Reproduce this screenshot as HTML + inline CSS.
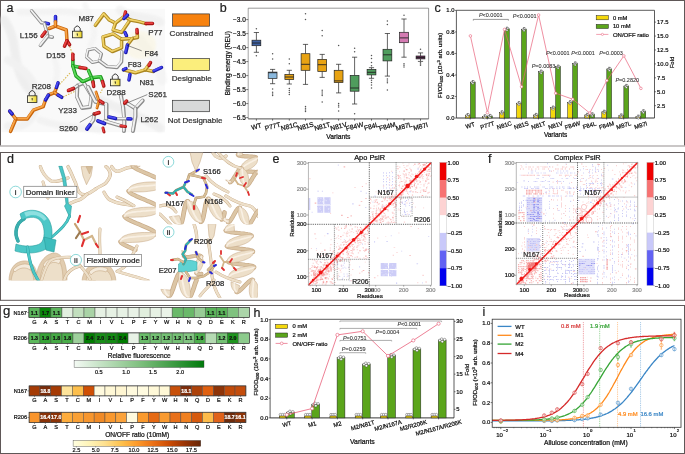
<!DOCTYPE html>
<html><head><meta charset="utf-8"><style>
html,body{margin:0;padding:0;background:#fff;}
body{width:685px;height:454px;overflow:hidden;}
svg{display:block;font-family:"Liberation Sans",sans-serif;will-change:transform;}
</style></head><body>
<svg width="685" height="454" viewBox="0 0 685 454">
<rect x="0.00" y="0.00" width="685.00" height="454.00" fill="#fff" stroke="none" stroke-width="0.6" />
<line x1="0.50" y1="0.00" x2="0.50" y2="146.00" stroke="#5e5757" stroke-width="1" />
<line x1="684.50" y1="0.00" x2="684.50" y2="146.00" stroke="#5e5757" stroke-width="1" />
<line x1="0.00" y1="0.50" x2="685.00" y2="0.50" stroke="#5e5757" stroke-width="1" />
<line x1="0.00" y1="146.00" x2="685.00" y2="146.00" stroke="#b9b4b4" stroke-width="1.4" />
<line x1="0.00" y1="152.50" x2="685.00" y2="152.50" stroke="#5e5757" stroke-width="1" />
<line x1="0.50" y1="152.00" x2="0.50" y2="300.50" stroke="#5e5757" stroke-width="1" />
<line x1="684.50" y1="152.00" x2="684.50" y2="300.50" stroke="#5e5757" stroke-width="1" />
<line x1="0.00" y1="300.30" x2="685.00" y2="300.30" stroke="#5e5757" stroke-width="1" />
<line x1="0.00" y1="305.50" x2="685.00" y2="305.50" stroke="#5e5757" stroke-width="1" />
<line x1="0.50" y1="305.00" x2="0.50" y2="454.00" stroke="#5e5757" stroke-width="1" />
<line x1="684.50" y1="305.00" x2="684.50" y2="454.00" stroke="#5e5757" stroke-width="1" />
<line x1="0.00" y1="453.50" x2="685.00" y2="453.50" stroke="#5e5757" stroke-width="1" />
<defs>
<linearGradient id="lockg" x1="0" x2="1" y1="0" y2="0"><stop offset="0" stop-color="#fffbe0"/><stop offset="0.5" stop-color="#f6ea80"/><stop offset="1" stop-color="#ecd424"/></linearGradient>
<filter id="blur1" x="-20%" y="-20%" width="140%" height="140%"><feGaussianBlur stdDeviation="1.2"/></filter>
</defs>
<rect x="1.5" y="8.8" width="163.5" height="123.4" fill="#f9f9f9"/>
<g opacity="0.55" fill="none" stroke-linecap="round" filter="url(#blur1)">
<path d="M4,20 C20,40 10,70 30,90" stroke="#e6e6e6" stroke-width="9"/>
<path d="M8,60 C25,70 40,80 35,110 C30,125 20,128 8,126" stroke="#ebebeb" stroke-width="8"/>
<path d="M20,12 C40,14 60,8 80,14" stroke="#efefef" stroke-width="7"/>
<path d="M120,10 C130,20 150,15 160,22" stroke="#ececec" stroke-width="9"/>
<path d="M140,40 C150,55 160,60 162,80" stroke="#f0f0f0" stroke-width="10"/>
<path d="M100,100 C120,110 140,115 160,128" stroke="#e8e8e8" stroke-width="9"/>
<path d="M40,120 C60,128 80,126 100,130" stroke="#ededed" stroke-width="7"/>
<path d="M85,5 C90,20 100,30 90,45" stroke="#f1f1f1" stroke-width="6"/>
<path d="M55,60 C60,75 55,90 45,100" stroke="#f0f0f0" stroke-width="6"/>
</g>
<ellipse cx="140" cy="45" rx="16" ry="14" fill="#fbf3cf" opacity="0.35" filter="url(#blur1)"/>
<line x1="69.80" y1="46.50" x2="72.60" y2="54.50" stroke="#d8b850" stroke-width="1.1" stroke-dasharray="1.5,1.3"/>
<line x1="59.50" y1="84.50" x2="70.50" y2="72.50" stroke="#d8b850" stroke-width="1.1" stroke-dasharray="1.5,1.3"/>
<line x1="63.00" y1="97.00" x2="74.50" y2="91.50" stroke="#d8b850" stroke-width="1.1" stroke-dasharray="1.5,1.3"/>
<line x1="103.50" y1="87.00" x2="100.50" y2="93.00" stroke="#d8b850" stroke-width="1.1" stroke-dasharray="1.5,1.3"/>
<polyline points="88.0,50.0 95.0,48.5 101.5,54.0 99.5,61.0 92.5,62.5 86.5,57.0 88.0,50.0" fill="none" stroke="#8c8c8c" stroke-width="3.1" stroke-linecap="round" stroke-linejoin="round"/>
<polyline points="88.0,50.0 95.0,48.5 101.5,54.0 99.5,61.0 92.5,62.5 86.5,57.0 88.0,50.0" fill="none" stroke="#f2f2f2" stroke-width="1.55" stroke-linecap="round" stroke-linejoin="round" transform="translate(-0.35,-0.35)"/>
<polyline points="99.5,61.0 107.0,66.5 117.0,67.5 121.5,62.0 122.0,52.0" fill="none" stroke="#8c8c8c" stroke-width="3.5" stroke-linecap="round" stroke-linejoin="round"/>
<polyline points="99.5,61.0 107.0,66.5 117.0,67.5 121.5,62.0 122.0,52.0" fill="none" stroke="#f2f2f2" stroke-width="1.75" stroke-linecap="round" stroke-linejoin="round" transform="translate(-0.35,-0.35)"/>
<polyline points="77.5,85.5 84.0,83.0 91.5,95.5 90.0,107.0 82.0,108.0 77.0,97.0 77.5,85.5" fill="none" stroke="#8c8c8c" stroke-width="3.8" stroke-linecap="round" stroke-linejoin="round"/>
<polyline points="77.5,85.5 84.0,83.0 91.5,95.5 90.0,107.0 82.0,108.0 77.0,97.0 77.5,85.5" fill="none" stroke="#f2f2f2" stroke-width="1.90" stroke-linecap="round" stroke-linejoin="round" transform="translate(-0.35,-0.35)"/>
<polyline points="77.5,86.0 73.5,88.5" fill="none" stroke="#8c8c8c" stroke-width="3.6" stroke-linecap="round" stroke-linejoin="round"/>
<polyline points="77.5,86.0 73.5,88.5" fill="none" stroke="#f2f2f2" stroke-width="1.80" stroke-linecap="round" stroke-linejoin="round" transform="translate(-0.35,-0.35)"/>
<polyline points="73.5,88.5 68.5,90.5" fill="none" stroke="#a81414" stroke-width="3.6" stroke-linecap="round" stroke-linejoin="round"/>
<polyline points="73.5,88.5 68.5,90.5" fill="none" stroke="#e84040" stroke-width="1.80" stroke-linecap="round" stroke-linejoin="round" transform="translate(-0.35,-0.35)"/>
<polyline points="88.2,87.3 95.5,101.8 106.4,104.2 106.4,118.8" fill="none" stroke="#8c8c8c" stroke-width="4.2" stroke-linecap="round" stroke-linejoin="round"/>
<polyline points="88.2,87.3 95.5,101.8 106.4,104.2 106.4,118.8" fill="none" stroke="#f2f2f2" stroke-width="2.10" stroke-linecap="round" stroke-linejoin="round" transform="translate(-0.35,-0.35)"/>
<polyline points="121.0,95.8 123.3,107.9 124.5,122.4 124.0,131.0" fill="none" stroke="#8c8c8c" stroke-width="4.0" stroke-linecap="round" stroke-linejoin="round"/>
<polyline points="121.0,95.8 123.3,107.9 124.5,122.4 124.0,131.0" fill="none" stroke="#f2f2f2" stroke-width="2.00" stroke-linecap="round" stroke-linejoin="round" transform="translate(-0.35,-0.35)"/>
<polyline points="125.8,102.4 135.5,108.5 142.7,100.6" fill="none" stroke="#8c8c8c" stroke-width="4.0" stroke-linecap="round" stroke-linejoin="round"/>
<polyline points="125.8,102.4 135.5,108.5 142.7,100.6" fill="none" stroke="#f2f2f2" stroke-width="2.00" stroke-linecap="round" stroke-linejoin="round" transform="translate(-0.35,-0.35)"/>
<polyline points="135.5,108.5 135.5,116.4 133.0,131.0" fill="none" stroke="#8c8c8c" stroke-width="4.0" stroke-linecap="round" stroke-linejoin="round"/>
<polyline points="135.5,108.5 135.5,116.4 133.0,131.0" fill="none" stroke="#f2f2f2" stroke-width="2.00" stroke-linecap="round" stroke-linejoin="round" transform="translate(-0.35,-0.35)"/>
<polyline points="94.2,114.0 93.6,120.0 90.0,125.0" fill="none" stroke="#8c8c8c" stroke-width="3.8" stroke-linecap="round" stroke-linejoin="round"/>
<polyline points="94.2,114.0 93.6,120.0 90.0,125.0" fill="none" stroke="#f2f2f2" stroke-width="1.90" stroke-linecap="round" stroke-linejoin="round" transform="translate(-0.35,-0.35)"/>
<polyline points="105.0,121.2 121.0,126.0" fill="none" stroke="#8c8c8c" stroke-width="3.8" stroke-linecap="round" stroke-linejoin="round"/>
<polyline points="105.0,121.2 121.0,126.0" fill="none" stroke="#f2f2f2" stroke-width="1.90" stroke-linecap="round" stroke-linejoin="round" transform="translate(-0.35,-0.35)"/>
<polyline points="116.0,118.8 128.0,118.8" fill="none" stroke="#8c8c8c" stroke-width="3.6" stroke-linecap="round" stroke-linejoin="round"/>
<polyline points="116.0,118.8 128.0,118.8" fill="none" stroke="#f2f2f2" stroke-width="1.80" stroke-linecap="round" stroke-linejoin="round" transform="translate(-0.35,-0.35)"/>
<polyline points="94.5,114.0 99.0,112.7" fill="none" stroke="#a81414" stroke-width="3.8" stroke-linecap="round" stroke-linejoin="round"/>
<polyline points="94.5,114.0 99.0,112.7" fill="none" stroke="#e84040" stroke-width="1.90" stroke-linecap="round" stroke-linejoin="round" transform="translate(-0.35,-0.35)"/>
<polyline points="90.0,125.0 87.0,129.0" fill="none" stroke="#1a1ab0" stroke-width="3.8" stroke-linecap="round" stroke-linejoin="round"/>
<polyline points="90.0,125.0 87.0,129.0" fill="none" stroke="#4848f4" stroke-width="1.90" stroke-linecap="round" stroke-linejoin="round" transform="translate(-0.35,-0.35)"/>
<polyline points="98.0,121.0 104.5,123.5" fill="none" stroke="#1a1ab0" stroke-width="3.8" stroke-linecap="round" stroke-linejoin="round"/>
<polyline points="98.0,121.0 104.5,123.5" fill="none" stroke="#4848f4" stroke-width="1.90" stroke-linecap="round" stroke-linejoin="round" transform="translate(-0.35,-0.35)"/>
<polyline points="109.0,117.0 115.5,118.5" fill="none" stroke="#1a1ab0" stroke-width="3.6" stroke-linecap="round" stroke-linejoin="round"/>
<polyline points="109.0,117.0 115.5,118.5" fill="none" stroke="#4848f4" stroke-width="1.80" stroke-linecap="round" stroke-linejoin="round" transform="translate(-0.35,-0.35)"/>
<polyline points="128.0,118.8 131.0,119.0" fill="none" stroke="#1a1ab0" stroke-width="3.6" stroke-linecap="round" stroke-linejoin="round"/>
<polyline points="128.0,118.8 131.0,119.0" fill="none" stroke="#4848f4" stroke-width="1.80" stroke-linecap="round" stroke-linejoin="round" transform="translate(-0.35,-0.35)"/>
<polyline points="121.0,126.0 125.5,126.5" fill="none" stroke="#a81414" stroke-width="3.2" stroke-linecap="round" stroke-linejoin="round"/>
<polyline points="121.0,126.0 125.5,126.5" fill="none" stroke="#e84040" stroke-width="1.60" stroke-linecap="round" stroke-linejoin="round" transform="translate(-0.35,-0.35)"/>
<polyline points="124.8,103.0 126.5,101.2" fill="none" stroke="#a81414" stroke-width="3.8" stroke-linecap="round" stroke-linejoin="round"/>
<polyline points="124.8,103.0 126.5,101.2" fill="none" stroke="#e84040" stroke-width="1.90" stroke-linecap="round" stroke-linejoin="round" transform="translate(-0.35,-0.35)"/>
<polyline points="103.0,128.0 104.0,132.0" fill="none" stroke="#a81414" stroke-width="3.0" stroke-linecap="round" stroke-linejoin="round"/>
<polyline points="103.0,128.0 104.0,132.0" fill="none" stroke="#e84040" stroke-width="1.50" stroke-linecap="round" stroke-linejoin="round" transform="translate(-0.35,-0.35)"/>
<polyline points="96.0,92.0 99.0,101.0 97.0,108.0" fill="none" stroke="#c8640a" stroke-width="2.8" stroke-linecap="round" stroke-linejoin="round"/>
<polyline points="96.0,92.0 99.0,101.0 97.0,108.0" fill="none" stroke="#f8a446" stroke-width="1.40" stroke-linecap="round" stroke-linejoin="round" transform="translate(-0.35,-0.35)"/>
<polyline points="100.0,101.0 103.0,103.0" fill="none" stroke="#a81414" stroke-width="3.5" stroke-linecap="round" stroke-linejoin="round"/>
<polyline points="100.0,101.0 103.0,103.0" fill="none" stroke="#e84040" stroke-width="1.75" stroke-linecap="round" stroke-linejoin="round" transform="translate(-0.35,-0.35)"/>
<polyline points="31.6,10.8 41.6,22.8 45.5,23.2" fill="none" stroke="#8c8c8c" stroke-width="3.5" stroke-linecap="round" stroke-linejoin="round"/>
<polyline points="31.6,10.8 41.6,22.8 45.5,23.2" fill="none" stroke="#f2f2f2" stroke-width="1.75" stroke-linecap="round" stroke-linejoin="round" transform="translate(-0.35,-0.35)"/>
<polyline points="45.5,23.2 48.5,23.8" fill="none" stroke="#1a1ab0" stroke-width="3.5" stroke-linecap="round" stroke-linejoin="round"/>
<polyline points="45.5,23.2 48.5,23.8" fill="none" stroke="#4848f4" stroke-width="1.75" stroke-linecap="round" stroke-linejoin="round" transform="translate(-0.35,-0.35)"/>
<polyline points="44.5,24.0 46.5,30.5 47.8,36.2 52.4,37.2" fill="none" stroke="#8c8c8c" stroke-width="3.5" stroke-linecap="round" stroke-linejoin="round"/>
<polyline points="44.5,24.0 46.5,30.5 47.8,36.2 52.4,37.2" fill="none" stroke="#f2f2f2" stroke-width="1.75" stroke-linecap="round" stroke-linejoin="round" transform="translate(-0.35,-0.35)"/>
<polyline points="47.8,36.2 40.4,45.5" fill="none" stroke="#8c8c8c" stroke-width="3.5" stroke-linecap="round" stroke-linejoin="round"/>
<polyline points="47.8,36.2 40.4,45.5" fill="none" stroke="#f2f2f2" stroke-width="1.75" stroke-linecap="round" stroke-linejoin="round" transform="translate(-0.35,-0.35)"/>
<polyline points="45.2,32.0 42.0,36.3" fill="none" stroke="#a81414" stroke-width="3.5" stroke-linecap="round" stroke-linejoin="round"/>
<polyline points="45.2,32.0 42.0,36.3" fill="none" stroke="#e84040" stroke-width="1.75" stroke-linecap="round" stroke-linejoin="round" transform="translate(-0.35,-0.35)"/>
<polyline points="49.3,28.5 55.5,26.2 66.3,30.0 67.0,40.8" fill="none" stroke="#c8640a" stroke-width="3.5" stroke-linecap="round" stroke-linejoin="round"/>
<polyline points="49.3,28.5 55.5,26.2 66.3,30.0 67.0,40.8" fill="none" stroke="#f8a446" stroke-width="1.75" stroke-linecap="round" stroke-linejoin="round" transform="translate(-0.35,-0.35)"/>
<polyline points="55.5,21.8 55.5,16.5" fill="none" stroke="#1a1ab0" stroke-width="3.5" stroke-linecap="round" stroke-linejoin="round"/>
<polyline points="55.5,21.8 55.5,16.5" fill="none" stroke="#4848f4" stroke-width="1.75" stroke-linecap="round" stroke-linejoin="round" transform="translate(-0.35,-0.35)"/>
<polyline points="55.5,26.2 55.5,21.8" fill="none" stroke="#c8640a" stroke-width="3.5" stroke-linecap="round" stroke-linejoin="round"/>
<polyline points="55.5,26.2 55.5,21.8" fill="none" stroke="#f8a446" stroke-width="1.75" stroke-linecap="round" stroke-linejoin="round" transform="translate(-0.35,-0.35)"/>
<polyline points="67.0,40.8 69.6,44.8" fill="none" stroke="#a81414" stroke-width="3.5" stroke-linecap="round" stroke-linejoin="round"/>
<polyline points="67.0,40.8 69.6,44.8" fill="none" stroke="#e84040" stroke-width="1.75" stroke-linecap="round" stroke-linejoin="round" transform="translate(-0.35,-0.35)"/>
<polyline points="67.0,40.8 64.5,46.2" fill="none" stroke="#a81414" stroke-width="3.5" stroke-linecap="round" stroke-linejoin="round"/>
<polyline points="67.0,40.8 64.5,46.2" fill="none" stroke="#e84040" stroke-width="1.75" stroke-linecap="round" stroke-linejoin="round" transform="translate(-0.35,-0.35)"/>
<polyline points="10.6,131.4 15.9,119.0 27.3,119.0 33.5,110.2 43.2,106.7 45.5,100.0" fill="none" stroke="#c8640a" stroke-width="3.5" stroke-linecap="round" stroke-linejoin="round"/>
<polyline points="10.6,131.4 15.9,119.0 27.3,119.0 33.5,110.2 43.2,106.7 45.5,100.0" fill="none" stroke="#f8a446" stroke-width="1.75" stroke-linecap="round" stroke-linejoin="round" transform="translate(-0.35,-0.35)"/>
<polyline points="48.5,95.0 54.6,92.6 56.5,87.5" fill="none" stroke="#c8640a" stroke-width="3.5" stroke-linecap="round" stroke-linejoin="round"/>
<polyline points="48.5,95.0 54.6,92.6 56.5,87.5" fill="none" stroke="#f8a446" stroke-width="1.75" stroke-linecap="round" stroke-linejoin="round" transform="translate(-0.35,-0.35)"/>
<polyline points="15.9,119.0 9.7,111.1" fill="none" stroke="#c8640a" stroke-width="3.5" stroke-linecap="round" stroke-linejoin="round"/>
<polyline points="15.9,119.0 9.7,111.1" fill="none" stroke="#f8a446" stroke-width="1.75" stroke-linecap="round" stroke-linejoin="round" transform="translate(-0.35,-0.35)"/>
<polyline points="12.2,114.0 9.7,111.1" fill="none" stroke="#1a1ab0" stroke-width="3.5" stroke-linecap="round" stroke-linejoin="round"/>
<polyline points="12.2,114.0 9.7,111.1" fill="none" stroke="#4848f4" stroke-width="1.75" stroke-linecap="round" stroke-linejoin="round" transform="translate(-0.35,-0.35)"/>
<polyline points="45.5,100.0 48.5,95.0" fill="none" stroke="#1a1ab0" stroke-width="3.5" stroke-linecap="round" stroke-linejoin="round"/>
<polyline points="45.5,100.0 48.5,95.0" fill="none" stroke="#4848f4" stroke-width="1.75" stroke-linecap="round" stroke-linejoin="round" transform="translate(-0.35,-0.35)"/>
<polyline points="56.5,87.5 58.1,82.9" fill="none" stroke="#1a1ab0" stroke-width="3.5" stroke-linecap="round" stroke-linejoin="round"/>
<polyline points="56.5,87.5 58.1,82.9" fill="none" stroke="#4848f4" stroke-width="1.75" stroke-linecap="round" stroke-linejoin="round" transform="translate(-0.35,-0.35)"/>
<polyline points="54.6,92.6 58.0,95.0" fill="none" stroke="#c8640a" stroke-width="3.5" stroke-linecap="round" stroke-linejoin="round"/>
<polyline points="54.6,92.6 58.0,95.0" fill="none" stroke="#f8a446" stroke-width="1.75" stroke-linecap="round" stroke-linejoin="round" transform="translate(-0.35,-0.35)"/>
<polyline points="58.0,95.0 61.7,97.3" fill="none" stroke="#1a1ab0" stroke-width="3.5" stroke-linecap="round" stroke-linejoin="round"/>
<polyline points="58.0,95.0 61.7,97.3" fill="none" stroke="#4848f4" stroke-width="1.75" stroke-linecap="round" stroke-linejoin="round" transform="translate(-0.35,-0.35)"/>
<polyline points="95.4,25.4 103.9,13.9 109.3,20.0 115.5,23.1" fill="none" stroke="#aa8620" stroke-width="3.5" stroke-linecap="round" stroke-linejoin="round"/>
<polyline points="95.4,25.4 103.9,13.9 109.3,20.0 115.5,23.1" fill="none" stroke="#f0d166" stroke-width="1.75" stroke-linecap="round" stroke-linejoin="round" transform="translate(-0.35,-0.35)"/>
<polyline points="115.5,23.1 113.2,30.0 121.6,32.4 130.1,20.0 124.7,16.2 115.5,23.1" fill="none" stroke="#aa8620" stroke-width="3.5" stroke-linecap="round" stroke-linejoin="round"/>
<polyline points="115.5,23.1 113.2,30.0 121.6,32.4 130.1,20.0 124.7,16.2 115.5,23.1" fill="none" stroke="#f0d166" stroke-width="1.75" stroke-linecap="round" stroke-linejoin="round" transform="translate(-0.35,-0.35)"/>
<polyline points="130.1,20.0 138.6,21.6 146.0,23.6" fill="none" stroke="#aa8620" stroke-width="3.5" stroke-linecap="round" stroke-linejoin="round"/>
<polyline points="130.1,20.0 138.6,21.6 146.0,23.6" fill="none" stroke="#f0d166" stroke-width="1.75" stroke-linecap="round" stroke-linejoin="round" transform="translate(-0.35,-0.35)"/>
<polyline points="146.0,23.6 152.5,23.5" fill="none" stroke="#a81414" stroke-width="3.5" stroke-linecap="round" stroke-linejoin="round"/>
<polyline points="146.0,23.6 152.5,23.5" fill="none" stroke="#e84040" stroke-width="1.75" stroke-linecap="round" stroke-linejoin="round" transform="translate(-0.35,-0.35)"/>
<polyline points="124.7,16.2 125.5,12.0" fill="none" stroke="#a81414" stroke-width="3.5" stroke-linecap="round" stroke-linejoin="round"/>
<polyline points="124.7,16.2 125.5,12.0" fill="none" stroke="#e84040" stroke-width="1.75" stroke-linecap="round" stroke-linejoin="round" transform="translate(-0.35,-0.35)"/>
<polyline points="124.0,18.5 127.5,15.2" fill="none" stroke="#1a1ab0" stroke-width="3.5" stroke-linecap="round" stroke-linejoin="round"/>
<polyline points="124.0,18.5 127.5,15.2" fill="none" stroke="#4848f4" stroke-width="1.75" stroke-linecap="round" stroke-linejoin="round" transform="translate(-0.35,-0.35)"/>
<polyline points="125.0,32.5 126.5,35.8" fill="none" stroke="#1a1ab0" stroke-width="3.5" stroke-linecap="round" stroke-linejoin="round"/>
<polyline points="125.0,32.5 126.5,35.8" fill="none" stroke="#4848f4" stroke-width="1.75" stroke-linecap="round" stroke-linejoin="round" transform="translate(-0.35,-0.35)"/>
<polyline points="103.1,37.0 113.2,33.9 121.6,39.3 121.6,47.8 112.4,51.6 103.9,46.2 103.1,37.0" fill="none" stroke="#aa8620" stroke-width="3.5" stroke-linecap="round" stroke-linejoin="round"/>
<polyline points="103.1,37.0 113.2,33.9 121.6,39.3 121.6,47.8 112.4,51.6 103.9,46.2 103.1,37.0" fill="none" stroke="#f0d166" stroke-width="1.75" stroke-linecap="round" stroke-linejoin="round" transform="translate(-0.35,-0.35)"/>
<polyline points="121.6,39.3 132.4,38.5 137.5,37.5 137.2,33.0" fill="none" stroke="#aa8620" stroke-width="3.5" stroke-linecap="round" stroke-linejoin="round"/>
<polyline points="121.6,39.3 132.4,38.5 137.5,37.5 137.2,33.0" fill="none" stroke="#f0d166" stroke-width="1.75" stroke-linecap="round" stroke-linejoin="round" transform="translate(-0.35,-0.35)"/>
<polyline points="137.2,33.0 137.0,29.5" fill="none" stroke="#a81414" stroke-width="3.5" stroke-linecap="round" stroke-linejoin="round"/>
<polyline points="137.2,33.0 137.0,29.5" fill="none" stroke="#e84040" stroke-width="1.75" stroke-linecap="round" stroke-linejoin="round" transform="translate(-0.35,-0.35)"/>
<polyline points="132.4,38.5 127.5,45.0" fill="none" stroke="#aa8620" stroke-width="3.5" stroke-linecap="round" stroke-linejoin="round"/>
<polyline points="132.4,38.5 127.5,45.0" fill="none" stroke="#f0d166" stroke-width="1.75" stroke-linecap="round" stroke-linejoin="round" transform="translate(-0.35,-0.35)"/>
<polyline points="127.5,45.0 125.8,52.5" fill="none" stroke="#1a1ab0" stroke-width="3.5" stroke-linecap="round" stroke-linejoin="round"/>
<polyline points="127.5,45.0 125.8,52.5" fill="none" stroke="#4848f4" stroke-width="1.75" stroke-linecap="round" stroke-linejoin="round" transform="translate(-0.35,-0.35)"/>
<polyline points="123.5,69.8 135.4,72.8 145.3,69.8 153.5,71.5" fill="none" stroke="#aa8620" stroke-width="3.5" stroke-linecap="round" stroke-linejoin="round"/>
<polyline points="123.5,69.8 135.4,72.8 145.3,69.8 153.5,71.5" fill="none" stroke="#f0d166" stroke-width="1.75" stroke-linecap="round" stroke-linejoin="round" transform="translate(-0.35,-0.35)"/>
<polyline points="154.0,71.0 161.5,67.5" fill="none" stroke="#1a1ab0" stroke-width="3.5" stroke-linecap="round" stroke-linejoin="round"/>
<polyline points="154.0,71.0 161.5,67.5" fill="none" stroke="#4848f4" stroke-width="1.75" stroke-linecap="round" stroke-linejoin="round" transform="translate(-0.35,-0.35)"/>
<polyline points="145.3,69.8 149.0,64.5" fill="none" stroke="#aa8620" stroke-width="3.5" stroke-linecap="round" stroke-linejoin="round"/>
<polyline points="145.3,69.8 149.0,64.5" fill="none" stroke="#f0d166" stroke-width="1.75" stroke-linecap="round" stroke-linejoin="round" transform="translate(-0.35,-0.35)"/>
<polyline points="149.0,65.5 150.5,62.5" fill="none" stroke="#a81414" stroke-width="3.5" stroke-linecap="round" stroke-linejoin="round"/>
<polyline points="149.0,65.5 150.5,62.5" fill="none" stroke="#e84040" stroke-width="1.75" stroke-linecap="round" stroke-linejoin="round" transform="translate(-0.35,-0.35)"/>
<polyline points="123.5,69.8 126.0,68.5" fill="none" stroke="#1a1ab0" stroke-width="3.5" stroke-linecap="round" stroke-linejoin="round"/>
<polyline points="123.5,69.8 126.0,68.5" fill="none" stroke="#4848f4" stroke-width="1.75" stroke-linecap="round" stroke-linejoin="round" transform="translate(-0.35,-0.35)"/>
<polyline points="130.0,74.5 129.0,80.0" fill="none" stroke="#1a1ab0" stroke-width="3.5" stroke-linecap="round" stroke-linejoin="round"/>
<polyline points="130.0,74.5 129.0,80.0" fill="none" stroke="#4848f4" stroke-width="1.75" stroke-linecap="round" stroke-linejoin="round" transform="translate(-0.35,-0.35)"/>
<polyline points="72.9,60.0 72.9,65.9 80.0,67.5" fill="none" stroke="#1a941a" stroke-width="3.5" stroke-linecap="round" stroke-linejoin="round"/>
<polyline points="72.9,60.0 72.9,65.9 80.0,67.5" fill="none" stroke="#58d858" stroke-width="1.75" stroke-linecap="round" stroke-linejoin="round" transform="translate(-0.35,-0.35)"/>
<polyline points="72.9,59.5 72.9,54.2" fill="none" stroke="#a81414" stroke-width="3.5" stroke-linecap="round" stroke-linejoin="round"/>
<polyline points="72.9,59.5 72.9,54.2" fill="none" stroke="#e84040" stroke-width="1.75" stroke-linecap="round" stroke-linejoin="round" transform="translate(-0.35,-0.35)"/>
<polyline points="80.0,67.5 86.0,68.5" fill="none" stroke="#a81414" stroke-width="3.5" stroke-linecap="round" stroke-linejoin="round"/>
<polyline points="80.0,67.5 86.0,68.5" fill="none" stroke="#e84040" stroke-width="1.75" stroke-linecap="round" stroke-linejoin="round" transform="translate(-0.35,-0.35)"/>
<polyline points="88.5,70.5 91.7,77.8 82.8,81.7 75.9,75.8 72.9,65.9" fill="none" stroke="#1a941a" stroke-width="3.5" stroke-linecap="round" stroke-linejoin="round"/>
<polyline points="88.5,70.5 91.7,77.8 82.8,81.7 75.9,75.8 72.9,65.9" fill="none" stroke="#58d858" stroke-width="1.75" stroke-linecap="round" stroke-linejoin="round" transform="translate(-0.35,-0.35)"/>
<polyline points="91.7,77.8 100.7,76.8 102.5,81.5" fill="none" stroke="#1a941a" stroke-width="3.5" stroke-linecap="round" stroke-linejoin="round"/>
<polyline points="91.7,77.8 100.7,76.8 102.5,81.5" fill="none" stroke="#58d858" stroke-width="1.75" stroke-linecap="round" stroke-linejoin="round" transform="translate(-0.35,-0.35)"/>
<polyline points="102.5,81.5 103.8,86.0" fill="none" stroke="#a81414" stroke-width="3.5" stroke-linecap="round" stroke-linejoin="round"/>
<polyline points="102.5,81.5 103.8,86.0" fill="none" stroke="#e84040" stroke-width="1.75" stroke-linecap="round" stroke-linejoin="round" transform="translate(-0.35,-0.35)"/>
<polyline points="91.7,77.8 93.0,82.0" fill="none" stroke="#1a941a" stroke-width="3.5" stroke-linecap="round" stroke-linejoin="round"/>
<polyline points="91.7,77.8 93.0,82.0" fill="none" stroke="#58d858" stroke-width="1.75" stroke-linecap="round" stroke-linejoin="round" transform="translate(-0.35,-0.35)"/>
<polyline points="93.0,82.0 93.7,86.5" fill="none" stroke="#a81414" stroke-width="3.5" stroke-linecap="round" stroke-linejoin="round"/>
<polyline points="93.0,82.0 93.7,86.5" fill="none" stroke="#e84040" stroke-width="1.75" stroke-linecap="round" stroke-linejoin="round" transform="translate(-0.35,-0.35)"/>
<path d="M74.30,31.20 L74.30,28.50 Q77.25,23.40 80.20,28.50 L80.20,31.20" fill="none" stroke="#222" stroke-width="0.9"/>
<rect x="72.50" y="31.20" width="9.50" height="6.60" fill="url(#lockg)" stroke="#222" stroke-width="0.8" />
<path d="M76.65,33.60 L77.85,33.60 L77.45,36.00 L77.05,36.00 Z" fill="#111"/>
<path d="M29.20,95.80 L29.20,93.10 Q32.15,88.00 35.10,93.10 L35.10,95.80" fill="none" stroke="#222" stroke-width="0.9"/>
<rect x="27.40" y="95.80" width="9.50" height="6.60" fill="url(#lockg)" stroke="#222" stroke-width="0.8" />
<path d="M31.55,98.20 L32.75,98.20 L32.35,100.60 L31.95,100.60 Z" fill="#111"/>
<path d="M112.30,79.20 L112.30,76.50 Q115.25,71.40 118.20,76.50 L118.20,79.20" fill="none" stroke="#222" stroke-width="0.9"/>
<rect x="110.50" y="79.20" width="9.50" height="6.60" fill="url(#lockg)" stroke="#222" stroke-width="0.8" />
<path d="M114.65,81.60 L115.85,81.60 L115.45,84.00 L115.05,84.00 Z" fill="#111"/>
<text x="19.80" y="38.20" font-size="8" text-anchor="start" fill="#333" stroke="#333" stroke-width="0.25">L156</text>
<text x="46.30" y="57.80" font-size="8" text-anchor="start" fill="#333" stroke="#333" stroke-width="0.25">D155</text>
<text x="78.50" y="20.80" font-size="8" text-anchor="start" fill="#333" stroke="#333" stroke-width="0.25">M87</text>
<text x="148.30" y="34.70" font-size="8" text-anchor="start" fill="#333" stroke="#333" stroke-width="0.25">P77</text>
<text x="144.50" y="56.20" font-size="8" text-anchor="start" fill="#333" stroke="#333" stroke-width="0.25">F84</text>
<text x="127.70" y="66.70" font-size="8" text-anchor="start" fill="#333" stroke="#333" stroke-width="0.25">F83</text>
<text x="139.50" y="84.70" font-size="8" text-anchor="start" fill="#333" stroke="#333" stroke-width="0.25">N81</text>
<text x="31.80" y="89.00" font-size="8" text-anchor="start" fill="#333" stroke="#333" stroke-width="0.25">R208</text>
<text x="106.60" y="95.40" font-size="8" text-anchor="start" fill="#333" stroke="#333" stroke-width="0.25">D288</text>
<text x="148.30" y="97.40" font-size="8" text-anchor="start" fill="#333" stroke="#333" stroke-width="0.25">S261</text>
<text x="58.20" y="112.80" font-size="8" text-anchor="start" fill="#333" stroke="#333" stroke-width="0.25">Y233</text>
<text x="140.40" y="122.30" font-size="8" text-anchor="start" fill="#333" stroke="#333" stroke-width="0.25">L262</text>
<text x="59.00" y="131.30" font-size="8" text-anchor="start" fill="#333" stroke="#333" stroke-width="0.25">S260</text>
<line x1="141.70" y1="50.80" x2="126.80" y2="45.20" stroke="#222" stroke-width="0.5" />
<line x1="147.30" y1="94.60" x2="127.50" y2="102.80" stroke="#222" stroke-width="0.5" />
<line x1="79.80" y1="122.40" x2="95.00" y2="113.50" stroke="#222" stroke-width="0.5" />
<text stroke="#222" stroke-width="0.22" x="6.60" y="12.00" font-size="12.5" text-anchor="start" fill="#222" >a</text>
<rect x="172.60" y="13.90" width="37.00" height="12.30" fill="#f7820f" stroke="#333" stroke-width="0.7" />
<rect x="172.60" y="58.60" width="37.00" height="11.80" fill="#fbee7c" stroke="#333" stroke-width="0.7" />
<rect x="172.60" y="100.30" width="37.00" height="11.40" fill="#d8d9d9" stroke="#333" stroke-width="0.7" />
<text stroke="#333" stroke-width="0.22" x="191.40" y="36.40" font-size="8.1" text-anchor="middle" fill="#333" >Constrained</text>
<text stroke="#333" stroke-width="0.22" x="191.70" y="80.90" font-size="8.0" text-anchor="middle" fill="#333" >Designable</text>
<text stroke="#333" stroke-width="0.22" x="195.10" y="122.80" font-size="8.0" text-anchor="middle" fill="#333" >Not Designable</text>
<text stroke="#222" stroke-width="0.22" x="219.80" y="11.90" font-size="12.5" text-anchor="start" fill="#222" >b</text>
<line x1="248.20" y1="8.20" x2="248.20" y2="118.90" stroke="#9a9a9a" stroke-width="0.9" />
<line x1="248.20" y1="8.20" x2="428.60" y2="8.20" stroke="#555" stroke-width="0.6" />
<line x1="428.60" y1="8.20" x2="428.60" y2="118.90" stroke="#555" stroke-width="0.6" />
<line x1="248.20" y1="118.90" x2="428.60" y2="118.90" stroke="#222" stroke-width="0.8" />
<line x1="246.20" y1="19.60" x2="248.20" y2="19.60" stroke="#222" stroke-width="0.6" />
<text stroke="#111" stroke-width="0.22" x="245.80" y="21.90" font-size="6.5" text-anchor="end" fill="#111" >−3.0</text>
<line x1="246.20" y1="33.60" x2="248.20" y2="33.60" stroke="#222" stroke-width="0.6" />
<text stroke="#111" stroke-width="0.22" x="245.80" y="35.90" font-size="6.5" text-anchor="end" fill="#111" >−3.5</text>
<line x1="246.20" y1="47.60" x2="248.20" y2="47.60" stroke="#222" stroke-width="0.6" />
<text stroke="#111" stroke-width="0.22" x="245.80" y="49.90" font-size="6.5" text-anchor="end" fill="#111" >−4.0</text>
<line x1="246.20" y1="61.60" x2="248.20" y2="61.60" stroke="#222" stroke-width="0.6" />
<text stroke="#111" stroke-width="0.22" x="245.80" y="63.90" font-size="6.5" text-anchor="end" fill="#111" >−4.5</text>
<line x1="246.20" y1="75.60" x2="248.20" y2="75.60" stroke="#222" stroke-width="0.6" />
<text stroke="#111" stroke-width="0.22" x="245.80" y="77.90" font-size="6.5" text-anchor="end" fill="#111" >−5.0</text>
<line x1="246.20" y1="89.60" x2="248.20" y2="89.60" stroke="#222" stroke-width="0.6" />
<text stroke="#111" stroke-width="0.22" x="245.80" y="91.90" font-size="6.5" text-anchor="end" fill="#111" >−5.5</text>
<line x1="246.20" y1="103.60" x2="248.20" y2="103.60" stroke="#222" stroke-width="0.6" />
<text stroke="#111" stroke-width="0.22" x="245.80" y="105.90" font-size="6.5" text-anchor="end" fill="#111" >−6.0</text>
<line x1="246.20" y1="117.60" x2="248.20" y2="117.60" stroke="#222" stroke-width="0.6" />
<text stroke="#111" stroke-width="0.22" x="245.80" y="119.90" font-size="6.5" text-anchor="end" fill="#111" >−6.5</text>
<text stroke="#111" stroke-width="0.22" x="230.20" y="63.20" font-size="6.6" text-anchor="middle" fill="#111" transform="rotate(-90 230.2 63.2)">Binding energy (REU)</text>
<line x1="256.40" y1="32.50" x2="256.40" y2="40.20" stroke="#222" stroke-width="0.7" />
<line x1="256.40" y1="45.70" x2="256.40" y2="52.30" stroke="#222" stroke-width="0.7" />
<line x1="253.80" y1="32.50" x2="259.00" y2="32.50" stroke="#222" stroke-width="0.7" />
<line x1="253.80" y1="52.30" x2="259.00" y2="52.30" stroke="#222" stroke-width="0.7" />
<rect x="252.00" y="40.20" width="8.80" height="5.50" fill="#3e62a5" stroke="#222" stroke-width="0.7" />
<line x1="252.00" y1="43.00" x2="260.80" y2="43.00" stroke="#222" stroke-width="0.9" />
<circle cx="256.40" cy="28.70" r="0.75" fill="#555" stroke="none" stroke-width="0"/>
<circle cx="256.40" cy="55.80" r="0.75" fill="#555" stroke="none" stroke-width="0"/>
<line x1="256.40" y1="118.90" x2="256.40" y2="120.70" stroke="#222" stroke-width="0.6" />
<text stroke="#111" stroke-width="0.22" x="256.40" y="128.7" font-size="6.7" text-anchor="middle" fill="#111" transform="rotate(-15 256.40 126.4)">WT</text>
<line x1="272.60" y1="69.40" x2="272.60" y2="72.10" stroke="#222" stroke-width="0.7" />
<line x1="272.60" y1="78.40" x2="272.60" y2="83.70" stroke="#222" stroke-width="0.7" />
<line x1="270.00" y1="69.40" x2="275.20" y2="69.40" stroke="#222" stroke-width="0.7" />
<line x1="270.00" y1="83.70" x2="275.20" y2="83.70" stroke="#222" stroke-width="0.7" />
<rect x="268.20" y="72.10" width="8.80" height="6.30" fill="#8bb9de" stroke="#222" stroke-width="0.7" />
<line x1="268.20" y1="72.70" x2="277.00" y2="72.70" stroke="#222" stroke-width="0.9" />
<circle cx="272.60" cy="53.70" r="0.75" fill="#555" stroke="none" stroke-width="0"/>
<circle cx="272.60" cy="59.00" r="0.75" fill="#555" stroke="none" stroke-width="0"/>
<circle cx="272.60" cy="89.00" r="0.75" fill="#555" stroke="none" stroke-width="0"/>
<circle cx="272.60" cy="92.30" r="0.75" fill="#555" stroke="none" stroke-width="0"/>
<circle cx="272.60" cy="94.00" r="0.75" fill="#555" stroke="none" stroke-width="0"/>
<circle cx="272.60" cy="95.60" r="0.75" fill="#555" stroke="none" stroke-width="0"/>
<line x1="272.60" y1="118.90" x2="272.60" y2="120.70" stroke="#222" stroke-width="0.6" />
<text stroke="#111" stroke-width="0.22" x="272.60" y="128.7" font-size="6.7" text-anchor="middle" fill="#111" transform="rotate(-15 272.60 126.4)">P77T</text>
<line x1="289.30" y1="70.30" x2="289.30" y2="74.40" stroke="#222" stroke-width="0.7" />
<line x1="289.30" y1="79.60" x2="289.30" y2="84.00" stroke="#222" stroke-width="0.7" />
<line x1="286.70" y1="70.30" x2="291.90" y2="70.30" stroke="#222" stroke-width="0.7" />
<line x1="286.70" y1="84.00" x2="291.90" y2="84.00" stroke="#222" stroke-width="0.7" />
<rect x="284.90" y="74.40" width="8.80" height="5.20" fill="#e8a313" stroke="#222" stroke-width="0.7" />
<line x1="284.90" y1="77.00" x2="293.70" y2="77.00" stroke="#222" stroke-width="0.9" />
<circle cx="289.30" cy="59.00" r="0.75" fill="#555" stroke="none" stroke-width="0"/>
<circle cx="289.30" cy="63.80" r="0.75" fill="#555" stroke="none" stroke-width="0"/>
<circle cx="289.30" cy="88.50" r="0.75" fill="#555" stroke="none" stroke-width="0"/>
<circle cx="289.30" cy="90.50" r="0.75" fill="#555" stroke="none" stroke-width="0"/>
<circle cx="289.30" cy="92.50" r="0.75" fill="#555" stroke="none" stroke-width="0"/>
<circle cx="289.30" cy="94.60" r="0.75" fill="#555" stroke="none" stroke-width="0"/>
<line x1="289.30" y1="118.90" x2="289.30" y2="120.70" stroke="#222" stroke-width="0.6" />
<text stroke="#111" stroke-width="0.22" x="289.30" y="128.7" font-size="6.7" text-anchor="middle" fill="#111" transform="rotate(-15 289.30 126.4)">N81C</text>
<line x1="305.50" y1="44.40" x2="305.50" y2="53.70" stroke="#222" stroke-width="0.7" />
<line x1="305.50" y1="70.30" x2="305.50" y2="84.40" stroke="#222" stroke-width="0.7" />
<line x1="302.90" y1="44.40" x2="308.10" y2="44.40" stroke="#222" stroke-width="0.7" />
<line x1="302.90" y1="84.40" x2="308.10" y2="84.40" stroke="#222" stroke-width="0.7" />
<rect x="301.10" y="53.70" width="8.80" height="16.60" fill="#e8a313" stroke="#222" stroke-width="0.7" />
<line x1="301.10" y1="64.30" x2="309.90" y2="64.30" stroke="#222" stroke-width="0.9" />
<circle cx="305.50" cy="13.80" r="0.75" fill="#555" stroke="none" stroke-width="0"/>
<circle cx="305.50" cy="19.50" r="0.75" fill="#555" stroke="none" stroke-width="0"/>
<circle cx="305.50" cy="106.60" r="0.75" fill="#555" stroke="none" stroke-width="0"/>
<circle cx="305.50" cy="108.20" r="0.75" fill="#555" stroke="none" stroke-width="0"/>
<circle cx="305.50" cy="110.00" r="0.75" fill="#555" stroke="none" stroke-width="0"/>
<circle cx="305.50" cy="111.40" r="0.75" fill="#555" stroke="none" stroke-width="0"/>
<line x1="305.50" y1="118.90" x2="305.50" y2="120.70" stroke="#222" stroke-width="0.6" />
<text stroke="#111" stroke-width="0.22" x="305.50" y="128.7" font-size="6.7" text-anchor="middle" fill="#111" transform="rotate(-15 305.50 126.4)">N81S</text>
<line x1="322.20" y1="54.40" x2="322.20" y2="59.40" stroke="#222" stroke-width="0.7" />
<line x1="322.20" y1="71.40" x2="322.20" y2="77.40" stroke="#222" stroke-width="0.7" />
<line x1="319.60" y1="54.40" x2="324.80" y2="54.40" stroke="#222" stroke-width="0.7" />
<line x1="319.60" y1="77.40" x2="324.80" y2="77.40" stroke="#222" stroke-width="0.7" />
<rect x="317.80" y="59.40" width="8.80" height="12.00" fill="#e8a313" stroke="#222" stroke-width="0.7" />
<line x1="317.80" y1="64.70" x2="326.60" y2="64.70" stroke="#222" stroke-width="0.9" />
<circle cx="322.20" cy="30.60" r="0.75" fill="#555" stroke="none" stroke-width="0"/>
<circle cx="322.20" cy="35.80" r="0.75" fill="#555" stroke="none" stroke-width="0"/>
<circle cx="322.20" cy="90.20" r="0.75" fill="#555" stroke="none" stroke-width="0"/>
<circle cx="322.20" cy="92.00" r="0.75" fill="#555" stroke="none" stroke-width="0"/>
<circle cx="322.20" cy="94.00" r="0.75" fill="#555" stroke="none" stroke-width="0"/>
<circle cx="322.20" cy="95.50" r="0.75" fill="#555" stroke="none" stroke-width="0"/>
<circle cx="322.20" cy="102.00" r="0.75" fill="#555" stroke="none" stroke-width="0"/>
<line x1="322.20" y1="118.90" x2="322.20" y2="120.70" stroke="#222" stroke-width="0.6" />
<text stroke="#111" stroke-width="0.22" x="322.20" y="128.7" font-size="6.7" text-anchor="middle" fill="#111" transform="rotate(-15 322.20 126.4)">N81T</text>
<line x1="338.60" y1="64.30" x2="338.60" y2="70.30" stroke="#222" stroke-width="0.7" />
<line x1="338.60" y1="82.60" x2="338.60" y2="92.90" stroke="#222" stroke-width="0.7" />
<line x1="336.00" y1="64.30" x2="341.20" y2="64.30" stroke="#222" stroke-width="0.7" />
<line x1="336.00" y1="92.90" x2="341.20" y2="92.90" stroke="#222" stroke-width="0.7" />
<rect x="334.20" y="70.30" width="8.80" height="12.30" fill="#e8a313" stroke="#222" stroke-width="0.7" />
<line x1="334.20" y1="80.90" x2="343.00" y2="80.90" stroke="#222" stroke-width="0.9" />
<circle cx="338.60" cy="45.60" r="0.75" fill="#555" stroke="none" stroke-width="0"/>
<circle cx="338.60" cy="103.40" r="0.75" fill="#555" stroke="none" stroke-width="0"/>
<circle cx="338.60" cy="105.20" r="0.75" fill="#555" stroke="none" stroke-width="0"/>
<circle cx="338.60" cy="107.00" r="0.75" fill="#555" stroke="none" stroke-width="0"/>
<circle cx="338.60" cy="111.00" r="0.75" fill="#555" stroke="none" stroke-width="0"/>
<line x1="338.60" y1="118.90" x2="338.60" y2="120.70" stroke="#222" stroke-width="0.6" />
<text stroke="#111" stroke-width="0.22" x="338.60" y="128.7" font-size="6.7" text-anchor="middle" fill="#111" transform="rotate(-15 338.60 126.4)">N81V</text>
<line x1="354.60" y1="57.20" x2="354.60" y2="75.40" stroke="#222" stroke-width="0.7" />
<line x1="354.60" y1="91.20" x2="354.60" y2="104.00" stroke="#222" stroke-width="0.7" />
<line x1="352.00" y1="57.20" x2="357.20" y2="57.20" stroke="#222" stroke-width="0.7" />
<line x1="352.00" y1="104.00" x2="357.20" y2="104.00" stroke="#222" stroke-width="0.7" />
<rect x="350.20" y="75.40" width="8.80" height="15.80" fill="#4f9d5d" stroke="#222" stroke-width="0.7" />
<line x1="350.20" y1="88.00" x2="359.00" y2="88.00" stroke="#222" stroke-width="0.9" />
<circle cx="354.60" cy="48.30" r="0.75" fill="#555" stroke="none" stroke-width="0"/>
<circle cx="354.60" cy="51.70" r="0.75" fill="#555" stroke="none" stroke-width="0"/>
<circle cx="354.60" cy="113.70" r="0.75" fill="#555" stroke="none" stroke-width="0"/>
<line x1="354.60" y1="118.90" x2="354.60" y2="120.70" stroke="#222" stroke-width="0.6" />
<text stroke="#111" stroke-width="0.22" x="354.60" y="128.7" font-size="6.7" text-anchor="middle" fill="#111" transform="rotate(-15 354.60 126.4)">F84W</text>
<line x1="371.50" y1="67.70" x2="371.50" y2="69.40" stroke="#222" stroke-width="0.7" />
<line x1="371.50" y1="74.90" x2="371.50" y2="78.30" stroke="#222" stroke-width="0.7" />
<line x1="368.90" y1="67.70" x2="374.10" y2="67.70" stroke="#222" stroke-width="0.7" />
<line x1="368.90" y1="78.30" x2="374.10" y2="78.30" stroke="#222" stroke-width="0.7" />
<rect x="367.10" y="69.40" width="8.80" height="5.50" fill="#4f9d5d" stroke="#222" stroke-width="0.7" />
<line x1="367.10" y1="72.30" x2="375.90" y2="72.30" stroke="#222" stroke-width="0.9" />
<circle cx="371.50" cy="55.50" r="0.75" fill="#555" stroke="none" stroke-width="0"/>
<circle cx="371.50" cy="58.50" r="0.75" fill="#555" stroke="none" stroke-width="0"/>
<circle cx="371.50" cy="62.50" r="0.75" fill="#555" stroke="none" stroke-width="0"/>
<circle cx="371.50" cy="65.70" r="0.75" fill="#555" stroke="none" stroke-width="0"/>
<circle cx="371.50" cy="80.30" r="0.75" fill="#555" stroke="none" stroke-width="0"/>
<circle cx="371.50" cy="82.50" r="0.75" fill="#555" stroke="none" stroke-width="0"/>
<circle cx="371.50" cy="85.00" r="0.75" fill="#555" stroke="none" stroke-width="0"/>
<circle cx="371.50" cy="88.00" r="0.75" fill="#555" stroke="none" stroke-width="0"/>
<line x1="371.50" y1="118.90" x2="371.50" y2="120.70" stroke="#222" stroke-width="0.6" />
<text stroke="#111" stroke-width="0.22" x="371.50" y="128.7" font-size="6.7" text-anchor="middle" fill="#111" transform="rotate(-15 371.50 126.4)">F84L</text>
<line x1="387.40" y1="33.50" x2="387.40" y2="49.30" stroke="#222" stroke-width="0.7" />
<line x1="387.40" y1="60.90" x2="387.40" y2="76.10" stroke="#222" stroke-width="0.7" />
<line x1="384.80" y1="33.50" x2="390.00" y2="33.50" stroke="#222" stroke-width="0.7" />
<line x1="384.80" y1="76.10" x2="390.00" y2="76.10" stroke="#222" stroke-width="0.7" />
<rect x="383.00" y="49.30" width="8.80" height="11.60" fill="#4f9d5d" stroke="#222" stroke-width="0.7" />
<line x1="383.00" y1="54.80" x2="391.80" y2="54.80" stroke="#222" stroke-width="0.9" />
<circle cx="387.40" cy="20.90" r="0.75" fill="#555" stroke="none" stroke-width="0"/>
<circle cx="387.40" cy="24.50" r="0.75" fill="#555" stroke="none" stroke-width="0"/>
<circle cx="387.40" cy="79.00" r="0.75" fill="#555" stroke="none" stroke-width="0"/>
<circle cx="387.40" cy="81.00" r="0.75" fill="#555" stroke="none" stroke-width="0"/>
<circle cx="387.40" cy="82.70" r="0.75" fill="#555" stroke="none" stroke-width="0"/>
<circle cx="387.40" cy="90.00" r="0.75" fill="#555" stroke="none" stroke-width="0"/>
<line x1="387.40" y1="118.90" x2="387.40" y2="120.70" stroke="#222" stroke-width="0.6" />
<text stroke="#111" stroke-width="0.22" x="387.40" y="128.7" font-size="6.7" text-anchor="middle" fill="#111" transform="rotate(-15 387.40 126.4)">F84M</text>
<line x1="404.00" y1="19.00" x2="404.00" y2="32.30" stroke="#222" stroke-width="0.7" />
<line x1="404.00" y1="42.70" x2="404.00" y2="57.20" stroke="#222" stroke-width="0.7" />
<line x1="401.40" y1="19.00" x2="406.60" y2="19.00" stroke="#222" stroke-width="0.7" />
<line x1="401.40" y1="57.20" x2="406.60" y2="57.20" stroke="#222" stroke-width="0.7" />
<rect x="399.60" y="32.30" width="8.80" height="10.40" fill="#d47bb2" stroke="#222" stroke-width="0.7" />
<line x1="399.60" y1="37.90" x2="408.40" y2="37.90" stroke="#222" stroke-width="0.9" />
<circle cx="404.00" cy="15.30" r="0.75" fill="#555" stroke="none" stroke-width="0"/>
<circle cx="404.00" cy="63.80" r="0.75" fill="#555" stroke="none" stroke-width="0"/>
<circle cx="404.00" cy="65.30" r="0.75" fill="#555" stroke="none" stroke-width="0"/>
<circle cx="404.00" cy="66.90" r="0.75" fill="#555" stroke="none" stroke-width="0"/>
<line x1="404.00" y1="118.90" x2="404.00" y2="120.70" stroke="#222" stroke-width="0.6" />
<text stroke="#111" stroke-width="0.22" x="404.00" y="128.7" font-size="6.7" text-anchor="middle" fill="#111" transform="rotate(-15 404.00 126.4)">M87L</text>
<line x1="420.50" y1="52.90" x2="420.50" y2="56.00" stroke="#222" stroke-width="0.7" />
<line x1="420.50" y1="58.90" x2="420.50" y2="61.40" stroke="#222" stroke-width="0.7" />
<line x1="417.90" y1="52.90" x2="423.10" y2="52.90" stroke="#222" stroke-width="0.7" />
<line x1="417.90" y1="61.40" x2="423.10" y2="61.40" stroke="#222" stroke-width="0.7" />
<rect x="416.10" y="56.00" width="8.80" height="2.90" fill="#6d2b5c" stroke="#222" stroke-width="0.7" />
<line x1="416.10" y1="57.50" x2="424.90" y2="57.50" stroke="#222" stroke-width="0.9" />
<circle cx="420.50" cy="49.30" r="0.75" fill="#555" stroke="none" stroke-width="0"/>
<circle cx="420.50" cy="62.80" r="0.75" fill="#555" stroke="none" stroke-width="0"/>
<circle cx="420.50" cy="64.00" r="0.75" fill="#555" stroke="none" stroke-width="0"/>
<circle cx="420.50" cy="65.20" r="0.75" fill="#555" stroke="none" stroke-width="0"/>
<line x1="420.50" y1="118.90" x2="420.50" y2="120.70" stroke="#222" stroke-width="0.6" />
<text stroke="#111" stroke-width="0.22" x="420.50" y="128.7" font-size="6.7" text-anchor="middle" fill="#111" transform="rotate(-15 420.50 126.4)">M87I</text>
<text stroke="#111" stroke-width="0.22" x="338.30" y="138.60" font-size="6.75" text-anchor="middle" fill="#111" >Variants</text>
<text stroke="#222" stroke-width="0.22" x="434.60" y="12.30" font-size="12.5" text-anchor="start" fill="#222" >c</text>
<line x1="456.40" y1="10.30" x2="654.50" y2="10.30" stroke="#333" stroke-width="0.8" />
<line x1="456.40" y1="10.30" x2="456.40" y2="118.00" stroke="#333" stroke-width="0.8" />
<line x1="654.50" y1="10.30" x2="654.50" y2="118.00" stroke="#333" stroke-width="0.8" />
<line x1="456.40" y1="118.00" x2="654.50" y2="118.00" stroke="#222" stroke-width="0.9" />
<line x1="454.90" y1="118.10" x2="456.40" y2="118.10" stroke="#222" stroke-width="0.6" />
<text stroke="#111" stroke-width="0.22" x="454.40" y="120.10" font-size="5.8" text-anchor="end" fill="#111" >0.0</text>
<line x1="454.90" y1="96.56" x2="456.40" y2="96.56" stroke="#222" stroke-width="0.6" />
<text stroke="#111" stroke-width="0.22" x="454.40" y="98.56" font-size="5.8" text-anchor="end" fill="#111" >0.2</text>
<line x1="454.90" y1="75.02" x2="456.40" y2="75.02" stroke="#222" stroke-width="0.6" />
<text stroke="#111" stroke-width="0.22" x="454.40" y="77.02" font-size="5.8" text-anchor="end" fill="#111" >0.4</text>
<line x1="454.90" y1="53.48" x2="456.40" y2="53.48" stroke="#222" stroke-width="0.6" />
<text stroke="#111" stroke-width="0.22" x="454.40" y="55.48" font-size="5.8" text-anchor="end" fill="#111" >0.6</text>
<line x1="454.90" y1="31.94" x2="456.40" y2="31.94" stroke="#222" stroke-width="0.6" />
<text stroke="#111" stroke-width="0.22" x="454.40" y="33.94" font-size="5.8" text-anchor="end" fill="#111" >0.8</text>
<line x1="454.90" y1="10.40" x2="456.40" y2="10.40" stroke="#222" stroke-width="0.6" />
<text stroke="#111" stroke-width="0.22" x="454.40" y="12.40" font-size="5.8" text-anchor="end" fill="#111" >1.0</text>
<line x1="654.50" y1="105.67" x2="656.00" y2="105.67" stroke="#222" stroke-width="0.6" />
<text stroke="#111" stroke-width="0.22" x="657.10" y="107.67" font-size="5.8" text-anchor="start" fill="#111" >2.5</text>
<line x1="654.50" y1="91.75" x2="656.00" y2="91.75" stroke="#222" stroke-width="0.6" />
<text stroke="#111" stroke-width="0.22" x="657.10" y="93.75" font-size="5.8" text-anchor="start" fill="#111" >5.0</text>
<line x1="654.50" y1="77.82" x2="656.00" y2="77.82" stroke="#222" stroke-width="0.6" />
<text stroke="#111" stroke-width="0.22" x="657.10" y="79.82" font-size="5.8" text-anchor="start" fill="#111" >7.5</text>
<line x1="654.50" y1="63.90" x2="656.00" y2="63.90" stroke="#222" stroke-width="0.6" />
<text stroke="#111" stroke-width="0.22" x="657.10" y="65.90" font-size="5.8" text-anchor="start" fill="#111" >10.0</text>
<line x1="654.50" y1="49.97" x2="656.00" y2="49.97" stroke="#222" stroke-width="0.6" />
<text stroke="#111" stroke-width="0.22" x="657.10" y="51.97" font-size="5.8" text-anchor="start" fill="#111" >12.5</text>
<line x1="654.50" y1="36.05" x2="656.00" y2="36.05" stroke="#222" stroke-width="0.6" />
<text stroke="#111" stroke-width="0.22" x="657.10" y="38.05" font-size="5.8" text-anchor="start" fill="#111" >15.0</text>
<line x1="654.50" y1="22.12" x2="656.00" y2="22.12" stroke="#222" stroke-width="0.6" />
<text stroke="#111" stroke-width="0.22" x="657.10" y="24.12" font-size="5.8" text-anchor="start" fill="#111" >17.5</text>
<text stroke="#111" stroke-width="0.22" x="442" y="65.4" font-size="5.8" text-anchor="middle" fill="#111" transform="rotate(-90 442 65.4)">FI/OD<tspan font-size="4.1" dy="1.3">600</tspan><tspan dy="-1.3"> (10×</tspan><tspan font-size="4.1" dy="-2.2">3</tspan><tspan dy="2.2"> arb. units)</tspan></text>
<text stroke="#111" stroke-width="0.22" x="673.50" y="62.50" font-size="6" text-anchor="middle" fill="#111" transform="rotate(-90 673.5 62.5)">Fold</text>
<rect x="465.40" y="115.10" width="4.60" height="2.90" fill="#f4d80c" stroke="#222" stroke-width="0.5" />
<rect x="470.40" y="82.10" width="4.80" height="35.90" fill="#5ba51b" stroke="#222" stroke-width="0.5" />
<line x1="467.70" y1="113.50" x2="467.70" y2="116.30" stroke="#222" stroke-width="0.5" />
<line x1="466.70" y1="113.50" x2="468.70" y2="113.50" stroke="#222" stroke-width="0.5" />
<circle cx="466.80" cy="115.50" r="1.00" fill="#fff" stroke="#333" stroke-width="0.4"/>
<circle cx="468.60" cy="114.60" r="1.00" fill="#fff" stroke="#333" stroke-width="0.4"/>
<circle cx="467.80" cy="116.60" r="1.00" fill="#fff" stroke="#333" stroke-width="0.4"/>
<line x1="472.80" y1="80.50" x2="472.80" y2="83.30" stroke="#222" stroke-width="0.5" />
<line x1="471.80" y1="80.50" x2="473.80" y2="80.50" stroke="#222" stroke-width="0.5" />
<circle cx="471.90" cy="82.50" r="1.00" fill="#fff" stroke="#333" stroke-width="0.4"/>
<circle cx="473.70" cy="81.60" r="1.00" fill="#fff" stroke="#333" stroke-width="0.4"/>
<circle cx="472.90" cy="83.60" r="1.00" fill="#fff" stroke="#333" stroke-width="0.4"/>
<line x1="470.20" y1="118.00" x2="470.20" y2="119.50" stroke="#222" stroke-width="0.6" />
<text stroke="#111" stroke-width="0.22" x="470.20" y="127.4" font-size="6.0" text-anchor="middle" fill="#111" transform="rotate(-17 470.20 125.3)">WT</text>
<rect x="482.45" y="116.40" width="4.60" height="1.60" fill="#f4d80c" stroke="#222" stroke-width="0.5" />
<rect x="487.45" y="116.00" width="4.80" height="2.00" fill="#5ba51b" stroke="#222" stroke-width="0.5" />
<line x1="484.75" y1="114.80" x2="484.75" y2="117.60" stroke="#222" stroke-width="0.5" />
<line x1="483.75" y1="114.80" x2="485.75" y2="114.80" stroke="#222" stroke-width="0.5" />
<circle cx="483.85" cy="116.80" r="1.00" fill="#fff" stroke="#333" stroke-width="0.4"/>
<circle cx="485.65" cy="115.90" r="1.00" fill="#fff" stroke="#333" stroke-width="0.4"/>
<circle cx="484.85" cy="117.90" r="1.00" fill="#fff" stroke="#333" stroke-width="0.4"/>
<line x1="489.85" y1="114.40" x2="489.85" y2="117.20" stroke="#222" stroke-width="0.5" />
<line x1="488.85" y1="114.40" x2="490.85" y2="114.40" stroke="#222" stroke-width="0.5" />
<circle cx="488.95" cy="116.40" r="1.00" fill="#fff" stroke="#333" stroke-width="0.4"/>
<circle cx="490.75" cy="115.50" r="1.00" fill="#fff" stroke="#333" stroke-width="0.4"/>
<circle cx="489.95" cy="117.50" r="1.00" fill="#fff" stroke="#333" stroke-width="0.4"/>
<line x1="487.25" y1="118.00" x2="487.25" y2="119.50" stroke="#222" stroke-width="0.6" />
<text stroke="#111" stroke-width="0.22" x="487.25" y="127.4" font-size="6.0" text-anchor="middle" fill="#111" transform="rotate(-17 487.25 125.3)">P77T</text>
<rect x="499.50" y="112.40" width="4.60" height="5.60" fill="#f4d80c" stroke="#222" stroke-width="0.5" />
<rect x="504.50" y="28.80" width="4.80" height="89.20" fill="#5ba51b" stroke="#222" stroke-width="0.5" />
<line x1="501.80" y1="110.80" x2="501.80" y2="113.60" stroke="#222" stroke-width="0.5" />
<line x1="500.80" y1="110.80" x2="502.80" y2="110.80" stroke="#222" stroke-width="0.5" />
<circle cx="500.90" cy="112.80" r="1.00" fill="#fff" stroke="#333" stroke-width="0.4"/>
<circle cx="502.70" cy="111.90" r="1.00" fill="#fff" stroke="#333" stroke-width="0.4"/>
<circle cx="501.90" cy="113.90" r="1.00" fill="#fff" stroke="#333" stroke-width="0.4"/>
<line x1="506.90" y1="27.20" x2="506.90" y2="30.00" stroke="#222" stroke-width="0.5" />
<line x1="505.90" y1="27.20" x2="507.90" y2="27.20" stroke="#222" stroke-width="0.5" />
<circle cx="506.00" cy="29.20" r="1.00" fill="#fff" stroke="#333" stroke-width="0.4"/>
<circle cx="507.80" cy="28.30" r="1.00" fill="#fff" stroke="#333" stroke-width="0.4"/>
<circle cx="507.00" cy="30.30" r="1.00" fill="#fff" stroke="#333" stroke-width="0.4"/>
<line x1="504.30" y1="118.00" x2="504.30" y2="119.50" stroke="#222" stroke-width="0.6" />
<text stroke="#111" stroke-width="0.22" x="504.30" y="127.4" font-size="6.0" text-anchor="middle" fill="#111" transform="rotate(-17 504.30 125.3)">N81C</text>
<rect x="516.55" y="103.20" width="4.60" height="14.80" fill="#f4d80c" stroke="#222" stroke-width="0.5" />
<rect x="521.55" y="29.20" width="4.80" height="88.80" fill="#5ba51b" stroke="#222" stroke-width="0.5" />
<line x1="518.85" y1="101.60" x2="518.85" y2="104.40" stroke="#222" stroke-width="0.5" />
<line x1="517.85" y1="101.60" x2="519.85" y2="101.60" stroke="#222" stroke-width="0.5" />
<circle cx="517.95" cy="103.60" r="1.00" fill="#fff" stroke="#333" stroke-width="0.4"/>
<circle cx="519.75" cy="102.70" r="1.00" fill="#fff" stroke="#333" stroke-width="0.4"/>
<circle cx="518.95" cy="104.70" r="1.00" fill="#fff" stroke="#333" stroke-width="0.4"/>
<line x1="523.95" y1="27.60" x2="523.95" y2="30.40" stroke="#222" stroke-width="0.5" />
<line x1="522.95" y1="27.60" x2="524.95" y2="27.60" stroke="#222" stroke-width="0.5" />
<circle cx="523.05" cy="29.60" r="1.00" fill="#fff" stroke="#333" stroke-width="0.4"/>
<circle cx="524.85" cy="28.70" r="1.00" fill="#fff" stroke="#333" stroke-width="0.4"/>
<circle cx="524.05" cy="30.70" r="1.00" fill="#fff" stroke="#333" stroke-width="0.4"/>
<line x1="521.35" y1="118.00" x2="521.35" y2="119.50" stroke="#222" stroke-width="0.6" />
<text stroke="#111" stroke-width="0.22" x="521.35" y="127.4" font-size="6.0" text-anchor="middle" fill="#111" transform="rotate(-17 521.35 125.3)">N81S</text>
<rect x="533.60" y="115.00" width="4.60" height="3.00" fill="#f4d80c" stroke="#222" stroke-width="0.5" />
<rect x="538.60" y="71.70" width="4.80" height="46.30" fill="#5ba51b" stroke="#222" stroke-width="0.5" />
<line x1="535.90" y1="113.40" x2="535.90" y2="116.20" stroke="#222" stroke-width="0.5" />
<line x1="534.90" y1="113.40" x2="536.90" y2="113.40" stroke="#222" stroke-width="0.5" />
<circle cx="535.00" cy="115.40" r="1.00" fill="#fff" stroke="#333" stroke-width="0.4"/>
<circle cx="536.80" cy="114.50" r="1.00" fill="#fff" stroke="#333" stroke-width="0.4"/>
<circle cx="536.00" cy="116.50" r="1.00" fill="#fff" stroke="#333" stroke-width="0.4"/>
<line x1="541.00" y1="70.10" x2="541.00" y2="72.90" stroke="#222" stroke-width="0.5" />
<line x1="540.00" y1="70.10" x2="542.00" y2="70.10" stroke="#222" stroke-width="0.5" />
<circle cx="540.10" cy="72.10" r="1.00" fill="#fff" stroke="#333" stroke-width="0.4"/>
<circle cx="541.90" cy="71.20" r="1.00" fill="#fff" stroke="#333" stroke-width="0.4"/>
<circle cx="541.10" cy="73.20" r="1.00" fill="#fff" stroke="#333" stroke-width="0.4"/>
<line x1="538.40" y1="118.00" x2="538.40" y2="119.50" stroke="#222" stroke-width="0.6" />
<text stroke="#111" stroke-width="0.22" x="538.40" y="127.4" font-size="6.0" text-anchor="middle" fill="#111" transform="rotate(-17 538.40 125.3)">N81T</text>
<rect x="550.65" y="107.70" width="4.60" height="10.30" fill="#f4d80c" stroke="#222" stroke-width="0.5" />
<rect x="555.65" y="66.70" width="4.80" height="51.30" fill="#5ba51b" stroke="#222" stroke-width="0.5" />
<line x1="552.95" y1="106.10" x2="552.95" y2="108.90" stroke="#222" stroke-width="0.5" />
<line x1="551.95" y1="106.10" x2="553.95" y2="106.10" stroke="#222" stroke-width="0.5" />
<circle cx="552.05" cy="108.10" r="1.00" fill="#fff" stroke="#333" stroke-width="0.4"/>
<circle cx="553.85" cy="107.20" r="1.00" fill="#fff" stroke="#333" stroke-width="0.4"/>
<circle cx="553.05" cy="109.20" r="1.00" fill="#fff" stroke="#333" stroke-width="0.4"/>
<line x1="558.05" y1="65.10" x2="558.05" y2="67.90" stroke="#222" stroke-width="0.5" />
<line x1="557.05" y1="65.10" x2="559.05" y2="65.10" stroke="#222" stroke-width="0.5" />
<circle cx="557.15" cy="67.10" r="1.00" fill="#fff" stroke="#333" stroke-width="0.4"/>
<circle cx="558.95" cy="66.20" r="1.00" fill="#fff" stroke="#333" stroke-width="0.4"/>
<circle cx="558.15" cy="68.20" r="1.00" fill="#fff" stroke="#333" stroke-width="0.4"/>
<line x1="555.45" y1="118.00" x2="555.45" y2="119.50" stroke="#222" stroke-width="0.6" />
<text stroke="#111" stroke-width="0.22" x="555.45" y="127.4" font-size="6.0" text-anchor="middle" fill="#111" transform="rotate(-17 555.45 125.3)">N81V</text>
<rect x="567.70" y="102.30" width="4.60" height="15.70" fill="#f4d80c" stroke="#222" stroke-width="0.5" />
<rect x="572.70" y="63.50" width="4.80" height="54.50" fill="#5ba51b" stroke="#222" stroke-width="0.5" />
<line x1="570.00" y1="100.70" x2="570.00" y2="103.50" stroke="#222" stroke-width="0.5" />
<line x1="569.00" y1="100.70" x2="571.00" y2="100.70" stroke="#222" stroke-width="0.5" />
<circle cx="569.10" cy="102.70" r="1.00" fill="#fff" stroke="#333" stroke-width="0.4"/>
<circle cx="570.90" cy="101.80" r="1.00" fill="#fff" stroke="#333" stroke-width="0.4"/>
<circle cx="570.10" cy="103.80" r="1.00" fill="#fff" stroke="#333" stroke-width="0.4"/>
<line x1="575.10" y1="61.90" x2="575.10" y2="64.70" stroke="#222" stroke-width="0.5" />
<line x1="574.10" y1="61.90" x2="576.10" y2="61.90" stroke="#222" stroke-width="0.5" />
<circle cx="574.20" cy="63.90" r="1.00" fill="#fff" stroke="#333" stroke-width="0.4"/>
<circle cx="576.00" cy="63.00" r="1.00" fill="#fff" stroke="#333" stroke-width="0.4"/>
<circle cx="575.20" cy="65.00" r="1.00" fill="#fff" stroke="#333" stroke-width="0.4"/>
<line x1="572.50" y1="118.00" x2="572.50" y2="119.50" stroke="#222" stroke-width="0.6" />
<text stroke="#111" stroke-width="0.22" x="572.50" y="127.4" font-size="6.0" text-anchor="middle" fill="#111" transform="rotate(-17 572.50 125.3)">F84W</text>
<rect x="584.75" y="114.90" width="4.60" height="3.10" fill="#f4d80c" stroke="#222" stroke-width="0.5" />
<rect x="589.75" y="114.40" width="4.80" height="3.60" fill="#5ba51b" stroke="#222" stroke-width="0.5" />
<line x1="587.05" y1="113.30" x2="587.05" y2="116.10" stroke="#222" stroke-width="0.5" />
<line x1="586.05" y1="113.30" x2="588.05" y2="113.30" stroke="#222" stroke-width="0.5" />
<circle cx="586.15" cy="115.30" r="1.00" fill="#fff" stroke="#333" stroke-width="0.4"/>
<circle cx="587.95" cy="114.40" r="1.00" fill="#fff" stroke="#333" stroke-width="0.4"/>
<circle cx="587.15" cy="116.40" r="1.00" fill="#fff" stroke="#333" stroke-width="0.4"/>
<line x1="592.15" y1="112.80" x2="592.15" y2="115.60" stroke="#222" stroke-width="0.5" />
<line x1="591.15" y1="112.80" x2="593.15" y2="112.80" stroke="#222" stroke-width="0.5" />
<circle cx="591.25" cy="114.80" r="1.00" fill="#fff" stroke="#333" stroke-width="0.4"/>
<circle cx="593.05" cy="113.90" r="1.00" fill="#fff" stroke="#333" stroke-width="0.4"/>
<circle cx="592.25" cy="115.90" r="1.00" fill="#fff" stroke="#333" stroke-width="0.4"/>
<line x1="589.55" y1="118.00" x2="589.55" y2="119.50" stroke="#222" stroke-width="0.6" />
<text stroke="#111" stroke-width="0.22" x="589.55" y="127.4" font-size="6.0" text-anchor="middle" fill="#111" transform="rotate(-17 589.55 125.3)">F84L</text>
<rect x="601.80" y="111.80" width="4.60" height="6.20" fill="#f4d80c" stroke="#222" stroke-width="0.5" />
<rect x="606.80" y="68.90" width="4.80" height="49.10" fill="#5ba51b" stroke="#222" stroke-width="0.5" />
<line x1="604.10" y1="110.20" x2="604.10" y2="113.00" stroke="#222" stroke-width="0.5" />
<line x1="603.10" y1="110.20" x2="605.10" y2="110.20" stroke="#222" stroke-width="0.5" />
<circle cx="603.20" cy="112.20" r="1.00" fill="#fff" stroke="#333" stroke-width="0.4"/>
<circle cx="605.00" cy="111.30" r="1.00" fill="#fff" stroke="#333" stroke-width="0.4"/>
<circle cx="604.20" cy="113.30" r="1.00" fill="#fff" stroke="#333" stroke-width="0.4"/>
<line x1="609.20" y1="67.30" x2="609.20" y2="70.10" stroke="#222" stroke-width="0.5" />
<line x1="608.20" y1="67.30" x2="610.20" y2="67.30" stroke="#222" stroke-width="0.5" />
<circle cx="608.30" cy="69.30" r="1.00" fill="#fff" stroke="#333" stroke-width="0.4"/>
<circle cx="610.10" cy="68.40" r="1.00" fill="#fff" stroke="#333" stroke-width="0.4"/>
<circle cx="609.30" cy="70.40" r="1.00" fill="#fff" stroke="#333" stroke-width="0.4"/>
<line x1="606.60" y1="118.00" x2="606.60" y2="119.50" stroke="#222" stroke-width="0.6" />
<text stroke="#111" stroke-width="0.22" x="606.60" y="127.4" font-size="6.0" text-anchor="middle" fill="#111" transform="rotate(-17 606.60 125.3)">F84M</text>
<rect x="618.85" y="115.50" width="4.60" height="2.50" fill="#f4d80c" stroke="#222" stroke-width="0.5" />
<rect x="623.85" y="86.00" width="4.80" height="32.00" fill="#5ba51b" stroke="#222" stroke-width="0.5" />
<line x1="621.15" y1="113.90" x2="621.15" y2="116.70" stroke="#222" stroke-width="0.5" />
<line x1="620.15" y1="113.90" x2="622.15" y2="113.90" stroke="#222" stroke-width="0.5" />
<circle cx="620.25" cy="115.90" r="1.00" fill="#fff" stroke="#333" stroke-width="0.4"/>
<circle cx="622.05" cy="115.00" r="1.00" fill="#fff" stroke="#333" stroke-width="0.4"/>
<circle cx="621.25" cy="117.00" r="1.00" fill="#fff" stroke="#333" stroke-width="0.4"/>
<line x1="626.25" y1="84.40" x2="626.25" y2="87.20" stroke="#222" stroke-width="0.5" />
<line x1="625.25" y1="84.40" x2="627.25" y2="84.40" stroke="#222" stroke-width="0.5" />
<circle cx="625.35" cy="86.40" r="1.00" fill="#fff" stroke="#333" stroke-width="0.4"/>
<circle cx="627.15" cy="85.50" r="1.00" fill="#fff" stroke="#333" stroke-width="0.4"/>
<circle cx="626.35" cy="87.50" r="1.00" fill="#fff" stroke="#333" stroke-width="0.4"/>
<line x1="623.65" y1="118.00" x2="623.65" y2="119.50" stroke="#222" stroke-width="0.6" />
<text stroke="#111" stroke-width="0.22" x="623.65" y="127.4" font-size="6.0" text-anchor="middle" fill="#111" transform="rotate(-17 623.65 125.3)">M87L</text>
<rect x="635.90" y="116.70" width="4.60" height="1.30" fill="#f4d80c" stroke="#222" stroke-width="0.5" />
<rect x="640.90" y="111.30" width="4.80" height="6.70" fill="#5ba51b" stroke="#222" stroke-width="0.5" />
<line x1="638.20" y1="115.10" x2="638.20" y2="117.90" stroke="#222" stroke-width="0.5" />
<line x1="637.20" y1="115.10" x2="639.20" y2="115.10" stroke="#222" stroke-width="0.5" />
<circle cx="637.30" cy="117.10" r="1.00" fill="#fff" stroke="#333" stroke-width="0.4"/>
<circle cx="639.10" cy="116.20" r="1.00" fill="#fff" stroke="#333" stroke-width="0.4"/>
<circle cx="638.30" cy="118.20" r="1.00" fill="#fff" stroke="#333" stroke-width="0.4"/>
<line x1="643.30" y1="109.70" x2="643.30" y2="112.50" stroke="#222" stroke-width="0.5" />
<line x1="642.30" y1="109.70" x2="644.30" y2="109.70" stroke="#222" stroke-width="0.5" />
<circle cx="642.40" cy="111.70" r="1.00" fill="#fff" stroke="#333" stroke-width="0.4"/>
<circle cx="644.20" cy="110.80" r="1.00" fill="#fff" stroke="#333" stroke-width="0.4"/>
<circle cx="643.40" cy="112.80" r="1.00" fill="#fff" stroke="#333" stroke-width="0.4"/>
<line x1="640.70" y1="118.00" x2="640.70" y2="119.50" stroke="#222" stroke-width="0.6" />
<text stroke="#111" stroke-width="0.22" x="640.70" y="127.4" font-size="6.0" text-anchor="middle" fill="#111" transform="rotate(-17 640.70 125.3)">M87I</text>
<polyline points="470.40,35.90 487.45,112.60 504.50,29.40 521.55,86.80 538.60,15.00 555.65,93.20 572.70,99.20 589.75,113.10 606.80,80.60 623.85,55.90 640.90,88.40" fill="none" stroke="#e8607a" stroke-width="0.7"/>
<circle cx="470.40" cy="35.90" r="1.30" fill="#fff" stroke="#e8607a" stroke-width="0.6"/>
<circle cx="487.45" cy="112.60" r="1.30" fill="#fff" stroke="#e8607a" stroke-width="0.6"/>
<circle cx="504.50" cy="29.40" r="1.30" fill="#fff" stroke="#e8607a" stroke-width="0.6"/>
<circle cx="521.55" cy="86.80" r="1.30" fill="#fff" stroke="#e8607a" stroke-width="0.6"/>
<circle cx="538.60" cy="15.00" r="1.30" fill="#fff" stroke="#e8607a" stroke-width="0.6"/>
<circle cx="555.65" cy="93.20" r="1.30" fill="#fff" stroke="#e8607a" stroke-width="0.6"/>
<circle cx="572.70" cy="99.20" r="1.30" fill="#fff" stroke="#e8607a" stroke-width="0.6"/>
<circle cx="589.75" cy="113.10" r="1.30" fill="#fff" stroke="#e8607a" stroke-width="0.6"/>
<circle cx="606.80" cy="80.60" r="1.30" fill="#fff" stroke="#e8607a" stroke-width="0.6"/>
<circle cx="623.85" cy="55.90" r="1.30" fill="#fff" stroke="#e8607a" stroke-width="0.6"/>
<circle cx="640.90" cy="88.40" r="1.30" fill="#fff" stroke="#e8607a" stroke-width="0.6"/>
<text stroke="#111" stroke-width="0.22" x="555.60" y="136.60" font-size="6.5" text-anchor="middle" fill="#111" >Variants</text>
<line x1="473.30" y1="19.40" x2="508.40" y2="19.40" stroke="#333" stroke-width="0.5" />
<line x1="473.30" y1="19.40" x2="473.30" y2="20.60" stroke="#333" stroke-width="0.5" />
<line x1="508.40" y1="19.40" x2="508.40" y2="20.60" stroke="#333" stroke-width="0.5" />
<text x="478.90" y="17.40" font-size="5.5" fill="#333" stroke="#333" stroke-width="0.08"><tspan font-style="italic">P</tspan>&lt;0.0001</text>
<text x="512.80" y="18.00" font-size="5.5" fill="#333" stroke="#333" stroke-width="0.08"><tspan font-style="italic">P</tspan>&lt;0.0001</text>
<text x="531.70" y="68.20" font-size="5.5" fill="#333" stroke="#333" stroke-width="0.08"><tspan font-style="italic">P</tspan>=0.0083</text>
<text x="545.90" y="55.00" font-size="5.5" fill="#333" stroke="#333" stroke-width="0.08"><tspan font-style="italic">P</tspan>&lt;0.0001</text>
<text x="571.20" y="55.00" font-size="5.5" fill="#333" stroke="#333" stroke-width="0.08"><tspan font-style="italic">P</tspan>&lt;0.0001</text>
<text x="599.20" y="55.00" font-size="5.5" fill="#333" stroke="#333" stroke-width="0.08"><tspan font-style="italic">P</tspan>=0.0003</text>
<text x="615.40" y="81.70" font-size="5.5" fill="#333" stroke="#333" stroke-width="0.08"><tspan font-style="italic">P</tspan>=0.2820</text>
<rect x="596.20" y="15.60" width="12.20" height="4.20" fill="#f4d80c" stroke="#222" stroke-width="0.5" />
<rect x="596.20" y="24.40" width="12.20" height="4.10" fill="#5ba51b" stroke="#222" stroke-width="0.5" />
<line x1="596.20" y1="34.40" x2="608.40" y2="34.40" stroke="#e8607a" stroke-width="0.6" />
<circle cx="602.40" cy="34.40" r="1.10" fill="#fff" stroke="#e8607a" stroke-width="0.5"/>
<text stroke="#111" stroke-width="0.22" x="612.90" y="19.90" font-size="5.8" text-anchor="start" fill="#111" >0 mM</text>
<text stroke="#111" stroke-width="0.22" x="612.90" y="28.30" font-size="5.8" text-anchor="start" fill="#111" >10 mM</text>
<text stroke="#111" stroke-width="0.22" x="612.90" y="36.60" font-size="6.0" text-anchor="start" fill="#111" >ON/OFF ratio</text>
<text stroke="#222" stroke-width="0.22" x="7.00" y="163.20" font-size="12.5" text-anchor="start" fill="#222" >d</text>
<g>
<path d="M40.4,166.6 C42,172 44,176 50.9,180.9 C55,183 62,180 68,178" fill="none" stroke="#c8ab88" stroke-width="3.3" stroke-linecap="round" stroke-linejoin="round"/>
<path d="M40.4,166.6 C42,172 44,176 50.9,180.9 C55,183 62,180 68,178" fill="none" stroke="#eddfc9" stroke-width="2.5" stroke-linecap="round" stroke-linejoin="round"/>
<path d="M68,166.6 C72,174 74,180 75.5,182.8 C77,188 78,191 79.3,192.3 C82,195 85,195 86.9,194.2 C92,192 94,190 96.4,188.5 C100,186 104,185 105.9,182.8 C110,178 111,174 109.7,171.4 C108,168 107,167 105.9,166.6" fill="none" stroke="#c8ab88" stroke-width="3.3" stroke-linecap="round" stroke-linejoin="round"/>
<path d="M68,166.6 C72,174 74,180 75.5,182.8 C77,188 78,191 79.3,192.3 C82,195 85,195 86.9,194.2 C92,192 94,190 96.4,188.5 C100,186 104,185 105.9,182.8 C110,178 111,174 109.7,171.4 C108,168 107,167 105.9,166.6" fill="none" stroke="#eddfc9" stroke-width="2.5" stroke-linecap="round" stroke-linejoin="round"/>
<path d="M111.6,166.6 C113,169 115,171 117.3,171.4 C121,171 125,168 128.7,167.6 C132,167 134,167 136,166.6" fill="none" stroke="#c8ab88" stroke-width="3.3" stroke-linecap="round" stroke-linejoin="round"/>
<path d="M111.6,166.6 C113,169 115,171 117.3,171.4 C121,171 125,168 128.7,167.6 C132,167 134,167 136,166.6" fill="none" stroke="#eddfc9" stroke-width="2.5" stroke-linecap="round" stroke-linejoin="round"/>
<path d="M104,192.3 C106,196 108,199 109.7,199.8 C114,202 117,203 121.1,203.6 C125,204 129,205 132.5,205.5" fill="none" stroke="#c8ab88" stroke-width="3.3" stroke-linecap="round" stroke-linejoin="round"/>
<path d="M104,192.3 C106,196 108,199 109.7,199.8 C114,202 117,203 121.1,203.6 C125,204 129,205 132.5,205.5" fill="none" stroke="#eddfc9" stroke-width="2.5" stroke-linecap="round" stroke-linejoin="round"/>
<path d="M69.8,203.6 C73,202 76,200.5 79.3,199.8 C82,199 84,197 86.9,194.2" fill="none" stroke="#c8ab88" stroke-width="3.3" stroke-linecap="round" stroke-linejoin="round"/>
<path d="M69.8,203.6 C73,202 76,200.5 79.3,199.8 C82,199 84,197 86.9,194.2" fill="none" stroke="#eddfc9" stroke-width="2.5" stroke-linecap="round" stroke-linejoin="round"/>
<path d="M43,182 C46,190 44,194 48,198" fill="none" stroke="#c8ab88" stroke-width="3.05" stroke-linecap="round" stroke-linejoin="round"/>
<path d="M43,182 C46,190 44,194 48,198" fill="none" stroke="#eddfc9" stroke-width="2.25" stroke-linecap="round" stroke-linejoin="round"/>
<path d="M81.2,166.6 L92.6,166.6 L91,176 L86.5,184.7 L83,176 Z" fill="#eddfc9" stroke="#c8ab88" stroke-width="0.6" stroke-linejoin="round"/>
<path d="M86,166.6 L92,166.6 L89.5,174 Z" fill="#d6bf9c" stroke="#c8ab88" stroke-width="0.6" stroke-linejoin="round"/>
<path d="M117,197 C122,199 128,202 134,205.7" fill="none" stroke="#c8ab88" stroke-width="3.05" stroke-linecap="round" stroke-linejoin="round"/>
<path d="M117,197 C122,199 128,202 134,205.7" fill="none" stroke="#eddfc9" stroke-width="2.25" stroke-linecap="round" stroke-linejoin="round"/>
<clipPath id="dclip"><rect x="8" y="165.7" width="147.7" height="114.6"/></clipPath>
<g clip-path="url(#dclip)">
<polyline points="132.6,165.7 133.1,166.4 133.9,167.2 135.1,168.1 136.7,169.0 138.5,169.9 140.6,170.9 142.9,171.9 145.4,173.0 147.9,174.0 150.4,175.1 152.9,176.2 155.2,177.2 157.4,178.2 159.4,179.2 161.0,180.1 162.4,180.9 163.3,181.7 163.9,182.5 164.1,183.2 163.9,183.8" fill="none" stroke="#c8ab88" stroke-width="4.3" stroke-linecap="round" stroke-linejoin="round"/>
<polyline points="132.6,165.7 133.1,166.4 133.9,167.2 135.1,168.1 136.7,169.0 138.5,169.9 140.6,170.9 142.9,171.9 145.4,173.0 147.9,174.0 150.4,175.1 152.9,176.2 155.2,177.2 157.4,178.2 159.4,179.2 161.0,180.1 162.4,180.9 163.3,181.7 163.9,182.5 164.1,183.2 163.9,183.8" fill="none" stroke="#dcc6a6" stroke-width="2.9" stroke-linecap="round" stroke-linejoin="round"/>
<polyline points="128.5,191.0 129.0,191.7 129.8,192.5 131.0,193.4 132.6,194.3 134.4,195.2 136.5,196.2 138.8,197.2 141.2,198.3 143.8,199.3 146.3,200.4 148.8,201.4 151.1,202.5 153.3,203.5 155.2,204.4 156.9,205.4 158.2,206.2 159.2,207.0 159.8,207.8 160.0,208.5 159.7,209.1" fill="none" stroke="#c8ab88" stroke-width="4.3" stroke-linecap="round" stroke-linejoin="round"/>
<polyline points="128.5,191.0 129.0,191.7 129.8,192.5 131.0,193.4 132.6,194.3 134.4,195.2 136.5,196.2 138.8,197.2 141.2,198.3 143.8,199.3 146.3,200.4 148.8,201.4 151.1,202.5 153.3,203.5 155.2,204.4 156.9,205.4 158.2,206.2 159.2,207.0 159.8,207.8 160.0,208.5 159.7,209.1" fill="none" stroke="#dcc6a6" stroke-width="2.9" stroke-linecap="round" stroke-linejoin="round"/>
<polyline points="124.4,216.3 124.8,217.0 125.7,217.8 126.9,218.7 128.4,219.6 130.3,220.5 132.4,221.5 134.7,222.5 137.1,223.6 139.6,224.6 142.2,225.7 144.6,226.7 147.0,227.8 149.2,228.8 151.1,229.7 152.8,230.7 154.1,231.5 155.1,232.3 155.7,233.1 155.9,233.8 155.6,234.4" fill="none" stroke="#c8ab88" stroke-width="4.3" stroke-linecap="round" stroke-linejoin="round"/>
<polyline points="124.4,216.3 124.8,217.0 125.7,217.8 126.9,218.7 128.4,219.6 130.3,220.5 132.4,221.5 134.7,222.5 137.1,223.6 139.6,224.6 142.2,225.7 144.6,226.7 147.0,227.8 149.2,228.8 151.1,229.7 152.8,230.7 154.1,231.5 155.1,232.3 155.7,233.1 155.9,233.8 155.6,234.4" fill="none" stroke="#dcc6a6" stroke-width="2.9" stroke-linecap="round" stroke-linejoin="round"/>
<polyline points="120.3,241.6 120.7,242.3 121.6,243.1 122.8,244.0 124.3,244.9 126.2,245.8 128.3,246.8 130.6,247.8 133.0,248.9 135.5,249.9" fill="none" stroke="#c8ab88" stroke-width="4.3" stroke-linecap="round" stroke-linejoin="round"/>
<polyline points="120.3,241.6 120.7,242.3 121.6,243.1 122.8,244.0 124.3,244.9 126.2,245.8 128.3,246.8 130.6,247.8 133.0,248.9 135.5,249.9" fill="none" stroke="#dcc6a6" stroke-width="2.9" stroke-linecap="round" stroke-linejoin="round"/>
<polygon points="141.2,158.3 139.0,159.0 137.1,159.7 135.4,160.6 134.2,161.6 133.3,162.6 132.8,163.8 132.8,164.5 132.4,166.9 132.4,166.3 132.7,166.3 133.4,166.3 134.5,166.4 136.0,166.5 137.8,166.5 139.9,166.6" fill="#eddfc9" stroke="#c8ab88" stroke-width="0.55" stroke-linejoin="round"/>
<polyline points="141.0,161.6 138.8,162.0 136.9,162.5 135.3,163.0 134.1,163.6 133.3,164.3 132.9,165.1 132.9,165.8" fill="none" stroke="#fbf4ea" stroke-width="1.7" stroke-linecap="round" opacity="0.8"/>
<polygon points="164.1,182.1 163.6,182.1 162.6,182.1 161.3,182.0 159.6,182.0 157.6,181.9 155.3,181.9 152.9,181.9 150.3,182.0 147.5,182.1 144.8,182.3 142.1,182.7 139.5,183.1 137.1,183.6 134.9,184.3 132.9,185.0 131.3,185.9 130.1,186.9 129.2,187.9 128.7,189.1 128.7,189.8 128.3,192.2 128.3,191.6 128.6,191.6 129.3,191.6 130.4,191.7 131.8,191.7 133.6,191.8 135.7,191.9 138.1,191.9 140.6,191.9 143.3,191.8 146.0,191.6 148.7,191.3 151.4,190.9 153.9,190.5 156.3,189.9 158.4,189.2 160.2,188.4 161.7,187.5 162.9,186.5 163.6,185.4" fill="#eddfc9" stroke="#c8ab88" stroke-width="0.55" stroke-linejoin="round"/>
<polyline points="164.2,183.7 163.6,184.1 162.6,184.4 161.2,184.6 159.4,184.9 157.4,185.1 155.1,185.2 152.6,185.4 150.0,185.6 147.3,185.8 144.5,186.0 141.8,186.2 139.3,186.5 136.9,186.9 134.7,187.3 132.8,187.7 131.2,188.3 130.0,188.9 129.2,189.6 128.8,190.4 128.8,191.1" fill="none" stroke="#fbf4ea" stroke-width="1.7" stroke-linecap="round" opacity="0.8"/>
<polygon points="160.0,207.4 159.5,207.4 158.5,207.4 157.2,207.3 155.5,207.3 153.5,207.2 151.2,207.2 148.8,207.2 146.1,207.3 143.4,207.4 140.7,207.6 138.0,208.0 135.4,208.4 133.0,208.9 130.8,209.6 128.8,210.3 127.2,211.2 125.9,212.2 125.1,213.2 124.6,214.4 124.6,215.1 124.2,217.5 124.2,216.9 124.5,216.9 125.2,216.9 126.3,217.0 127.7,217.0 129.5,217.1 131.6,217.2 134.0,217.2 136.5,217.1 139.2,217.0 141.9,216.9 144.6,216.6 147.3,216.2 149.8,215.8 152.2,215.2 154.3,214.5 156.1,213.7 157.6,212.8 158.7,211.8 159.5,210.7" fill="#eddfc9" stroke="#c8ab88" stroke-width="0.55" stroke-linejoin="round"/>
<polyline points="160.1,209.0 159.4,209.3 158.4,209.7 157.0,209.9 155.3,210.1 153.3,210.3 151.0,210.5 148.5,210.7 145.9,210.9 143.1,211.0 140.4,211.3 137.7,211.5 135.1,211.8 132.7,212.2 130.6,212.6 128.7,213.0 127.1,213.6 125.9,214.2 125.1,214.9 124.7,215.7 124.7,216.4" fill="none" stroke="#fbf4ea" stroke-width="1.7" stroke-linecap="round" opacity="0.8"/>
<polygon points="155.9,232.7 155.3,232.7 154.4,232.7 153.0,232.6 151.4,232.6 149.4,232.5 147.1,232.5 144.6,232.5 142.0,232.5 139.3,232.7 136.6,232.9 133.9,233.3 131.3,233.7 128.8,234.2 126.6,234.9 124.7,235.6 123.1,236.5 121.8,237.5 120.9,238.5 120.5,239.7 120.5,240.4 120.1,242.8 120.0,242.2 120.3,242.2 121.0,242.2 122.1,242.3 123.6,242.3 125.4,242.4 127.5,242.5 129.8,242.5 132.4,242.4 135.0,242.3 137.8,242.2 140.5,241.9 143.2,241.5 145.7,241.1 148.1,240.5 150.2,239.8 152.0,239.0 153.5,238.1 154.6,237.1 155.4,236.0" fill="#eddfc9" stroke="#c8ab88" stroke-width="0.55" stroke-linejoin="round"/>
<polyline points="155.9,234.3 155.3,234.6 154.3,235.0 152.9,235.2 151.2,235.4 149.2,235.6 146.9,235.8 144.4,236.0 141.7,236.2 139.0,236.3 136.3,236.6 133.6,236.8 131.0,237.1 128.6,237.4 126.5,237.9 124.6,238.3 123.0,238.9 121.8,239.5 121.0,240.2 120.6,241.0 120.6,241.6" fill="none" stroke="#fbf4ea" stroke-width="1.7" stroke-linecap="round" opacity="0.8"/>
<path d="M137,246 C134,252 131,258 128.6,262.9 C124,268 120,270 117,271.4 C128,275 138,277 148.6,281" fill="none" stroke="#c8ab88" stroke-width="3.05" stroke-linecap="round" stroke-linejoin="round"/>
<path d="M137,246 C134,252 131,258 128.6,262.9 C124,268 120,270 117,271.4 C128,275 138,277 148.6,281" fill="none" stroke="#eddfc9" stroke-width="2.25" stroke-linecap="round" stroke-linejoin="round"/>
<path d="M100,229 C99,238 100,246 100,254 C99,262 96,272 94,282" fill="none" stroke="#c8ab88" stroke-width="3.05" stroke-linecap="round" stroke-linejoin="round"/>
<path d="M100,229 C99,238 100,246 100,254 C99,262 96,272 94,282" fill="none" stroke="#eddfc9" stroke-width="2.25" stroke-linecap="round" stroke-linejoin="round"/>
<path d="M9,281 C9,270 14,262 23,261 C31,260 37,266 38,281 Z" fill="#e2cdb0" stroke="#c8ab88" stroke-width="0.6" stroke-linejoin="round"/>
<path d="M11,281 C12,272 16,266 23,266 C29,266 33,271 34,281 Z" fill="#eddfc9" stroke="#c8ab88" stroke-width="0.6" stroke-linejoin="round"/>
<path d="M13,270 C18,264 26,262 32,266 L30,270 C26,267 20,267 15,272 Z" fill="#f4eadb" stroke="#c8ab88" stroke-width="0.6" stroke-linejoin="round"/>
<path d="M36,281 C36,266 44,254 54,253 C62,253 67,262 67,281 Z" fill="#e2cdb0" stroke="#c8ab88" stroke-width="0.6" stroke-linejoin="round"/>
<path d="M40,281 C41,268 46,259 54,259 C60,259 63,266 63,281 Z" fill="#eddfc9" stroke="#c8ab88" stroke-width="0.6" stroke-linejoin="round"/>
<path d="M43,265 C47,258 55,256 61,260 L59,264 C55,261 49,262 46,268 Z" fill="#f4eadb" stroke="#c8ab88" stroke-width="0.6" stroke-linejoin="round"/>
<path d="M82,281 C83,270 90,263 99,262 C108,262 115,269 116,281 Z" fill="#e2cdb0" stroke="#c8ab88" stroke-width="0.6" stroke-linejoin="round"/>
<path d="M86,281 C87,273 92,268 99,268 C106,268 111,273 112,281 Z" fill="#eddfc9" stroke="#c8ab88" stroke-width="0.6" stroke-linejoin="round"/>
<path d="M89,272 C93,267 101,265 108,269 L106,272 C101,270 95,270 91,275 Z" fill="#f4eadb" stroke="#c8ab88" stroke-width="0.6" stroke-linejoin="round"/>
<path d="M41.2,281 C44,272 46,265 50.2,260.7 C56,257 63,257 70.6,257.3" fill="none" stroke="#c8ab88" stroke-width="3.05" stroke-linecap="round" stroke-linejoin="round"/>
<path d="M41.2,281 C44,272 46,265 50.2,260.7 C56,257 63,257 70.6,257.3" fill="none" stroke="#eddfc9" stroke-width="2.25" stroke-linecap="round" stroke-linejoin="round"/>
<path d="M79.7,265.2 C84,270 88,275 91,281" fill="none" stroke="#c8ab88" stroke-width="3.05" stroke-linecap="round" stroke-linejoin="round"/>
<path d="M79.7,265.2 C84,270 88,275 91,281" fill="none" stroke="#eddfc9" stroke-width="2.25" stroke-linecap="round" stroke-linejoin="round"/>
<path d="M64,281 C66,272 72,268 80,266" fill="none" stroke="#c8ab88" stroke-width="3.05" stroke-linecap="round" stroke-linejoin="round"/>
<path d="M64,281 C66,272 72,268 80,266" fill="none" stroke="#eddfc9" stroke-width="2.25" stroke-linecap="round" stroke-linejoin="round"/>
<path d="M58.8,166 L62,166 L65.5,178 L67.5,192 L68.3,204 L71.5,206 L70,218 L64.5,206 L66,204 L64.6,192 L62.5,178 Z" fill="#4cc7c7" stroke="#2a9c9c" stroke-width="0.6"/>
<path d="M69.5,216 C67,224 60,230 52,237" fill="none" stroke="#2a9c9c" stroke-width="2.8" stroke-linecap="round" stroke-linejoin="round"/>
<path d="M69.5,216 C67,224 60,230 52,237" fill="none" stroke="#4cc7c7" stroke-width="2.0" stroke-linecap="round" stroke-linejoin="round"/>
<path d="M24,219 C16,223 14,233 18,241" fill="none" stroke="#2a9c9c" stroke-width="3.55" stroke-linecap="round" stroke-linejoin="round"/>
<path d="M24,219 C16,223 14,233 18,241" fill="none" stroke="#3aaeae" stroke-width="2.75" stroke-linecap="round" stroke-linejoin="round"/>
<path d="M20,214 C30,207 45,210 50,222 C54,232 52,244 46,249 C38,254 24,254 15,251 L16,244 C24,247 36,247 41,243 C45,239 45,229 42,223 C38,216 30,216 22,220 Z" fill="#4cc7c7" stroke="#2a9c9c" stroke-width="0.6" stroke-linejoin="round"/>
<path d="M24,212.5 C32,209 42,211 47,219 L44,221 C40,215 32,214 26,217 Z" fill="#8ee0e0" stroke="#4cc7c7" stroke-width="0.3" stroke-linejoin="round"/>
<path d="M44,237 L56,240 L54,252 L46,250 Z" fill="#3cbcbc" stroke="#2a9c9c" stroke-width="0.6" stroke-linejoin="round"/>
<path d="M27.4,247 C29,258 31,270 38.6,281" fill="none" stroke="#2a9c9c" stroke-width="3.05" stroke-linecap="round" stroke-linejoin="round"/>
<path d="M27.4,247 C29,258 31,270 38.6,281" fill="none" stroke="#4cc7c7" stroke-width="2.25" stroke-linecap="round" stroke-linejoin="round"/>
</g>
<line x1="75" y1="224" x2="80" y2="232" stroke="#c8a070" stroke-width="2.2" stroke-linecap="round"/>
<line x1="80" y1="232" x2="84" y2="240" stroke="#d3b68c" stroke-width="2.2" stroke-linecap="round"/>
<line x1="84" y1="240" x2="92" y2="236" stroke="#d3b68c" stroke-width="2.2" stroke-linecap="round"/>
<line x1="92" y1="236" x2="96" y2="244" stroke="#d3b68c" stroke-width="2.2" stroke-linecap="round"/>
<line x1="78" y1="222" x2="80" y2="216" stroke="#e03030" stroke-width="2.2" stroke-linecap="round"/>
<line x1="82" y1="234" x2="88" y2="232" stroke="#e03030" stroke-width="2.2" stroke-linecap="round"/>
<line x1="84" y1="240" x2="82" y2="246" stroke="#e03030" stroke-width="2.2" stroke-linecap="round"/>
<line x1="96" y1="244" x2="98" y2="247" stroke="#e03030" stroke-width="2.2" stroke-linecap="round"/>
<line x1="80" y1="232" x2="76" y2="238" stroke="#9c7a50" stroke-width="2.2" stroke-linecap="round"/>
<clipPath id="dclip2"><rect x="159" y="152.8" width="99" height="71.5"/></clipPath>
<clipPath id="dclip3"><rect x="159" y="224.3" width="99" height="73.5"/></clipPath>
<g clip-path="url(#dclip2)">
<path d="M190,152 L203,152 L200,162 L196,171.5 L192,162 Z" fill="#eddfc9" stroke="#c8ab88" stroke-width="0.6" stroke-linejoin="round"/>
<path d="M213,153 C216,158 222,160 226,156" fill="none" stroke="#c8ab88" stroke-width="3.3" stroke-linecap="round" stroke-linejoin="round"/>
<path d="M213,153 C216,158 222,160 226,156" fill="none" stroke="#eddfc9" stroke-width="2.5" stroke-linecap="round" stroke-linejoin="round"/>
<polyline points="237.9,154.7 238.1,155.0 238.5,155.3 239.2,155.6 240.0,155.8 241.0,156.0 242.2,156.1 243.5,156.2 244.9,156.3 246.3,156.4 247.8,156.4 249.2,156.5 250.6,156.6 252.0,156.7 253.2,156.8 254.3,156.9 255.3,157.1 256.0,157.3 256.6,157.6 257.0,157.9 257.1,158.3" fill="none" stroke="#c8ab88" stroke-width="4.2" stroke-linecap="round" stroke-linejoin="round"/>
<polyline points="237.9,154.7 238.1,155.0 238.5,155.3 239.2,155.6 240.0,155.8 241.0,156.0 242.2,156.1 243.5,156.2 244.9,156.3 246.3,156.4 247.8,156.4 249.2,156.5 250.6,156.6 252.0,156.7 253.2,156.8 254.3,156.9 255.3,157.1 256.0,157.3 256.6,157.6 257.0,157.9 257.1,158.3" fill="none" stroke="#dcc6a6" stroke-width="2.8" stroke-linecap="round" stroke-linejoin="round"/>
<polyline points="241.4,170.0 241.6,170.3 242.1,170.6 242.7,170.9 243.6,171.1 244.6,171.3 245.7,171.4 247.0,171.5 248.4,171.6 249.8,171.7 251.3,171.7 252.7,171.8 254.2,171.9 255.5,172.0 256.7,172.1 257.8,172.2 258.8,172.4 259.6,172.6 260.2,172.9 260.5,173.2 260.7,173.6" fill="none" stroke="#c8ab88" stroke-width="4.2" stroke-linecap="round" stroke-linejoin="round"/>
<polyline points="241.4,170.0 241.6,170.3 242.1,170.6 242.7,170.9 243.6,171.1 244.6,171.3 245.7,171.4 247.0,171.5 248.4,171.6 249.8,171.7 251.3,171.7 252.7,171.8 254.2,171.9 255.5,172.0 256.7,172.1 257.8,172.2 258.8,172.4 259.6,172.6 260.2,172.9 260.5,173.2 260.7,173.6" fill="none" stroke="#dcc6a6" stroke-width="2.8" stroke-linecap="round" stroke-linejoin="round"/>
<polygon points="240.8,146.8 239.8,147.7 239.0,148.7 238.3,149.7 237.8,150.7 237.5,151.7 237.5,152.7 237.6,153.6 238.1,155.8 238.2,155.9 238.5,156.0 239.0,156.0 239.7,155.9 240.6,155.7 241.6,155.5 242.8,155.1" fill="#eddfc9" stroke="#c8ab88" stroke-width="0.55" stroke-linejoin="round"/>
<polyline points="241.9,149.9 240.8,150.7 239.9,151.4 239.2,152.1 238.6,152.8 238.2,153.5 238.1,154.1 238.1,154.6" fill="none" stroke="#fbf4ea" stroke-width="1.7" stroke-linecap="round" opacity="0.8"/>
<polygon points="256.9,157.1 256.7,156.9 256.3,156.9 255.7,156.9 254.9,157.0 254.0,157.2 252.9,157.5 251.8,157.9 250.5,158.4 249.2,158.9 248.0,159.6 246.7,160.4 245.5,161.2 244.4,162.1 243.4,163.0 242.5,164.0 241.8,165.0 241.4,166.0 241.1,167.0 241.0,168.0 241.1,168.8 241.6,171.1 241.7,171.2 242.0,171.3 242.6,171.3 243.3,171.2 244.1,171.0 245.2,170.8 246.3,170.4 247.5,170.0 248.8,169.4 250.1,168.8 251.4,168.1 252.6,167.3 253.7,166.4 254.8,165.5 255.7,164.5 256.4,163.5 257.0,162.5 257.3,161.5 257.5,160.5 257.4,159.5" fill="#eddfc9" stroke="#c8ab88" stroke-width="0.55" stroke-linejoin="round"/>
<polyline points="257.4,158.2 257.3,158.4 257.0,158.7 256.5,159.1 255.8,159.5 255.0,160.0 253.9,160.5 252.8,161.1 251.6,161.7 250.3,162.3 249.1,163.0 247.8,163.8 246.5,164.5 245.4,165.2 244.4,166.0 243.4,166.7 242.7,167.4 242.1,168.1 241.8,168.8 241.6,169.4 241.7,169.9" fill="none" stroke="#fbf4ea" stroke-width="1.7" stroke-linecap="round" opacity="0.8"/>
<polygon points="260.4,172.3 260.2,172.2 261.0,175.8 261.0,174.8" fill="#eddfc9" stroke="#c8ab88" stroke-width="0.55" stroke-linejoin="round"/>
<polyline points="261.0,173.5 260.9,173.7" fill="none" stroke="#fbf4ea" stroke-width="1.7" stroke-linecap="round" opacity="0.8"/>
<polyline points="230.0,182.2 230.4,182.1 230.9,181.8 231.4,181.4 232.0,180.8 232.6,180.0 233.2,179.1 233.9,178.1 234.5,177.0 235.2,175.9 235.9,174.8 236.5,173.7 237.2,172.6 237.8,171.6 238.5,170.6 239.1,169.8 239.6,169.2 240.2,168.7 240.7,168.4 241.1,168.2 241.6,168.3" fill="none" stroke="#c8ab88" stroke-width="4.3" stroke-linecap="round" stroke-linejoin="round"/>
<polyline points="230.0,182.2 230.4,182.1 230.9,181.8 231.4,181.4 232.0,180.8 232.6,180.0 233.2,179.1 233.9,178.1 234.5,177.0 235.2,175.9 235.9,174.8 236.5,173.7 237.2,172.6 237.8,171.6 238.5,170.6 239.1,169.8 239.6,169.2 240.2,168.7 240.7,168.4 241.1,168.2 241.6,168.3" fill="none" stroke="#dcc6a6" stroke-width="2.9" stroke-linecap="round" stroke-linejoin="round"/>
<polyline points="246.4,185.7 246.9,185.6 247.4,185.3 247.9,184.9 248.5,184.3 249.1,183.5 249.7,182.6 250.3,181.6 251.0,180.6 251.7,179.5 252.3,178.3 253.0,177.2 253.7,176.1 254.3,175.1 254.9,174.2 255.5,173.4 256.1,172.7 256.7,172.2 257.2,171.9 257.6,171.8 258.0,171.8" fill="none" stroke="#c8ab88" stroke-width="4.3" stroke-linecap="round" stroke-linejoin="round"/>
<polyline points="246.4,185.7 246.9,185.6 247.4,185.3 247.9,184.9 248.5,184.3 249.1,183.5 249.7,182.6 250.3,181.6 251.0,180.6 251.7,179.5 252.3,178.3 253.0,177.2 253.7,176.1 254.3,175.1 254.9,174.2 255.5,173.4 256.1,172.7 256.7,172.2 257.2,171.9 257.6,171.8 258.0,171.8" fill="none" stroke="#dcc6a6" stroke-width="2.9" stroke-linecap="round" stroke-linejoin="round"/>
<polygon points="225.5,179.9 226.3,180.7 227.1,181.3 228.0,181.7 228.8,181.9 231.1,182.4 231.1,182.4 231.3,182.2 231.5,181.8 231.7,181.2" fill="#eddfc9" stroke="#c8ab88" stroke-width="0.55" stroke-linejoin="round"/>
<polyline points="228.0,180.2 228.5,180.9 229.0,181.4 229.5,181.7 230.0,181.9" fill="none" stroke="#fbf4ea" stroke-width="1.7" stroke-linecap="round" opacity="0.8"/>
<polygon points="240.2,168.0 240.0,168.2 239.8,168.5 239.6,169.0 239.4,169.7 239.3,170.5 239.1,171.5 239.0,172.6 239.0,173.9 239.1,175.1 239.2,176.4 239.4,177.8 239.8,179.1 240.2,180.3 240.7,181.5 241.3,182.5 242.0,183.5 242.8,184.2 243.6,184.8 244.5,185.3 245.3,185.4 247.6,185.9 247.6,185.9 247.7,185.7 247.9,185.3 248.1,184.8 248.3,184.0 248.5,183.1 248.6,182.1 248.7,181.0 248.7,179.7 248.6,178.5 248.4,177.1 248.2,175.8 247.8,174.5 247.4,173.3 246.9,172.2 246.2,171.1 245.5,170.3 244.7,169.5 243.9,169.0 242.9,168.6" fill="#eddfc9" stroke="#c8ab88" stroke-width="0.55" stroke-linejoin="round"/>
<polyline points="241.6,168.0 241.8,168.2 241.9,168.6 242.1,169.2 242.2,170.0 242.3,170.9 242.4,171.9 242.5,173.1 242.6,174.3 242.7,175.6 242.8,176.9 243.0,178.2 243.2,179.5 243.5,180.7 243.8,181.8 244.1,182.8 244.5,183.7 245.0,184.4 245.4,184.9 246.0,185.3 246.5,185.4" fill="none" stroke="#fbf4ea" stroke-width="1.7" stroke-linecap="round" opacity="0.8"/>
<polygon points="256.7,171.5 256.5,171.7 256.3,172.0 256.1,172.5 255.9,173.2 262.7,174.7 262.0,173.8 261.2,173.1 260.3,172.5 259.4,172.1" fill="#eddfc9" stroke="#c8ab88" stroke-width="0.55" stroke-linejoin="round"/>
<polyline points="258.0,171.5 258.2,171.7 258.4,172.2 258.5,172.7 258.6,173.5" fill="none" stroke="#fbf4ea" stroke-width="1.7" stroke-linecap="round" opacity="0.8"/>
<path d="M226,196 C232,200 240,204 250,206 C254,207 256,212 258,216" fill="none" stroke="#c8ab88" stroke-width="3.3" stroke-linecap="round" stroke-linejoin="round"/>
<path d="M226,196 C232,200 240,204 250,206 C254,207 256,212 258,216" fill="none" stroke="#eddfc9" stroke-width="2.5" stroke-linecap="round" stroke-linejoin="round"/>
<path d="M206,176 C212,184 220,188 228,192" fill="none" stroke="#c8ab88" stroke-width="3.05" stroke-linecap="round" stroke-linejoin="round"/>
<path d="M206,176 C212,184 220,188 228,192" fill="none" stroke="#eddfc9" stroke-width="2.25" stroke-linecap="round" stroke-linejoin="round"/>
<polyline points="180.0,224.3 180.5,224.1 181.0,223.5 181.4,222.8 181.8,221.7 182.2,220.5 182.5,219.1 182.9,217.5 183.2,215.9 183.5,214.1 183.8,212.3 184.2,210.6 184.5,208.9 184.8,207.3 185.2,205.8 185.5,204.5 185.9,203.3 186.3,202.4 186.8,201.8 187.3,201.4 187.8,201.3" fill="none" stroke="#c8ab88" stroke-width="4.7" stroke-linecap="round" stroke-linejoin="round"/>
<polyline points="180.0,224.3 180.5,224.1 181.0,223.5 181.4,222.8 181.8,221.7 182.2,220.5 182.5,219.1 182.9,217.5 183.2,215.9 183.5,214.1 183.8,212.3 184.2,210.6 184.5,208.9 184.8,207.3 185.2,205.8 185.5,204.5 185.9,203.3 186.3,202.4 186.8,201.8 187.3,201.4 187.8,201.3" fill="none" stroke="#dcc6a6" stroke-width="3.1" stroke-linecap="round" stroke-linejoin="round"/>
<polyline points="200.8,221.8 201.3,221.6 201.8,221.0 202.2,220.3 202.6,219.2 203.0,218.0 203.4,216.6 203.7,215.0 204.0,213.4 204.4,211.6 204.7,209.8 205.0,208.1 205.3,206.4 205.6,204.8 206.0,203.3 206.4,202.0 206.8,200.8 207.2,199.9 207.6,199.3 208.1,198.9 208.6,198.8" fill="none" stroke="#c8ab88" stroke-width="4.7" stroke-linecap="round" stroke-linejoin="round"/>
<polyline points="200.8,221.8 201.3,221.6 201.8,221.0 202.2,220.3 202.6,219.2 203.0,218.0 203.4,216.6 203.7,215.0 204.0,213.4 204.4,211.6 204.7,209.8 205.0,208.1 205.3,206.4 205.6,204.8 206.0,203.3 206.4,202.0 206.8,200.8 207.2,199.9 207.6,199.3 208.1,198.9 208.6,198.8" fill="none" stroke="#dcc6a6" stroke-width="3.1" stroke-linecap="round" stroke-linejoin="round"/>
<polyline points="221.7,219.3 222.2,219.1 222.6,218.5 223.1,217.8 223.5,216.7 223.8,215.5 224.2,214.1 224.5,212.5" fill="none" stroke="#c8ab88" stroke-width="4.7" stroke-linecap="round" stroke-linejoin="round"/>
<polyline points="221.7,219.3 222.2,219.1 222.6,218.5 223.1,217.8 223.5,216.7 223.8,215.5 224.2,214.1 224.5,212.5" fill="none" stroke="#dcc6a6" stroke-width="3.1" stroke-linecap="round" stroke-linejoin="round"/>
<polygon points="169.2,216.8 170.1,218.3 171.0,219.8 172.1,221.1 173.1,222.3 174.3,223.2 175.4,223.9 176.6,224.4 177.7,224.6 178.7,224.5 181.3,224.2 181.2,224.1 181.2,223.8 181.2,223.2 181.1,222.4 181.0,221.3 180.7,220.1 180.3,218.7 179.9,217.2 179.3,215.6" fill="#eddfc9" stroke="#c8ab88" stroke-width="0.55" stroke-linejoin="round"/>
<polyline points="173.0,216.0 173.8,217.6 174.6,219.1 175.4,220.4 176.2,221.6 177.0,222.6 177.8,223.3 178.5,223.8 179.3,224.1 180.0,224.1" fill="none" stroke="#fbf4ea" stroke-width="1.9" stroke-linecap="round" opacity="0.8"/>
<polygon points="186.3,201.5 186.3,201.7 186.3,202.1 186.3,202.9 186.5,203.8 186.7,205.0 187.0,206.3 187.4,207.8 187.9,209.4 188.5,211.0 189.2,212.7 190.0,214.3 190.9,215.8 191.9,217.3 192.9,218.6 194.0,219.8 195.1,220.7 196.3,221.4 197.4,221.9 198.6,222.1 199.5,222.0 202.1,221.7 202.0,221.6 202.1,221.3 202.0,220.7 202.0,219.9 201.8,218.8 201.5,217.6 201.2,216.2 200.7,214.7 200.2,213.1 199.5,211.4 198.8,209.8 197.9,208.2 197.0,206.6 196.0,205.2 195.0,204.0 193.9,202.9 192.7,202.1 191.6,201.5 190.4,201.2 189.3,201.1" fill="#eddfc9" stroke="#c8ab88" stroke-width="0.55" stroke-linejoin="round"/>
<polyline points="187.7,201.0 188.1,201.2 188.4,201.6 188.9,202.3 189.4,203.2 189.9,204.3 190.4,205.6 191.0,207.1 191.7,208.6 192.4,210.2 193.1,211.9 193.8,213.5 194.6,215.1 195.4,216.6 196.2,217.9 197.0,219.1 197.8,220.1 198.6,220.8 199.4,221.3 200.1,221.6 200.8,221.6" fill="none" stroke="#fbf4ea" stroke-width="1.9" stroke-linecap="round" opacity="0.8"/>
<polygon points="207.2,199.0 207.1,199.2 207.1,199.6 207.2,200.4 207.3,201.3 207.5,202.5 207.8,203.8 208.2,205.3 208.7,206.9 209.3,208.5 210.0,210.2 210.8,211.8 211.7,213.3 212.7,214.8 213.7,216.1 214.8,217.3 215.9,218.2 217.1,218.9 218.2,219.4 219.4,219.6 220.4,219.5 223.0,219.2 222.9,219.1 222.9,218.8 222.9,218.2 222.8,217.4 222.6,216.3 222.4,215.1 222.0,213.7 221.6,212.2 221.0,210.6 220.4,208.9 219.6,207.3 218.8,205.7 217.9,204.1 216.9,202.7 215.8,201.5 214.7,200.4 213.6,199.6 212.4,199.0 211.2,198.7 210.1,198.6" fill="#eddfc9" stroke="#c8ab88" stroke-width="0.55" stroke-linejoin="round"/>
<polyline points="208.5,198.5 208.9,198.7 209.3,199.1 209.7,199.8 210.2,200.7 210.7,201.8 211.3,203.1 211.9,204.6 212.5,206.1 213.2,207.7 213.9,209.4 214.7,211.0 215.4,212.6 216.2,214.1 217.0,215.4 217.8,216.6 218.6,217.6 219.4,218.3 220.2,218.8 221.0,219.1 221.6,219.1" fill="none" stroke="#fbf4ea" stroke-width="1.9" stroke-linecap="round" opacity="0.8"/>
<path d="M160,206 C166,204 172,206 176,212" fill="none" stroke="#c8ab88" stroke-width="3.05" stroke-linecap="round" stroke-linejoin="round"/>
<path d="M160,206 C166,204 172,206 176,212" fill="none" stroke="#eddfc9" stroke-width="2.25" stroke-linecap="round" stroke-linejoin="round"/>
<path d="M214,194 C220,196 226,200 230,206" fill="none" stroke="#c8ab88" stroke-width="3.05" stroke-linecap="round" stroke-linejoin="round"/>
<path d="M214,194 C220,196 226,200 230,206" fill="none" stroke="#eddfc9" stroke-width="2.25" stroke-linecap="round" stroke-linejoin="round"/>
<polyline points="228.0,222.3 228.5,222.2 229.1,221.9 229.7,221.4 230.2,220.7 230.9,219.9 231.5,218.9 232.1,217.9 232.8,216.8 233.4,215.6 234.1,214.4 234.7,213.3 235.4,212.1 236.0,211.1 236.6,210.1 237.3,209.3 237.8,208.6 238.4,208.1 239.0,207.8 239.5,207.7 240.0,207.7" fill="none" stroke="#c8ab88" stroke-width="4.3" stroke-linecap="round" stroke-linejoin="round"/>
<polyline points="228.0,222.3 228.5,222.2 229.1,221.9 229.7,221.4 230.2,220.7 230.9,219.9 231.5,218.9 232.1,217.9 232.8,216.8 233.4,215.6 234.1,214.4 234.7,213.3 235.4,212.1 236.0,211.1 236.6,210.1 237.3,209.3 237.8,208.6 238.4,208.1 239.0,207.8 239.5,207.7 240.0,207.7" fill="none" stroke="#dcc6a6" stroke-width="2.9" stroke-linecap="round" stroke-linejoin="round"/>
<polyline points="248.0,224.8 248.5,224.7 249.1,224.4 249.7,223.9 250.2,223.2 250.9,222.4 251.5,221.4 252.1,220.4 252.8,219.3 253.4,218.1 254.1,216.9 254.7,215.8 255.4,214.6 256.0,213.6 256.6,212.6 257.3,211.8 257.8,211.1 258.4,210.6 259.0,210.3" fill="none" stroke="#c8ab88" stroke-width="4.3" stroke-linecap="round" stroke-linejoin="round"/>
<polyline points="248.0,224.8 248.5,224.7 249.1,224.4 249.7,223.9 250.2,223.2 250.9,222.4 251.5,221.4 252.1,220.4 252.8,219.3 253.4,218.1 254.1,216.9 254.7,215.8 255.4,214.6 256.0,213.6 256.6,212.6 257.3,211.8 257.8,211.1 258.4,210.6 259.0,210.3" fill="none" stroke="#dcc6a6" stroke-width="2.9" stroke-linecap="round" stroke-linejoin="round"/>
<polygon points="221.4,218.6 222.2,219.6 223.1,220.5 224.0,221.2 225.0,221.7 226.0,222.0 226.8,222.1 229.2,222.4 229.0,222.4 229.1,222.2 229.2,221.8 229.2,221.2 229.3,220.5 229.3,219.6" fill="#eddfc9" stroke="#c8ab88" stroke-width="0.55" stroke-linejoin="round"/>
<polyline points="224.5,218.7 225.0,219.7 225.6,220.5 226.2,221.1 226.8,221.6 227.5,221.9 228.0,222.0" fill="none" stroke="#fbf4ea" stroke-width="1.7" stroke-linecap="round" opacity="0.8"/>
<polygon points="238.5,207.5 238.5,207.7 238.4,208.1 238.3,208.6 238.3,209.4 238.3,210.3 238.3,211.3 238.4,212.4 238.6,213.6 238.8,214.9 239.2,216.2 239.6,217.5 240.1,218.8 240.7,220.0 241.4,221.1 242.2,222.1 243.1,223.0 244.0,223.7 245.0,224.2 246.0,224.5 246.8,224.6 249.2,224.9 249.0,224.9 249.1,224.7 249.2,224.3 249.2,223.7 249.3,223.0 249.3,222.1 249.2,221.1 249.1,219.9 248.9,218.7 248.7,217.4 248.3,216.1 247.9,214.8 247.4,213.5 246.7,212.3 246.0,211.2 245.3,210.2 244.4,209.4 243.5,208.7 242.5,208.2 241.4,207.9" fill="#eddfc9" stroke="#c8ab88" stroke-width="0.55" stroke-linejoin="round"/>
<polyline points="239.9,207.4 240.2,207.6 240.5,208.0 240.8,208.6 241.1,209.4 241.3,210.3 241.6,211.4 241.9,212.5 242.2,213.8 242.5,215.1 242.8,216.4 243.2,217.7 243.6,218.9 244.0,220.1 244.5,221.2 245.0,222.2 245.6,223.0 246.2,223.6 246.8,224.1 247.5,224.4 248.0,224.5" fill="none" stroke="#fbf4ea" stroke-width="1.7" stroke-linecap="round" opacity="0.8"/>
<path d="M160,214 C164,218 168,222 172,226" fill="none" stroke="#c8ab88" stroke-width="3.05" stroke-linecap="round" stroke-linejoin="round"/>
<path d="M160,214 C164,218 168,222 172,226" fill="none" stroke="#eddfc9" stroke-width="2.25" stroke-linecap="round" stroke-linejoin="round"/>
<path d="M218,152 C224,160 232,166 240,168" fill="none" stroke="#c8ab88" stroke-width="3.05" stroke-linecap="round" stroke-linejoin="round"/>
<path d="M218,152 C224,160 232,166 240,168" fill="none" stroke="#eddfc9" stroke-width="2.25" stroke-linecap="round" stroke-linejoin="round"/>
</g>
<line x1="234" y1="178" x2="238" y2="184" stroke="#d3b68c" stroke-width="1.8" stroke-linecap="round"/>
<line x1="238" y1="184" x2="244" y2="186" stroke="#d3b68c" stroke-width="1.8" stroke-linecap="round"/>
<line x1="244" y1="186" x2="248" y2="192" stroke="#d3b68c" stroke-width="1.8" stroke-linecap="round"/>
<line x1="236" y1="176" x2="237" y2="173" stroke="#e03030" stroke-width="1.8" stroke-linecap="round"/>
<line x1="244" y1="186" x2="246" y2="183" stroke="#e03030" stroke-width="1.8" stroke-linecap="round"/>
<line x1="248" y1="192" x2="249" y2="195" stroke="#e03030" stroke-width="1.8" stroke-linecap="round"/>
<line x1="240" y1="178" x2="243" y2="177" stroke="#e03030" stroke-width="1.8" stroke-linecap="round"/>
<g clip-path="url(#dclip3)">
<path d="M194,224 C196,230 198,236 196,242" fill="none" stroke="#c8ab88" stroke-width="3.3" stroke-linecap="round" stroke-linejoin="round"/>
<path d="M194,224 C196,230 198,236 196,242" fill="none" stroke="#eddfc9" stroke-width="2.5" stroke-linecap="round" stroke-linejoin="round"/>
<path d="M208,224 L216,224 L214,236 L211,241 L209,236 Z" fill="#eddfc9" stroke="#c8ab88" stroke-width="0.6" stroke-linejoin="round"/>
<polyline points="225.5,230.5 225.9,230.9 226.7,231.2 227.8,231.5 229.1,231.8 230.7,232.1 232.4,232.3 234.3,232.6 236.3,232.8 238.4,233.0 240.4,233.3 242.5,233.5 244.4,233.7 246.2,234.0 247.8,234.3 249.1,234.5 250.2,234.8 251.1,235.2 251.6,235.5 251.8,235.9 251.7,236.3" fill="none" stroke="#c8ab88" stroke-width="4.2" stroke-linecap="round" stroke-linejoin="round"/>
<polyline points="225.5,230.5 225.9,230.9 226.7,231.2 227.8,231.5 229.1,231.8 230.7,232.1 232.4,232.3 234.3,232.6 236.3,232.8 238.4,233.0 240.4,233.3 242.5,233.5 244.4,233.7 246.2,234.0 247.8,234.3 249.1,234.5 250.2,234.8 251.1,235.2 251.6,235.5 251.8,235.9 251.7,236.3" fill="none" stroke="#dcc6a6" stroke-width="2.8" stroke-linecap="round" stroke-linejoin="round"/>
<polyline points="226.7,246.2 227.2,246.5 228.0,246.9 229.0,247.2 230.4,247.4 231.9,247.7 233.7,248.0 235.6,248.2 237.6,248.4 239.6,248.7 241.7,248.9 243.7,249.1 245.6,249.4 247.4,249.6 249.0,249.9 250.4,250.2 251.5,250.5 252.3,250.8 252.9,251.2 253.1,251.5 253.0,251.9" fill="none" stroke="#c8ab88" stroke-width="4.2" stroke-linecap="round" stroke-linejoin="round"/>
<polyline points="226.7,246.2 227.2,246.5 228.0,246.9 229.0,247.2 230.4,247.4 231.9,247.7 233.7,248.0 235.6,248.2 237.6,248.4 239.6,248.7 241.7,248.9 243.7,249.1 245.6,249.4 247.4,249.6 249.0,249.9 250.4,250.2 251.5,250.5 252.3,250.8 252.9,251.2 253.1,251.5 253.0,251.9" fill="none" stroke="#dcc6a6" stroke-width="2.8" stroke-linecap="round" stroke-linejoin="round"/>
<polyline points="228.0,261.8 228.4,262.1 229.2,262.5 230.3,262.8 231.6,263.1 233.2,263.3 234.9,263.6 236.8,263.8 238.8,264.1 240.9,264.3 242.9,264.5 245.0,264.8 246.9,265.0 248.7,265.2 250.3,265.5 251.6,265.8 252.7,266.1 253.6,266.4 254.1,266.8 254.3,267.2 254.2,267.6" fill="none" stroke="#c8ab88" stroke-width="4.2" stroke-linecap="round" stroke-linejoin="round"/>
<polyline points="228.0,261.8 228.4,262.1 229.2,262.5 230.3,262.8 231.6,263.1 233.2,263.3 234.9,263.6 236.8,263.8 238.8,264.1 240.9,264.3 242.9,264.5 245.0,264.8 246.9,265.0 248.7,265.2 250.3,265.5 251.6,265.8 252.7,266.1 253.6,266.4 254.1,266.8 254.3,267.2 254.2,267.6" fill="none" stroke="#dcc6a6" stroke-width="2.8" stroke-linecap="round" stroke-linejoin="round"/>
<polygon points="233.8,221.8 232.0,222.5 230.3,223.3 228.8,224.2 227.5,225.1 226.5,226.1 225.7,227.0 225.3,228.0 225.2,228.9 225.4,229.4 225.5,231.7 225.4,231.4 225.6,231.5 226.1,231.6 226.9,231.7 228.0,231.7 229.4,231.6 230.9,231.4 232.7,231.2 234.5,230.8" fill="#eddfc9" stroke="#c8ab88" stroke-width="0.55" stroke-linejoin="round"/>
<polyline points="234.4,225.2 232.5,225.8 230.8,226.4 229.3,227.1 228.0,227.7 227.0,228.3 226.2,228.9 225.7,229.5 225.6,230.1 225.8,230.5" fill="none" stroke="#fbf4ea" stroke-width="1.7" stroke-linecap="round" opacity="0.8"/>
<polygon points="251.6,234.6 251.1,234.5 250.4,234.5 249.3,234.5 248.0,234.5 246.5,234.7 244.8,234.9 242.9,235.2 241.0,235.6 239.0,236.1 237.0,236.7 235.1,237.4 233.2,238.1 231.5,239.0 230.0,239.8 228.7,240.7 227.7,241.7 227.0,242.6 226.6,243.6 226.4,244.6 226.6,245.0 226.8,247.3 226.6,247.0 226.8,247.2 227.4,247.3 228.2,247.3 229.3,247.3 230.6,247.2 232.2,247.0 233.9,246.8 235.8,246.5 237.7,246.0 239.7,245.5 241.7,244.9 243.7,244.2 245.5,243.5 247.1,242.6 248.6,241.8 249.8,240.9 250.8,239.9 251.5,238.9 251.9,238.0" fill="#eddfc9" stroke="#c8ab88" stroke-width="0.55" stroke-linejoin="round"/>
<polyline points="252.0,236.1 251.6,236.4 250.9,236.7 249.8,237.0 248.6,237.3 247.1,237.7 245.4,238.2 243.5,238.6 241.6,239.1 239.6,239.7 237.6,240.2 235.6,240.8 233.8,241.4 232.1,242.1 230.5,242.7 229.2,243.3 228.2,243.9 227.4,244.6 227.0,245.2 226.8,245.7 227.0,246.1" fill="none" stroke="#fbf4ea" stroke-width="1.7" stroke-linecap="round" opacity="0.8"/>
<polygon points="252.8,250.3 252.4,250.1 251.6,250.1 250.6,250.1 249.3,250.1 247.8,250.3 246.0,250.5 244.2,250.9 242.2,251.3 240.2,251.8 238.3,252.4 236.3,253.0 234.5,253.8 232.8,254.6 231.3,255.5 230.0,256.4 229.0,257.3 228.2,258.3 227.8,259.2 227.7,260.2 227.9,260.6 228.0,263.0 227.9,262.6 228.1,262.8 228.6,262.9 229.4,262.9 230.5,262.9 231.9,262.8 233.4,262.7 235.2,262.4 237.0,262.1 239.0,261.7 241.0,261.1 243.0,260.5 244.9,259.9 246.7,259.1 248.4,258.3 249.9,257.4 251.1,256.5 252.1,255.5 252.7,254.6 253.1,253.6" fill="#eddfc9" stroke="#c8ab88" stroke-width="0.55" stroke-linejoin="round"/>
<polyline points="253.3,251.7 252.8,252.0 252.1,252.3 251.1,252.6 249.8,253.0 248.3,253.4 246.6,253.8 244.8,254.3 242.8,254.8 240.8,255.3 238.8,255.9 236.9,256.5 235.0,257.1 233.3,257.7 231.8,258.3 230.5,258.9 229.5,259.6 228.7,260.2 228.2,260.8 228.1,261.4 228.3,261.8" fill="none" stroke="#fbf4ea" stroke-width="1.7" stroke-linecap="round" opacity="0.8"/>
<polygon points="254.1,265.9 253.6,265.8 252.9,265.7 251.8,265.7 250.5,265.8 249.0,265.9 247.3,266.2 245.4,266.5 243.5,266.9 241.5,267.4 239.5,268.0 237.6,268.7 235.7,269.4 234.0,270.2 232.5,271.1 231.2,272.0 230.2,272.9 229.5,273.9 229.1,274.9 228.9,275.8 229.1,278.3 229.3,278.4 229.9,278.5 230.7,278.6 231.8,278.5 233.1,278.5 234.7,278.3 236.4,278.0 238.3,277.7 240.2,277.3 242.2,276.8 244.2,276.2 246.2,275.5 248.0,274.7 249.6,273.9 251.1,273.0 252.3,272.1 253.3,271.2 254.0,270.2 254.4,269.2" fill="#eddfc9" stroke="#c8ab88" stroke-width="0.55" stroke-linejoin="round"/>
<polyline points="254.5,267.4 254.1,267.6 253.4,267.9 252.3,268.2 251.1,268.6 249.6,269.0 247.9,269.4 246.0,269.9 244.1,270.4 242.1,270.9 240.1,271.5 238.1,272.1 236.3,272.7 234.6,273.3 233.0,273.9 231.7,274.6 230.7,275.2 229.9,275.8 229.5,276.4 229.3,277.0" fill="none" stroke="#fbf4ea" stroke-width="1.7" stroke-linecap="round" opacity="0.8"/>
<polyline points="183.9,256.2 184.3,256.6 184.8,256.9 185.5,257.0 186.2,257.1 187.1,257.1 188.1,257.0 189.2,256.9 190.3,256.7 191.5,256.5 192.7,256.3 193.9,256.1 195.1,255.9 196.2,255.7 197.2,255.6 198.2,255.5 199.1,255.5 199.9,255.6 200.5,255.8 201.0,256.1 201.4,256.5" fill="none" stroke="#c8ab88" stroke-width="4.0" stroke-linecap="round" stroke-linejoin="round"/>
<polyline points="183.9,256.2 184.3,256.6 184.8,256.9 185.5,257.0 186.2,257.1 187.1,257.1 188.1,257.0 189.2,256.9 190.3,256.7 191.5,256.5 192.7,256.3 193.9,256.1 195.1,255.9 196.2,255.7 197.2,255.6 198.2,255.5 199.1,255.5 199.9,255.6 200.5,255.8 201.0,256.1 201.4,256.5" fill="none" stroke="#dcc6a6" stroke-width="2.6" stroke-linecap="round" stroke-linejoin="round"/>
<polyline points="196.2,273.2 196.6,273.5 197.1,273.8 197.8,273.9 198.5,274.0 199.4,274.0 200.4,273.9 201.5,273.8" fill="none" stroke="#c8ab88" stroke-width="4.0" stroke-linecap="round" stroke-linejoin="round"/>
<polyline points="196.2,273.2 196.6,273.5 197.1,273.8 197.8,273.9 198.5,274.0 199.4,274.0 200.4,273.9 201.5,273.8" fill="none" stroke="#dcc6a6" stroke-width="2.6" stroke-linecap="round" stroke-linejoin="round"/>
<polygon points="181.9,250.2 181.9,251.4 182.0,252.5 182.3,253.5 182.7,254.5 183.2,255.3 184.5,257.1 184.5,257.0 184.7,256.9 185.0,256.6 185.4,256.2 185.9,255.7" fill="#eddfc9" stroke="#c8ab88" stroke-width="0.55" stroke-linejoin="round"/>
<polyline points="183.7,252.2 183.6,253.1 183.5,254.0 183.6,254.8 183.8,255.5 184.1,256.1" fill="none" stroke="#fbf4ea" stroke-width="1.6" stroke-linecap="round" opacity="0.8"/>
<polygon points="200.7,255.5 200.6,255.6 200.4,255.8 200.1,256.1 199.6,256.5 199.1,257.0 198.6,257.7 198.0,258.4 197.3,259.3 196.7,260.3 196.1,261.3 195.6,262.4 195.1,263.6 194.7,264.7 194.4,265.9 194.2,267.1 194.2,268.3 194.3,269.4 194.6,270.4 195.0,271.4 195.5,272.3 196.8,274.0 196.9,274.0 197.0,273.8 197.3,273.5 197.8,273.1 198.2,272.6 198.8,272.0 199.4,271.2 200.0,270.4 200.7,269.5 201.3,268.4 201.8,267.3 202.3,266.2 202.7,265.0 203.0,263.8 203.2,262.6 203.3,261.5 203.2,260.3 202.9,259.3 202.6,258.3 202.0,257.4" fill="#eddfc9" stroke="#c8ab88" stroke-width="0.55" stroke-linejoin="round"/>
<polyline points="201.6,256.3 201.7,256.6 201.7,257.1 201.6,257.6 201.3,258.3 201.0,259.0 200.5,259.9 200.0,260.8 199.5,261.8 198.9,262.8 198.3,263.8 197.7,264.9 197.2,266.0 196.7,267.1 196.4,268.1 196.1,269.1 195.9,270.0 195.8,270.9 195.9,271.7 196.1,272.4 196.4,273.0" fill="none" stroke="#fbf4ea" stroke-width="1.6" stroke-linecap="round" opacity="0.8"/>
<polyline points="168.7,296.2 169.2,296.0 169.7,295.6 170.3,294.8 170.9,293.8 171.5,292.6 172.0,291.2 172.7,289.6 173.3,287.9 173.9,286.1 174.5,284.2 175.1,282.4 175.8,280.6 176.4,278.9 177.0,277.4 177.6,276.0 178.2,274.9 178.7,274.0 179.3,273.3 179.8,273.0 180.3,272.9" fill="none" stroke="#c8ab88" stroke-width="4.7" stroke-linecap="round" stroke-linejoin="round"/>
<polyline points="168.7,296.2 169.2,296.0 169.7,295.6 170.3,294.8 170.9,293.8 171.5,292.6 172.0,291.2 172.7,289.6 173.3,287.9 173.9,286.1 174.5,284.2 175.1,282.4 175.8,280.6 176.4,278.9 177.0,277.4 177.6,276.0 178.2,274.9 178.7,274.0 179.3,273.3 179.8,273.0 180.3,272.9" fill="none" stroke="#dcc6a6" stroke-width="3.1" stroke-linecap="round" stroke-linejoin="round"/>
<polyline points="188.7,297.5 189.2,297.4 189.7,296.9 190.3,296.2 190.9,295.2 191.5,294.0 192.0,292.5 192.7,290.9 193.3,289.2 193.9,287.4 194.5,285.6 195.1,283.7 195.8,281.9 196.4,280.3" fill="none" stroke="#c8ab88" stroke-width="4.7" stroke-linecap="round" stroke-linejoin="round"/>
<polyline points="188.7,297.5 189.2,297.4 189.7,296.9 190.3,296.2 190.9,295.2 191.5,294.0 192.0,292.5 192.7,290.9 193.3,289.2 193.9,287.4 194.5,285.6 195.1,283.7 195.8,281.9 196.4,280.3" fill="none" stroke="#dcc6a6" stroke-width="3.1" stroke-linecap="round" stroke-linejoin="round"/>
<polygon points="160.9,289.4 161.6,291.1 162.5,292.5 163.3,293.8 164.3,294.8 165.3,295.5 166.4,296.0 167.4,296.1 170.0,296.3 170.0,296.2 170.1,295.8 170.2,295.2 170.3,294.2 170.4,293.0 170.4,291.6 170.3,290.1" fill="#eddfc9" stroke="#c8ab88" stroke-width="0.55" stroke-linejoin="round"/>
<polyline points="164.5,289.4 165.0,291.0 165.6,292.4 166.2,293.6 166.8,294.6 167.4,295.3 168.1,295.8 168.7,295.9" fill="none" stroke="#fbf4ea" stroke-width="1.9" stroke-linecap="round" opacity="0.8"/>
<polygon points="178.9,272.8 178.8,273.0 178.6,273.5 178.5,274.3 178.5,275.3 178.4,276.6 178.4,278.0 178.5,279.7 178.7,281.5 178.9,283.3 179.3,285.2 179.7,287.1 180.3,289.0 180.9,290.8 181.6,292.4 182.5,293.8 183.3,295.1 184.3,296.1 185.3,296.8 186.4,297.3 187.4,297.4 190.0,297.6 190.0,297.5 190.1,297.1 190.2,296.5 190.3,295.6 190.4,294.4 190.4,293.0 190.3,291.4 190.2,289.7 190.0,287.8 189.7,285.9 189.3,284.0 188.8,282.1 188.2,280.3 187.5,278.6 186.7,277.1 185.8,275.8 184.9,274.7 183.9,273.9 182.8,273.3 181.7,273.0" fill="#eddfc9" stroke="#c8ab88" stroke-width="0.55" stroke-linejoin="round"/>
<polyline points="180.3,272.6 180.6,272.9 180.9,273.4 181.1,274.2 181.4,275.2 181.7,276.5 181.9,278.0 182.2,279.6 182.5,281.4 182.9,283.3 183.3,285.2 183.6,287.1 184.1,288.9 184.5,290.7 185.0,292.3 185.6,293.8 186.2,295.0 186.8,296.0 187.4,296.7 188.1,297.1 188.7,297.2" fill="none" stroke="#fbf4ea" stroke-width="1.9" stroke-linecap="round" opacity="0.8"/>
<polyline points="236.4,292.1 236.9,292.1 237.6,292.0 238.3,291.6 239.0,291.1 239.9,290.5 240.8,289.7 241.8,288.7 242.8,287.7 243.8,286.7 244.9,285.6 245.9,284.5 246.9,283.5 247.9,282.6 248.9,281.7 249.7,281.0 250.6,280.4 251.3,280.0 252.0,279.7 252.5,279.7 253.0,279.9" fill="none" stroke="#c8ab88" stroke-width="4.3" stroke-linecap="round" stroke-linejoin="round"/>
<polyline points="236.4,292.1 236.9,292.1 237.6,292.0 238.3,291.6 239.0,291.1 239.9,290.5 240.8,289.7 241.8,288.7 242.8,287.7 243.8,286.7 244.9,285.6 245.9,284.5 246.9,283.5 247.9,282.6 248.9,281.7 249.7,281.0 250.6,280.4 251.3,280.0 252.0,279.7 252.5,279.7 253.0,279.9" fill="none" stroke="#dcc6a6" stroke-width="2.9" stroke-linecap="round" stroke-linejoin="round"/>
<polygon points="231.0,281.7 231.0,283.2 231.1,284.7 231.4,286.1 231.8,287.4 232.3,288.6 232.9,289.6 233.6,290.5 234.5,291.1 235.3,291.6 237.5,292.6 237.4,292.5 237.6,292.2 237.8,291.8 238.1,291.2 238.4,290.4 238.7,289.4 239.0,288.2 239.3,287.0 239.6,285.6" fill="#eddfc9" stroke="#c8ab88" stroke-width="0.55" stroke-linejoin="round"/>
<polyline points="234.4,282.9 234.3,284.4 234.3,285.8 234.4,287.1 234.5,288.3 234.7,289.3 235.1,290.2 235.5,291.0 236.0,291.5 236.5,291.8" fill="none" stroke="#fbf4ea" stroke-width="1.7" stroke-linecap="round" opacity="0.8"/>
<polygon points="251.8,279.3 251.7,279.4 251.5,279.8 251.2,280.3 250.9,281.0 250.6,281.9 250.3,283.0 250.0,284.2 249.7,285.6 249.5,287.0 249.3,288.5 249.3,290.0 249.3,291.5 249.5,293.0 249.7,294.4 250.1,295.7 250.6,296.9 251.2,297.9 252.0,298.8 252.8,299.5 255.8,300.8 255.9,300.6 256.1,300.2 256.4,299.5 256.7,298.7 257.1,297.7 257.4,296.6 257.7,295.3 257.9,293.9 258.1,292.5 258.2,291.0 258.2,289.4 258.1,287.9 257.9,286.5 257.6,285.1 257.2,283.9 256.6,282.8 255.9,281.8 255.1,281.0 254.2,280.4" fill="#eddfc9" stroke="#c8ab88" stroke-width="0.55" stroke-linejoin="round"/>
<polyline points="253.1,279.6 253.3,279.9 253.5,280.3 253.5,281.0 253.5,281.9 253.5,282.9 253.3,284.1 253.2,285.4 253.1,286.8 252.9,288.2 252.8,289.7 252.7,291.2 252.6,292.7 252.6,294.1 252.7,295.4 252.8,296.6 253.1,297.7 253.4,298.6 253.8,299.3 254.3,299.8" fill="none" stroke="#fbf4ea" stroke-width="1.7" stroke-linecap="round" opacity="0.8"/>
<path d="M208,240 C210,252 212,264 212,276 C213,284 216,292 220,298" fill="none" stroke="#c8ab88" stroke-width="3.05" stroke-linecap="round" stroke-linejoin="round"/>
<path d="M208,240 C210,252 212,264 212,276 C213,284 216,292 220,298" fill="none" stroke="#eddfc9" stroke-width="2.25" stroke-linecap="round" stroke-linejoin="round"/>
<path d="M216,272 C222,276 232,280 240,282" fill="none" stroke="#c8ab88" stroke-width="3.05" stroke-linecap="round" stroke-linejoin="round"/>
<path d="M216,272 C222,276 232,280 240,282" fill="none" stroke="#eddfc9" stroke-width="2.25" stroke-linecap="round" stroke-linejoin="round"/>
<path d="M200,296 C204,290 210,286 214,280" fill="none" stroke="#c8ab88" stroke-width="3.05" stroke-linecap="round" stroke-linejoin="round"/>
<path d="M200,296 C204,290 210,286 214,280" fill="none" stroke="#eddfc9" stroke-width="2.25" stroke-linecap="round" stroke-linejoin="round"/>
</g>
<line x1="220" y1="256" x2="224" y2="262" stroke="#d3b68c" stroke-width="1.8" stroke-linecap="round"/>
<line x1="224" y1="262" x2="222" y2="268" stroke="#d3b68c" stroke-width="1.8" stroke-linecap="round"/>
<line x1="224" y1="262" x2="230" y2="262" stroke="#d3b68c" stroke-width="1.8" stroke-linecap="round"/>
<line x1="230" y1="262" x2="234" y2="268" stroke="#d3b68c" stroke-width="1.8" stroke-linecap="round"/>
<line x1="221" y1="254" x2="221" y2="251" stroke="#e03030" stroke-width="1.8" stroke-linecap="round"/>
<line x1="230" y1="262" x2="232" y2="259" stroke="#e03030" stroke-width="1.8" stroke-linecap="round"/>
<line x1="222" y1="268" x2="224" y2="270" stroke="#e03030" stroke-width="1.8" stroke-linecap="round"/>
<line x1="234" y1="268" x2="236" y2="270" stroke="#e03030" stroke-width="1.8" stroke-linecap="round"/>
</g>
<polyline points="165.6,192.7 172.9,193.5 176.2,190.3 183.5,187 185.1,183.8" fill="none" stroke="#a88a60" stroke-width="2.6" stroke-linecap="round" stroke-linejoin="round"/>
<polyline points="165.6,192.7 172.9,193.5 176.2,190.3 183.5,187 185.1,183.8" fill="none" stroke="#2fb2b2" stroke-width="2.0" stroke-linecap="round" stroke-linejoin="round"/>
<polyline points="183.5,187 187.6,191.9 192,194.5" fill="none" stroke="#a88a60" stroke-width="2.6" stroke-linecap="round" stroke-linejoin="round"/>
<polyline points="183.5,187 187.6,191.9 192,194.5" fill="none" stroke="#2fb2b2" stroke-width="2.0" stroke-linecap="round" stroke-linejoin="round"/>
<polyline points="187,182 189.2,174.8 197.5,170.5" fill="none" stroke="#a88a60" stroke-width="2.6" stroke-linecap="round" stroke-linejoin="round"/>
<polyline points="187,182 189.2,174.8 197.5,170.5" fill="none" stroke="#d8bf98" stroke-width="2.0" stroke-linecap="round" stroke-linejoin="round"/>
<polyline points="189.2,174.8 196,176 203.5,178" fill="none" stroke="#a88a60" stroke-width="2.6" stroke-linecap="round" stroke-linejoin="round"/>
<polyline points="189.2,174.8 196,176 203.5,178" fill="none" stroke="#d8bf98" stroke-width="2.0" stroke-linecap="round" stroke-linejoin="round"/>
<polyline points="203.5,178 207.1,186.2 206,193 203.9,196.8 196,198" fill="none" stroke="#a88a60" stroke-width="2.6" stroke-linecap="round" stroke-linejoin="round"/>
<polyline points="203.5,178 207.1,186.2 206,193 203.9,196.8 196,198" fill="none" stroke="#d8bf98" stroke-width="2.0" stroke-linecap="round" stroke-linejoin="round"/>
<polyline points="196,198 194,204 194.1,209" fill="none" stroke="#a88a60" stroke-width="2.6" stroke-linecap="round" stroke-linejoin="round"/>
<polyline points="196,198 194,204 194.1,209" fill="none" stroke="#d8bf98" stroke-width="2.0" stroke-linecap="round" stroke-linejoin="round"/>
<line x1="185" y1="182.5" x2="189" y2="181" stroke="#2a2ad8" stroke-width="2" stroke-linecap="round"/>
<line x1="196.5" y1="171" x2="199" y2="169.5" stroke="#2a2ad8" stroke-width="2" stroke-linecap="round"/>
<line x1="202" y1="177.8" x2="205" y2="178.5" stroke="#e03030" stroke-width="2" stroke-linecap="round"/>
<line x1="205.8" y1="184.6" x2="207.5" y2="188.2" stroke="#2a2ad8" stroke-width="2" stroke-linecap="round"/>
<line x1="190" y1="194" x2="193.5" y2="196" stroke="#2a2ad8" stroke-width="2" stroke-linecap="round"/>
<line x1="168" y1="194" x2="170" y2="195.5" stroke="#e03030" stroke-width="2" stroke-linecap="round"/>
<line x1="176" y1="193" x2="177" y2="195" stroke="#e03030" stroke-width="2" stroke-linecap="round"/>
<line x1="194" y1="206" x2="194" y2="209" stroke="#e03030" stroke-width="2" stroke-linecap="round"/>
<line x1="165.6" y1="192.7" x2="167.5" y2="192.8" stroke="#2a2ad8" stroke-width="2" stroke-linecap="round"/>
<path d="M178.5,264 C182,260 190,259 197,262 L196.9,270 C190,272 183,272 178.5,271.7 Z" fill="#5fd3d3" stroke="#2a9c9c" stroke-width="0.5"/>
<polyline points="191,239.9 186,245 185.2,250.8 182.6,254.2 186,259.2 183.5,264.2" fill="none" stroke="#a88a60" stroke-width="2.6" stroke-linecap="round" stroke-linejoin="round"/>
<polyline points="191,239.9 186,245 185.2,250.8 182.6,254.2 186,259.2 183.5,264.2" fill="none" stroke="#2fb2b2" stroke-width="2.0" stroke-linecap="round" stroke-linejoin="round"/>
<polyline points="172,260 178,259 183,262" fill="none" stroke="#a88a60" stroke-width="2.6" stroke-linecap="round" stroke-linejoin="round"/>
<polyline points="172,260 178,259 183,262" fill="none" stroke="#d8bf98" stroke-width="2.0" stroke-linecap="round" stroke-linejoin="round"/>
<polyline points="186,272 190,278 196,278 204,276 210,272 214,266" fill="none" stroke="#a88a60" stroke-width="2.6" stroke-linecap="round" stroke-linejoin="round"/>
<polyline points="186,272 190,278 196,278 204,276 210,272 214,266" fill="none" stroke="#d8bf98" stroke-width="2.0" stroke-linecap="round" stroke-linejoin="round"/>
<polyline points="196,252 198,258 203,262" fill="none" stroke="#a88a60" stroke-width="2.6" stroke-linecap="round" stroke-linejoin="round"/>
<polyline points="196,252 198,258 203,262" fill="none" stroke="#d8bf98" stroke-width="2.0" stroke-linecap="round" stroke-linejoin="round"/>
<polyline points="208,270 212,266 214,262" fill="none" stroke="#a88a60" stroke-width="2.6" stroke-linecap="round" stroke-linejoin="round"/>
<polyline points="208,270 212,266 214,262" fill="none" stroke="#d8bf98" stroke-width="2.0" stroke-linecap="round" stroke-linejoin="round"/>
<line x1="189.5" y1="240.5" x2="192" y2="239" stroke="#2a2ad8" stroke-width="2" stroke-linecap="round"/>
<line x1="185" y1="249" x2="186" y2="246" stroke="#2a2ad8" stroke-width="2" stroke-linecap="round"/>
<line x1="171" y1="260" x2="173" y2="260" stroke="#e03030" stroke-width="2" stroke-linecap="round"/>
<line x1="196" y1="252" x2="197" y2="254.5" stroke="#2a2ad8" stroke-width="2" stroke-linecap="round"/>
<line x1="203" y1="262" x2="204.5" y2="262.5" stroke="#2a2ad8" stroke-width="2" stroke-linecap="round"/>
<line x1="190" y1="278" x2="189" y2="281" stroke="#2a2ad8" stroke-width="2" stroke-linecap="round"/>
<line x1="210" y1="272" x2="212" y2="273.5" stroke="#2a2ad8" stroke-width="2" stroke-linecap="round"/>
<line x1="214" y1="266" x2="216" y2="265" stroke="#2a2ad8" stroke-width="2" stroke-linecap="round"/>
<line x1="182" y1="276" x2="181" y2="279" stroke="#e03030" stroke-width="2" stroke-linecap="round"/>
<line x1="213" y1="263" x2="215" y2="261" stroke="#e03030" stroke-width="2" stroke-linecap="round"/>
<circle cx="15.60" cy="192.00" r="5.80" fill="#fff" stroke="#5cc8c8" stroke-width="0.7"/>
<text stroke="#222" stroke-width="0.22" x="15.60" y="194.90" font-size="8.0" text-anchor="middle" fill="#222" >i</text>
<circle cx="75.90" cy="260.00" r="5.60" fill="#fff" stroke="#5cc8c8" stroke-width="0.7"/>
<text stroke="#222" stroke-width="0.22" x="75.90" y="262.90" font-size="8.0" text-anchor="middle" fill="#222" >ii</text>
<circle cx="168.40" cy="161.80" r="5.40" fill="#fff" stroke="#5cc8c8" stroke-width="0.7"/>
<text stroke="#222" stroke-width="0.22" x="168.40" y="164.70" font-size="8.0" text-anchor="middle" fill="#222" >i</text>
<circle cx="168.60" cy="232.10" r="5.40" fill="#fff" stroke="#5cc8c8" stroke-width="0.7"/>
<text stroke="#222" stroke-width="0.22" x="168.60" y="235.00" font-size="8.0" text-anchor="middle" fill="#222" >ii</text>
<rect x="23.80" y="186.20" width="53.10" height="11.50" fill="#fff" stroke="#444" stroke-width="0.5" />
<text stroke="#222" stroke-width="0.22" x="25.70" y="194.90" font-size="8.0" text-anchor="start" fill="#222" >Domain linker</text>
<rect x="84.10" y="254.30" width="57.60" height="12.30" fill="#fff" stroke="#444" stroke-width="0.5" />
<text stroke="#222" stroke-width="0.22" x="86.40" y="263.30" font-size="8.1" text-anchor="start" fill="#222" >Flexibility node</text>
<text stroke="#222" stroke-width="0.22" x="203.00" y="174.30" font-size="7.6" text-anchor="start" fill="#222" >S166</text>
<text stroke="#222" stroke-width="0.22" x="165.80" y="206.40" font-size="7.6" text-anchor="start" fill="#222" >N167</text>
<text stroke="#222" stroke-width="0.22" x="204.50" y="204.40" font-size="7.6" text-anchor="start" fill="#222" >N168</text>
<text stroke="#222" stroke-width="0.22" x="194.00" y="243.70" font-size="7.6" text-anchor="start" fill="#222" >R206</text>
<text stroke="#222" stroke-width="0.22" x="158.70" y="273.20" font-size="7.6" text-anchor="start" fill="#222" >E207</text>
<text stroke="#222" stroke-width="0.22" x="206.00" y="286.00" font-size="7.6" text-anchor="start" fill="#222" >R208</text>
<text stroke="#222" stroke-width="0.22" x="272.50" y="163.00" font-size="12.5" text-anchor="start" fill="#222" >e</text>
<text stroke="#222" stroke-width="0.22" x="488.00" y="163.00" font-size="12.5" text-anchor="start" fill="#222" >f</text>
<path d="M383.0 172.3h0.9v1.2h-0.9zM383.0 175.2h0.9v1.2h-0.9zM383.0 178.7h0.9v1.2h-0.9zM383.0 181.1h0.9v1.2h-0.9zM383.0 184.5h0.9v1.2h-0.9zM383.0 187.4h0.9v1.2h-0.9zM383.0 190.1h0.9v1.2h-0.9zM386.0 172.5h0.9v1.2h-0.9zM386.0 175.0h0.9v1.2h-0.9zM386.0 178.4h0.9v1.2h-0.9zM386.0 181.1h0.9v1.2h-0.9zM386.0 184.1h0.9v1.2h-0.9zM386.0 187.4h0.9v1.2h-0.9zM386.0 190.8h0.9v1.2h-0.9zM389.0 172.1h0.9v1.2h-0.9zM389.0 175.2h0.9v1.2h-0.9zM389.0 178.6h0.9v1.2h-0.9zM389.0 181.9h0.9v1.2h-0.9zM389.0 184.6h0.9v1.2h-0.9zM389.0 187.4h0.9v1.2h-0.9zM389.0 191.0h0.9v1.2h-0.9zM392.0 172.0h0.9v1.2h-0.9zM392.0 175.9h0.9v1.2h-0.9zM392.0 178.3h0.9v1.2h-0.9zM392.0 181.1h0.9v1.2h-0.9zM392.0 184.1h0.9v1.2h-0.9zM392.0 187.3h0.9v1.2h-0.9zM392.0 190.8h0.9v1.2h-0.9z" fill="#cacaf6"/>
<path d="M392.4 196.3h0.8v1.3h-0.8zM382.1 204.5h1.0v1.0h-1.0zM405.7 190.5h0.8v1.3h-0.8zM388.8 205.4h1.3v1.0h-1.3zM407.2 193.0h1.0v0.8h-1.0zM411.7 185.9h0.8v0.8h-0.8zM416.4 180.9h0.8v1.3h-0.8zM429.8 167.4h1.0v0.8h-1.0zM390.7 202.2h0.8v1.0h-0.8zM380.4 211.2h1.3v1.0h-1.3zM431.0 164.1h1.0v1.3h-1.0zM410.1 184.1h0.8v0.8h-0.8zM370.2 222.5h1.3v1.3h-1.3zM420.6 175.5h1.0v1.3h-1.0zM402.3 192.3h1.3v0.8h-1.3zM400.7 194.1h1.0v1.3h-1.0zM421.5 170.9h1.0v1.0h-1.0zM394.5 195.6h1.0v1.3h-1.0zM380.7 217.8h0.8v1.3h-0.8zM370.0 223.9h1.0v1.3h-1.0zM416.5 180.3h0.8v1.0h-0.8zM375.9 213.1h1.0v1.3h-1.0zM410.9 179.9h1.0v0.8h-1.0zM398.8 193.5h1.3v0.8h-1.3zM374.9 213.0h1.3v0.8h-1.3zM378.3 213.5h1.3v1.3h-1.3zM373.7 220.1h0.8v1.3h-0.8zM416.3 176.7h1.0v1.0h-1.0zM429.7 168.6h1.0v1.0h-1.0zM413.3 180.1h0.8v1.3h-0.8zM377.5 213.2h0.8v1.3h-0.8zM374.3 220.2h1.3v0.8h-1.3zM409.3 180.1h1.3v0.8h-1.3zM385.2 208.1h1.0v1.3h-1.0zM403.5 190.4h1.0v1.0h-1.0zM401.9 185.7h0.8v1.0h-0.8zM423.5 163.8h1.3v1.0h-1.3zM409.4 181.2h1.0v1.3h-1.0zM395.4 204.7h1.0v1.3h-1.0zM421.8 166.6h0.8v1.0h-0.8zM416.9 174.4h1.0v1.0h-1.0zM410.6 185.8h1.0v1.0h-1.0zM426.4 174.3h1.0v0.8h-1.0zM428.1 166.4h0.8v1.0h-0.8zM394.6 202.6h1.3v1.0h-1.3zM425.7 174.1h1.0v0.8h-1.0zM426.1 164.9h0.8v0.8h-0.8zM428.0 168.9h1.3v1.0h-1.3zM409.9 187.0h1.0v1.3h-1.0zM404.5 184.5h1.0v1.3h-1.0zM381.5 207.5h0.8v1.0h-0.8zM407.9 185.4h0.8v1.0h-0.8zM410.8 182.5h1.0v1.3h-1.0zM427.1 166.5h1.0v0.8h-1.0zM394.4 201.8h1.0v1.0h-1.0zM379.8 211.0h1.3v0.8h-1.3zM408.8 184.7h1.3v1.3h-1.3zM415.7 176.1h1.3v1.0h-1.3zM420.7 172.2h0.8v1.3h-0.8zM409.5 188.1h1.3v1.0h-1.3zM424.8 167.7h0.8v1.0h-0.8zM379.2 219.0h1.0v1.0h-1.0zM406.6 185.9h1.3v1.3h-1.3zM374.1 218.8h0.8v0.8h-0.8zM375.9 219.9h0.8v1.3h-0.8zM427.9 169.0h0.8v0.8h-0.8zM416.3 175.1h1.0v1.0h-1.0zM413.7 185.2h1.3v1.3h-1.3zM387.2 208.9h1.0v1.0h-1.0zM401.3 198.2h0.8v1.3h-0.8zM385.9 209.1h1.3v0.8h-1.3zM406.7 184.0h0.8v1.0h-0.8zM429.1 168.7h0.8v1.0h-0.8zM408.9 178.0h0.8v0.8h-0.8zM374.0 219.1h1.3v1.0h-1.3zM379.5 219.9h1.3v0.8h-1.3zM398.4 197.2h0.8v1.0h-0.8zM418.0 176.7h1.3v1.0h-1.3zM409.9 182.2h1.3v1.3h-1.3zM374.6 217.9h1.0v1.0h-1.0zM422.3 173.9h0.8v0.8h-0.8zM421.4 174.6h1.3v0.8h-1.3zM410.2 183.5h1.3v0.8h-1.3zM370.1 216.4h1.0v1.3h-1.0zM422.6 175.9h1.0v0.8h-1.0zM416.5 180.5h1.0v1.0h-1.0zM376.5 221.4h1.0v1.0h-1.0zM373.1 222.7h1.3v1.0h-1.3zM417.2 176.9h1.3v0.8h-1.3zM400.3 195.5h1.0v1.0h-1.0zM386.7 200.0h0.8v1.3h-0.8zM399.5 197.5h1.0v1.0h-1.0zM427.7 166.1h0.8v0.8h-0.8zM415.0 173.6h0.8v1.0h-0.8zM400.8 194.0h1.3v1.0h-1.3zM429.5 166.8h0.8v1.0h-0.8zM375.7 216.2h0.8v1.0h-0.8zM417.5 183.4h1.0v1.3h-1.0zM408.6 185.0h0.8v1.0h-0.8zM396.2 193.6h0.8v1.0h-0.8zM385.8 204.4h1.3v0.8h-1.3zM388.3 202.5h1.3v1.3h-1.3zM425.3 167.6h0.8v1.0h-0.8zM381.8 206.4h1.3v1.0h-1.3zM407.4 191.4h0.8v1.0h-0.8zM387.7 210.2h0.8v1.3h-0.8zM395.2 203.8h0.8v1.3h-0.8zM378.6 215.0h1.3v1.3h-1.3zM376.2 215.1h1.0v1.3h-1.0zM383.7 213.3h1.3v0.8h-1.3zM425.8 163.1h1.3v1.0h-1.3zM401.4 194.4h1.0v1.0h-1.0zM391.5 199.2h0.8v1.3h-0.8zM410.0 180.7h1.3v1.0h-1.3zM382.2 217.7h0.8v1.3h-0.8zM380.2 210.0h1.3v1.3h-1.3zM393.5 206.9h1.0v1.0h-1.0zM419.3 172.3h1.3v1.0h-1.3zM382.5 216.4h1.3v0.8h-1.3zM393.2 203.1h1.0v0.8h-1.0zM384.7 214.8h1.3v0.8h-1.3zM418.4 175.4h1.3v0.8h-1.3zM417.8 177.0h0.8v0.8h-0.8zM420.9 169.5h1.0v1.0h-1.0zM381.5 205.8h0.8v0.8h-0.8zM413.9 181.6h1.0v0.8h-1.0zM409.5 184.5h0.8v1.3h-0.8zM401.3 188.5h1.0v0.8h-1.0zM404.3 183.9h0.8v1.3h-0.8zM424.3 164.1h1.3v1.3h-1.3zM392.4 198.3h1.3v0.8h-1.3zM404.4 186.9h0.8v0.8h-0.8zM419.0 170.7h1.3v1.3h-1.3zM387.9 206.2h0.8v1.3h-0.8zM379.7 208.5h1.3v1.3h-1.3zM401.2 194.9h1.0v0.8h-1.0zM389.6 199.7h1.3v0.8h-1.3zM412.0 186.0h1.0v1.3h-1.0zM399.6 192.4h0.8v0.8h-0.8zM380.6 213.1h1.0v1.0h-1.0zM391.7 195.1h0.8v1.3h-0.8zM414.5 182.9h1.0v1.0h-1.0zM414.0 178.0h1.3v1.0h-1.3zM405.6 181.2h1.0v1.0h-1.0zM380.2 218.0h0.8v1.3h-0.8zM385.9 206.0h1.0v1.0h-1.0zM409.6 187.5h1.0v0.8h-1.0zM408.2 183.1h1.3v1.0h-1.3zM409.9 181.8h1.3v1.3h-1.3zM421.1 172.1h0.8v0.8h-0.8zM404.0 184.8h1.0v0.8h-1.0zM382.5 211.3h1.3v1.3h-1.3zM411.2 184.1h1.0v1.0h-1.0zM422.7 164.3h1.3v1.0h-1.3zM428.6 170.9h0.8v1.0h-0.8zM369.9 218.8h1.3v1.0h-1.3zM370.5 223.7h0.8v0.8h-0.8zM415.6 179.0h1.3v1.0h-1.3zM394.5 197.0h1.0v1.3h-1.0zM390.6 196.2h1.3v1.3h-1.3zM390.9 198.9h0.8v0.8h-0.8zM380.0 213.3h1.3v1.3h-1.3zM423.2 165.1h1.0v0.8h-1.0zM394.8 205.9h1.0v1.0h-1.0zM410.4 179.4h1.0v1.3h-1.0zM401.9 192.9h0.8v1.0h-0.8zM396.1 200.0h0.8v1.0h-0.8zM422.1 170.4h1.3v1.3h-1.3zM392.4 203.6h0.8v0.8h-0.8zM399.8 194.1h1.3v0.8h-1.3zM420.1 168.7h0.8v1.3h-0.8zM411.6 181.4h1.0v1.0h-1.0zM422.5 178.3h0.8v0.8h-0.8zM402.6 185.5h1.0v1.3h-1.0zM394.7 197.4h1.0v0.8h-1.0zM372.3 215.8h1.3v1.0h-1.3zM411.2 180.7h0.8v0.8h-0.8zM426.7 170.7h1.0v1.0h-1.0zM396.0 204.4h1.0v0.8h-1.0zM426.0 174.8h1.0v1.3h-1.0zM380.4 211.2h0.8v1.3h-0.8zM423.9 169.6h1.3v1.3h-1.3zM402.6 193.8h0.8v1.0h-0.8zM393.7 194.5h0.8v0.8h-0.8zM417.3 173.2h0.8v1.0h-0.8zM418.3 171.6h0.8v0.8h-0.8zM413.9 184.0h1.0v1.3h-1.0zM412.4 181.2h1.0v1.3h-1.0zM406.0 189.3h1.3v1.0h-1.3zM393.8 201.2h1.0v1.0h-1.0zM333.8 261.1h1.0v1.3h-1.0zM346.1 242.1h1.0v0.8h-1.0zM359.0 234.2h0.8v0.8h-0.8zM326.9 267.5h1.3v1.3h-1.3zM362.5 231.6h1.0v1.3h-1.0zM354.8 242.0h1.0v1.3h-1.0zM318.2 269.3h1.0v0.8h-1.0zM330.3 266.5h1.0v0.8h-1.0zM349.9 246.3h1.0v1.0h-1.0zM315.2 280.7h1.3v1.0h-1.3zM317.6 270.4h1.3v1.3h-1.3zM360.2 231.7h0.8v0.8h-0.8zM360.3 232.4h0.8v1.3h-0.8zM315.7 282.4h1.0v1.3h-1.0zM313.0 279.0h0.8v1.3h-0.8zM350.5 249.9h1.3v1.0h-1.3zM318.1 278.9h0.8v0.8h-0.8zM342.4 252.4h0.8v0.8h-0.8zM336.1 260.0h1.3v1.0h-1.3zM360.9 234.6h1.3v0.8h-1.3zM353.8 238.0h1.3v0.8h-1.3zM345.9 244.0h1.0v0.8h-1.0zM360.0 230.5h1.0v1.0h-1.0zM333.2 261.5h1.3v0.8h-1.3zM354.2 241.0h1.0v1.3h-1.0zM327.4 262.5h1.3v0.8h-1.3zM367.3 229.8h1.0v0.8h-1.0zM325.0 271.2h0.8v1.0h-0.8zM356.2 230.8h1.0v1.3h-1.0zM348.7 243.3h0.8v0.8h-0.8zM330.0 257.3h1.0v1.3h-1.0zM359.3 238.6h1.0v1.0h-1.0zM325.4 272.4h1.3v1.0h-1.3zM332.8 265.7h1.0v0.8h-1.0zM363.6 236.0h1.0v1.0h-1.0zM322.8 275.3h1.0v1.3h-1.0zM336.0 258.5h0.8v1.0h-0.8zM311.4 280.0h0.8v1.0h-0.8zM335.5 254.7h1.3v1.0h-1.3zM312.9 279.0h0.8v1.3h-0.8zM313.7 283.4h1.0v0.8h-1.0zM330.2 264.7h0.8v0.8h-0.8zM347.7 252.9h1.0v1.3h-1.0zM344.6 249.4h0.8v0.8h-0.8zM356.6 238.4h1.3v1.0h-1.3zM327.5 268.2h1.3v1.0h-1.3zM339.2 256.0h1.3v1.0h-1.3zM347.1 241.3h1.3v0.8h-1.3zM336.2 257.9h1.3v1.3h-1.3zM345.1 241.9h1.3v0.8h-1.3zM323.7 264.2h1.0v0.8h-1.0zM322.9 267.7h0.8v1.0h-0.8zM362.9 234.8h0.8v1.3h-0.8zM330.9 261.8h0.8v0.8h-0.8zM339.6 252.8h0.8v1.0h-0.8zM336.5 260.5h1.0v1.3h-1.0zM311.5 281.8h0.8v0.8h-0.8zM347.0 251.4h1.3v1.0h-1.3zM337.1 255.3h0.8v0.8h-0.8zM357.4 233.2h0.8v1.0h-0.8zM324.4 269.0h0.8v0.8h-0.8zM314.0 277.5h1.3v0.8h-1.3zM367.9 226.6h0.8v0.8h-0.8zM329.7 269.2h1.3v1.3h-1.3zM327.7 270.4h1.3v1.0h-1.3zM318.0 276.5h1.0v0.8h-1.0zM324.0 268.8h0.8v0.8h-0.8zM311.6 284.5h1.3v0.8h-1.3zM361.7 229.2h1.3v0.8h-1.3zM318.3 279.5h0.8v1.0h-0.8zM315.1 283.4h1.0v1.0h-1.0zM331.8 257.6h0.8v1.0h-0.8zM349.2 246.2h1.0v1.0h-1.0zM329.7 267.5h0.8v0.8h-0.8zM334.4 256.7h1.0v1.3h-1.0zM330.9 257.4h0.8v0.8h-0.8zM315.0 272.8h1.0v1.3h-1.0zM308.7 278.8h0.8v1.0h-0.8zM344.2 250.4h0.8v0.8h-0.8zM334.7 264.6h1.0v0.8h-1.0zM333.2 257.0h1.0v1.0h-1.0zM323.4 264.6h0.8v1.0h-0.8zM346.6 247.6h1.0v0.8h-1.0zM314.4 280.6h1.0v1.0h-1.0zM348.5 240.2h1.0v0.8h-1.0zM339.9 253.7h1.0v1.0h-1.0zM339.4 260.1h1.0v1.3h-1.0zM339.0 255.0h1.3v1.3h-1.3zM339.5 247.1h1.0v1.3h-1.0zM351.8 245.8h1.3v0.8h-1.3zM345.6 242.2h0.8v0.8h-0.8zM360.2 229.8h0.8v0.8h-0.8zM332.7 264.1h1.0v1.3h-1.0zM336.5 260.8h1.3v1.0h-1.3zM330.8 267.7h1.3v1.0h-1.3zM348.9 251.5h0.8v0.8h-0.8zM331.2 269.0h0.8v1.0h-0.8zM354.2 246.5h0.8v0.8h-0.8zM352.7 240.6h0.8v1.3h-0.8zM313.6 274.6h0.8v0.8h-0.8zM320.7 279.0h0.8v0.8h-0.8zM313.9 280.6h1.3v1.3h-1.3zM360.9 233.0h1.0v1.0h-1.0zM348.4 249.0h0.8v1.0h-0.8zM356.3 236.3h1.0v1.3h-1.0zM357.9 230.0h1.3v0.8h-1.3zM356.7 232.7h1.3v1.3h-1.3zM327.7 263.5h1.0v0.8h-1.0zM327.0 268.6h1.3v0.8h-1.3zM347.8 246.9h0.8v1.3h-0.8zM336.6 254.0h0.8v1.0h-0.8zM364.7 233.6h1.3v1.0h-1.3zM330.3 261.0h0.8v1.0h-0.8zM334.4 259.1h1.3v1.0h-1.3zM349.6 241.9h0.8v1.0h-0.8zM357.2 232.5h0.8v1.3h-0.8zM326.6 273.1h1.3v1.3h-1.3zM313.7 278.6h1.0v1.0h-1.0zM362.7 232.1h1.0v1.3h-1.0zM332.4 263.6h1.0v0.8h-1.0zM324.3 262.1h1.3v1.3h-1.3zM326.4 270.7h1.0v1.0h-1.0zM363.8 234.3h1.3v1.0h-1.3zM366.4 233.7h1.3v1.0h-1.3zM365.4 225.4h1.0v0.8h-1.0zM357.7 238.3h1.0v0.8h-1.0zM363.1 235.4h1.3v1.0h-1.3zM367.9 232.2h1.3v1.3h-1.3zM323.1 272.3h1.0v1.3h-1.0zM326.8 262.2h0.8v1.0h-0.8zM338.5 248.4h1.3v1.3h-1.3zM309.5 284.9h1.3v1.3h-1.3zM346.9 246.6h0.8v1.0h-0.8zM339.9 259.8h1.0v1.3h-1.0zM342.1 247.7h1.0v0.8h-1.0zM346.9 246.9h1.3v1.3h-1.3zM342.5 253.4h1.3v1.0h-1.3zM313.4 277.0h0.8v1.3h-0.8zM350.7 242.1h0.8v1.3h-0.8zM364.1 236.1h1.0v1.3h-1.0zM333.5 263.4h1.0v1.3h-1.0zM356.9 240.3h1.3v1.3h-1.3zM360.8 232.0h1.0v1.0h-1.0zM320.9 271.4h1.0v1.0h-1.0zM315.5 276.0h1.3v0.8h-1.3zM327.7 266.0h1.3v0.8h-1.3zM359.9 227.0h1.3v1.0h-1.3zM317.2 279.0h1.3v1.0h-1.3zM316.3 277.7h1.0v0.8h-1.0zM336.6 252.9h1.3v0.8h-1.3zM334.7 258.5h1.0v0.8h-1.0zM360.6 231.3h1.3v1.3h-1.3zM335.4 259.6h1.3v0.8h-1.3zM343.2 244.1h0.8v1.3h-0.8zM347.2 245.2h0.8v1.0h-0.8zM326.2 267.0h1.3v0.8h-1.3zM339.6 260.7h1.3v1.0h-1.3zM367.0 229.9h1.0v1.3h-1.0zM351.7 244.0h1.3v0.8h-1.3zM322.6 271.7h1.0v1.0h-1.0zM316.6 282.2h1.3v1.0h-1.3zM341.9 257.9h0.8v1.3h-0.8zM367.1 226.7h1.3v1.0h-1.3zM342.1 257.2h1.3v1.3h-1.3zM313.8 280.3h0.8v1.3h-0.8zM348.6 244.5h1.3v1.3h-1.3zM332.6 258.8h1.0v0.8h-1.0zM340.6 257.1h1.3v0.8h-1.3zM358.7 228.9h1.0v1.3h-1.0zM326.6 269.1h1.3v0.8h-1.3zM337.0 252.5h0.8v0.8h-0.8zM336.7 261.8h1.3v0.8h-1.3zM368.4 231.1h1.0v1.0h-1.0zM309.9 281.9h1.3v1.3h-1.3zM320.4 276.6h1.3v1.3h-1.3zM335.3 260.4h1.3v0.8h-1.3zM353.3 239.4h1.0v1.3h-1.0zM361.2 236.7h1.0v0.8h-1.0zM346.3 251.8h0.8v1.3h-0.8zM360.6 231.6h0.8v1.3h-0.8zM315.9 278.2h1.3v1.3h-1.3zM347.5 245.0h0.8v1.0h-0.8zM356.9 235.5h1.0v0.8h-1.0zM343.0 251.1h1.0v0.8h-1.0zM340.6 248.0h0.8v1.3h-0.8zM340.9 259.8h1.3v1.0h-1.3zM331.1 263.5h1.3v1.0h-1.3zM350.4 239.9h0.8v1.0h-0.8zM337.6 252.8h1.0v1.3h-1.0zM339.5 259.8h1.0v0.8h-1.0zM336.1 255.8h0.8v0.8h-0.8zM329.9 268.0h1.3v0.8h-1.3zM361.2 231.1h0.8v1.3h-0.8zM353.0 247.4h1.0v0.8h-1.0zM336.8 262.7h1.0v0.8h-1.0zM339.4 256.7h1.0v0.8h-1.0zM317.1 277.0h0.8v0.8h-0.8zM359.5 239.8h1.0v1.3h-1.0zM313.0 277.6h1.0v1.0h-1.0zM330.1 266.1h1.0v1.3h-1.0zM312.5 282.2h1.0v1.0h-1.0zM330.6 257.5h1.3v1.3h-1.3zM319.8 268.2h0.8v0.8h-0.8zM339.6 255.9h1.0v0.8h-1.0zM368.9 227.9h1.0v1.3h-1.0zM313.0 282.2h1.0v1.0h-1.0z" fill="#f7b0b0"/>
<path d="M417.7 167.5h1.0v1.0h-1.0zM378.7 192.7h1.3v0.8h-1.3zM378.7 203.2h1.3v0.8h-1.3zM393.7 187.1h1.3v1.0h-1.3zM390.9 184.9h1.0v1.0h-1.0zM399.1 181.7h1.3v1.0h-1.3zM398.1 208.4h0.8v0.8h-0.8zM384.2 198.7h1.0v0.8h-1.0zM408.0 194.1h0.8v0.8h-0.8zM394.4 183.9h0.8v0.8h-0.8zM373.7 208.3h0.8v0.8h-0.8zM388.5 184.5h1.0v0.8h-1.0zM409.2 167.7h1.3v1.0h-1.3zM382.3 220.9h1.3v0.8h-1.3zM395.1 185.7h1.0v0.8h-1.0zM427.7 174.5h1.3v1.0h-1.3zM378.5 222.5h1.0v0.8h-1.0zM376.7 202.2h1.3v1.0h-1.3zM386.5 222.3h1.3v1.3h-1.3zM417.5 162.5h1.3v0.8h-1.3zM426.8 176.4h1.0v1.3h-1.0zM395.1 206.3h1.0v1.3h-1.0zM419.2 166.2h0.8v1.3h-0.8zM389.0 179.5h1.3v1.3h-1.3zM377.5 193.1h1.3v1.0h-1.3zM417.9 167.3h0.8v0.8h-0.8zM409.8 175.0h1.0v1.0h-1.0zM411.4 173.9h0.8v0.8h-0.8zM418.7 196.3h0.8v1.0h-0.8zM429.3 174.6h0.8v1.0h-0.8zM407.9 200.5h1.0v0.8h-1.0zM392.1 193.6h0.8v1.3h-0.8zM419.6 187.2h1.0v1.0h-1.0zM409.8 210.9h0.8v1.3h-0.8zM372.3 213.1h1.3v1.3h-1.3zM395.2 184.9h1.0v0.8h-1.0zM407.3 165.2h1.3v1.0h-1.3zM395.0 181.0h1.0v1.3h-1.0zM384.7 218.3h1.3v0.8h-1.3zM394.5 177.1h0.8v0.8h-0.8zM427.9 178.7h1.3v1.3h-1.3zM402.3 162.8h1.3v0.8h-1.3zM404.7 181.4h1.3v1.3h-1.3zM375.4 191.4h1.3v0.8h-1.3zM414.8 189.3h1.3v0.8h-1.3zM424.8 182.7h1.0v0.8h-1.0zM393.7 209.6h1.3v1.0h-1.3zM408.6 163.3h0.8v1.3h-0.8zM403.8 178.8h0.8v1.0h-0.8zM402.8 215.8h1.0v1.0h-1.0zM411.3 173.6h1.3v0.8h-1.3zM399.4 209.3h0.8v1.3h-0.8zM423.5 183.7h1.0v0.8h-1.0zM397.7 209.6h0.8v0.8h-0.8zM395.4 205.5h0.8v0.8h-0.8zM423.3 207.3h0.8v1.3h-0.8zM405.9 174.1h0.8v1.3h-0.8zM387.3 198.2h1.3v0.8h-1.3zM416.6 192.3h1.0v0.8h-1.0zM378.2 204.3h1.3v0.8h-1.3zM426.8 186.2h0.8v1.0h-0.8zM389.1 218.3h1.3v0.8h-1.3zM393.5 188.1h1.3v1.0h-1.3zM382.9 197.8h0.8v1.3h-0.8zM405.5 174.9h1.3v1.3h-1.3zM394.6 207.1h1.0v1.0h-1.0zM377.6 203.6h1.3v1.0h-1.3zM425.1 180.4h1.3v1.0h-1.3zM403.8 221.5h1.3v1.3h-1.3zM423.4 189.6h1.0v1.0h-1.0zM406.3 202.5h1.3v1.0h-1.3zM387.9 195.6h1.3v1.0h-1.3zM411.8 198.2h0.8v1.0h-0.8zM381.2 201.0h0.8v1.0h-0.8zM407.8 177.8h1.3v0.8h-1.3zM380.9 222.5h1.3v1.0h-1.3zM420.6 184.1h0.8v1.0h-0.8zM386.9 177.1h1.3v0.8h-1.3zM400.4 180.8h1.0v0.8h-1.0zM414.9 206.5h0.8v1.3h-0.8zM396.3 204.8h0.8v0.8h-0.8zM391.5 187.9h1.0v0.8h-1.0zM387.9 217.2h1.3v0.8h-1.3zM381.1 196.0h0.8v1.3h-0.8zM412.7 202.8h1.3v0.8h-1.3zM382.9 185.5h1.3v1.3h-1.3zM399.2 202.5h1.0v1.3h-1.0zM383.4 197.9h1.3v1.3h-1.3zM381.2 191.8h1.0v1.3h-1.0zM430.7 174.9h1.3v1.0h-1.3zM400.9 201.7h1.3v1.3h-1.3zM391.0 170.8h1.3v1.0h-1.3zM385.3 191.1h1.0v1.3h-1.0zM419.8 192.0h1.3v1.0h-1.3zM385.0 196.9h1.0v0.8h-1.0zM380.6 220.6h0.8v0.8h-0.8zM369.5 216.4h1.0v1.3h-1.0zM396.6 189.3h1.0v1.3h-1.0zM429.7 176.3h1.3v0.8h-1.3zM374.7 200.8h1.3v0.8h-1.3zM423.3 184.4h1.3v1.0h-1.3zM408.4 196.0h1.3v1.0h-1.3zM380.1 194.4h0.8v1.0h-0.8zM426.2 178.2h1.0v0.8h-1.0zM415.3 187.3h1.3v1.0h-1.3zM398.2 174.9h0.8v1.0h-0.8zM385.3 196.4h1.3v0.8h-1.3zM405.3 168.6h0.8v0.8h-0.8zM410.5 175.9h1.3v1.3h-1.3zM373.6 199.8h1.3v0.8h-1.3zM359.3 272.6h1.0v1.3h-1.0zM310.8 274.4h1.0v1.0h-1.0zM344.1 259.4h1.0v0.8h-1.0zM356.7 245.4h1.3v0.8h-1.3zM313.5 271.8h1.3v1.3h-1.3zM314.6 260.3h0.8v1.0h-0.8zM323.1 279.6h0.8v0.8h-0.8zM349.2 258.4h0.8v1.3h-0.8zM357.8 252.2h1.3v1.3h-1.3zM351.9 250.6h0.8v1.3h-0.8zM335.4 268.7h1.0v1.0h-1.0zM337.7 275.3h1.0v1.3h-1.0zM313.7 259.8h1.0v0.8h-1.0zM337.1 277.3h1.3v1.0h-1.3zM340.3 238.9h1.0v0.8h-1.0zM337.7 235.3h1.3v1.3h-1.3zM348.0 266.9h1.0v1.3h-1.0zM312.6 270.2h0.8v1.0h-0.8zM320.4 252.9h1.0v1.0h-1.0zM328.3 254.9h1.3v1.3h-1.3zM334.1 242.3h1.0v0.8h-1.0zM340.8 268.4h1.3v0.8h-1.3zM340.6 271.5h0.8v1.3h-0.8zM331.9 253.7h1.3v1.3h-1.3zM312.2 266.0h1.3v0.8h-1.3zM352.0 269.1h1.3v0.8h-1.3zM353.1 232.2h1.0v0.8h-1.0zM349.9 264.5h0.8v0.8h-0.8zM329.8 247.3h0.8v0.8h-0.8zM339.7 269.7h1.3v1.3h-1.3zM364.7 236.9h1.3v1.3h-1.3zM345.0 240.1h1.0v0.8h-1.0zM329.8 247.7h0.8v1.0h-0.8zM359.2 257.7h1.3v1.0h-1.3zM332.8 250.6h1.3v1.3h-1.3zM328.6 274.3h1.3v1.0h-1.3zM338.3 274.8h1.0v0.8h-1.0zM355.7 230.6h0.8v1.3h-0.8zM338.4 268.3h1.3v1.0h-1.3zM336.9 243.3h1.0v0.8h-1.0zM320.9 255.2h0.8v1.3h-0.8zM324.6 283.7h1.0v1.0h-1.0zM368.6 238.8h0.8v0.8h-0.8zM334.5 234.4h0.8v1.3h-0.8zM333.7 275.7h0.8v0.8h-0.8zM333.1 274.7h1.0v1.0h-1.0zM349.3 224.5h1.0v0.8h-1.0zM351.6 252.0h1.0v1.3h-1.0zM334.7 269.1h1.0v1.3h-1.0zM346.4 235.8h1.3v1.3h-1.3zM351.9 252.8h1.3v1.0h-1.3zM336.5 237.2h0.8v0.8h-0.8zM345.0 258.4h0.8v1.3h-0.8zM346.4 231.7h1.0v1.3h-1.0zM321.6 250.9h1.0v1.0h-1.0zM347.7 253.9h0.8v1.0h-0.8zM324.3 235.4h1.0v0.8h-1.0zM315.3 237.9h1.0v1.3h-1.0zM369.0 237.0h1.0v1.0h-1.0zM348.0 256.8h1.0v0.8h-1.0zM320.2 255.8h1.0v1.0h-1.0zM311.2 269.5h1.3v1.0h-1.3zM347.2 255.3h1.3v1.0h-1.3zM359.1 242.0h0.8v1.0h-0.8zM367.5 241.9h0.8v1.0h-0.8zM311.9 259.3h0.8v1.3h-0.8zM318.9 283.5h0.8v0.8h-0.8zM344.0 259.6h1.0v1.3h-1.0zM331.2 254.3h0.8v1.0h-0.8zM327.8 277.7h0.8v0.8h-0.8zM317.6 266.6h0.8v0.8h-0.8zM313.9 265.0h0.8v1.0h-0.8zM362.7 247.2h1.3v1.3h-1.3zM327.1 255.7h1.0v1.0h-1.0zM329.7 249.8h1.3v1.3h-1.3zM324.6 252.8h1.0v1.3h-1.0zM310.5 271.3h1.0v0.8h-1.0zM315.9 249.8h1.0v1.0h-1.0zM330.7 238.9h0.8v1.3h-0.8zM323.8 260.0h1.3v0.8h-1.3zM348.0 275.3h0.8v0.8h-0.8zM356.7 249.2h1.3v1.0h-1.3zM331.3 277.9h1.3v1.3h-1.3zM308.6 275.2h1.0v1.0h-1.0zM321.7 254.9h0.8v1.0h-0.8zM359.9 243.8h1.0v0.8h-1.0zM341.0 265.7h1.3v1.0h-1.3zM311.8 264.9h1.3v0.8h-1.3zM325.8 278.6h0.8v1.0h-0.8zM313.3 270.0h1.0v1.0h-1.0zM320.5 242.8h0.8v1.0h-0.8zM365.4 238.4h1.0v1.3h-1.0zM313.6 266.6h0.8v1.3h-0.8zM324.4 255.3h1.0v0.8h-1.0zM356.2 246.6h1.3v1.3h-1.3zM348.4 232.3h1.0v0.8h-1.0zM330.3 244.0h1.0v1.3h-1.0zM340.7 264.4h1.3v1.0h-1.3zM312.9 271.2h1.0v0.8h-1.0zM326.5 254.1h0.8v1.0h-0.8zM338.4 272.8h0.8v0.8h-0.8zM363.5 238.0h0.8v1.3h-0.8zM338.3 238.0h1.0v1.0h-1.0zM332.0 251.7h1.3v0.8h-1.3zM325.3 284.3h1.3v1.0h-1.3zM350.5 231.6h0.8v0.8h-0.8zM346.4 276.5h0.8v0.8h-0.8zM337.2 267.7h1.3v1.0h-1.3zM312.6 262.8h1.3v1.0h-1.3zM349.8 259.9h0.8v1.3h-0.8zM317.4 252.5h1.3v1.3h-1.3zM347.1 230.8h0.8v1.0h-0.8zM319.5 266.7h1.0v1.0h-1.0zM349.1 235.2h1.0v1.0h-1.0z" fill="#fbd4d4"/>
<path d="M425.1 180.5h1.5v1.2h-1.5zM397.9 176.3h0.9v0.9h-0.9zM423.4 191.1h0.9v0.9h-0.9zM400.9 181.0h1.2v0.9h-1.2zM423.3 190.5h1.2v0.9h-1.2zM419.1 177.0h1.5v1.2h-1.5zM399.6 174.9h1.2v0.9h-1.2zM425.2 169.2h1.2v1.2h-1.2zM405.5 173.2h0.9v1.2h-0.9zM405.9 177.0h1.5v1.2h-1.5zM418.3 164.2h0.9v0.9h-0.9zM406.0 169.0h1.5v1.2h-1.5zM397.2 168.3h1.5v0.9h-1.5zM397.9 177.9h1.2v1.2h-1.2zM429.2 170.8h1.5v0.9h-1.5zM401.0 187.8h1.5v1.2h-1.5zM397.4 174.8h1.5v0.9h-1.5zM410.5 169.0h0.9v0.9h-0.9zM410.6 170.2h1.2v1.2h-1.2zM427.5 165.8h0.9v0.9h-0.9zM418.6 163.1h1.5v0.9h-1.5zM411.4 181.1h1.5v0.9h-1.5zM414.2 164.1h1.2v0.9h-1.2zM424.6 168.1h1.2v1.2h-1.2zM419.8 169.9h1.2v0.9h-1.2zM408.6 172.3h1.2v0.9h-1.2zM404.0 189.9h0.9v0.9h-0.9zM412.5 178.6h1.5v0.9h-1.5zM403.4 170.5h1.5v1.2h-1.5zM426.0 187.2h1.2v1.2h-1.2zM421.7 195.0h1.5v0.9h-1.5zM413.9 179.2h1.5v1.2h-1.5zM415.7 187.2h1.5v1.2h-1.5zM424.8 190.9h1.5v1.2h-1.5zM423.3 189.3h0.9v1.2h-0.9zM427.7 175.1h1.2v1.2h-1.2zM400.0 190.2h0.9v0.9h-0.9zM399.6 193.2h0.9v0.9h-0.9zM398.0 177.7h0.9v1.2h-0.9zM400.8 187.7h1.2v0.9h-1.2zM428.5 173.1h1.2v1.2h-1.2zM392.2 216.8h0.9v0.9h-0.9zM376.8 220.4h1.5v0.9h-1.5zM382.3 219.0h0.9v0.9h-0.9zM382.5 221.0h0.9v0.9h-0.9zM372.2 217.9h1.5v0.9h-1.5zM375.2 220.8h1.5v0.9h-1.5zM372.0 213.9h0.9v1.2h-0.9zM381.9 207.6h0.9v1.2h-0.9zM392.1 217.4h1.5v0.9h-1.5zM392.6 221.9h1.2v0.9h-1.2zM369.8 198.5h1.2v0.9h-1.2zM383.2 210.2h1.2v0.9h-1.2zM369.8 202.5h1.2v0.9h-1.2zM375.9 207.8h0.9v0.9h-0.9zM375.4 199.5h1.2v0.9h-1.2zM388.6 198.4h1.5v0.9h-1.5zM388.3 222.2h1.2v1.2h-1.2zM372.8 217.2h1.5v1.2h-1.5zM373.8 217.8h1.5v1.2h-1.5zM378.1 207.5h0.9v1.2h-0.9zM389.3 197.7h1.5v1.2h-1.5zM392.4 212.6h0.9v1.2h-0.9zM384.2 205.7h0.9v0.9h-0.9zM375.7 210.6h1.2v0.9h-1.2zM379.7 210.4h1.2v1.2h-1.2zM393.7 221.7h1.5v0.9h-1.5zM381.0 219.3h0.9v0.9h-0.9zM393.7 213.4h0.9v0.9h-0.9zM376.7 201.8h1.2v1.2h-1.2zM379.8 221.8h1.2v1.2h-1.2zM331.8 278.7h1.2v1.2h-1.2zM316.9 260.5h0.9v0.9h-0.9zM319.8 261.1h0.9v1.2h-0.9zM323.0 265.3h1.2v0.9h-1.2zM324.1 274.2h1.5v1.2h-1.5zM320.7 262.2h1.2v0.9h-1.2zM323.9 274.1h1.5v0.9h-1.5zM317.0 266.3h1.2v0.9h-1.2zM331.1 282.4h1.5v0.9h-1.5zM310.1 268.3h0.9v0.9h-0.9zM326.7 270.6h0.9v0.9h-0.9zM311.3 270.6h1.2v1.2h-1.2zM330.8 270.2h1.2v1.2h-1.2zM314.7 266.2h0.9v0.9h-0.9zM324.6 272.0h1.5v0.9h-1.5zM321.4 278.7h0.9v1.2h-0.9zM320.4 266.2h1.5v1.2h-1.5zM330.2 263.0h0.9v0.9h-0.9zM318.4 269.9h1.2v1.2h-1.2zM332.8 267.1h1.2v0.9h-1.2zM328.2 263.4h1.5v1.2h-1.5zM312.5 270.0h1.2v1.2h-1.2zM329.6 281.4h1.5v0.9h-1.5zM326.2 277.1h1.2v1.2h-1.2zM311.5 280.5h0.9v0.9h-0.9zM314.2 267.2h0.9v0.9h-0.9zM313.6 275.9h0.9v0.9h-0.9zM327.8 278.2h0.9v1.2h-0.9zM324.2 264.1h0.9v1.2h-0.9zM326.2 274.3h1.2v0.9h-1.2zM324.3 264.4h1.5v0.9h-1.5zM365.0 249.8h1.5v1.2h-1.5zM344.2 243.9h0.9v0.9h-0.9zM365.7 248.7h1.5v1.2h-1.5zM366.4 227.6h1.2v0.9h-1.2zM344.7 240.9h0.9v0.9h-0.9zM355.8 237.9h1.5v1.2h-1.5zM364.4 241.2h1.2v0.9h-1.2zM352.6 244.2h1.2v0.9h-1.2zM353.2 249.3h1.5v0.9h-1.5zM368.0 251.6h0.9v1.2h-0.9zM337.1 256.8h0.9v0.9h-0.9zM348.7 257.1h1.2v0.9h-1.2zM346.8 250.3h0.9v1.2h-0.9zM344.1 228.1h1.2v0.9h-1.2zM341.1 227.8h0.9v1.2h-0.9zM365.1 255.5h1.5v1.2h-1.5zM345.5 225.4h1.5v1.2h-1.5zM350.9 241.4h0.9v1.2h-0.9zM350.6 255.0h1.2v0.9h-1.2zM352.8 253.4h0.9v0.9h-0.9zM351.5 228.5h1.5v0.9h-1.5zM357.5 242.5h1.2v0.9h-1.2zM356.6 256.4h1.5v1.2h-1.5zM338.0 248.9h0.9v1.2h-0.9zM360.1 241.9h1.2v0.9h-1.2zM347.7 253.4h1.5v1.2h-1.5zM351.8 239.0h0.9v0.9h-0.9zM367.9 243.6h0.9v0.9h-0.9zM357.7 240.0h1.5v0.9h-1.5zM363.5 250.1h1.5v0.9h-1.5zM359.2 250.3h1.5v0.9h-1.5zM340.5 244.3h0.9v1.2h-0.9zM365.2 226.2h1.2v1.2h-1.2zM340.1 236.1h1.5v1.2h-1.5z" fill="#f7b4b4"/>
<path d="M411.9 194.6h1.2v1.2h-1.2zM414.9 191.2h1.5v1.2h-1.5zM399.4 166.5h0.9v1.2h-0.9zM417.0 192.2h1.2v0.9h-1.2zM419.4 182.0h1.2v0.9h-1.2zM409.0 179.8h1.2v0.9h-1.2zM428.7 191.8h0.9v1.2h-0.9zM401.4 181.0h1.2v0.9h-1.2zM401.7 188.4h0.9v0.9h-0.9zM402.7 172.9h0.9v0.9h-0.9zM419.7 181.1h1.2v1.2h-1.2zM398.3 185.0h1.5v0.9h-1.5zM425.6 195.4h0.9v1.2h-0.9zM403.8 176.3h0.9v1.2h-0.9zM406.3 177.2h1.5v0.9h-1.5zM424.7 165.7h1.5v0.9h-1.5zM410.4 190.3h1.2v1.2h-1.2zM412.3 191.3h1.5v1.2h-1.5zM403.7 174.4h1.5v1.2h-1.5zM403.4 164.9h0.9v1.2h-0.9zM405.6 179.8h0.9v1.2h-0.9zM426.8 177.6h0.9v0.9h-0.9zM414.2 176.5h0.9v0.9h-0.9zM397.8 194.5h0.9v0.9h-0.9zM419.8 164.7h0.9v1.2h-0.9zM427.2 192.5h1.5v0.9h-1.5zM417.1 173.6h1.2v1.2h-1.2zM428.0 182.5h1.5v1.2h-1.5zM423.8 171.7h0.9v1.2h-0.9zM426.0 165.1h1.2v0.9h-1.2zM406.4 177.3h1.2v1.2h-1.2zM420.3 190.5h0.9v0.9h-0.9zM416.0 185.7h1.2v0.9h-1.2zM425.4 189.5h1.2v0.9h-1.2zM384.8 217.5h1.2v0.9h-1.2zM391.2 220.9h0.9v1.2h-0.9zM376.0 209.5h1.5v0.9h-1.5zM390.0 219.0h1.5v1.2h-1.5zM382.8 219.7h1.5v0.9h-1.5zM392.9 217.0h0.9v1.2h-0.9zM381.7 200.8h1.5v1.2h-1.5zM375.9 215.0h1.2v1.2h-1.2zM384.6 199.4h0.9v0.9h-0.9zM375.9 199.3h1.5v0.9h-1.5zM374.4 201.9h0.9v1.2h-0.9zM375.0 219.2h1.5v0.9h-1.5zM376.1 217.0h1.5v0.9h-1.5zM376.0 209.5h1.2v1.2h-1.2zM394.1 202.2h1.2v1.2h-1.2zM375.1 214.8h0.9v0.9h-0.9zM382.7 216.5h1.2v1.2h-1.2zM386.4 216.7h1.5v0.9h-1.5zM392.5 204.6h1.5v0.9h-1.5zM374.9 201.1h0.9v1.2h-0.9zM372.4 214.7h1.2v0.9h-1.2zM384.3 215.7h0.9v0.9h-0.9zM371.5 211.5h0.9v1.2h-0.9zM381.5 215.5h1.2v1.2h-1.2zM383.9 199.7h1.2v0.9h-1.2zM369.9 198.9h1.5v0.9h-1.5zM378.5 216.3h0.9v0.9h-0.9zM386.1 217.3h0.9v0.9h-0.9zM369.9 207.5h1.5v1.2h-1.5zM394.6 206.3h0.9v1.2h-0.9zM375.8 211.8h1.2v0.9h-1.2zM332.0 282.9h1.5v1.2h-1.5zM311.9 270.2h0.9v1.2h-0.9zM313.3 281.0h1.5v0.9h-1.5zM325.2 267.6h0.9v0.9h-0.9zM314.5 277.5h1.5v0.9h-1.5zM315.6 261.2h1.2v0.9h-1.2zM311.2 274.7h0.9v1.2h-0.9zM319.6 270.1h1.2v1.2h-1.2zM330.2 266.9h1.5v0.9h-1.5zM321.5 272.5h1.2v0.9h-1.2zM330.2 270.5h0.9v0.9h-0.9zM327.8 263.1h1.2v0.9h-1.2zM328.7 267.4h1.2v1.2h-1.2zM315.9 276.4h0.9v1.2h-0.9zM318.2 275.5h0.9v1.2h-0.9zM318.0 273.5h0.9v1.2h-0.9zM322.9 270.8h0.9v0.9h-0.9zM325.4 282.6h0.9v0.9h-0.9zM311.3 270.9h0.9v1.2h-0.9zM322.9 272.5h0.9v0.9h-0.9zM325.7 282.5h1.2v0.9h-1.2zM309.6 280.7h1.5v1.2h-1.5zM311.2 266.9h1.2v1.2h-1.2zM322.9 265.0h1.2v1.2h-1.2zM316.2 277.3h1.2v0.9h-1.2zM328.9 263.1h1.5v1.2h-1.5zM308.8 272.5h1.2v0.9h-1.2zM322.9 264.7h1.5v1.2h-1.5zM319.1 271.5h0.9v0.9h-0.9zM325.6 269.7h1.5v1.2h-1.5zM330.7 281.4h1.5v0.9h-1.5zM329.2 267.2h1.2v0.9h-1.2zM357.0 226.8h0.9v0.9h-0.9zM348.1 248.4h0.9v1.2h-0.9zM365.2 248.8h1.5v1.2h-1.5zM343.0 253.7h0.9v0.9h-0.9zM367.4 228.0h1.5v1.2h-1.5zM343.1 241.5h1.5v0.9h-1.5zM361.7 239.6h0.9v0.9h-0.9zM358.5 244.4h0.9v1.2h-0.9zM357.6 237.4h0.9v0.9h-0.9zM337.7 226.5h0.9v1.2h-0.9zM363.0 239.2h1.5v1.2h-1.5zM347.3 233.1h0.9v1.2h-0.9zM351.8 256.0h0.9v1.2h-0.9zM352.0 249.4h1.2v1.2h-1.2zM349.6 255.0h1.5v1.2h-1.5zM362.7 235.1h1.2v1.2h-1.2zM367.9 249.1h1.2v0.9h-1.2zM336.0 246.4h0.9v1.2h-0.9zM352.3 248.0h0.9v1.2h-0.9zM364.7 226.1h0.9v1.2h-0.9zM359.8 239.9h0.9v0.9h-0.9zM347.1 248.1h1.2v0.9h-1.2zM338.3 245.7h1.5v0.9h-1.5zM351.1 238.7h1.2v1.2h-1.2zM348.2 243.1h1.5v1.2h-1.5zM357.8 230.6h1.2v1.2h-1.2zM345.7 233.3h1.2v0.9h-1.2zM341.9 242.0h0.9v0.9h-0.9zM345.7 225.3h0.9v1.2h-0.9zM338.3 229.6h1.2v1.2h-1.2zM360.1 233.9h1.2v1.2h-1.2zM338.0 252.2h1.5v0.9h-1.5zM337.4 251.9h0.9v1.2h-0.9zM354.7 226.4h0.9v1.2h-0.9zM335.9 228.6h1.5v0.9h-1.5zM361.8 231.3h1.5v1.2h-1.5z" fill="#f9c6c6"/>
<path d="M403.4 180.4h0.9v1.2h-0.9zM421.8 177.2h1.2v1.2h-1.2zM408.1 174.3h1.2v0.9h-1.2zM427.3 169.9h1.5v0.9h-1.5zM426.5 179.1h1.5v1.2h-1.5zM404.0 182.2h1.2v1.2h-1.2zM399.0 176.1h0.9v1.2h-0.9zM425.4 164.9h1.5v0.9h-1.5zM412.8 180.2h1.5v0.9h-1.5zM417.7 163.9h0.9v1.2h-0.9zM400.3 178.5h1.2v0.9h-1.2zM421.1 168.2h1.5v0.9h-1.5zM418.6 180.1h0.9v1.2h-0.9zM399.3 177.0h1.5v1.2h-1.5zM419.4 176.0h1.5v0.9h-1.5zM413.0 164.9h0.9v0.9h-0.9zM414.3 163.3h1.2v1.2h-1.2zM411.3 183.6h0.9v1.2h-0.9zM409.0 183.1h1.5v0.9h-1.5zM421.6 189.6h1.2v0.9h-1.2zM402.8 173.9h1.5v0.9h-1.5zM405.8 183.3h1.2v1.2h-1.2zM399.0 186.3h0.9v0.9h-0.9zM412.3 174.3h1.5v0.9h-1.5zM422.6 179.8h0.9v0.9h-0.9zM403.8 166.9h1.5v0.9h-1.5zM401.7 193.0h1.5v1.2h-1.5zM427.0 183.5h0.9v0.9h-0.9zM426.1 172.9h1.5v0.9h-1.5zM423.4 185.6h1.2v1.2h-1.2zM413.2 179.7h0.9v1.2h-0.9zM399.1 184.0h0.9v0.9h-0.9zM399.1 171.3h0.9v0.9h-0.9zM396.9 165.7h1.5v1.2h-1.5zM414.5 179.8h1.5v1.2h-1.5zM394.8 215.9h1.5v0.9h-1.5zM381.8 204.3h1.5v1.2h-1.5zM381.2 211.2h1.5v1.2h-1.5zM392.6 219.5h1.2v1.2h-1.2zM390.4 199.5h0.9v0.9h-0.9zM386.2 218.3h0.9v0.9h-0.9zM384.7 216.4h1.5v1.2h-1.5zM375.1 218.0h1.2v0.9h-1.2zM383.0 215.4h1.5v0.9h-1.5zM376.2 205.4h1.2v0.9h-1.2zM394.0 209.3h0.9v1.2h-0.9zM377.0 218.7h1.5v0.9h-1.5zM387.2 209.5h1.5v1.2h-1.5zM378.5 209.3h1.5v1.2h-1.5zM390.7 202.8h1.5v1.2h-1.5zM394.3 201.5h0.9v0.9h-0.9zM385.4 205.1h0.9v1.2h-0.9zM372.9 208.1h1.5v1.2h-1.5zM392.9 215.4h1.2v0.9h-1.2zM391.0 198.2h0.9v1.2h-0.9zM384.4 212.7h0.9v0.9h-0.9zM387.5 216.0h1.5v1.2h-1.5zM395.0 205.2h1.2v0.9h-1.2zM387.6 221.4h1.5v0.9h-1.5zM380.4 214.2h0.9v0.9h-0.9zM371.1 200.4h0.9v0.9h-0.9zM385.3 197.8h0.9v0.9h-0.9zM390.4 222.0h1.5v1.2h-1.5zM391.8 211.8h1.5v1.2h-1.5zM321.8 283.6h1.5v1.2h-1.5zM326.0 273.8h1.2v1.2h-1.2zM308.9 268.2h1.5v1.2h-1.5zM328.0 271.6h1.2v0.9h-1.2zM314.1 259.9h1.2v0.9h-1.2zM330.0 260.6h0.9v1.2h-0.9zM317.6 263.9h1.2v1.2h-1.2zM323.2 267.6h0.9v0.9h-0.9zM327.2 269.9h0.9v0.9h-0.9zM332.5 264.6h1.2v0.9h-1.2zM309.8 282.5h0.9v0.9h-0.9zM329.1 275.9h0.9v1.2h-0.9zM325.0 278.0h1.5v1.2h-1.5zM308.8 276.3h0.9v1.2h-0.9zM332.9 277.1h1.2v0.9h-1.2zM327.1 273.2h1.5v0.9h-1.5zM320.2 271.5h1.2v0.9h-1.2zM326.4 260.4h1.2v1.2h-1.2zM321.4 271.4h1.2v1.2h-1.2zM320.9 277.4h1.2v0.9h-1.2zM316.4 263.0h1.2v0.9h-1.2zM324.6 271.4h1.2v1.2h-1.2zM324.3 260.1h1.2v0.9h-1.2zM328.7 270.5h1.2v1.2h-1.2zM315.8 269.1h1.5v1.2h-1.5zM315.8 273.7h1.2v0.9h-1.2zM311.8 265.1h0.9v1.2h-0.9zM311.3 267.2h0.9v0.9h-0.9zM314.2 270.9h1.5v0.9h-1.5zM315.7 261.9h1.5v1.2h-1.5zM313.5 277.1h1.5v1.2h-1.5zM317.4 278.7h1.5v1.2h-1.5zM320.4 277.6h1.5v1.2h-1.5zM330.5 282.5h0.9v1.2h-0.9zM315.5 272.2h1.5v0.9h-1.5zM320.8 272.2h1.2v1.2h-1.2zM327.4 268.9h1.5v1.2h-1.5zM323.2 264.4h1.2v0.9h-1.2zM314.0 278.3h1.5v1.2h-1.5zM332.7 269.1h1.5v0.9h-1.5zM328.3 266.6h1.2v0.9h-1.2zM321.0 273.2h0.9v1.2h-0.9zM322.6 264.1h1.5v0.9h-1.5zM321.5 269.8h1.5v1.2h-1.5zM328.7 263.5h1.5v0.9h-1.5zM328.0 267.0h1.2v0.9h-1.2zM315.7 268.7h1.5v1.2h-1.5zM360.9 242.5h1.2v0.9h-1.2zM354.0 248.8h0.9v0.9h-0.9zM345.2 241.5h1.2v1.2h-1.2zM364.4 243.4h1.5v1.2h-1.5zM345.9 253.7h0.9v0.9h-0.9zM350.9 230.9h1.5v0.9h-1.5zM342.4 234.7h1.2v1.2h-1.2zM354.5 256.7h1.2v1.2h-1.2zM363.2 257.2h1.2v1.2h-1.2zM350.2 225.0h1.5v1.2h-1.5zM362.6 247.2h0.9v0.9h-0.9zM346.4 257.1h1.5v0.9h-1.5zM364.6 227.1h0.9v0.9h-0.9zM363.4 227.7h1.5v1.2h-1.5zM348.9 229.6h1.2v0.9h-1.2zM335.1 237.9h1.5v0.9h-1.5zM364.9 257.9h1.5v1.2h-1.5zM350.6 252.5h1.5v0.9h-1.5zM362.7 239.8h1.2v1.2h-1.2zM361.0 229.3h1.2v1.2h-1.2zM352.1 249.7h1.5v0.9h-1.5zM357.1 229.0h0.9v0.9h-0.9zM335.1 227.0h1.2v1.2h-1.2zM339.5 257.0h1.5v0.9h-1.5zM348.9 238.7h1.5v1.2h-1.5zM354.8 226.3h1.5v0.9h-1.5zM364.1 250.7h1.2v1.2h-1.2zM344.4 226.2h1.5v1.2h-1.5zM356.1 247.0h1.5v0.9h-1.5zM366.8 256.9h1.2v1.2h-1.2zM343.1 244.5h0.9v0.9h-0.9zM357.1 245.2h1.5v1.2h-1.5zM345.9 234.7h0.9v0.9h-0.9zM364.0 249.7h1.2v1.2h-1.2zM346.5 241.4h0.9v1.2h-0.9zM359.6 241.5h0.9v0.9h-0.9zM343.5 232.4h1.5v0.9h-1.5zM345.2 227.1h1.5v1.2h-1.5zM350.2 243.5h1.5v0.9h-1.5zM360.9 228.3h1.5v1.2h-1.5z" fill="#fbd8d8"/>
<path d="M392.8 198.8h1.6v1.0h-1.6zM391.2 204.3h1.2v1.2h-1.2zM365.2 197.9h1.6v1.2h-1.6zM397.4 175.3h0.8v0.8h-0.8zM377.4 237.6h0.8v1.2h-0.8zM310.9 247.9h0.8v1.2h-0.8zM365.4 249.3h1.2v1.0h-1.2zM422.5 274.8h1.2v1.2h-1.2zM361.4 271.2h1.2v1.0h-1.2zM417.9 228.0h0.8v1.0h-0.8zM358.7 204.8h1.6v1.2h-1.6zM360.7 201.1h1.6v1.0h-1.6zM350.4 215.3h1.6v1.2h-1.6zM373.9 277.3h1.6v1.0h-1.6zM377.3 275.2h1.0v1.0h-1.0zM410.5 226.1h1.2v1.0h-1.2zM389.8 188.8h1.6v0.8h-1.6zM392.7 254.7h1.2v1.0h-1.2z" fill="#f9c8c8"/>
<path d="M372.4 211.2h1.6v1.0h-1.6zM395.7 222.0h0.8v0.8h-0.8zM350.6 244.8h1.6v1.0h-1.6zM350.5 274.6h1.2v0.8h-1.2zM406.1 165.5h1.2v1.0h-1.2zM309.1 178.3h1.6v1.0h-1.6zM385.4 235.9h0.8v0.8h-0.8zM373.4 205.4h1.6v1.2h-1.6zM331.5 244.2h0.8v0.8h-0.8zM330.1 212.7h1.0v1.2h-1.0zM364.7 261.7h1.2v0.8h-1.2zM393.6 247.3h1.6v0.8h-1.6zM417.3 282.0h1.0v1.2h-1.0zM368.5 222.1h1.2v1.0h-1.2zM407.1 213.4h1.0v1.0h-1.0zM398.4 232.6h1.0v0.8h-1.0zM332.0 192.4h1.6v0.8h-1.6zM334.6 282.1h1.2v1.0h-1.2z" fill="#fbd6d6"/>
<path d="M311.7 211.8h0.8v1.0h-0.8zM326.9 233.0h1.6v1.2h-1.6zM317.2 206.1h1.6v1.0h-1.6zM359.3 266.3h0.8v1.2h-0.8zM365.3 207.1h1.0v1.0h-1.0zM374.5 195.5h1.0v1.2h-1.0zM386.3 241.2h1.6v0.8h-1.6zM390.8 235.2h0.8v1.0h-0.8zM417.3 168.6h1.6v0.8h-1.6zM378.2 189.8h1.0v1.0h-1.0zM337.0 263.5h1.2v1.2h-1.2zM395.7 189.7h0.8v1.2h-0.8zM409.3 191.2h1.6v1.0h-1.6zM365.7 192.7h1.2v0.8h-1.2zM428.2 236.0h1.0v0.8h-1.0zM374.1 241.2h1.0v1.2h-1.0zM396.0 282.6h1.2v1.2h-1.2zM388.3 268.4h0.8v0.8h-0.8zM317.3 190.8h1.6v0.8h-1.6zM401.2 250.7h1.0v0.8h-1.0zM360.5 190.7h1.0v1.2h-1.0z" fill="#c8c8f6"/>
<path d="M357.3 227.4h0.8v0.8h-0.8zM409.3 254.9h1.6v0.8h-1.6zM422.6 164.1h1.2v1.2h-1.2zM368.2 272.0h0.8v1.2h-0.8zM362.7 270.1h1.6v1.0h-1.6zM354.5 187.2h1.0v0.8h-1.0zM314.7 202.6h1.6v1.2h-1.6zM385.0 198.2h0.8v1.0h-0.8zM320.1 198.6h1.6v1.0h-1.6zM365.7 183.2h0.8v1.0h-0.8zM361.9 185.9h1.0v1.2h-1.0zM396.5 252.0h1.0v0.8h-1.0zM314.5 233.3h1.0v1.2h-1.0zM341.1 214.7h1.6v1.2h-1.6zM350.5 280.0h1.0v1.2h-1.0zM425.5 281.4h1.2v1.2h-1.2zM347.0 216.9h1.6v1.0h-1.6zM372.3 220.9h0.8v1.2h-0.8zM324.0 249.5h1.6v1.2h-1.6zM343.6 166.3h1.6v1.2h-1.6z" fill="#f7b8b8"/>
<path d="M320.1 261.6h1.2v0.8h-1.2zM372.6 201.6h0.8v1.2h-0.8zM416.5 263.3h1.6v1.0h-1.6zM382.4 205.7h1.6v1.0h-1.6zM343.9 239.1h0.8v1.2h-0.8zM349.0 280.4h1.6v0.8h-1.6zM316.2 247.9h0.8v1.0h-0.8zM362.0 243.5h1.0v1.2h-1.0zM352.1 203.2h1.6v1.2h-1.6zM422.1 282.2h0.8v1.2h-0.8zM408.5 185.1h1.0v1.0h-1.0zM337.8 164.5h1.0v1.2h-1.0zM321.8 190.7h1.2v1.0h-1.2z" fill="#d4d4f8"/>
<path d="M317.4 197.3h5.9v7.1h-5.9zM324.3 197.3h6.2v7.1h-6.2zM317.4 205.4h5.9v7.4h-5.9zM324.3 205.4h6.2v7.4h-6.2zM380.7 263.0h7.3v6.0h-7.3zM389.0 263.0h7.4v6.0h-7.4zM380.7 270.0h7.3v6.2h-7.3zM389.0 270.0h7.4v6.2h-7.4z" fill="#cdcdf7"/>
<path d="M323.7 200.6h1.0v0.7h-1.0zM318.7 202.3h1.0v1.0h-1.0zM330.0 203.9h1.0v1.0h-1.0zM324.5 199.5h1.0v1.0h-1.0zM327.9 208.0h1.0v1.0h-1.0zM328.1 211.5h1.0v0.7h-1.0zM319.9 200.8h1.0v1.0h-1.0zM325.9 205.8h1.0v1.0h-1.0zM320.4 197.7h1.0v1.3h-1.0zM325.4 203.8h1.0v0.7h-1.0zM325.8 199.9h1.0v1.3h-1.0zM327.9 209.1h1.0v1.0h-1.0zM329.5 198.2h1.0v1.3h-1.0zM319.2 208.1h1.0v1.0h-1.0zM317.8 198.0h1.0v1.0h-1.0zM322.8 199.2h1.0v1.0h-1.0zM323.1 199.7h1.0v0.7h-1.0zM321.9 201.1h1.0v1.3h-1.0zM323.5 199.2h1.0v0.7h-1.0zM329.5 208.2h1.0v1.0h-1.0zM322.9 204.1h1.0v0.7h-1.0zM319.6 207.2h1.0v0.7h-1.0zM321.1 211.3h1.0v1.3h-1.0zM329.5 199.5h1.0v1.0h-1.0zM319.7 209.1h1.0v1.0h-1.0zM384.5 263.3h1.0v1.3h-1.0zM392.1 264.4h1.0v1.0h-1.0zM384.8 271.4h1.0v0.7h-1.0zM381.6 269.2h1.0v1.0h-1.0zM387.3 264.7h1.0v1.3h-1.0zM391.7 272.1h1.0v0.7h-1.0zM391.8 270.4h1.0v1.0h-1.0zM387.9 271.6h1.0v1.0h-1.0zM395.1 267.6h1.0v1.3h-1.0zM391.0 275.7h1.0v1.3h-1.0zM381.3 272.0h1.0v0.7h-1.0zM389.2 263.6h1.0v0.7h-1.0zM386.7 274.2h1.0v1.3h-1.0zM389.3 270.8h1.0v1.3h-1.0zM385.3 267.3h1.0v1.0h-1.0zM382.5 274.5h1.0v1.3h-1.0zM390.0 273.9h1.0v1.3h-1.0zM385.5 273.3h1.0v1.3h-1.0zM388.2 272.4h1.0v1.0h-1.0zM394.7 269.8h1.0v1.0h-1.0zM386.5 263.2h1.0v1.0h-1.0zM390.4 268.5h1.0v0.7h-1.0zM388.6 268.7h1.0v1.3h-1.0zM383.7 274.2h1.0v1.3h-1.0zM385.8 267.2h1.0v1.3h-1.0z" fill="#e2e2fb"/>
<path d="M308.5 198.0h1.8v12.0h-1.8z" fill="#d2d2f8"/>
<path d="M409.1 202.7h1.0v1.0h-1.0zM401.6 201.5h1.0v1.3h-1.0zM408.9 205.3h1.0v0.7h-1.0zM410.7 202.3h1.0v0.7h-1.0zM404.6 212.0h1.0v1.3h-1.0zM405.2 205.5h1.0v1.0h-1.0zM404.0 210.4h1.0v1.3h-1.0zM404.8 214.1h1.0v1.0h-1.0zM403.7 204.0h1.0v0.7h-1.0zM405.6 214.0h1.0v0.7h-1.0zM404.8 200.9h1.0v1.3h-1.0zM406.6 211.1h1.0v0.7h-1.0zM407.9 199.0h1.0v0.7h-1.0zM404.5 203.6h1.0v1.3h-1.0zM401.9 202.7h1.0v1.0h-1.0zM406.0 200.1h1.0v1.0h-1.0zM402.0 213.9h1.0v0.7h-1.0zM410.6 210.2h1.0v1.0h-1.0zM408.6 214.1h1.0v1.0h-1.0zM403.6 208.8h1.0v0.7h-1.0zM403.9 211.7h1.0v0.7h-1.0zM411.4 206.6h1.0v1.3h-1.0z" fill="#c6c6f5"/>
<path d="M341.6 278.9h1.0v1.0h-1.0zM342.7 264.8h1.0v1.0h-1.0zM344.2 266.7h1.0v0.7h-1.0zM347.4 275.6h1.0v1.3h-1.0zM342.5 267.4h1.0v1.3h-1.0zM339.2 276.1h1.0v1.0h-1.0zM348.1 266.8h1.0v1.0h-1.0zM343.5 273.5h1.0v1.0h-1.0zM346.6 273.5h1.0v1.0h-1.0zM345.4 267.8h1.0v0.7h-1.0zM340.8 265.3h1.0v1.3h-1.0zM342.2 277.8h1.0v1.0h-1.0zM343.7 275.7h1.0v1.3h-1.0zM343.8 262.5h1.0v1.3h-1.0z" fill="#cfcff6"/>
<path d="M319.7 269.1h1.5v1.5h-1.5zM322.9 274.6h1.5v1.0h-1.5zM320.9 273.3h1.5v1.0h-1.5zM326.0 280.9h1.5v1.5h-1.5zM318.9 274.7h1.5v1.5h-1.5zM325.1 267.3h1.5v2.0h-1.5zM316.6 273.2h1.5v2.0h-1.5zM316.1 279.8h1.5v1.5h-1.5zM313.1 272.2h1.5v2.0h-1.5zM314.5 274.3h1.5v2.0h-1.5zM327.9 270.3h1.5v2.0h-1.5zM322.7 281.2h1.5v2.0h-1.5zM319.6 278.8h1.5v1.5h-1.5zM324.7 276.9h1.5v2.0h-1.5zM316.1 267.1h1.5v1.5h-1.5zM318.6 269.7h1.5v1.0h-1.5zM314.1 266.6h1.5v1.5h-1.5zM317.5 270.8h1.5v1.5h-1.5zM321.5 278.4h1.5v1.5h-1.5zM321.4 274.8h1.5v1.5h-1.5zM313.2 273.7h1.5v2.0h-1.5zM321.4 274.2h1.5v1.5h-1.5zM314.5 277.1h1.5v1.0h-1.5zM314.4 270.6h1.5v1.0h-1.5zM321.7 267.4h1.5v1.0h-1.5zM316.9 274.0h1.5v1.5h-1.5zM323.0 272.9h1.5v1.5h-1.5zM323.9 267.9h1.5v2.0h-1.5zM325.4 268.2h1.5v1.5h-1.5zM318.9 269.6h1.5v1.0h-1.5z" fill="#f6a4a4"/>
<line x1="308.30" y1="285.20" x2="431.40" y2="162.40" stroke="#f22020" stroke-width="1.5" />
<circle cx="407.60" cy="186.10" r="2.30" fill="#f01818" stroke="none" stroke-width="0"/>
<circle cx="416.60" cy="176.50" r="1.80" fill="#f01818" stroke="none" stroke-width="0"/>
<circle cx="424.50" cy="169.00" r="1.50" fill="#f01818" stroke="none" stroke-width="0"/>
<circle cx="384.80" cy="208.70" r="1.50" fill="#f01818" stroke="none" stroke-width="0"/>
<circle cx="389.80" cy="203.80" r="1.40" fill="#f01818" stroke="none" stroke-width="0"/>
<circle cx="320.70" cy="272.50" r="2.00" fill="#f01818" stroke="none" stroke-width="0"/>
<circle cx="337.20" cy="256.00" r="1.60" fill="#f01818" stroke="none" stroke-width="0"/>
<circle cx="346.00" cy="248.10" r="1.50" fill="#f01818" stroke="none" stroke-width="0"/>
<circle cx="353.70" cy="239.80" r="1.80" fill="#f01818" stroke="none" stroke-width="0"/>
<circle cx="361.20" cy="232.40" r="1.60" fill="#f01818" stroke="none" stroke-width="0"/>
<circle cx="313.00" cy="280.00" r="1.20" fill="#f01818" stroke="none" stroke-width="0"/>
<circle cx="327.00" cy="266.00" r="1.40" fill="#f01818" stroke="none" stroke-width="0"/>
<rect x="308.30" y="162.40" width="123.10" height="122.80" fill="none" stroke="#9a9a9a" stroke-width="0.7" />
<line x1="369.30" y1="162.40" x2="369.30" y2="285.20" stroke="#222" stroke-width="0.7" stroke-dasharray="1.2,1"/>
<line x1="308.30" y1="224.30" x2="431.40" y2="224.30" stroke="#222" stroke-width="0.7" stroke-dasharray="1.2,1"/>
<line x1="396.10" y1="162.40" x2="396.10" y2="224.30" stroke="#333" stroke-width="0.6" stroke-dasharray="1,1"/>
<line x1="334.40" y1="224.30" x2="334.40" y2="285.20" stroke="#333" stroke-width="0.6" stroke-dasharray="1,1"/>
<line x1="369.30" y1="197.10" x2="431.40" y2="197.10" stroke="#333" stroke-width="0.6" stroke-dasharray="1,1"/>
<line x1="308.30" y1="259.30" x2="369.30" y2="259.30" stroke="#333" stroke-width="0.6" stroke-dasharray="1,1"/>
<text stroke="#222" stroke-width="0.22" x="377.50" y="195.40" font-size="6.8" text-anchor="start" fill="#222" >N167</text>
<text stroke="#222" stroke-width="0.22" x="414.00" y="221.90" font-size="6.8" text-anchor="start" fill="#222" >R206</text>
<text stroke="#222" stroke-width="0.22" x="316.50" y="257.60" font-size="6.8" text-anchor="start" fill="#222" >N167</text>
<text stroke="#222" stroke-width="0.22" x="352.20" y="284.20" font-size="6.8" text-anchor="start" fill="#222" >R206</text>
<text stroke="#111" stroke-width="0.22" x="369.60" y="159.60" font-size="7.4" text-anchor="middle" fill="#111" >Apo PsiR</text>
<line x1="306.80" y1="163.20" x2="308.30" y2="163.20" stroke="#555" stroke-width="0.5" />
<text stroke="#8a8a8a" stroke-width="0.22" x="306.50" y="165.20" font-size="5.8" text-anchor="end" fill="#8a8a8a" >300</text>
<line x1="306.80" y1="189.20" x2="308.30" y2="189.20" stroke="#555" stroke-width="0.5" />
<text stroke="#8a8a8a" stroke-width="0.22" x="306.50" y="191.20" font-size="5.8" text-anchor="end" fill="#8a8a8a" >200</text>
<line x1="306.80" y1="215.00" x2="308.30" y2="215.00" stroke="#555" stroke-width="0.5" />
<text stroke="#8a8a8a" stroke-width="0.22" x="306.50" y="217.00" font-size="5.8" text-anchor="end" fill="#8a8a8a" >100</text>
<line x1="306.80" y1="224.30" x2="308.30" y2="224.30" stroke="#555" stroke-width="0.5" />
<text stroke="#111" stroke-width="0.22" x="306.50" y="226.30" font-size="5.8" text-anchor="end" fill="#111" >300</text>
<line x1="306.80" y1="250.70" x2="308.30" y2="250.70" stroke="#555" stroke-width="0.5" />
<text stroke="#111" stroke-width="0.22" x="306.50" y="252.70" font-size="5.8" text-anchor="end" fill="#111" >200</text>
<line x1="306.80" y1="276.60" x2="308.30" y2="276.60" stroke="#555" stroke-width="0.5" />
<text stroke="#111" stroke-width="0.22" x="306.50" y="278.60" font-size="5.8" text-anchor="end" fill="#111" >100</text>
<line x1="316.40" y1="285.20" x2="316.40" y2="286.70" stroke="#555" stroke-width="0.5" />
<text stroke="#111" stroke-width="0.22" x="316.40" y="292.20" font-size="5.8" text-anchor="middle" fill="#111" >100</text>
<line x1="343.40" y1="285.20" x2="343.40" y2="286.70" stroke="#555" stroke-width="0.5" />
<text stroke="#111" stroke-width="0.22" x="343.40" y="292.20" font-size="5.8" text-anchor="middle" fill="#111" >200</text>
<line x1="369.30" y1="285.20" x2="369.30" y2="286.70" stroke="#555" stroke-width="0.5" />
<text stroke="#111" stroke-width="0.22" x="369.30" y="292.20" font-size="5.8" text-anchor="middle" fill="#111" >300</text>
<line x1="375.70" y1="285.20" x2="375.70" y2="286.70" stroke="#555" stroke-width="0.5" />
<text stroke="#8a8a8a" stroke-width="0.22" x="375.70" y="292.20" font-size="5.8" text-anchor="middle" fill="#8a8a8a" >100</text>
<line x1="403.70" y1="285.20" x2="403.70" y2="286.70" stroke="#555" stroke-width="0.5" />
<text stroke="#8a8a8a" stroke-width="0.22" x="403.70" y="292.20" font-size="5.8" text-anchor="middle" fill="#8a8a8a" >200</text>
<line x1="430.60" y1="285.20" x2="430.60" y2="286.70" stroke="#555" stroke-width="0.5" />
<text stroke="#8a8a8a" stroke-width="0.22" x="430.60" y="292.20" font-size="5.8" text-anchor="middle" fill="#8a8a8a" >300</text>
<text stroke="#111" stroke-width="0.22" x="369.85" y="297.80" font-size="6.2" text-anchor="middle" fill="#111" >Residues</text>
<text stroke="#111" stroke-width="0.22" x="293.70" y="223.80" font-size="6.2" text-anchor="middle" fill="#111" transform="rotate(-90 293.7 223.8)">Residues</text>
<rect x="439.80" y="162.40" width="6.60" height="17.83" fill="#ee0000" stroke="none" stroke-width="0.6" />
<rect x="439.80" y="180.03" width="6.60" height="17.83" fill="#f77272" stroke="none" stroke-width="0.6" />
<rect x="439.80" y="197.66" width="6.60" height="17.83" fill="#fdd3d3" stroke="none" stroke-width="0.6" />
<rect x="439.80" y="215.29" width="6.60" height="17.83" fill="#ffffff" stroke="none" stroke-width="0.6" />
<rect x="439.80" y="232.91" width="6.60" height="17.83" fill="#c9c9fa" stroke="none" stroke-width="0.6" />
<rect x="439.80" y="250.54" width="6.60" height="17.83" fill="#6262f3" stroke="none" stroke-width="0.6" />
<rect x="439.80" y="268.17" width="6.60" height="17.83" fill="#0000ee" stroke="none" stroke-width="0.6" />
<rect x="439.80" y="162.40" width="6.60" height="123.40" fill="none" stroke="#bbb" stroke-width="0.4" />
<line x1="446.40" y1="162.60" x2="447.40" y2="162.60" stroke="#333" stroke-width="0.4" />
<text stroke="#111" stroke-width="0.22" x="447.60" y="164.60" font-size="5.8" text-anchor="start" fill="#111" >1.00</text>
<line x1="446.40" y1="180.23" x2="447.40" y2="180.23" stroke="#333" stroke-width="0.4" />
<text stroke="#111" stroke-width="0.22" x="447.60" y="182.23" font-size="5.8" text-anchor="start" fill="#111" >0.75</text>
<line x1="446.40" y1="197.86" x2="447.40" y2="197.86" stroke="#333" stroke-width="0.4" />
<text stroke="#111" stroke-width="0.22" x="447.60" y="199.86" font-size="5.8" text-anchor="start" fill="#111" >0.50</text>
<line x1="446.40" y1="215.49" x2="447.40" y2="215.49" stroke="#333" stroke-width="0.4" />
<text stroke="#111" stroke-width="0.22" x="447.60" y="217.49" font-size="5.8" text-anchor="start" fill="#111" >0.25</text>
<line x1="446.40" y1="233.11" x2="447.40" y2="233.11" stroke="#333" stroke-width="0.4" />
<text stroke="#111" stroke-width="0.22" x="447.60" y="235.11" font-size="5.8" text-anchor="start" fill="#111" >−0.25</text>
<line x1="446.40" y1="250.74" x2="447.40" y2="250.74" stroke="#333" stroke-width="0.4" />
<text stroke="#111" stroke-width="0.22" x="447.60" y="252.74" font-size="5.8" text-anchor="start" fill="#111" >−0.50</text>
<line x1="446.40" y1="268.37" x2="447.40" y2="268.37" stroke="#333" stroke-width="0.4" />
<text stroke="#111" stroke-width="0.22" x="447.60" y="270.37" font-size="5.8" text-anchor="start" fill="#111" >−0.75</text>
<line x1="446.40" y1="286.00" x2="447.40" y2="286.00" stroke="#333" stroke-width="0.4" />
<text stroke="#111" stroke-width="0.22" x="447.60" y="288.00" font-size="5.8" text-anchor="start" fill="#111" >−1.00</text>
<rect x="400.50" y="198.00" width="11.60" height="18.20" fill="none" stroke="#555" stroke-width="0.5" stroke-dasharray="1.2,1"/>
<rect x="337.20" y="261.00" width="12.10" height="18.80" fill="none" stroke="#555" stroke-width="0.5" stroke-dasharray="1.2,1"/>
<circle cx="530.00" cy="266.00" r="3.50" fill="none" stroke="#f4a0a0" stroke-width="0.6"/>
<circle cx="536.00" cy="262.00" r="3.00" fill="none" stroke="#f4a0a0" stroke-width="0.6"/>
<circle cx="524.00" cy="272.00" r="3.00" fill="none" stroke="#f4a0a0" stroke-width="0.6"/>
<circle cx="530.00" cy="276.00" r="3.00" fill="none" stroke="#f4a0a0" stroke-width="0.6"/>
<circle cx="580.00" cy="219.00" r="3.80" fill="none" stroke="#f4a4a4" stroke-width="0.6"/>
<circle cx="585.00" cy="214.00" r="3.20" fill="none" stroke="#f4a4a4" stroke-width="0.6"/>
<circle cx="589.00" cy="220.00" r="3.00" fill="none" stroke="#f4a4a4" stroke-width="0.6"/>
<circle cx="578.50" cy="211.00" r="3.00" fill="none" stroke="#f4a4a4" stroke-width="0.6"/>
<circle cx="584.00" cy="207.00" r="2.60" fill="none" stroke="#f4a4a4" stroke-width="0.6"/>
<path d="M521.4 166.5h1.0v1.0h-1.0zM525.6 166.5h1.0v1.0h-1.0zM528.4 166.5h1.0v1.0h-1.0zM529.8 166.5h1.0v1.0h-1.0zM532.6 166.5h1.0v1.0h-1.0zM536.8 166.5h1.0v1.0h-1.0zM538.2 166.5h1.0v1.0h-1.0zM542.4 166.5h1.0v1.0h-1.0zM543.8 166.5h1.0v1.0h-1.0zM545.2 166.5h1.0v1.0h-1.0zM546.6 166.5h1.0v1.0h-1.0zM549.4 166.5h1.0v1.0h-1.0zM552.2 166.5h1.0v1.0h-1.0zM562.0 166.5h1.0v1.0h-1.0zM563.4 166.5h1.0v1.0h-1.0zM566.2 166.5h1.0v1.0h-1.0zM570.4 166.5h1.0v1.0h-1.0zM571.8 166.5h1.0v1.0h-1.0zM573.2 166.5h1.0v1.0h-1.0zM520.0 168.5h1.0v1.0h-1.0zM522.8 168.5h1.0v1.0h-1.0zM528.4 168.5h1.0v1.0h-1.0zM531.2 168.5h1.0v1.0h-1.0zM535.4 168.5h1.0v1.0h-1.0zM538.2 168.5h1.0v1.0h-1.0zM542.4 168.5h1.0v1.0h-1.0zM543.8 168.5h1.0v1.0h-1.0zM548.0 168.5h1.0v1.0h-1.0zM555.0 168.5h1.0v1.0h-1.0zM556.4 168.5h1.0v1.0h-1.0zM557.8 168.5h1.0v1.0h-1.0zM560.6 168.5h1.0v1.0h-1.0zM562.0 168.5h1.0v1.0h-1.0zM564.8 168.5h1.0v1.0h-1.0zM569.0 168.5h1.0v1.0h-1.0zM573.2 168.5h1.0v1.0h-1.0zM521.4 174.8h1.0v1.0h-1.0zM522.8 174.8h1.0v1.0h-1.0zM524.2 174.8h1.0v1.0h-1.0zM525.6 174.8h1.0v1.0h-1.0zM527.0 174.8h1.0v1.0h-1.0zM528.4 174.8h1.0v1.0h-1.0zM529.8 174.8h1.0v1.0h-1.0zM531.2 174.8h1.0v1.0h-1.0zM532.6 174.8h1.0v1.0h-1.0zM534.0 174.8h1.0v1.0h-1.0zM536.8 174.8h1.0v1.0h-1.0zM538.2 174.8h1.0v1.0h-1.0zM542.4 174.8h1.0v1.0h-1.0zM543.8 174.8h1.0v1.0h-1.0zM545.2 174.8h1.0v1.0h-1.0zM546.6 174.8h1.0v1.0h-1.0zM548.0 174.8h1.0v1.0h-1.0zM549.4 174.8h1.0v1.0h-1.0zM559.2 174.8h1.0v1.0h-1.0zM560.6 174.8h1.0v1.0h-1.0zM564.8 174.8h1.0v1.0h-1.0zM566.2 174.8h1.0v1.0h-1.0zM567.6 174.8h1.0v1.0h-1.0zM570.4 174.8h1.0v1.0h-1.0zM574.6 174.8h1.0v1.0h-1.0zM576.0 174.8h1.0v1.0h-1.0z" fill="#f7bcbc"/>
<path d="M530.8 170.5h1.0v1.0h-1.0zM532.2 170.5h1.0v1.0h-1.0zM535.0 170.5h1.0v1.0h-1.0zM549.0 170.5h1.0v1.0h-1.0zM550.4 170.5h1.0v1.0h-1.0zM557.4 170.5h1.0v1.0h-1.0zM560.2 170.5h1.0v1.0h-1.0zM563.0 170.5h1.0v1.0h-1.0zM565.8 170.5h1.0v1.0h-1.0zM567.2 170.5h1.0v1.0h-1.0zM528.0 172.5h1.0v1.0h-1.0zM530.8 172.5h1.0v1.0h-1.0zM532.2 172.5h1.0v1.0h-1.0zM536.4 172.5h1.0v1.0h-1.0zM537.8 172.5h1.0v1.0h-1.0zM540.6 172.5h1.0v1.0h-1.0zM543.4 172.5h1.0v1.0h-1.0zM544.8 172.5h1.0v1.0h-1.0zM556.0 172.5h1.0v1.0h-1.0zM557.4 172.5h1.0v1.0h-1.0zM560.2 172.5h1.0v1.0h-1.0zM561.6 172.5h1.0v1.0h-1.0zM564.4 172.5h1.0v1.0h-1.0zM567.2 172.5h1.0v1.0h-1.0zM570.0 172.5h1.0v1.0h-1.0zM571.4 172.5h1.0v1.0h-1.0zM574.2 172.5h1.0v1.0h-1.0zM536.4 178.0h1.0v1.0h-1.0zM537.8 178.0h1.0v1.0h-1.0zM550.4 178.0h1.0v1.0h-1.0zM551.8 178.0h1.0v1.0h-1.0zM553.2 178.0h1.0v1.0h-1.0zM561.6 178.0h1.0v1.0h-1.0zM565.8 178.0h1.0v1.0h-1.0zM567.2 178.0h1.0v1.0h-1.0zM574.2 178.0h1.0v1.0h-1.0zM575.6 178.0h1.0v1.0h-1.0zM528.0 181.0h1.0v1.0h-1.0zM533.6 181.0h1.0v1.0h-1.0zM535.0 181.0h1.0v1.0h-1.0zM536.4 181.0h1.0v1.0h-1.0zM540.6 181.0h1.0v1.0h-1.0zM542.0 181.0h1.0v1.0h-1.0zM543.4 181.0h1.0v1.0h-1.0zM547.6 181.0h1.0v1.0h-1.0zM549.0 181.0h1.0v1.0h-1.0zM556.0 181.0h1.0v1.0h-1.0zM557.4 181.0h1.0v1.0h-1.0zM558.8 181.0h1.0v1.0h-1.0zM560.2 181.0h1.0v1.0h-1.0zM563.0 181.0h1.0v1.0h-1.0z" fill="#cfcff7"/>
<path d="M526.0 189.7h1.1v1.1h-1.1zM527.5 189.7h1.1v1.1h-1.1zM529.0 189.7h1.1v1.1h-1.1zM530.5 189.7h1.1v1.1h-1.1zM532.0 189.7h1.1v1.1h-1.1zM533.5 189.7h1.1v1.1h-1.1zM535.0 189.7h1.1v1.1h-1.1zM536.5 189.7h1.1v1.1h-1.1zM538.0 189.7h1.1v1.1h-1.1zM539.5 189.7h1.1v1.1h-1.1zM541.0 189.7h1.1v1.1h-1.1zM526.0 191.5h1.1v1.1h-1.1zM527.5 191.5h1.1v1.1h-1.1zM529.0 191.5h1.1v1.1h-1.1zM530.5 191.5h1.1v1.1h-1.1zM532.0 191.5h1.1v1.1h-1.1zM535.0 191.5h1.1v1.1h-1.1zM536.5 191.5h1.1v1.1h-1.1zM538.0 191.5h1.1v1.1h-1.1zM539.5 191.5h1.1v1.1h-1.1zM541.0 191.5h1.1v1.1h-1.1zM526.0 193.3h1.1v1.1h-1.1zM527.5 193.3h1.1v1.1h-1.1zM529.0 193.3h1.1v1.1h-1.1zM530.5 193.3h1.1v1.1h-1.1zM533.5 193.3h1.1v1.1h-1.1zM535.0 193.3h1.1v1.1h-1.1zM536.5 193.3h1.1v1.1h-1.1zM539.5 193.3h1.1v1.1h-1.1zM541.0 193.3h1.1v1.1h-1.1z" fill="#f39a9a"/>
<path d="M548.6 189.7h1.0v1.0h-1.0zM552.8 189.7h1.0v1.0h-1.0zM557.0 189.7h1.0v1.0h-1.0zM561.2 189.7h1.0v1.0h-1.0zM562.6 189.7h1.0v1.0h-1.0zM545.8 191.5h1.0v1.0h-1.0zM557.0 191.5h1.0v1.0h-1.0zM565.4 191.5h1.0v1.0h-1.0zM566.8 191.5h1.0v1.0h-1.0zM569.6 191.5h1.0v1.0h-1.0zM573.8 191.5h1.0v1.0h-1.0zM543.0 193.3h1.0v1.0h-1.0zM545.8 193.3h1.0v1.0h-1.0zM548.6 193.3h1.0v1.0h-1.0zM554.2 193.3h1.0v1.0h-1.0zM555.6 193.3h1.0v1.0h-1.0zM557.0 193.3h1.0v1.0h-1.0zM566.8 193.3h1.0v1.0h-1.0zM569.6 193.3h1.0v1.0h-1.0z" fill="#f8c4c4"/>
<path d="M521.4 186.5h1.0v1.0h-1.0zM524.2 186.5h1.0v1.0h-1.0zM527.0 186.5h1.0v1.0h-1.0zM529.8 186.5h1.0v1.0h-1.0zM534.0 186.5h1.0v1.0h-1.0zM535.4 186.5h1.0v1.0h-1.0zM536.8 186.5h1.0v1.0h-1.0zM538.2 186.5h1.0v1.0h-1.0zM542.4 186.5h1.0v1.0h-1.0zM543.8 186.5h1.0v1.0h-1.0zM549.4 186.5h1.0v1.0h-1.0zM550.8 186.5h1.0v1.0h-1.0zM552.2 186.5h1.0v1.0h-1.0zM556.4 186.5h1.0v1.0h-1.0zM559.2 186.5h1.0v1.0h-1.0zM562.0 186.5h1.0v1.0h-1.0zM563.4 186.5h1.0v1.0h-1.0zM567.6 186.5h1.0v1.0h-1.0zM569.0 186.5h1.0v1.0h-1.0zM576.0 186.5h1.0v1.0h-1.0zM524.2 188.0h1.0v1.0h-1.0zM525.6 188.0h1.0v1.0h-1.0zM527.0 188.0h1.0v1.0h-1.0zM531.2 188.0h1.0v1.0h-1.0zM532.6 188.0h1.0v1.0h-1.0zM535.4 188.0h1.0v1.0h-1.0zM536.8 188.0h1.0v1.0h-1.0zM538.2 188.0h1.0v1.0h-1.0zM545.2 188.0h1.0v1.0h-1.0zM546.6 188.0h1.0v1.0h-1.0zM549.4 188.0h1.0v1.0h-1.0zM552.2 188.0h1.0v1.0h-1.0zM553.6 188.0h1.0v1.0h-1.0zM556.4 188.0h1.0v1.0h-1.0zM559.2 188.0h1.0v1.0h-1.0zM563.4 188.0h1.0v1.0h-1.0zM567.6 188.0h1.0v1.0h-1.0zM569.0 188.0h1.0v1.0h-1.0zM570.4 188.0h1.0v1.0h-1.0zM573.2 188.0h1.0v1.0h-1.0zM576.0 188.0h1.0v1.0h-1.0zM522.8 195.5h1.0v1.0h-1.0zM524.2 195.5h1.0v1.0h-1.0zM528.4 195.5h1.0v1.0h-1.0zM532.6 195.5h1.0v1.0h-1.0zM536.8 195.5h1.0v1.0h-1.0zM538.2 195.5h1.0v1.0h-1.0zM542.4 195.5h1.0v1.0h-1.0zM548.0 195.5h1.0v1.0h-1.0zM549.4 195.5h1.0v1.0h-1.0zM552.2 195.5h1.0v1.0h-1.0zM553.6 195.5h1.0v1.0h-1.0zM556.4 195.5h1.0v1.0h-1.0zM557.8 195.5h1.0v1.0h-1.0zM560.6 195.5h1.0v1.0h-1.0zM566.2 195.5h1.0v1.0h-1.0zM570.4 195.5h1.0v1.0h-1.0zM571.8 195.5h1.0v1.0h-1.0z" fill="#c4c4f5"/>
<path d="M526.5 197.0h15.7v25.0h-15.7zM526.5 238.0h13.2v13.4h-13.2z" fill="#dcdcf9"/>
<path d="M528.5 198.0h1.1v1.1h-1.1zM534.5 198.0h1.1v1.1h-1.1zM537.5 198.0h1.1v1.1h-1.1zM539.0 198.0h1.1v1.1h-1.1zM540.5 198.0h1.1v1.1h-1.1zM527.0 200.0h1.1v1.1h-1.1zM528.5 200.0h1.1v1.1h-1.1zM530.0 200.0h1.1v1.1h-1.1zM531.5 200.0h1.1v1.1h-1.1zM533.0 200.0h1.1v1.1h-1.1zM534.5 200.0h1.1v1.1h-1.1zM537.5 200.0h1.1v1.1h-1.1zM539.0 200.0h1.1v1.1h-1.1zM540.5 200.0h1.1v1.1h-1.1zM527.0 202.0h1.1v1.1h-1.1zM528.5 202.0h1.1v1.1h-1.1zM531.5 202.0h1.1v1.1h-1.1zM533.0 202.0h1.1v1.1h-1.1zM537.5 202.0h1.1v1.1h-1.1zM539.0 202.0h1.1v1.1h-1.1zM540.5 202.0h1.1v1.1h-1.1zM527.0 204.0h1.1v1.1h-1.1zM528.5 204.0h1.1v1.1h-1.1zM531.5 204.0h1.1v1.1h-1.1zM534.5 204.0h1.1v1.1h-1.1zM536.0 204.0h1.1v1.1h-1.1zM540.5 204.0h1.1v1.1h-1.1zM527.0 206.0h1.1v1.1h-1.1zM534.5 206.0h1.1v1.1h-1.1zM536.0 206.0h1.1v1.1h-1.1zM537.5 206.0h1.1v1.1h-1.1zM528.5 208.0h1.1v1.1h-1.1zM539.0 208.0h1.1v1.1h-1.1zM540.5 208.0h1.1v1.1h-1.1zM530.0 210.0h1.1v1.1h-1.1zM531.5 210.0h1.1v1.1h-1.1zM533.0 210.0h1.1v1.1h-1.1zM534.5 210.0h1.1v1.1h-1.1zM536.0 210.0h1.1v1.1h-1.1zM539.0 210.0h1.1v1.1h-1.1z" fill="#b8b8f3"/>
<path d="M527.0 212.0h1.1v1.1h-1.1zM531.5 212.0h1.1v1.1h-1.1zM534.5 212.0h1.1v1.1h-1.1zM537.5 212.0h1.1v1.1h-1.1zM540.5 212.0h1.1v1.1h-1.1zM527.0 214.0h1.1v1.1h-1.1zM528.5 214.0h1.1v1.1h-1.1zM530.0 214.0h1.1v1.1h-1.1zM531.5 214.0h1.1v1.1h-1.1zM533.0 214.0h1.1v1.1h-1.1zM539.0 214.0h1.1v1.1h-1.1zM530.0 216.0h1.1v1.1h-1.1zM531.5 216.0h1.1v1.1h-1.1zM534.5 216.0h1.1v1.1h-1.1zM536.0 216.0h1.1v1.1h-1.1zM537.5 216.0h1.1v1.1h-1.1zM539.0 216.0h1.1v1.1h-1.1zM540.5 216.0h1.1v1.1h-1.1zM528.5 218.0h1.1v1.1h-1.1zM530.0 218.0h1.1v1.1h-1.1zM531.5 218.0h1.1v1.1h-1.1zM533.0 218.0h1.1v1.1h-1.1zM536.0 218.0h1.1v1.1h-1.1zM537.5 218.0h1.1v1.1h-1.1zM539.0 218.0h1.1v1.1h-1.1zM540.5 218.0h1.1v1.1h-1.1zM530.0 220.0h1.1v1.1h-1.1zM531.5 220.0h1.1v1.1h-1.1zM534.5 220.0h1.1v1.1h-1.1zM536.0 220.0h1.1v1.1h-1.1zM537.5 220.0h1.1v1.1h-1.1z" fill="#9a9af0"/>
<path d="M533.5 198.0h1.1v1.1h-1.1zM533.5 199.5h1.1v1.1h-1.1zM533.5 201.0h1.1v1.1h-1.1zM533.5 204.0h1.1v1.1h-1.1zM533.5 205.5h1.1v1.1h-1.1zM533.5 207.0h1.1v1.1h-1.1zM533.5 208.5h1.1v1.1h-1.1zM533.5 211.5h1.1v1.1h-1.1zM533.5 216.0h1.1v1.1h-1.1zM533.5 219.0h1.1v1.1h-1.1zM537.5 199.5h1.1v1.1h-1.1zM537.5 201.0h1.1v1.1h-1.1zM537.5 204.0h1.1v1.1h-1.1zM537.5 207.0h1.1v1.1h-1.1zM537.5 208.5h1.1v1.1h-1.1zM537.5 211.5h1.1v1.1h-1.1zM537.5 213.0h1.1v1.1h-1.1zM537.5 214.5h1.1v1.1h-1.1zM537.5 217.5h1.1v1.1h-1.1z" fill="#6e6eec"/>
<path d="M518.5 210.0h1.2v1.2h-1.2zM518.5 212.0h1.2v1.2h-1.2zM520.1 212.0h1.2v1.2h-1.2zM521.7 212.0h1.2v1.2h-1.2zM523.3 212.0h1.2v1.2h-1.2zM523.3 214.0h1.2v1.2h-1.2zM518.5 216.0h1.2v1.2h-1.2zM521.7 216.0h1.2v1.2h-1.2zM523.3 216.0h1.2v1.2h-1.2zM518.5 218.0h1.2v1.2h-1.2zM523.3 218.0h1.2v1.2h-1.2zM520.1 220.0h1.2v1.2h-1.2zM523.3 220.0h1.2v1.2h-1.2z" fill="#f4aaaa"/>
<path d="M519.0 202.8h1.0v1.0h-1.0zM519.0 205.6h1.0v1.0h-1.0zM519.0 207.0h1.0v1.0h-1.0zM519.0 208.4h1.0v1.0h-1.0zM519.0 209.8h1.0v1.0h-1.0zM521.0 201.4h1.0v1.0h-1.0zM521.0 202.8h1.0v1.0h-1.0zM521.0 205.6h1.0v1.0h-1.0zM521.0 207.0h1.0v1.0h-1.0zM521.0 209.8h1.0v1.0h-1.0zM523.0 200.0h1.0v1.0h-1.0zM523.0 204.2h1.0v1.0h-1.0zM523.0 205.6h1.0v1.0h-1.0zM545.0 260.0h1.0v1.0h-1.0zM545.0 262.8h1.0v1.0h-1.0zM545.0 267.0h1.0v1.0h-1.0zM545.0 269.8h1.0v1.0h-1.0zM545.0 281.0h1.0v1.0h-1.0zM545.0 282.4h1.0v1.0h-1.0zM549.0 262.8h1.0v1.0h-1.0zM549.0 265.6h1.0v1.0h-1.0zM549.0 268.4h1.0v1.0h-1.0zM549.0 269.8h1.0v1.0h-1.0zM549.0 271.2h1.0v1.0h-1.0zM549.0 272.6h1.0v1.0h-1.0zM549.0 274.0h1.0v1.0h-1.0zM549.0 276.8h1.0v1.0h-1.0zM549.0 279.6h1.0v1.0h-1.0zM549.0 282.4h1.0v1.0h-1.0zM553.0 264.2h1.0v1.0h-1.0zM553.0 269.8h1.0v1.0h-1.0zM553.0 276.8h1.0v1.0h-1.0zM553.0 279.6h1.0v1.0h-1.0zM557.0 265.6h1.0v1.0h-1.0zM557.0 268.4h1.0v1.0h-1.0zM557.0 272.6h1.0v1.0h-1.0zM557.0 281.0h1.0v1.0h-1.0zM561.0 260.0h1.0v1.0h-1.0zM561.0 262.8h1.0v1.0h-1.0zM561.0 267.0h1.0v1.0h-1.0zM561.0 268.4h1.0v1.0h-1.0zM561.0 275.4h1.0v1.0h-1.0zM561.0 276.8h1.0v1.0h-1.0zM565.0 265.6h1.0v1.0h-1.0zM565.0 269.8h1.0v1.0h-1.0zM565.0 271.2h1.0v1.0h-1.0zM565.0 272.6h1.0v1.0h-1.0zM565.0 275.4h1.0v1.0h-1.0zM565.0 276.8h1.0v1.0h-1.0zM565.0 281.0h1.0v1.0h-1.0zM565.0 282.4h1.0v1.0h-1.0zM569.0 260.0h1.0v1.0h-1.0zM569.0 262.8h1.0v1.0h-1.0zM569.0 264.2h1.0v1.0h-1.0zM569.0 265.6h1.0v1.0h-1.0zM569.0 267.0h1.0v1.0h-1.0zM569.0 271.2h1.0v1.0h-1.0zM569.0 272.6h1.0v1.0h-1.0zM569.0 278.2h1.0v1.0h-1.0zM569.0 279.6h1.0v1.0h-1.0zM569.0 281.0h1.0v1.0h-1.0zM573.0 260.0h1.0v1.0h-1.0zM573.0 265.6h1.0v1.0h-1.0zM573.0 269.8h1.0v1.0h-1.0zM573.0 274.0h1.0v1.0h-1.0zM573.0 282.4h1.0v1.0h-1.0zM603.5 231.4h1.0v1.0h-1.0zM603.5 232.8h1.0v1.0h-1.0zM603.5 234.2h1.0v1.0h-1.0zM603.5 237.0h1.0v1.0h-1.0zM603.5 239.8h1.0v1.0h-1.0zM603.5 242.6h1.0v1.0h-1.0zM603.5 245.4h1.0v1.0h-1.0zM603.5 249.6h1.0v1.0h-1.0zM603.5 251.0h1.0v1.0h-1.0zM603.5 252.4h1.0v1.0h-1.0zM603.5 256.6h1.0v1.0h-1.0zM603.5 259.4h1.0v1.0h-1.0zM603.5 265.0h1.0v1.0h-1.0zM603.5 266.4h1.0v1.0h-1.0zM603.5 267.8h1.0v1.0h-1.0zM603.5 272.0h1.0v1.0h-1.0zM603.5 273.4h1.0v1.0h-1.0zM603.5 276.2h1.0v1.0h-1.0zM597.0 231.4h1.0v1.0h-1.0zM597.0 234.2h1.0v1.0h-1.0zM597.0 246.8h1.0v1.0h-1.0zM597.0 248.2h1.0v1.0h-1.0zM597.0 249.6h1.0v1.0h-1.0zM597.0 258.0h1.0v1.0h-1.0zM597.0 259.4h1.0v1.0h-1.0zM597.0 266.4h1.0v1.0h-1.0zM597.0 267.8h1.0v1.0h-1.0zM597.0 269.2h1.0v1.0h-1.0zM597.0 273.4h1.0v1.0h-1.0zM597.0 276.2h1.0v1.0h-1.0zM597.0 279.0h1.0v1.0h-1.0zM597.0 281.8h1.0v1.0h-1.0zM597.0 283.2h1.0v1.0h-1.0zM612.0 231.4h1.0v1.0h-1.0zM612.0 239.8h1.0v1.0h-1.0zM612.0 241.2h1.0v1.0h-1.0zM612.0 245.4h1.0v1.0h-1.0zM612.0 246.8h1.0v1.0h-1.0zM612.0 249.6h1.0v1.0h-1.0zM612.0 252.4h1.0v1.0h-1.0zM612.0 253.8h1.0v1.0h-1.0zM612.0 258.0h1.0v1.0h-1.0zM612.0 265.0h1.0v1.0h-1.0zM612.0 266.4h1.0v1.0h-1.0zM612.0 267.8h1.0v1.0h-1.0zM612.0 269.2h1.0v1.0h-1.0zM612.0 270.6h1.0v1.0h-1.0zM612.0 272.0h1.0v1.0h-1.0zM612.0 277.6h1.0v1.0h-1.0zM612.0 281.8h1.0v1.0h-1.0zM612.0 283.2h1.0v1.0h-1.0zM628.0 231.4h1.0v1.0h-1.0zM628.0 232.8h1.0v1.0h-1.0zM628.0 234.2h1.0v1.0h-1.0zM628.0 244.0h1.0v1.0h-1.0zM628.0 245.4h1.0v1.0h-1.0zM628.0 246.8h1.0v1.0h-1.0zM628.0 248.2h1.0v1.0h-1.0zM628.0 249.6h1.0v1.0h-1.0zM628.0 251.0h1.0v1.0h-1.0zM628.0 252.4h1.0v1.0h-1.0zM628.0 253.8h1.0v1.0h-1.0zM628.0 256.6h1.0v1.0h-1.0zM628.0 260.8h1.0v1.0h-1.0zM628.0 265.0h1.0v1.0h-1.0zM628.0 269.2h1.0v1.0h-1.0zM628.0 274.8h1.0v1.0h-1.0zM628.0 276.2h1.0v1.0h-1.0zM628.0 280.4h1.0v1.0h-1.0zM628.0 281.8h1.0v1.0h-1.0zM606.0 203.2h1.0v1.0h-1.0zM606.0 204.6h1.0v1.0h-1.0zM606.0 208.8h1.0v1.0h-1.0zM606.0 215.8h1.0v1.0h-1.0zM610.0 204.6h1.0v1.0h-1.0zM610.0 206.0h1.0v1.0h-1.0zM610.0 213.0h1.0v1.0h-1.0zM610.0 221.4h1.0v1.0h-1.0zM614.0 199.0h1.0v1.0h-1.0zM614.0 204.6h1.0v1.0h-1.0zM614.0 207.4h1.0v1.0h-1.0zM614.0 210.2h1.0v1.0h-1.0zM614.0 214.4h1.0v1.0h-1.0zM614.0 215.8h1.0v1.0h-1.0zM614.0 217.2h1.0v1.0h-1.0zM614.0 220.0h1.0v1.0h-1.0zM618.0 199.0h1.0v1.0h-1.0zM618.0 200.4h1.0v1.0h-1.0zM618.0 203.2h1.0v1.0h-1.0zM618.0 207.4h1.0v1.0h-1.0zM618.0 214.4h1.0v1.0h-1.0zM618.0 217.2h1.0v1.0h-1.0zM618.0 218.6h1.0v1.0h-1.0zM618.0 220.0h1.0v1.0h-1.0zM622.0 200.4h1.0v1.0h-1.0zM622.0 206.0h1.0v1.0h-1.0zM622.0 210.2h1.0v1.0h-1.0zM622.0 213.0h1.0v1.0h-1.0zM622.0 215.8h1.0v1.0h-1.0zM626.0 200.4h1.0v1.0h-1.0zM626.0 204.6h1.0v1.0h-1.0zM626.0 207.4h1.0v1.0h-1.0zM626.0 211.6h1.0v1.0h-1.0zM626.0 214.4h1.0v1.0h-1.0zM626.0 215.8h1.0v1.0h-1.0zM630.0 200.4h1.0v1.0h-1.0zM630.0 201.8h1.0v1.0h-1.0zM630.0 204.6h1.0v1.0h-1.0zM630.0 208.8h1.0v1.0h-1.0zM630.0 217.2h1.0v1.0h-1.0zM634.0 201.8h1.0v1.0h-1.0zM634.0 204.6h1.0v1.0h-1.0zM634.0 206.0h1.0v1.0h-1.0zM634.0 208.8h1.0v1.0h-1.0zM634.0 210.2h1.0v1.0h-1.0zM634.0 214.4h1.0v1.0h-1.0zM634.0 215.8h1.0v1.0h-1.0zM634.0 220.0h1.0v1.0h-1.0zM586.0 183.0h1.0v1.0h-1.0zM588.8 183.0h1.0v1.0h-1.0zM590.2 183.0h1.0v1.0h-1.0zM591.6 183.0h1.0v1.0h-1.0zM593.0 183.0h1.0v1.0h-1.0zM597.2 183.0h1.0v1.0h-1.0zM600.0 183.0h1.0v1.0h-1.0zM580.4 188.0h1.0v1.0h-1.0zM583.2 188.0h1.0v1.0h-1.0zM586.0 188.0h1.0v1.0h-1.0zM588.8 188.0h1.0v1.0h-1.0zM590.2 188.0h1.0v1.0h-1.0zM591.6 188.0h1.0v1.0h-1.0zM594.4 188.0h1.0v1.0h-1.0zM597.2 188.0h1.0v1.0h-1.0zM598.6 188.0h1.0v1.0h-1.0z" fill="#c8c8f5"/>
<path d="M545.0 180.0h1.0v1.0h-1.0zM545.0 209.4h1.0v1.0h-1.0zM545.0 215.0h1.0v1.0h-1.0zM545.0 220.6h1.0v1.0h-1.0zM549.0 166.0h1.0v1.0h-1.0zM549.0 170.2h1.0v1.0h-1.0zM549.0 175.8h1.0v1.0h-1.0zM549.0 184.2h1.0v1.0h-1.0zM549.0 191.2h1.0v1.0h-1.0zM549.0 195.4h1.0v1.0h-1.0zM549.0 201.0h1.0v1.0h-1.0zM549.0 203.8h1.0v1.0h-1.0zM549.0 206.6h1.0v1.0h-1.0zM549.0 208.0h1.0v1.0h-1.0zM549.0 220.6h1.0v1.0h-1.0zM569.0 175.8h1.0v1.0h-1.0zM569.0 182.8h1.0v1.0h-1.0zM569.0 191.2h1.0v1.0h-1.0zM569.0 192.6h1.0v1.0h-1.0zM569.0 195.4h1.0v1.0h-1.0zM569.0 208.0h1.0v1.0h-1.0zM569.0 210.8h1.0v1.0h-1.0zM569.0 216.4h1.0v1.0h-1.0zM532.0 226.0h1.0v1.0h-1.0zM532.0 228.8h1.0v1.0h-1.0zM532.0 231.6h1.0v1.0h-1.0zM532.0 244.2h1.0v1.0h-1.0zM532.0 245.6h1.0v1.0h-1.0zM532.0 251.2h1.0v1.0h-1.0zM532.0 255.4h1.0v1.0h-1.0zM540.0 228.8h1.0v1.0h-1.0zM540.0 235.8h1.0v1.0h-1.0zM540.0 240.0h1.0v1.0h-1.0zM540.0 245.6h1.0v1.0h-1.0zM540.0 247.0h1.0v1.0h-1.0zM540.0 251.2h1.0v1.0h-1.0zM540.0 254.0h1.0v1.0h-1.0zM540.0 255.4h1.0v1.0h-1.0zM607.0 164.7h1.2v1.0h-1.2zM527.8 231.0h1.0v1.2h-1.0zM554.3 219.7h1.2v1.0h-1.2zM626.4 244.8h1.6v0.8h-1.6zM570.0 200.7h1.2v1.2h-1.2zM614.8 270.1h0.8v0.8h-0.8zM539.9 194.8h1.2v0.8h-1.2zM608.0 169.7h0.8v0.8h-0.8zM581.6 271.7h1.2v1.2h-1.2zM627.7 208.9h1.2v1.2h-1.2zM561.8 247.5h0.8v0.8h-0.8zM581.7 280.3h1.0v1.2h-1.0zM538.3 174.9h1.6v0.8h-1.6zM579.3 251.1h1.6v0.8h-1.6zM545.2 191.8h1.6v1.2h-1.6zM623.8 257.8h1.6v0.8h-1.6zM588.6 211.6h1.2v1.0h-1.2zM624.7 187.2h1.6v0.8h-1.6zM539.4 264.1h0.8v1.0h-0.8zM606.2 239.4h1.2v1.0h-1.2zM615.8 211.0h1.6v1.2h-1.6zM547.0 163.1h1.0v1.2h-1.0zM558.1 209.9h1.6v1.0h-1.6zM546.1 242.4h1.0v1.0h-1.0zM617.3 208.2h1.6v1.2h-1.6zM537.7 222.6h1.0v0.8h-1.0zM602.1 224.8h1.0v0.8h-1.0zM626.6 245.5h1.2v1.2h-1.2zM585.9 281.8h1.2v0.8h-1.2zM526.4 215.0h0.8v0.8h-0.8zM545.8 212.8h1.0v0.8h-1.0zM563.2 213.2h1.2v0.8h-1.2zM635.5 235.2h1.0v1.2h-1.0zM543.4 275.7h1.2v1.2h-1.2zM635.7 255.4h1.2v0.8h-1.2zM631.1 254.3h1.2v0.8h-1.2zM620.2 276.9h1.2v0.8h-1.2zM552.6 221.5h0.8v0.8h-0.8zM566.8 269.7h0.8v1.2h-0.8zM565.5 228.9h1.6v1.2h-1.6zM635.0 210.2h1.0v1.0h-1.0z" fill="#d4d4f8"/>
<path d="M553.0 170.2h1.0v1.0h-1.0zM553.0 188.4h1.0v1.0h-1.0zM553.0 191.2h1.0v1.0h-1.0zM553.0 199.6h1.0v1.0h-1.0zM553.0 208.0h1.0v1.0h-1.0zM553.0 213.6h1.0v1.0h-1.0zM553.0 217.8h1.0v1.0h-1.0zM557.0 180.0h1.0v1.0h-1.0zM557.0 181.4h1.0v1.0h-1.0zM557.0 182.8h1.0v1.0h-1.0zM557.0 192.6h1.0v1.0h-1.0zM557.0 199.6h1.0v1.0h-1.0zM557.0 208.0h1.0v1.0h-1.0zM557.0 209.4h1.0v1.0h-1.0zM561.0 182.8h1.0v1.0h-1.0zM561.0 196.8h1.0v1.0h-1.0zM561.0 198.2h1.0v1.0h-1.0zM561.0 199.6h1.0v1.0h-1.0zM561.0 202.4h1.0v1.0h-1.0zM561.0 203.8h1.0v1.0h-1.0zM561.0 205.2h1.0v1.0h-1.0zM561.0 206.6h1.0v1.0h-1.0zM561.0 213.6h1.0v1.0h-1.0zM561.0 217.8h1.0v1.0h-1.0zM565.0 167.4h1.0v1.0h-1.0zM565.0 175.8h1.0v1.0h-1.0zM565.0 205.2h1.0v1.0h-1.0zM565.0 208.0h1.0v1.0h-1.0zM565.0 210.8h1.0v1.0h-1.0zM565.0 215.0h1.0v1.0h-1.0zM573.0 177.2h1.0v1.0h-1.0zM573.0 187.0h1.0v1.0h-1.0zM573.0 192.6h1.0v1.0h-1.0zM573.0 194.0h1.0v1.0h-1.0zM573.0 199.6h1.0v1.0h-1.0zM573.0 205.2h1.0v1.0h-1.0zM573.0 208.0h1.0v1.0h-1.0zM573.0 209.4h1.0v1.0h-1.0zM573.0 212.2h1.0v1.0h-1.0zM573.0 216.4h1.0v1.0h-1.0zM573.0 219.2h1.0v1.0h-1.0zM524.0 226.0h1.0v1.0h-1.0zM524.0 237.2h1.0v1.0h-1.0zM524.0 238.6h1.0v1.0h-1.0zM524.0 241.4h1.0v1.0h-1.0zM524.0 244.2h1.0v1.0h-1.0zM524.0 249.8h1.0v1.0h-1.0zM528.0 228.8h1.0v1.0h-1.0zM528.0 233.0h1.0v1.0h-1.0zM528.0 241.4h1.0v1.0h-1.0zM528.0 244.2h1.0v1.0h-1.0zM528.0 247.0h1.0v1.0h-1.0zM528.0 252.6h1.0v1.0h-1.0zM536.0 227.4h1.0v1.0h-1.0zM536.0 230.2h1.0v1.0h-1.0zM536.0 233.0h1.0v1.0h-1.0zM536.0 244.2h1.0v1.0h-1.0zM536.0 247.0h1.0v1.0h-1.0zM582.8 166.0h1.0v1.0h-1.0zM585.6 166.0h1.0v1.0h-1.0zM592.6 166.0h1.0v1.0h-1.0zM585.6 169.0h1.0v1.0h-1.0zM587.0 169.0h1.0v1.0h-1.0zM596.8 169.0h1.0v1.0h-1.0zM601.0 169.0h1.0v1.0h-1.0zM588.4 172.0h1.0v1.0h-1.0zM595.4 172.0h1.0v1.0h-1.0zM602.4 172.0h1.0v1.0h-1.0zM581.4 175.0h1.0v1.0h-1.0zM589.8 175.0h1.0v1.0h-1.0zM592.6 175.0h1.0v1.0h-1.0zM596.8 175.0h1.0v1.0h-1.0zM601.0 175.0h1.0v1.0h-1.0zM602.4 175.0h1.0v1.0h-1.0zM581.4 178.0h1.0v1.0h-1.0zM582.8 178.0h1.0v1.0h-1.0zM588.4 178.0h1.0v1.0h-1.0zM592.6 178.0h1.0v1.0h-1.0zM596.8 178.0h1.0v1.0h-1.0zM580.0 181.0h1.0v1.0h-1.0zM581.4 181.0h1.0v1.0h-1.0zM591.2 181.0h1.0v1.0h-1.0zM596.8 181.0h1.0v1.0h-1.0zM582.8 184.0h1.0v1.0h-1.0zM584.2 184.0h1.0v1.0h-1.0zM589.8 184.0h1.0v1.0h-1.0zM592.6 184.0h1.0v1.0h-1.0zM587.0 187.0h1.0v1.0h-1.0zM589.8 187.0h1.0v1.0h-1.0zM591.2 187.0h1.0v1.0h-1.0zM595.4 187.0h1.0v1.0h-1.0zM602.4 187.0h1.0v1.0h-1.0zM589.8 190.0h1.0v1.0h-1.0zM591.2 190.0h1.0v1.0h-1.0zM592.6 190.0h1.0v1.0h-1.0zM594.0 190.0h1.0v1.0h-1.0zM596.8 190.0h1.0v1.0h-1.0zM602.4 190.0h1.0v1.0h-1.0zM594.0 193.0h1.0v1.0h-1.0z" fill="#f9cccc"/>
<path d="M528.5 239.0h1.1v1.1h-1.1zM531.5 239.0h1.1v1.1h-1.1zM537.5 239.0h1.1v1.1h-1.1zM539.0 239.0h1.1v1.1h-1.1zM527.0 241.0h1.1v1.1h-1.1zM530.0 241.0h1.1v1.1h-1.1zM533.0 241.0h1.1v1.1h-1.1zM534.5 241.0h1.1v1.1h-1.1zM537.5 241.0h1.1v1.1h-1.1zM539.0 241.0h1.1v1.1h-1.1zM530.0 243.0h1.1v1.1h-1.1zM531.5 243.0h1.1v1.1h-1.1zM533.0 243.0h1.1v1.1h-1.1zM534.5 243.0h1.1v1.1h-1.1zM528.5 245.0h1.1v1.1h-1.1zM530.0 245.0h1.1v1.1h-1.1zM531.5 245.0h1.1v1.1h-1.1zM534.5 245.0h1.1v1.1h-1.1zM539.0 245.0h1.1v1.1h-1.1zM531.5 247.0h1.1v1.1h-1.1zM534.5 247.0h1.1v1.1h-1.1zM536.0 247.0h1.1v1.1h-1.1zM539.0 247.0h1.1v1.1h-1.1zM530.0 249.0h1.1v1.1h-1.1zM533.0 249.0h1.1v1.1h-1.1zM534.5 249.0h1.1v1.1h-1.1zM536.0 249.0h1.1v1.1h-1.1z" fill="#c0c0f4"/>
<path d="M521.2 260.0h1.2v1.2h-1.2zM522.8 260.0h1.2v1.2h-1.2zM526.0 260.0h1.2v1.2h-1.2zM527.6 260.0h1.2v1.2h-1.2zM532.4 260.0h1.2v1.2h-1.2zM540.4 260.0h1.2v1.2h-1.2zM519.6 262.0h1.2v1.2h-1.2zM521.2 262.0h1.2v1.2h-1.2zM526.0 262.0h1.2v1.2h-1.2zM532.4 262.0h1.2v1.2h-1.2zM534.0 262.0h1.2v1.2h-1.2zM535.6 262.0h1.2v1.2h-1.2zM538.8 262.0h1.2v1.2h-1.2zM518.0 264.0h1.2v1.2h-1.2zM530.8 264.0h1.2v1.2h-1.2zM534.0 264.0h1.2v1.2h-1.2zM535.6 264.0h1.2v1.2h-1.2zM537.2 264.0h1.2v1.2h-1.2zM538.8 264.0h1.2v1.2h-1.2zM540.4 264.0h1.2v1.2h-1.2zM518.0 266.0h1.2v1.2h-1.2zM519.6 266.0h1.2v1.2h-1.2zM521.2 266.0h1.2v1.2h-1.2zM522.8 266.0h1.2v1.2h-1.2zM524.4 266.0h1.2v1.2h-1.2zM526.0 266.0h1.2v1.2h-1.2zM527.6 266.0h1.2v1.2h-1.2zM529.2 266.0h1.2v1.2h-1.2zM540.4 266.0h1.2v1.2h-1.2zM518.0 268.0h1.2v1.2h-1.2zM521.2 268.0h1.2v1.2h-1.2zM522.8 268.0h1.2v1.2h-1.2zM526.0 268.0h1.2v1.2h-1.2zM527.6 268.0h1.2v1.2h-1.2zM529.2 268.0h1.2v1.2h-1.2zM535.6 268.0h1.2v1.2h-1.2zM537.2 268.0h1.2v1.2h-1.2zM538.8 268.0h1.2v1.2h-1.2zM540.4 268.0h1.2v1.2h-1.2zM518.0 270.0h1.2v1.2h-1.2zM521.2 270.0h1.2v1.2h-1.2zM522.8 270.0h1.2v1.2h-1.2zM526.0 270.0h1.2v1.2h-1.2zM527.6 270.0h1.2v1.2h-1.2zM529.2 270.0h1.2v1.2h-1.2zM530.8 270.0h1.2v1.2h-1.2zM532.4 270.0h1.2v1.2h-1.2zM534.0 270.0h1.2v1.2h-1.2zM537.2 270.0h1.2v1.2h-1.2zM518.0 272.0h1.2v1.2h-1.2zM519.6 272.0h1.2v1.2h-1.2zM521.2 272.0h1.2v1.2h-1.2zM526.0 272.0h1.2v1.2h-1.2zM529.2 272.0h1.2v1.2h-1.2zM530.8 272.0h1.2v1.2h-1.2zM535.6 272.0h1.2v1.2h-1.2zM540.4 272.0h1.2v1.2h-1.2zM521.2 274.0h1.2v1.2h-1.2zM527.6 274.0h1.2v1.2h-1.2zM529.2 274.0h1.2v1.2h-1.2zM530.8 274.0h1.2v1.2h-1.2zM538.8 274.0h1.2v1.2h-1.2zM540.4 274.0h1.2v1.2h-1.2zM521.2 276.0h1.2v1.2h-1.2zM522.8 276.0h1.2v1.2h-1.2zM524.4 276.0h1.2v1.2h-1.2zM526.0 276.0h1.2v1.2h-1.2zM527.6 276.0h1.2v1.2h-1.2zM530.8 276.0h1.2v1.2h-1.2zM532.4 276.0h1.2v1.2h-1.2zM538.8 276.0h1.2v1.2h-1.2zM540.4 276.0h1.2v1.2h-1.2zM524.4 278.0h1.2v1.2h-1.2zM526.0 278.0h1.2v1.2h-1.2zM527.6 278.0h1.2v1.2h-1.2zM529.2 278.0h1.2v1.2h-1.2zM532.4 278.0h1.2v1.2h-1.2zM537.2 278.0h1.2v1.2h-1.2zM540.4 278.0h1.2v1.2h-1.2zM518.0 280.0h1.2v1.2h-1.2zM519.6 280.0h1.2v1.2h-1.2zM521.2 280.0h1.2v1.2h-1.2zM522.8 280.0h1.2v1.2h-1.2zM526.0 280.0h1.2v1.2h-1.2zM530.8 280.0h1.2v1.2h-1.2zM535.6 280.0h1.2v1.2h-1.2zM538.8 280.0h1.2v1.2h-1.2zM540.4 280.0h1.2v1.2h-1.2zM521.2 282.0h1.2v1.2h-1.2zM522.8 282.0h1.2v1.2h-1.2zM524.4 282.0h1.2v1.2h-1.2zM529.2 282.0h1.2v1.2h-1.2zM537.2 282.0h1.2v1.2h-1.2z" fill="#f7b4b4"/>
<path d="M527.5 262.5h9.0v7.0h-9.0z" fill="#f27c7c"/>
<path d="M550.0 261.0h1.1v1.1h-1.1zM553.0 261.0h1.1v1.1h-1.1zM554.5 261.0h1.1v1.1h-1.1zM556.0 261.0h1.1v1.1h-1.1zM557.5 261.0h1.1v1.1h-1.1zM560.5 261.0h1.1v1.1h-1.1zM565.0 261.0h1.1v1.1h-1.1zM571.0 261.0h1.1v1.1h-1.1zM551.5 264.0h1.1v1.1h-1.1zM556.0 264.0h1.1v1.1h-1.1zM557.5 264.0h1.1v1.1h-1.1zM562.0 264.0h1.1v1.1h-1.1zM563.5 264.0h1.1v1.1h-1.1zM565.0 264.0h1.1v1.1h-1.1zM568.0 264.0h1.1v1.1h-1.1zM569.5 264.0h1.1v1.1h-1.1zM572.5 264.0h1.1v1.1h-1.1zM544.0 267.0h1.1v1.1h-1.1zM547.0 267.0h1.1v1.1h-1.1zM556.0 267.0h1.1v1.1h-1.1zM557.5 267.0h1.1v1.1h-1.1zM559.0 267.0h1.1v1.1h-1.1zM560.5 267.0h1.1v1.1h-1.1zM568.0 267.0h1.1v1.1h-1.1zM571.0 267.0h1.1v1.1h-1.1zM544.0 270.0h1.1v1.1h-1.1zM548.5 270.0h1.1v1.1h-1.1zM551.5 270.0h1.1v1.1h-1.1zM553.0 270.0h1.1v1.1h-1.1zM556.0 270.0h1.1v1.1h-1.1zM566.5 270.0h1.1v1.1h-1.1zM568.0 270.0h1.1v1.1h-1.1zM569.5 270.0h1.1v1.1h-1.1zM571.0 270.0h1.1v1.1h-1.1zM574.0 270.0h1.1v1.1h-1.1zM545.5 273.0h1.1v1.1h-1.1zM557.5 273.0h1.1v1.1h-1.1zM562.0 273.0h1.1v1.1h-1.1zM565.0 273.0h1.1v1.1h-1.1zM566.5 273.0h1.1v1.1h-1.1zM571.0 273.0h1.1v1.1h-1.1zM574.0 273.0h1.1v1.1h-1.1zM575.5 273.0h1.1v1.1h-1.1zM547.0 276.0h1.1v1.1h-1.1zM548.5 276.0h1.1v1.1h-1.1zM550.0 276.0h1.1v1.1h-1.1zM554.5 276.0h1.1v1.1h-1.1zM556.0 276.0h1.1v1.1h-1.1zM562.0 276.0h1.1v1.1h-1.1zM571.0 276.0h1.1v1.1h-1.1zM574.0 276.0h1.1v1.1h-1.1zM575.5 276.0h1.1v1.1h-1.1zM544.0 279.0h1.1v1.1h-1.1zM547.0 279.0h1.1v1.1h-1.1zM550.0 279.0h1.1v1.1h-1.1zM551.5 279.0h1.1v1.1h-1.1zM556.0 279.0h1.1v1.1h-1.1zM557.5 279.0h1.1v1.1h-1.1zM560.5 279.0h1.1v1.1h-1.1zM563.5 279.0h1.1v1.1h-1.1zM565.0 279.0h1.1v1.1h-1.1zM574.0 279.0h1.1v1.1h-1.1zM575.5 279.0h1.1v1.1h-1.1z" fill="#c4c4f4"/>
<path d="M544.0 226.0h1.0v1.0h-1.0zM560.8 226.0h1.0v1.0h-1.0zM563.6 226.0h1.0v1.0h-1.0zM566.4 226.0h1.0v1.0h-1.0zM573.4 226.0h1.0v1.0h-1.0zM574.8 226.0h1.0v1.0h-1.0zM546.8 229.0h1.0v1.0h-1.0zM548.2 229.0h1.0v1.0h-1.0zM551.0 229.0h1.0v1.0h-1.0zM553.8 229.0h1.0v1.0h-1.0zM555.2 229.0h1.0v1.0h-1.0zM562.2 229.0h1.0v1.0h-1.0zM563.6 229.0h1.0v1.0h-1.0zM548.2 232.0h1.0v1.0h-1.0zM559.4 232.0h1.0v1.0h-1.0zM562.2 232.0h1.0v1.0h-1.0zM567.8 232.0h1.0v1.0h-1.0zM569.2 232.0h1.0v1.0h-1.0zM574.8 232.0h1.0v1.0h-1.0zM546.8 235.0h1.0v1.0h-1.0zM553.8 235.0h1.0v1.0h-1.0zM559.4 235.0h1.0v1.0h-1.0zM562.2 235.0h1.0v1.0h-1.0zM563.6 235.0h1.0v1.0h-1.0zM570.6 235.0h1.0v1.0h-1.0zM560.8 238.0h1.0v1.0h-1.0zM562.2 238.0h1.0v1.0h-1.0zM565.0 238.0h1.0v1.0h-1.0zM567.8 238.0h1.0v1.0h-1.0zM570.6 238.0h1.0v1.0h-1.0zM546.8 241.0h1.0v1.0h-1.0zM549.6 241.0h1.0v1.0h-1.0zM551.0 241.0h1.0v1.0h-1.0zM555.2 241.0h1.0v1.0h-1.0zM573.4 241.0h1.0v1.0h-1.0zM544.0 244.0h1.0v1.0h-1.0zM548.2 244.0h1.0v1.0h-1.0zM552.4 244.0h1.0v1.0h-1.0zM553.8 244.0h1.0v1.0h-1.0zM555.2 244.0h1.0v1.0h-1.0zM559.4 244.0h1.0v1.0h-1.0zM566.4 244.0h1.0v1.0h-1.0zM567.8 244.0h1.0v1.0h-1.0zM544.0 247.0h1.0v1.0h-1.0zM545.4 247.0h1.0v1.0h-1.0zM551.0 247.0h1.0v1.0h-1.0zM562.2 247.0h1.0v1.0h-1.0zM574.8 247.0h1.0v1.0h-1.0zM545.4 250.0h1.0v1.0h-1.0zM546.8 250.0h1.0v1.0h-1.0zM549.6 250.0h1.0v1.0h-1.0zM560.8 250.0h1.0v1.0h-1.0zM567.8 250.0h1.0v1.0h-1.0zM544.0 253.0h1.0v1.0h-1.0zM548.2 253.0h1.0v1.0h-1.0zM549.6 253.0h1.0v1.0h-1.0zM560.8 253.0h1.0v1.0h-1.0zM567.8 253.0h1.0v1.0h-1.0zM602.0 227.4h1.0v1.0h-1.0zM602.0 228.8h1.0v1.0h-1.0zM602.0 233.0h1.0v1.0h-1.0zM602.0 241.4h1.0v1.0h-1.0zM602.0 245.6h1.0v1.0h-1.0zM602.0 249.8h1.0v1.0h-1.0zM602.0 259.6h1.0v1.0h-1.0zM602.0 273.6h1.0v1.0h-1.0zM602.0 277.8h1.0v1.0h-1.0zM602.0 282.0h1.0v1.0h-1.0zM602.0 283.4h1.0v1.0h-1.0zM610.0 226.0h1.0v1.0h-1.0zM610.0 227.4h1.0v1.0h-1.0zM610.0 230.2h1.0v1.0h-1.0zM610.0 233.0h1.0v1.0h-1.0zM610.0 234.4h1.0v1.0h-1.0zM610.0 240.0h1.0v1.0h-1.0zM610.0 244.2h1.0v1.0h-1.0zM610.0 249.8h1.0v1.0h-1.0zM610.0 252.6h1.0v1.0h-1.0zM610.0 254.0h1.0v1.0h-1.0zM610.0 259.6h1.0v1.0h-1.0zM610.0 273.6h1.0v1.0h-1.0zM610.0 277.8h1.0v1.0h-1.0zM610.0 279.2h1.0v1.0h-1.0zM610.0 282.0h1.0v1.0h-1.0zM618.0 227.4h1.0v1.0h-1.0zM618.0 228.8h1.0v1.0h-1.0zM618.0 233.0h1.0v1.0h-1.0zM618.0 235.8h1.0v1.0h-1.0zM618.0 237.2h1.0v1.0h-1.0zM618.0 238.6h1.0v1.0h-1.0zM618.0 240.0h1.0v1.0h-1.0zM618.0 244.2h1.0v1.0h-1.0zM618.0 245.6h1.0v1.0h-1.0zM618.0 247.0h1.0v1.0h-1.0zM618.0 251.2h1.0v1.0h-1.0zM618.0 254.0h1.0v1.0h-1.0zM618.0 256.8h1.0v1.0h-1.0zM618.0 259.6h1.0v1.0h-1.0zM618.0 261.0h1.0v1.0h-1.0zM618.0 263.8h1.0v1.0h-1.0zM618.0 270.8h1.0v1.0h-1.0zM618.0 279.2h1.0v1.0h-1.0zM622.0 226.0h1.0v1.0h-1.0zM622.0 231.6h1.0v1.0h-1.0zM622.0 235.8h1.0v1.0h-1.0zM622.0 237.2h1.0v1.0h-1.0zM622.0 238.6h1.0v1.0h-1.0zM622.0 241.4h1.0v1.0h-1.0zM622.0 248.4h1.0v1.0h-1.0zM622.0 252.6h1.0v1.0h-1.0zM622.0 254.0h1.0v1.0h-1.0zM622.0 261.0h1.0v1.0h-1.0zM622.0 263.8h1.0v1.0h-1.0zM622.0 265.2h1.0v1.0h-1.0zM622.0 266.6h1.0v1.0h-1.0zM622.0 273.6h1.0v1.0h-1.0zM622.0 275.0h1.0v1.0h-1.0zM626.0 226.0h1.0v1.0h-1.0zM626.0 228.8h1.0v1.0h-1.0zM626.0 235.8h1.0v1.0h-1.0zM626.0 244.2h1.0v1.0h-1.0zM626.0 247.0h1.0v1.0h-1.0zM626.0 251.2h1.0v1.0h-1.0zM626.0 259.6h1.0v1.0h-1.0zM626.0 266.6h1.0v1.0h-1.0zM626.0 268.0h1.0v1.0h-1.0zM626.0 277.8h1.0v1.0h-1.0zM626.0 282.0h1.0v1.0h-1.0zM626.0 283.4h1.0v1.0h-1.0zM630.0 226.0h1.0v1.0h-1.0zM630.0 237.2h1.0v1.0h-1.0zM630.0 238.6h1.0v1.0h-1.0zM630.0 244.2h1.0v1.0h-1.0zM630.0 248.4h1.0v1.0h-1.0zM630.0 249.8h1.0v1.0h-1.0zM630.0 256.8h1.0v1.0h-1.0zM630.0 258.2h1.0v1.0h-1.0zM630.0 263.8h1.0v1.0h-1.0zM630.0 266.6h1.0v1.0h-1.0zM630.0 276.4h1.0v1.0h-1.0zM630.0 279.2h1.0v1.0h-1.0zM634.0 233.0h1.0v1.0h-1.0zM634.0 241.4h1.0v1.0h-1.0zM634.0 249.8h1.0v1.0h-1.0zM634.0 255.4h1.0v1.0h-1.0zM634.0 259.6h1.0v1.0h-1.0zM634.0 277.8h1.0v1.0h-1.0zM634.0 280.6h1.0v1.0h-1.0zM634.0 282.0h1.0v1.0h-1.0z" fill="#f9caca"/>
<path d="M578.3 258.8h16.5v15.7h-16.5z" fill="#e0e0fa"/>
<path d="M579.0 259.0h1.1v1.1h-1.1zM580.5 259.0h1.1v1.1h-1.1zM585.0 259.0h1.1v1.1h-1.1zM586.5 259.0h1.1v1.1h-1.1zM588.0 259.0h1.1v1.1h-1.1zM591.0 259.0h1.1v1.1h-1.1zM594.0 259.0h1.1v1.1h-1.1zM579.0 261.0h1.1v1.1h-1.1zM580.5 261.0h1.1v1.1h-1.1zM582.0 261.0h1.1v1.1h-1.1zM583.5 261.0h1.1v1.1h-1.1zM585.0 261.0h1.1v1.1h-1.1zM591.0 261.0h1.1v1.1h-1.1zM592.5 261.0h1.1v1.1h-1.1zM594.0 261.0h1.1v1.1h-1.1zM579.0 267.0h1.1v1.1h-1.1zM583.5 267.0h1.1v1.1h-1.1zM585.0 267.0h1.1v1.1h-1.1zM589.5 267.0h1.1v1.1h-1.1zM592.5 267.0h1.1v1.1h-1.1zM579.0 269.0h1.1v1.1h-1.1zM580.5 269.0h1.1v1.1h-1.1zM582.0 269.0h1.1v1.1h-1.1zM583.5 269.0h1.1v1.1h-1.1zM586.5 269.0h1.1v1.1h-1.1zM591.0 269.0h1.1v1.1h-1.1zM592.5 269.0h1.1v1.1h-1.1zM594.0 269.0h1.1v1.1h-1.1zM579.0 271.0h1.1v1.1h-1.1zM580.5 271.0h1.1v1.1h-1.1zM582.0 271.0h1.1v1.1h-1.1zM588.0 271.0h1.1v1.1h-1.1zM589.5 271.0h1.1v1.1h-1.1zM591.0 271.0h1.1v1.1h-1.1zM592.5 271.0h1.1v1.1h-1.1zM594.0 271.0h1.1v1.1h-1.1zM580.5 273.0h1.1v1.1h-1.1zM583.5 273.0h1.1v1.1h-1.1zM586.5 273.0h1.1v1.1h-1.1zM589.5 273.0h1.1v1.1h-1.1zM591.0 273.0h1.1v1.1h-1.1zM592.5 273.0h1.1v1.1h-1.1zM594.0 273.0h1.1v1.1h-1.1zM599.8 204.6h1.0v1.0h-1.0zM537.9 244.5h0.8v0.8h-0.8zM630.0 233.7h0.8v1.2h-0.8zM610.2 236.5h1.6v0.8h-1.6zM521.2 252.4h0.8v0.8h-0.8zM531.3 235.0h0.8v1.2h-0.8zM621.0 254.0h1.2v1.0h-1.2zM542.6 176.9h1.0v1.0h-1.0zM517.3 182.0h0.8v0.8h-0.8zM596.6 275.6h1.2v1.2h-1.2zM563.9 222.1h1.6v1.0h-1.6zM621.1 256.4h0.8v1.0h-0.8zM539.6 263.4h1.2v0.8h-1.2zM523.5 180.3h1.2v1.2h-1.2zM581.9 243.2h1.6v1.0h-1.6zM576.2 211.6h0.8v1.0h-0.8zM519.7 174.8h0.8v0.8h-0.8zM559.5 239.9h0.8v1.0h-0.8zM565.6 163.4h1.0v1.0h-1.0zM556.7 205.1h1.2v0.8h-1.2zM575.3 264.2h1.0v0.8h-1.0zM597.8 236.3h1.0v0.8h-1.0zM585.2 249.6h0.8v1.2h-0.8zM632.2 223.2h1.6v1.0h-1.6zM527.8 229.5h0.8v1.2h-0.8zM525.7 163.7h0.8v1.0h-0.8zM589.9 272.5h0.8v1.0h-0.8zM579.6 264.2h1.2v1.2h-1.2zM614.8 209.1h1.2v1.2h-1.2zM572.6 246.2h1.0v1.2h-1.0zM609.1 202.4h1.6v1.0h-1.6zM634.7 218.0h1.2v1.0h-1.2zM590.1 201.8h1.6v1.2h-1.6zM634.1 183.5h0.8v1.2h-0.8zM525.6 199.8h1.2v1.2h-1.2zM577.8 200.0h1.6v0.8h-1.6zM526.3 208.3h1.2v1.2h-1.2zM593.0 241.4h1.6v1.2h-1.6zM611.8 178.4h1.6v1.2h-1.6zM569.6 187.6h1.6v1.2h-1.6zM603.6 245.6h0.8v1.2h-0.8zM581.5 246.4h1.6v1.2h-1.6z" fill="#c8c8f6"/>
<path d="M579.0 263.0h1.1v1.1h-1.1zM580.5 263.0h1.1v1.1h-1.1zM582.0 263.0h1.1v1.1h-1.1zM583.5 263.0h1.1v1.1h-1.1zM591.0 263.0h1.1v1.1h-1.1zM592.5 263.0h1.1v1.1h-1.1zM594.0 263.0h1.1v1.1h-1.1zM579.0 265.0h1.1v1.1h-1.1zM586.5 265.0h1.1v1.1h-1.1zM588.0 265.0h1.1v1.1h-1.1zM589.5 265.0h1.1v1.1h-1.1zM591.0 265.0h1.1v1.1h-1.1z" fill="#9c9cf0"/>
<path d="M580.0 277.0h1.2v1.2h-1.2zM581.6 277.0h1.2v1.2h-1.2zM583.2 277.0h1.2v1.2h-1.2zM584.8 277.0h1.2v1.2h-1.2zM580.0 279.0h1.2v1.2h-1.2zM581.6 279.0h1.2v1.2h-1.2zM583.2 279.0h1.2v1.2h-1.2zM584.8 279.0h1.2v1.2h-1.2zM586.4 279.0h1.2v1.2h-1.2zM580.0 281.0h1.2v1.2h-1.2zM581.6 281.0h1.2v1.2h-1.2zM583.2 281.0h1.2v1.2h-1.2zM584.8 281.0h1.2v1.2h-1.2zM586.4 281.0h1.2v1.2h-1.2z" fill="#f4a4a4"/>
<path d="M606.5 259.0h1.2v1.2h-1.2zM606.5 260.6h1.2v1.2h-1.2zM606.5 262.2h1.2v1.2h-1.2zM606.5 263.8h1.2v1.2h-1.2zM606.5 265.4h1.2v1.2h-1.2zM606.5 267.0h1.2v1.2h-1.2zM606.5 268.6h1.2v1.2h-1.2z" fill="#f29292"/>
<path d="M598.0 226.0h1.0v1.0h-1.0zM598.0 230.2h1.0v1.0h-1.0zM598.0 234.4h1.0v1.0h-1.0zM598.0 241.4h1.0v1.0h-1.0zM598.0 244.2h1.0v1.0h-1.0zM598.0 247.0h1.0v1.0h-1.0zM598.0 248.4h1.0v1.0h-1.0zM598.0 249.8h1.0v1.0h-1.0zM598.0 252.6h1.0v1.0h-1.0zM598.0 255.4h1.0v1.0h-1.0zM598.0 258.2h1.0v1.0h-1.0zM598.0 265.2h1.0v1.0h-1.0zM598.0 270.8h1.0v1.0h-1.0zM598.0 276.4h1.0v1.0h-1.0zM606.0 227.4h1.0v1.0h-1.0zM606.0 237.2h1.0v1.0h-1.0zM606.0 240.0h1.0v1.0h-1.0zM606.0 242.8h1.0v1.0h-1.0zM606.0 247.0h1.0v1.0h-1.0zM606.0 251.2h1.0v1.0h-1.0zM606.0 255.4h1.0v1.0h-1.0zM606.0 258.2h1.0v1.0h-1.0zM606.0 259.6h1.0v1.0h-1.0zM606.0 276.4h1.0v1.0h-1.0zM614.0 228.8h1.0v1.0h-1.0zM614.0 231.6h1.0v1.0h-1.0zM614.0 233.0h1.0v1.0h-1.0zM614.0 241.4h1.0v1.0h-1.0zM614.0 245.6h1.0v1.0h-1.0zM614.0 261.0h1.0v1.0h-1.0zM614.0 262.4h1.0v1.0h-1.0zM614.0 276.4h1.0v1.0h-1.0zM614.0 279.2h1.0v1.0h-1.0zM614.0 282.0h1.0v1.0h-1.0z" fill="#d0d0f6"/>
<path d="M580.0 169.6h1.0v1.0h-1.0zM580.0 179.4h1.0v1.0h-1.0zM580.0 186.4h1.0v1.0h-1.0zM580.0 189.2h1.0v1.0h-1.0zM580.0 190.6h1.0v1.0h-1.0zM580.0 193.4h1.0v1.0h-1.0zM583.0 168.2h1.0v1.0h-1.0zM583.0 172.4h1.0v1.0h-1.0zM583.0 178.0h1.0v1.0h-1.0zM583.0 189.2h1.0v1.0h-1.0zM583.0 194.8h1.0v1.0h-1.0zM586.0 179.4h1.0v1.0h-1.0zM586.0 185.0h1.0v1.0h-1.0zM586.0 186.4h1.0v1.0h-1.0zM586.0 192.0h1.0v1.0h-1.0zM589.0 169.6h1.0v1.0h-1.0zM589.0 171.0h1.0v1.0h-1.0zM589.0 172.4h1.0v1.0h-1.0zM589.0 175.2h1.0v1.0h-1.0zM589.0 185.0h1.0v1.0h-1.0zM589.0 190.6h1.0v1.0h-1.0zM589.0 193.4h1.0v1.0h-1.0zM592.0 164.0h1.0v1.0h-1.0zM592.0 165.4h1.0v1.0h-1.0zM592.0 169.6h1.0v1.0h-1.0zM592.0 172.4h1.0v1.0h-1.0zM592.0 176.6h1.0v1.0h-1.0zM592.0 182.2h1.0v1.0h-1.0zM592.0 189.2h1.0v1.0h-1.0zM592.0 193.4h1.0v1.0h-1.0zM595.0 166.8h1.0v1.0h-1.0zM595.0 168.2h1.0v1.0h-1.0zM595.0 169.6h1.0v1.0h-1.0zM595.0 171.0h1.0v1.0h-1.0zM595.0 180.8h1.0v1.0h-1.0zM598.0 164.0h1.0v1.0h-1.0zM598.0 165.4h1.0v1.0h-1.0zM598.0 169.6h1.0v1.0h-1.0zM598.0 171.0h1.0v1.0h-1.0zM598.0 178.0h1.0v1.0h-1.0zM601.0 173.8h1.0v1.0h-1.0zM601.0 175.2h1.0v1.0h-1.0zM601.0 179.4h1.0v1.0h-1.0zM601.0 182.2h1.0v1.0h-1.0zM601.0 183.6h1.0v1.0h-1.0zM601.0 185.0h1.0v1.0h-1.0zM601.0 190.6h1.0v1.0h-1.0zM601.0 192.0h1.0v1.0h-1.0z" fill="#d0d0f7"/>
<path d="M579.0 190.0h1.0v1.0h-1.0zM580.4 190.0h1.0v1.0h-1.0zM584.6 190.0h1.0v1.0h-1.0zM586.0 190.0h1.0v1.0h-1.0zM588.8 190.0h1.0v1.0h-1.0zM590.2 190.0h1.0v1.0h-1.0zM593.0 190.0h1.0v1.0h-1.0zM594.4 190.0h1.0v1.0h-1.0zM595.8 190.0h1.0v1.0h-1.0zM600.0 190.0h1.0v1.0h-1.0z" fill="#a8a8f0"/>
<path d="M602.4 205.7h0.8v0.8h-0.8zM586.8 202.3h0.8v1.0h-0.8zM594.5 189.2h1.3v1.3h-1.3zM604.6 188.3h1.3v1.3h-1.3zM630.7 182.3h1.3v1.3h-1.3zM590.9 219.6h1.0v1.0h-1.0zM625.3 162.4h1.3v0.8h-1.3zM622.0 186.5h0.8v1.3h-0.8zM597.3 185.0h0.8v1.3h-0.8zM590.0 169.2h1.0v0.8h-1.0zM619.2 189.3h1.3v0.8h-1.3zM631.7 183.4h1.0v0.8h-1.0zM599.5 218.1h1.0v1.0h-1.0zM627.5 165.5h1.0v1.0h-1.0zM588.2 201.3h1.0v1.3h-1.0zM586.2 203.0h1.0v1.0h-1.0zM599.5 193.3h1.0v0.8h-1.0zM633.9 194.9h1.3v1.3h-1.3zM625.3 206.2h1.3v1.3h-1.3zM610.8 212.9h0.8v1.3h-0.8zM601.9 183.0h1.0v1.3h-1.0zM579.7 209.4h1.0v1.3h-1.0zM613.7 204.7h1.0v1.0h-1.0zM585.3 180.3h0.8v1.3h-0.8zM619.1 171.2h0.8v1.3h-0.8zM587.8 195.6h1.3v1.3h-1.3zM582.5 201.6h1.0v0.8h-1.0zM636.1 180.3h1.0v1.0h-1.0zM597.0 219.2h1.0v1.0h-1.0zM606.7 204.8h1.3v1.3h-1.3zM625.1 191.7h1.3v0.8h-1.3zM602.6 176.0h0.8v1.3h-0.8zM610.3 204.2h1.3v1.0h-1.3zM594.9 181.3h1.3v1.3h-1.3zM616.0 164.9h1.0v1.3h-1.0zM624.1 203.1h0.8v1.3h-0.8zM614.2 174.1h1.3v0.8h-1.3zM588.6 203.2h0.8v0.8h-0.8zM593.5 199.6h1.3v0.8h-1.3zM602.6 205.4h1.0v1.0h-1.0zM577.7 189.3h0.8v1.0h-0.8zM588.1 220.4h0.8v1.0h-0.8zM596.9 212.4h0.8v1.0h-0.8zM616.8 197.5h0.8v1.3h-0.8zM622.3 170.5h1.3v0.8h-1.3zM615.1 197.0h1.0v1.0h-1.0zM620.0 190.3h0.8v1.0h-0.8zM581.7 209.7h0.8v1.3h-0.8zM597.0 222.4h0.8v0.8h-0.8zM603.9 167.8h1.3v1.3h-1.3zM619.7 200.8h1.3v0.8h-1.3zM622.9 208.4h1.3v1.0h-1.3zM591.9 198.8h0.8v1.0h-0.8zM615.6 193.4h1.0v1.0h-1.0zM628.7 184.8h1.0v0.8h-1.0zM631.9 175.6h0.8v1.0h-0.8zM586.6 205.2h1.0v1.0h-1.0zM634.7 177.6h1.3v0.8h-1.3zM623.2 169.8h1.0v1.0h-1.0zM578.3 208.5h0.8v1.0h-0.8zM602.2 211.7h1.3v1.3h-1.3zM610.5 208.8h0.8v1.0h-0.8zM593.3 194.9h1.3v1.3h-1.3zM635.2 172.4h1.3v1.3h-1.3zM597.0 218.8h1.0v0.8h-1.0zM625.0 192.6h1.0v1.0h-1.0zM623.5 197.3h1.0v0.8h-1.0zM633.8 175.2h0.8v0.8h-0.8zM633.3 175.3h0.8v0.8h-0.8zM628.6 189.9h1.0v1.3h-1.0zM600.8 187.3h1.3v1.3h-1.3zM598.6 187.6h1.3v1.0h-1.3zM626.6 181.5h0.8v0.8h-0.8zM591.5 200.3h1.3v1.0h-1.3zM596.8 216.0h1.3v1.0h-1.3zM621.9 169.5h1.3v0.8h-1.3zM636.8 176.7h0.8v1.3h-0.8zM591.1 193.9h1.0v0.8h-1.0zM614.0 211.5h1.0v1.0h-1.0zM607.5 206.5h0.8v1.3h-0.8zM609.5 215.8h1.0v1.0h-1.0zM591.3 180.0h0.8v0.8h-0.8zM611.1 197.2h0.8v0.8h-0.8zM622.7 190.3h1.0v1.3h-1.0zM611.9 169.7h1.3v1.0h-1.3zM609.0 183.8h1.0v0.8h-1.0zM609.4 199.5h0.8v1.0h-0.8zM556.9 262.1h0.8v1.3h-0.8zM537.4 282.9h0.8v1.3h-0.8zM530.5 281.8h1.0v1.0h-1.0zM543.4 277.9h1.0v0.8h-1.0zM540.6 245.4h0.8v1.3h-0.8zM562.0 226.9h0.8v1.3h-0.8zM535.4 276.5h0.8v1.0h-0.8zM550.3 268.5h1.0v1.3h-1.0zM576.0 234.8h0.8v0.8h-0.8zM538.6 251.1h0.8v1.0h-0.8zM576.2 242.1h1.0v1.0h-1.0zM533.3 252.4h1.0v1.0h-1.0zM525.4 283.4h1.0v1.0h-1.0zM535.1 277.8h1.3v1.0h-1.3zM541.4 244.3h1.3v1.0h-1.3zM541.0 268.6h1.0v0.8h-1.0zM572.9 241.6h1.3v1.3h-1.3zM527.6 256.2h0.8v1.3h-0.8zM555.2 259.1h1.3v0.8h-1.3zM575.2 233.4h0.8v0.8h-0.8zM549.1 236.9h1.0v1.3h-1.0zM573.4 240.6h1.0v0.8h-1.0zM573.7 246.3h1.3v0.8h-1.3zM559.9 248.2h1.3v0.8h-1.3zM563.9 264.4h1.3v0.8h-1.3zM562.8 249.5h0.8v1.0h-0.8zM542.9 243.5h1.3v1.0h-1.3zM540.3 239.0h0.8v1.0h-0.8zM562.3 246.5h0.8v1.3h-0.8zM525.7 284.3h1.0v1.0h-1.0zM539.0 246.8h1.0v0.8h-1.0zM573.4 241.9h0.8v0.8h-0.8zM559.3 230.1h0.8v0.8h-0.8zM534.5 255.8h1.3v0.8h-1.3zM534.9 249.1h1.0v1.0h-1.0zM532.5 257.2h1.3v1.3h-1.3zM535.2 248.5h0.8v0.8h-0.8zM544.1 249.0h1.0v0.8h-1.0zM549.9 229.6h1.0v1.3h-1.0zM554.4 230.4h1.0v0.8h-1.0zM551.6 261.6h1.0v1.3h-1.0zM575.8 232.0h1.0v1.3h-1.0zM572.3 237.1h0.8v0.8h-0.8zM540.3 249.7h0.8v1.3h-0.8zM532.8 257.4h1.0v1.0h-1.0zM527.6 250.7h1.3v0.8h-1.3zM569.9 246.9h1.0v1.0h-1.0zM566.4 243.1h1.3v0.8h-1.3zM540.5 276.8h0.8v1.3h-0.8zM572.6 253.7h1.3v1.0h-1.3zM552.5 256.6h1.0v1.3h-1.0zM528.0 263.4h0.8v1.3h-0.8zM521.5 271.4h1.3v0.8h-1.3zM539.8 284.0h1.0v0.8h-1.0zM543.4 244.0h0.8v0.8h-0.8zM545.9 240.0h0.8v0.8h-0.8zM576.5 233.5h1.0v0.8h-1.0zM524.6 266.0h1.0v1.0h-1.0zM546.3 269.2h1.0v1.3h-1.0zM552.2 256.8h0.8v1.0h-0.8zM524.9 283.4h1.3v1.0h-1.3zM531.3 223.6h0.8v0.8h-0.8zM564.1 224.1h1.3v0.8h-1.3zM569.1 239.9h1.0v1.0h-1.0zM537.4 255.1h1.3v1.3h-1.3zM522.1 242.4h1.0v0.8h-1.0zM537.5 255.8h0.8v0.8h-0.8zM552.9 256.1h0.8v0.8h-0.8zM547.4 276.8h0.8v1.0h-0.8zM554.6 257.0h0.8v1.0h-0.8zM563.3 245.0h1.0v1.0h-1.0zM529.8 263.3h0.8v1.0h-0.8zM518.1 252.9h0.8v1.3h-0.8zM562.7 228.3h1.0v1.3h-1.0zM532.7 280.9h1.3v1.3h-1.3zM549.2 235.4h0.8v1.0h-0.8zM531.1 282.1h1.3v1.3h-1.3zM528.9 261.6h0.8v0.8h-0.8zM548.2 260.3h1.0v1.0h-1.0zM554.9 234.6h0.8v0.8h-0.8zM546.5 281.7h0.8v0.8h-0.8zM545.2 242.5h0.8v0.8h-0.8zM546.3 267.6h0.8v1.0h-0.8zM525.3 255.1h0.8v1.0h-0.8zM519.8 264.3h1.0v0.8h-1.0zM553.0 254.9h1.3v1.3h-1.3zM547.3 274.8h0.8v0.8h-0.8zM550.7 238.7h1.0v1.3h-1.0zM555.7 233.0h1.0v1.0h-1.0zM539.9 253.2h0.8v0.8h-0.8zM519.2 271.2h1.0v0.8h-1.0zM549.8 262.0h1.3v0.8h-1.3zM546.5 245.2h1.0v1.0h-1.0zM520.7 263.6h1.0v0.8h-1.0zM537.5 255.7h0.8v1.0h-0.8zM555.4 233.0h0.8v0.8h-0.8zM553.8 261.8h1.3v1.0h-1.3z" fill="#fbd4d4"/>
<path d="M631.2 166.0h1.0v0.8h-1.0zM594.2 200.5h1.0v1.3h-1.0zM600.5 199.2h1.3v0.8h-1.3zM634.8 167.3h1.0v1.3h-1.0zM629.1 167.3h1.0v0.8h-1.0zM626.9 173.7h0.8v1.0h-0.8zM602.4 197.7h1.3v1.3h-1.3zM625.4 175.9h1.0v1.3h-1.0zM583.6 222.3h1.0v1.0h-1.0zM597.0 208.8h0.8v0.8h-0.8zM596.2 199.6h1.0v1.3h-1.0zM606.5 195.2h1.0v1.3h-1.0zM600.3 200.2h0.8v1.3h-0.8zM630.3 176.9h0.8v1.0h-0.8zM592.9 212.1h1.0v1.3h-1.0zM582.1 215.3h1.0v0.8h-1.0zM592.5 203.3h1.3v0.8h-1.3zM627.0 175.5h1.3v0.8h-1.3zM613.8 190.7h1.0v1.3h-1.0zM600.1 195.4h0.8v1.3h-0.8zM632.8 165.6h1.3v1.0h-1.3zM604.4 189.5h1.0v1.3h-1.0zM603.2 192.5h0.8v1.3h-0.8zM603.3 190.8h1.3v1.0h-1.3zM579.9 218.7h1.3v1.3h-1.3zM609.7 188.4h1.3v1.0h-1.3zM629.8 170.7h1.3v1.0h-1.3zM618.8 183.5h0.8v1.3h-0.8zM628.6 173.3h1.3v1.0h-1.3zM598.9 197.2h0.8v1.0h-0.8zM600.1 201.8h1.3v1.0h-1.3zM634.5 171.4h0.8v1.3h-0.8zM577.6 219.0h1.3v1.0h-1.3zM585.7 213.5h1.0v1.3h-1.0zM611.2 189.4h1.0v1.3h-1.0zM599.6 199.6h0.8v1.3h-0.8zM598.2 198.2h1.3v1.0h-1.3zM637.1 163.4h1.0v1.0h-1.0zM624.4 180.2h1.0v1.3h-1.0zM594.3 206.8h0.8v1.3h-0.8zM610.3 193.1h1.3v1.3h-1.3zM599.6 198.6h1.3v0.8h-1.3zM637.1 165.6h1.0v0.8h-1.0zM621.4 181.6h0.8v0.8h-0.8zM606.5 190.3h0.8v0.8h-0.8zM602.1 199.2h1.3v1.3h-1.3zM603.6 200.4h0.8v0.8h-0.8zM636.9 166.9h0.8v1.3h-0.8zM608.3 196.3h0.8v1.0h-0.8zM603.8 201.1h1.3v1.0h-1.3zM631.7 163.4h0.8v1.3h-0.8zM591.6 205.4h0.8v1.0h-0.8zM610.5 185.9h0.8v0.8h-0.8zM620.4 185.2h1.0v1.3h-1.0zM611.1 192.7h1.0v1.0h-1.0zM607.7 185.7h1.0v1.3h-1.0zM612.7 194.4h1.0v1.0h-1.0zM589.0 209.2h0.8v1.3h-0.8zM613.7 186.6h0.8v1.3h-0.8zM615.1 186.3h1.0v1.3h-1.0zM620.0 173.7h0.8v1.0h-0.8zM592.6 207.7h1.3v0.8h-1.3zM580.6 215.5h1.0v1.3h-1.0zM597.4 201.0h1.3v1.3h-1.3zM590.8 208.7h1.3v1.0h-1.3zM591.6 213.8h1.0v1.3h-1.0zM606.3 193.7h1.3v1.3h-1.3zM618.0 178.2h1.0v1.3h-1.0zM593.1 204.6h0.8v1.3h-0.8zM585.6 211.5h1.3v1.0h-1.3zM578.0 220.2h1.0v1.0h-1.0zM630.7 169.6h1.3v0.8h-1.3zM599.4 204.9h1.0v0.8h-1.0zM614.3 182.4h0.8v0.8h-0.8zM607.3 186.1h1.3v0.8h-1.3zM635.6 162.4h0.8v0.8h-0.8zM607.7 191.7h0.8v1.0h-0.8zM592.4 211.0h1.3v1.3h-1.3zM594.4 210.8h1.3v1.0h-1.3zM618.2 187.7h1.3v0.8h-1.3zM615.7 180.8h1.3v1.3h-1.3zM586.4 216.8h0.8v1.3h-0.8zM577.9 218.9h1.0v1.0h-1.0zM603.6 200.2h1.0v1.3h-1.0zM618.8 183.6h1.3v1.0h-1.3zM629.4 166.0h1.0v1.0h-1.0zM626.2 172.1h1.0v1.0h-1.0zM613.8 189.3h0.8v1.0h-0.8zM617.7 182.6h0.8v1.3h-0.8zM604.9 195.5h1.0v1.3h-1.0zM607.9 195.6h0.8v1.3h-0.8zM606.4 196.9h0.8v1.0h-0.8zM610.9 188.5h1.0v0.8h-1.0zM618.9 183.2h1.3v1.3h-1.3zM627.0 176.2h1.0v1.3h-1.0zM627.2 169.1h0.8v1.3h-0.8zM608.8 195.5h1.3v1.0h-1.3zM626.3 174.0h1.3v0.8h-1.3zM628.6 165.1h0.8v0.8h-0.8zM615.4 185.9h1.3v1.3h-1.3zM579.9 222.4h1.3v1.0h-1.3zM607.9 187.8h1.3v0.8h-1.3zM584.7 215.5h1.3v1.3h-1.3zM607.7 192.9h0.8v0.8h-0.8zM624.1 181.4h1.3v1.0h-1.3zM600.9 203.3h1.0v1.0h-1.0zM588.0 211.2h1.0v1.3h-1.0zM611.5 192.4h1.0v0.8h-1.0zM585.1 216.9h1.0v1.3h-1.0zM582.2 211.3h0.8v0.8h-0.8zM601.5 200.8h1.3v1.0h-1.3zM625.7 172.2h1.0v1.0h-1.0zM610.2 191.0h0.8v0.8h-0.8zM622.2 172.3h1.3v1.0h-1.3zM599.9 203.3h1.3v0.8h-1.3zM582.9 220.0h1.0v1.3h-1.0zM593.4 205.7h1.0v0.8h-1.0zM608.3 194.4h1.0v0.8h-1.0zM594.2 208.5h1.3v0.8h-1.3zM598.6 199.1h1.0v1.0h-1.0zM609.9 189.7h1.3v0.8h-1.3zM578.8 221.2h1.0v1.0h-1.0zM582.9 222.3h0.8v0.8h-0.8zM579.6 220.0h0.8v0.8h-0.8zM626.8 175.8h1.0v1.3h-1.0zM604.2 194.5h1.0v0.8h-1.0zM612.1 186.4h1.0v1.3h-1.0zM624.6 171.8h0.8v1.0h-0.8zM599.8 201.7h0.8v1.3h-0.8zM603.5 200.2h1.3v1.3h-1.3zM591.3 212.6h1.3v0.8h-1.3zM579.0 216.9h1.0v1.3h-1.0zM580.3 217.4h1.0v1.3h-1.0zM581.7 217.3h0.8v1.0h-0.8zM594.4 206.7h1.3v0.8h-1.3zM606.9 194.6h1.3v0.8h-1.3zM618.9 184.5h0.8v0.8h-0.8zM616.2 183.6h1.3v1.3h-1.3zM596.8 204.9h1.0v0.8h-1.0zM624.9 180.6h1.0v1.3h-1.0zM631.5 172.5h1.0v1.3h-1.0zM622.7 182.5h1.0v1.3h-1.0zM611.5 188.9h0.8v1.3h-0.8zM588.7 214.8h1.0v0.8h-1.0zM631.2 164.3h0.8v0.8h-0.8zM612.5 191.3h1.3v0.8h-1.3zM633.4 166.9h1.0v1.3h-1.0zM588.5 211.1h1.3v1.3h-1.3zM616.1 187.2h1.3v1.0h-1.3zM615.9 190.9h0.8v1.3h-0.8zM624.1 179.0h0.8v1.3h-0.8zM592.9 212.6h1.0v1.3h-1.0zM612.5 184.3h0.8v1.3h-0.8zM606.4 194.6h0.8v1.0h-0.8zM590.6 209.3h1.3v1.0h-1.3zM620.8 186.7h1.3v1.0h-1.3zM619.8 175.5h1.0v0.8h-1.0zM606.9 192.1h0.8v1.0h-0.8zM607.8 194.0h1.0v0.8h-1.0zM596.9 203.5h1.3v0.8h-1.3zM609.7 184.5h1.0v1.0h-1.0zM614.3 185.3h0.8v1.3h-0.8zM587.7 215.2h1.0v0.8h-1.0zM597.5 195.9h0.8v1.0h-0.8zM605.9 197.5h0.8v0.8h-0.8zM599.6 205.5h1.3v0.8h-1.3zM624.1 175.6h0.8v1.0h-0.8zM599.1 208.2h0.8v1.3h-0.8zM630.7 172.8h1.0v1.3h-1.0zM608.7 194.7h1.0v0.8h-1.0zM629.1 171.3h1.3v1.0h-1.3zM626.8 173.6h0.8v1.3h-0.8zM594.8 206.3h1.3v1.0h-1.3zM555.7 250.3h1.0v1.3h-1.0zM550.1 250.6h1.0v1.3h-1.0zM527.1 276.4h1.3v1.3h-1.3zM529.3 272.7h1.0v0.8h-1.0zM533.6 267.1h0.8v0.8h-0.8zM555.4 244.6h1.3v0.8h-1.3zM530.0 271.6h1.3v0.8h-1.3zM564.4 236.7h1.3v1.0h-1.3zM534.9 270.8h1.0v1.3h-1.0zM570.2 233.4h0.8v1.3h-0.8zM528.5 270.0h0.8v0.8h-0.8zM555.9 241.4h0.8v1.0h-0.8zM524.1 272.9h0.8v1.3h-0.8zM574.2 227.8h1.0v1.3h-1.0zM566.0 239.3h0.8v0.8h-0.8zM536.8 262.1h1.0v1.0h-1.0zM541.4 253.1h1.0v1.3h-1.0zM559.5 243.0h0.8v0.8h-0.8zM518.4 282.3h1.3v1.3h-1.3zM537.9 256.6h1.0v1.0h-1.0zM527.0 277.8h1.3v0.8h-1.3zM544.2 260.2h1.3v1.3h-1.3zM556.6 250.8h0.8v1.0h-0.8zM541.2 256.9h0.8v1.0h-0.8zM562.6 239.0h0.8v1.3h-0.8zM534.5 272.3h1.3v1.0h-1.3zM521.1 281.2h1.3v0.8h-1.3zM546.5 257.1h1.0v0.8h-1.0zM524.5 274.6h1.3v1.0h-1.3zM565.9 229.8h0.8v1.0h-0.8zM541.5 260.3h0.8v1.0h-0.8zM524.6 271.2h1.0v1.0h-1.0zM569.2 232.0h1.3v1.0h-1.3zM570.5 229.1h1.3v0.8h-1.3zM525.3 269.1h1.0v0.8h-1.0zM553.9 247.0h0.8v1.3h-0.8zM535.3 262.2h0.8v0.8h-0.8zM520.4 276.2h0.8v1.3h-0.8zM532.5 270.7h0.8v0.8h-0.8zM539.0 257.1h0.8v1.3h-0.8zM547.9 251.0h1.3v1.0h-1.3zM538.0 258.9h1.3v1.0h-1.3zM567.3 229.4h1.3v0.8h-1.3zM538.0 262.4h1.3v1.3h-1.3zM519.7 277.9h1.3v1.3h-1.3zM519.2 283.3h0.8v1.0h-0.8zM526.1 277.4h0.8v0.8h-0.8zM549.9 252.4h1.0v1.0h-1.0zM561.0 240.4h0.8v0.8h-0.8zM569.9 232.8h1.0v1.0h-1.0zM566.4 238.8h1.0v1.0h-1.0zM551.2 245.7h0.8v1.3h-0.8zM553.5 240.9h1.0v0.8h-1.0zM528.1 270.0h1.0v1.3h-1.0zM539.0 256.9h1.3v0.8h-1.3zM557.3 236.2h0.8v1.0h-0.8zM532.1 270.8h0.8v1.3h-0.8zM538.3 257.4h1.0v1.0h-1.0zM545.1 259.5h0.8v1.3h-0.8zM563.2 238.9h1.3v0.8h-1.3zM536.5 265.0h1.3v0.8h-1.3zM552.0 250.8h0.8v1.3h-0.8zM575.7 226.3h1.3v1.3h-1.3zM552.7 246.5h0.8v1.0h-0.8zM527.8 271.0h1.3v0.8h-1.3zM573.8 226.4h1.0v1.3h-1.0zM558.7 241.0h0.8v0.8h-0.8zM576.7 227.3h1.0v0.8h-1.0zM542.2 261.8h0.8v0.8h-0.8zM551.0 253.0h1.0v1.3h-1.0zM556.6 236.9h1.0v1.0h-1.0zM528.2 271.9h1.3v0.8h-1.3zM532.5 272.7h0.8v0.8h-0.8zM558.2 244.2h0.8v1.0h-0.8zM546.9 259.5h1.0v1.3h-1.0zM531.7 270.7h0.8v1.0h-0.8zM526.6 275.2h1.0v1.0h-1.0zM533.8 260.2h0.8v0.8h-0.8zM531.2 266.3h0.8v1.3h-0.8zM557.7 237.7h1.0v0.8h-1.0zM550.9 256.2h1.3v1.0h-1.3zM568.6 231.1h1.3v0.8h-1.3zM519.8 282.6h1.3v1.3h-1.3zM535.8 259.3h0.8v1.0h-0.8zM530.9 267.3h0.8v1.0h-0.8zM524.9 282.9h1.3v1.0h-1.3zM574.1 225.3h1.3v0.8h-1.3zM519.3 277.8h1.3v0.8h-1.3zM566.1 234.1h0.8v1.0h-0.8zM542.4 259.3h0.8v0.8h-0.8zM535.3 269.7h0.8v0.8h-0.8zM530.7 271.3h0.8v1.3h-0.8zM522.7 281.1h1.0v1.3h-1.0zM557.9 237.1h1.3v0.8h-1.3zM564.5 234.6h0.8v1.3h-0.8zM562.8 236.7h1.3v0.8h-1.3zM527.6 275.0h1.0v1.0h-1.0zM549.8 249.2h1.3v0.8h-1.3zM568.5 229.1h0.8v1.0h-0.8zM526.1 274.1h1.3v0.8h-1.3zM544.0 249.9h1.0v1.0h-1.0zM561.3 233.7h0.8v0.8h-0.8zM568.9 228.6h1.0v0.8h-1.0zM552.2 243.6h1.3v1.3h-1.3zM533.4 270.1h1.0v0.8h-1.0zM545.9 258.2h1.3v0.8h-1.3zM547.4 250.4h0.8v0.8h-0.8zM536.7 265.6h1.3v0.8h-1.3zM550.5 249.0h0.8v1.3h-0.8zM570.7 226.0h1.3v1.0h-1.3zM554.3 247.6h1.0v1.3h-1.0zM544.7 251.2h1.0v1.0h-1.0zM538.1 261.7h1.0v1.3h-1.0zM545.5 260.7h1.3v1.0h-1.3zM543.7 255.0h1.3v1.0h-1.3zM521.4 279.8h1.3v0.8h-1.3zM569.9 231.4h0.8v1.3h-0.8zM548.4 249.3h1.0v1.3h-1.0zM570.3 229.6h0.8v0.8h-0.8zM571.4 229.1h1.0v0.8h-1.0zM558.8 240.4h1.0v1.0h-1.0zM535.7 270.0h1.0v0.8h-1.0zM576.4 229.1h1.0v0.8h-1.0zM569.6 224.6h1.0v0.8h-1.0zM539.9 265.9h1.3v1.3h-1.3zM520.9 282.7h1.3v0.8h-1.3zM560.9 240.6h1.3v1.0h-1.3zM556.7 242.0h0.8v0.8h-0.8zM539.7 256.3h1.3v1.3h-1.3zM566.7 229.7h1.3v1.0h-1.3zM529.9 269.2h1.0v1.3h-1.0zM576.5 226.1h0.8v1.0h-0.8zM534.1 266.4h1.3v0.8h-1.3zM541.5 261.0h1.0v1.3h-1.0zM529.6 269.2h1.3v0.8h-1.3zM522.2 280.2h1.0v1.3h-1.0zM545.1 248.9h1.0v1.3h-1.0zM572.3 225.2h1.3v1.3h-1.3zM558.7 244.0h0.8v0.8h-0.8zM534.0 273.3h1.0v1.3h-1.0zM553.9 240.2h0.8v0.8h-0.8zM552.7 241.4h1.3v1.0h-1.3zM519.9 278.9h1.3v0.8h-1.3z" fill="#f7b0b0"/>
<path d="M523.7 261.4h1.6v0.8h-1.6zM538.8 217.2h1.2v0.8h-1.2zM566.1 164.0h0.8v1.0h-0.8zM608.8 259.4h0.8v1.2h-0.8zM590.1 277.6h1.6v0.8h-1.6zM588.0 198.4h0.8v1.0h-0.8zM603.0 270.7h0.8v0.8h-0.8zM621.3 180.5h1.6v1.0h-1.6zM596.2 197.1h0.8v1.2h-0.8zM562.1 222.2h1.6v1.2h-1.6zM582.3 255.8h1.6v1.2h-1.6zM540.6 166.3h0.8v0.8h-0.8zM519.2 268.9h1.2v0.8h-1.2zM622.9 163.5h1.2v0.8h-1.2zM530.6 204.2h0.8v0.8h-0.8zM634.9 268.3h1.6v1.2h-1.6zM572.2 282.5h1.0v1.0h-1.0zM626.5 201.3h1.2v1.2h-1.2zM596.6 262.9h0.8v1.0h-0.8zM563.2 213.0h1.2v0.8h-1.2zM633.9 239.6h0.8v1.2h-0.8zM630.3 263.6h1.2v1.0h-1.2zM535.9 244.5h1.6v0.8h-1.6zM569.2 219.6h1.6v0.8h-1.6zM518.0 213.5h1.6v0.8h-1.6zM566.1 224.2h1.0v1.2h-1.0zM629.4 206.0h1.2v1.0h-1.2zM577.4 171.4h1.6v1.2h-1.6zM603.1 240.3h1.2v1.2h-1.2zM543.0 213.2h1.6v1.2h-1.6zM609.7 205.8h1.6v1.2h-1.6zM570.7 277.9h0.8v0.8h-0.8zM530.4 246.6h1.2v0.8h-1.2zM605.5 203.8h1.2v1.0h-1.2zM587.0 234.6h0.8v0.8h-0.8zM524.5 246.4h1.2v1.2h-1.2zM525.7 206.7h0.8v1.0h-0.8zM520.7 164.9h0.8v1.2h-0.8zM565.9 240.9h1.0v1.0h-1.0zM532.3 253.1h1.6v1.2h-1.6zM531.3 169.4h1.0v1.2h-1.0zM552.7 181.5h0.8v1.2h-0.8zM602.6 187.3h1.0v0.8h-1.0z" fill="#f9c8c8"/>
<path d="M631.3 186.0h0.8v1.2h-0.8zM573.3 271.1h1.2v0.8h-1.2zM635.7 206.1h1.0v1.0h-1.0zM571.3 182.1h0.8v1.0h-0.8zM552.8 192.8h0.8v1.2h-0.8zM535.5 256.4h1.6v0.8h-1.6zM607.9 217.1h0.8v0.8h-0.8zM530.5 210.3h1.2v1.0h-1.2zM533.0 224.4h1.6v1.0h-1.6zM609.2 197.8h0.8v1.2h-0.8zM610.1 235.9h1.6v1.2h-1.6zM551.0 170.8h0.8v1.0h-0.8zM542.4 241.0h1.0v1.0h-1.0zM544.3 228.2h1.2v1.2h-1.2zM532.0 252.4h0.8v1.2h-0.8zM532.9 196.7h1.6v0.8h-1.6zM564.9 195.7h0.8v1.0h-0.8zM570.9 283.0h1.0v1.0h-1.0zM597.2 163.8h1.6v1.0h-1.6zM534.0 201.8h1.6v1.0h-1.6zM551.1 199.1h0.8v1.2h-0.8zM615.7 272.2h1.0v1.2h-1.0zM522.0 248.4h1.0v1.2h-1.0zM581.2 163.4h1.2v1.0h-1.2zM523.6 263.0h1.2v1.2h-1.2zM536.0 255.2h1.6v1.0h-1.6zM611.3 225.0h0.8v1.0h-0.8zM564.5 246.9h1.2v0.8h-1.2zM535.2 198.9h0.8v1.0h-0.8zM587.7 236.9h0.8v1.0h-0.8zM625.8 250.1h1.6v1.0h-1.6zM589.9 280.5h1.2v1.2h-1.2zM595.1 231.2h1.6v1.0h-1.6zM521.5 245.4h0.8v1.2h-0.8zM598.6 163.9h1.2v1.0h-1.2zM600.6 237.6h1.2v0.8h-1.2zM586.0 211.0h1.6v1.0h-1.6zM530.2 260.0h1.2v1.2h-1.2z" fill="#f7b8b8"/>
<path d="M524.3 241.7h0.8v1.2h-0.8zM574.1 258.2h1.6v0.8h-1.6zM589.6 177.0h1.6v1.0h-1.6zM557.5 230.5h1.6v0.8h-1.6zM573.8 208.6h1.0v0.8h-1.0zM595.5 179.6h1.2v1.2h-1.2zM632.3 218.2h1.0v1.0h-1.0zM598.5 251.1h1.6v0.8h-1.6zM567.9 276.8h1.6v1.0h-1.6zM618.1 198.9h1.0v1.2h-1.0zM556.7 164.4h1.6v1.0h-1.6zM627.1 264.5h1.2v0.8h-1.2zM620.8 229.3h1.2v1.2h-1.2zM551.4 258.1h1.6v1.0h-1.6zM558.0 222.5h0.8v0.8h-0.8zM532.7 259.7h1.6v0.8h-1.6zM523.4 277.4h1.6v0.8h-1.6zM539.8 184.3h0.8v1.2h-0.8zM538.1 260.1h0.8v1.0h-0.8zM625.8 190.5h0.8v1.2h-0.8zM626.4 232.3h1.6v1.2h-1.6zM576.1 217.7h1.6v1.2h-1.6zM594.6 188.9h1.6v1.2h-1.6zM629.1 280.9h0.8v1.2h-0.8zM583.8 213.6h1.6v1.2h-1.6zM573.1 199.9h0.8v1.0h-0.8zM620.0 264.4h1.2v1.0h-1.2zM540.9 211.8h1.6v1.0h-1.6zM523.5 250.9h1.2v1.0h-1.2zM586.8 276.7h1.0v1.2h-1.0zM561.6 227.0h1.2v1.0h-1.2zM585.2 268.1h0.8v1.0h-0.8zM627.6 202.4h0.8v0.8h-0.8zM609.9 187.8h1.0v1.0h-1.0zM573.6 236.1h0.8v1.2h-0.8zM555.3 241.9h1.0v1.2h-1.0z" fill="#fbd6d6"/>
<line x1="516.20" y1="284.70" x2="637.80" y2="162.40" stroke="#f22020" stroke-width="1.5" />
<circle cx="597.80" cy="203.00" r="1.50" fill="#f01818" stroke="none" stroke-width="0"/>
<circle cx="581.60" cy="218.60" r="1.80" fill="#f01818" stroke="none" stroke-width="0"/>
<circle cx="612.00" cy="190.00" r="1.00" fill="#f01818" stroke="none" stroke-width="0"/>
<circle cx="622.00" cy="178.00" r="1.00" fill="#f01818" stroke="none" stroke-width="0"/>
<circle cx="521.50" cy="278.70" r="2.00" fill="#f01818" stroke="none" stroke-width="0"/>
<circle cx="529.80" cy="269.60" r="1.60" fill="#f01818" stroke="none" stroke-width="0"/>
<circle cx="536.40" cy="263.80" r="1.50" fill="#f01818" stroke="none" stroke-width="0"/>
<circle cx="556.00" cy="244.00" r="1.10" fill="#f01818" stroke="none" stroke-width="0"/>
<circle cx="567.00" cy="233.00" r="1.00" fill="#f01818" stroke="none" stroke-width="0"/>
<rect x="516.20" y="162.40" width="121.60" height="122.30" fill="none" stroke="#9a9a9a" stroke-width="0.7" />
<line x1="577.50" y1="162.40" x2="577.50" y2="284.70" stroke="#222" stroke-width="0.7" stroke-dasharray="1.2,1"/>
<line x1="516.20" y1="223.00" x2="637.80" y2="223.00" stroke="#222" stroke-width="0.7" stroke-dasharray="1.2,1"/>
<line x1="603.90" y1="162.40" x2="603.90" y2="223.00" stroke="#333" stroke-width="0.6" stroke-dasharray="1,1"/>
<line x1="542.70" y1="223.00" x2="542.70" y2="284.70" stroke="#333" stroke-width="0.6" stroke-dasharray="1,1"/>
<line x1="577.50" y1="197.10" x2="637.80" y2="197.10" stroke="#333" stroke-width="0.6" stroke-dasharray="1,1"/>
<line x1="516.20" y1="258.30" x2="577.50" y2="258.30" stroke="#333" stroke-width="0.6" stroke-dasharray="1,1"/>
<text stroke="#222" stroke-width="0.22" x="584.50" y="195.40" font-size="6.8" text-anchor="start" fill="#222" >N167</text>
<text stroke="#222" stroke-width="0.22" x="523.20" y="256.60" font-size="6.8" text-anchor="start" fill="#222" >N167</text>
<text stroke="#111" stroke-width="0.22" x="577.30" y="159.60" font-size="7.4" text-anchor="middle" fill="#111" >Complex PsiR</text>
<line x1="514.70" y1="163.20" x2="516.20" y2="163.20" stroke="#555" stroke-width="0.5" />
<text stroke="#8a8a8a" stroke-width="0.22" x="514.40" y="165.20" font-size="5.8" text-anchor="end" fill="#8a8a8a" >300</text>
<line x1="514.70" y1="189.20" x2="516.20" y2="189.20" stroke="#555" stroke-width="0.5" />
<text stroke="#8a8a8a" stroke-width="0.22" x="514.40" y="191.20" font-size="5.8" text-anchor="end" fill="#8a8a8a" >200</text>
<line x1="514.70" y1="215.00" x2="516.20" y2="215.00" stroke="#555" stroke-width="0.5" />
<text stroke="#8a8a8a" stroke-width="0.22" x="514.40" y="217.00" font-size="5.8" text-anchor="end" fill="#8a8a8a" >100</text>
<line x1="514.70" y1="223.00" x2="516.20" y2="223.00" stroke="#555" stroke-width="0.5" />
<text stroke="#111" stroke-width="0.22" x="514.40" y="225.00" font-size="5.8" text-anchor="end" fill="#111" >300</text>
<line x1="514.70" y1="249.40" x2="516.20" y2="249.40" stroke="#555" stroke-width="0.5" />
<text stroke="#111" stroke-width="0.22" x="514.40" y="251.40" font-size="5.8" text-anchor="end" fill="#111" >200</text>
<line x1="514.70" y1="275.30" x2="516.20" y2="275.30" stroke="#555" stroke-width="0.5" />
<text stroke="#111" stroke-width="0.22" x="514.40" y="277.30" font-size="5.8" text-anchor="end" fill="#111" >100</text>
<line x1="524.30" y1="284.70" x2="524.30" y2="286.20" stroke="#555" stroke-width="0.5" />
<text stroke="#111" stroke-width="0.22" x="524.30" y="291.70" font-size="5.8" text-anchor="middle" fill="#111" >100</text>
<line x1="551.30" y1="284.70" x2="551.30" y2="286.20" stroke="#555" stroke-width="0.5" />
<text stroke="#111" stroke-width="0.22" x="551.30" y="291.70" font-size="5.8" text-anchor="middle" fill="#111" >200</text>
<line x1="577.50" y1="284.70" x2="577.50" y2="286.20" stroke="#555" stroke-width="0.5" />
<text stroke="#111" stroke-width="0.22" x="577.50" y="291.70" font-size="5.8" text-anchor="middle" fill="#111" >300</text>
<line x1="583.90" y1="284.70" x2="583.90" y2="286.20" stroke="#555" stroke-width="0.5" />
<text stroke="#8a8a8a" stroke-width="0.22" x="583.90" y="291.70" font-size="5.8" text-anchor="middle" fill="#8a8a8a" >100</text>
<line x1="611.90" y1="284.70" x2="611.90" y2="286.20" stroke="#555" stroke-width="0.5" />
<text stroke="#8a8a8a" stroke-width="0.22" x="611.90" y="291.70" font-size="5.8" text-anchor="middle" fill="#8a8a8a" >200</text>
<line x1="637.00" y1="284.70" x2="637.00" y2="286.20" stroke="#555" stroke-width="0.5" />
<text stroke="#8a8a8a" stroke-width="0.22" x="637.00" y="291.70" font-size="5.8" text-anchor="middle" fill="#8a8a8a" >300</text>
<text stroke="#111" stroke-width="0.22" x="577.00" y="297.30" font-size="6.2" text-anchor="middle" fill="#111" >Residues</text>
<text stroke="#111" stroke-width="0.22" x="501.60" y="223.55" font-size="6.2" text-anchor="middle" fill="#111" transform="rotate(-90 501.6 223.6)">Residues</text>
<rect x="646.90" y="162.40" width="6.60" height="17.76" fill="#ee0000" stroke="none" stroke-width="0.6" />
<rect x="646.90" y="179.96" width="6.60" height="17.76" fill="#f77272" stroke="none" stroke-width="0.6" />
<rect x="646.90" y="197.51" width="6.60" height="17.76" fill="#fdd3d3" stroke="none" stroke-width="0.6" />
<rect x="646.90" y="215.07" width="6.60" height="17.76" fill="#ffffff" stroke="none" stroke-width="0.6" />
<rect x="646.90" y="232.63" width="6.60" height="17.76" fill="#c9c9fa" stroke="none" stroke-width="0.6" />
<rect x="646.90" y="250.19" width="6.60" height="17.76" fill="#6262f3" stroke="none" stroke-width="0.6" />
<rect x="646.90" y="267.74" width="6.60" height="17.76" fill="#0000ee" stroke="none" stroke-width="0.6" />
<rect x="646.90" y="162.40" width="6.60" height="122.90" fill="none" stroke="#bbb" stroke-width="0.4" />
<line x1="653.50" y1="162.60" x2="654.50" y2="162.60" stroke="#333" stroke-width="0.4" />
<text stroke="#111" stroke-width="0.22" x="654.70" y="164.60" font-size="5.8" text-anchor="start" fill="#111" >1.00</text>
<line x1="653.50" y1="180.16" x2="654.50" y2="180.16" stroke="#333" stroke-width="0.4" />
<text stroke="#111" stroke-width="0.22" x="654.70" y="182.16" font-size="5.8" text-anchor="start" fill="#111" >0.75</text>
<line x1="653.50" y1="197.71" x2="654.50" y2="197.71" stroke="#333" stroke-width="0.4" />
<text stroke="#111" stroke-width="0.22" x="654.70" y="199.71" font-size="5.8" text-anchor="start" fill="#111" >0.50</text>
<line x1="653.50" y1="215.27" x2="654.50" y2="215.27" stroke="#333" stroke-width="0.4" />
<text stroke="#111" stroke-width="0.22" x="654.70" y="217.27" font-size="5.8" text-anchor="start" fill="#111" >0.25</text>
<line x1="653.50" y1="232.83" x2="654.50" y2="232.83" stroke="#333" stroke-width="0.4" />
<text stroke="#111" stroke-width="0.22" x="654.70" y="234.83" font-size="5.8" text-anchor="start" fill="#111" >−0.25</text>
<line x1="653.50" y1="250.39" x2="654.50" y2="250.39" stroke="#333" stroke-width="0.4" />
<text stroke="#111" stroke-width="0.22" x="654.70" y="252.39" font-size="5.8" text-anchor="start" fill="#111" >−0.50</text>
<line x1="653.50" y1="267.94" x2="654.50" y2="267.94" stroke="#333" stroke-width="0.4" />
<text stroke="#111" stroke-width="0.22" x="654.70" y="269.94" font-size="5.8" text-anchor="start" fill="#111" >−0.75</text>
<line x1="653.50" y1="285.50" x2="654.50" y2="285.50" stroke="#333" stroke-width="0.4" />
<text stroke="#111" stroke-width="0.22" x="654.70" y="287.50" font-size="5.8" text-anchor="start" fill="#111" >−1.00</text>
<text stroke="#222" stroke-width="0.22" x="3.00" y="315.20" font-size="13.2" text-anchor="start" fill="#222" >g</text>
<rect x="28.90" y="307.40" width="11.02" height="10.20" fill="#5db55d" stroke="#4a4a4a" stroke-width="0.45" />
<text stroke="#111" stroke-width="0.22" x="34.41" y="314.50" font-size="5.2" text-anchor="middle" fill="#111" font-weight="bold">1.1</text>
<rect x="39.92" y="307.40" width="11.02" height="10.20" fill="#0a870a" stroke="#4a4a4a" stroke-width="0.45" />
<text stroke="#111" stroke-width="0.22" x="45.43" y="314.50" font-size="5.2" text-anchor="middle" fill="#111" font-weight="bold">1.7</text>
<rect x="50.94" y="307.40" width="11.02" height="10.20" fill="#5db55d" stroke="#4a4a4a" stroke-width="0.45" />
<text stroke="#111" stroke-width="0.22" x="56.45" y="314.50" font-size="5.2" text-anchor="middle" fill="#111" font-weight="bold">1.1</text>
<rect x="61.96" y="307.40" width="11.02" height="10.20" fill="#e2efe0" stroke="#4a4a4a" stroke-width="0.45" />
<rect x="72.98" y="307.40" width="11.02" height="10.20" fill="#c2dfbe" stroke="#4a4a4a" stroke-width="0.45" />
<rect x="84.00" y="307.40" width="11.02" height="10.20" fill="#a9d3a6" stroke="#4a4a4a" stroke-width="0.45" />
<rect x="95.02" y="307.40" width="11.02" height="10.20" fill="#e6f1e4" stroke="#4a4a4a" stroke-width="0.45" />
<rect x="106.04" y="307.40" width="11.02" height="10.20" fill="#e6f1e4" stroke="#4a4a4a" stroke-width="0.45" />
<rect x="117.06" y="307.40" width="11.02" height="10.20" fill="#e6f1e4" stroke="#4a4a4a" stroke-width="0.45" />
<rect x="128.08" y="307.40" width="11.02" height="10.20" fill="#e8f2e6" stroke="#4a4a4a" stroke-width="0.45" />
<rect x="139.10" y="307.40" width="11.02" height="10.20" fill="#e0eedd" stroke="#4a4a4a" stroke-width="0.45" />
<rect x="150.12" y="307.40" width="11.02" height="10.20" fill="#e6f1e4" stroke="#4a4a4a" stroke-width="0.45" />
<rect x="161.14" y="307.40" width="11.02" height="10.20" fill="#eaf3e8" stroke="#4a4a4a" stroke-width="0.45" />
<rect x="172.16" y="307.40" width="11.02" height="10.20" fill="#6ab96a" stroke="#4a4a4a" stroke-width="0.45" />
<rect x="183.18" y="307.40" width="11.02" height="10.20" fill="#6ab96a" stroke="#4a4a4a" stroke-width="0.45" />
<rect x="194.20" y="307.40" width="11.02" height="10.20" fill="#98cc96" stroke="#4a4a4a" stroke-width="0.45" />
<rect x="205.22" y="307.40" width="11.02" height="10.20" fill="#5ab45a" stroke="#4a4a4a" stroke-width="0.45" />
<text stroke="#111" stroke-width="0.22" x="210.73" y="314.50" font-size="5.2" text-anchor="middle" fill="#111" font-weight="bold">1.1</text>
<rect x="216.24" y="307.40" width="11.02" height="10.20" fill="#5ab45a" stroke="#4a4a4a" stroke-width="0.45" />
<text stroke="#111" stroke-width="0.22" x="221.75" y="314.50" font-size="5.2" text-anchor="middle" fill="#111" font-weight="bold">1.1</text>
<rect x="227.26" y="307.40" width="11.02" height="10.20" fill="#7fc27f" stroke="#4a4a4a" stroke-width="0.45" />
<rect x="238.28" y="307.40" width="11.02" height="10.20" fill="#abd5a9" stroke="#4a4a4a" stroke-width="0.45" />
<rect x="28.90" y="307.40" width="220.40" height="10.20" fill="none" stroke="#333" stroke-width="0.6" />
<line x1="27.30" y1="312.50" x2="28.90" y2="312.50" stroke="#333" stroke-width="0.5" />
<text stroke="#111" stroke-width="0.22" x="26.90" y="314.50" font-size="5.6" text-anchor="end" fill="#111" >N167</text>
<line x1="34.41" y1="317.60" x2="34.41" y2="318.90" stroke="#333" stroke-width="0.45" />
<text stroke="#111" stroke-width="0.22" x="34.41" y="324.30" font-size="5.6" text-anchor="middle" fill="#111" >G</text>
<line x1="45.43" y1="317.60" x2="45.43" y2="318.90" stroke="#333" stroke-width="0.45" />
<text stroke="#111" stroke-width="0.22" x="45.43" y="324.30" font-size="5.6" text-anchor="middle" fill="#111" >A</text>
<line x1="56.45" y1="317.60" x2="56.45" y2="318.90" stroke="#333" stroke-width="0.45" />
<text stroke="#111" stroke-width="0.22" x="56.45" y="324.30" font-size="5.6" text-anchor="middle" fill="#111" >S</text>
<line x1="67.47" y1="317.60" x2="67.47" y2="318.90" stroke="#333" stroke-width="0.45" />
<text stroke="#111" stroke-width="0.22" x="67.47" y="324.30" font-size="5.6" text-anchor="middle" fill="#111" >T</text>
<line x1="78.49" y1="317.60" x2="78.49" y2="318.90" stroke="#333" stroke-width="0.45" />
<text stroke="#111" stroke-width="0.22" x="78.49" y="324.30" font-size="5.6" text-anchor="middle" fill="#111" >C</text>
<line x1="89.51" y1="317.60" x2="89.51" y2="318.90" stroke="#333" stroke-width="0.45" />
<text stroke="#111" stroke-width="0.22" x="89.51" y="324.30" font-size="5.6" text-anchor="middle" fill="#111" >M</text>
<line x1="100.53" y1="317.60" x2="100.53" y2="318.90" stroke="#333" stroke-width="0.45" />
<text stroke="#111" stroke-width="0.22" x="100.53" y="324.30" font-size="5.6" text-anchor="middle" fill="#111" >I</text>
<line x1="111.55" y1="317.60" x2="111.55" y2="318.90" stroke="#333" stroke-width="0.45" />
<text stroke="#111" stroke-width="0.22" x="111.55" y="324.30" font-size="5.6" text-anchor="middle" fill="#111" >V</text>
<line x1="122.57" y1="317.60" x2="122.57" y2="318.90" stroke="#333" stroke-width="0.45" />
<text stroke="#111" stroke-width="0.22" x="122.57" y="324.30" font-size="5.6" text-anchor="middle" fill="#111" >L</text>
<line x1="133.59" y1="317.60" x2="133.59" y2="318.90" stroke="#333" stroke-width="0.45" />
<text stroke="#111" stroke-width="0.22" x="133.59" y="324.30" font-size="5.6" text-anchor="middle" fill="#111" >P</text>
<line x1="144.61" y1="317.60" x2="144.61" y2="318.90" stroke="#333" stroke-width="0.45" />
<text stroke="#111" stroke-width="0.22" x="144.61" y="324.30" font-size="5.6" text-anchor="middle" fill="#111" >F</text>
<line x1="155.63" y1="317.60" x2="155.63" y2="318.90" stroke="#333" stroke-width="0.45" />
<text stroke="#111" stroke-width="0.22" x="155.63" y="324.30" font-size="5.6" text-anchor="middle" fill="#111" >Y</text>
<line x1="166.65" y1="317.60" x2="166.65" y2="318.90" stroke="#333" stroke-width="0.45" />
<text stroke="#111" stroke-width="0.22" x="166.65" y="324.30" font-size="5.6" text-anchor="middle" fill="#111" >W</text>
<line x1="177.67" y1="317.60" x2="177.67" y2="318.90" stroke="#333" stroke-width="0.45" />
<text stroke="#111" stroke-width="0.22" x="177.67" y="324.30" font-size="5.6" text-anchor="middle" fill="#111" >H</text>
<line x1="188.69" y1="317.60" x2="188.69" y2="318.90" stroke="#333" stroke-width="0.45" />
<text stroke="#111" stroke-width="0.22" x="188.69" y="324.30" font-size="5.6" text-anchor="middle" fill="#111" >N</text>
<line x1="199.71" y1="317.60" x2="199.71" y2="318.90" stroke="#333" stroke-width="0.45" />
<text stroke="#111" stroke-width="0.22" x="199.71" y="324.30" font-size="5.6" text-anchor="middle" fill="#111" >Q</text>
<line x1="210.73" y1="317.60" x2="210.73" y2="318.90" stroke="#333" stroke-width="0.45" />
<text stroke="#111" stroke-width="0.22" x="210.73" y="324.30" font-size="5.6" text-anchor="middle" fill="#111" >D</text>
<line x1="221.75" y1="317.60" x2="221.75" y2="318.90" stroke="#333" stroke-width="0.45" />
<text stroke="#111" stroke-width="0.22" x="221.75" y="324.30" font-size="5.6" text-anchor="middle" fill="#111" >E</text>
<line x1="232.77" y1="317.60" x2="232.77" y2="318.90" stroke="#333" stroke-width="0.45" />
<text stroke="#111" stroke-width="0.22" x="232.77" y="324.30" font-size="5.6" text-anchor="middle" fill="#111" >K</text>
<line x1="243.79" y1="317.60" x2="243.79" y2="318.90" stroke="#333" stroke-width="0.45" />
<text stroke="#111" stroke-width="0.22" x="243.79" y="324.30" font-size="5.6" text-anchor="middle" fill="#111" >R</text>
<rect x="28.90" y="332.90" width="11.02" height="10.50" fill="#5cb85c" stroke="#4a4a4a" stroke-width="0.45" />
<text stroke="#111" stroke-width="0.22" x="34.41" y="340.15" font-size="5.2" text-anchor="middle" fill="#111" font-weight="bold">1.3</text>
<rect x="39.92" y="332.90" width="11.02" height="10.50" fill="#36a336" stroke="#4a4a4a" stroke-width="0.45" />
<text stroke="#111" stroke-width="0.22" x="45.43" y="340.15" font-size="5.2" text-anchor="middle" fill="#111" font-weight="bold">1.9</text>
<rect x="50.94" y="332.90" width="11.02" height="10.50" fill="#45aa45" stroke="#4a4a4a" stroke-width="0.45" />
<text stroke="#111" stroke-width="0.22" x="56.45" y="340.15" font-size="5.2" text-anchor="middle" fill="#111" font-weight="bold">1.8</text>
<rect x="61.96" y="332.90" width="11.02" height="10.50" fill="#4aad4a" stroke="#4a4a4a" stroke-width="0.45" />
<text stroke="#111" stroke-width="0.22" x="67.47" y="340.15" font-size="5.2" text-anchor="middle" fill="#111" font-weight="bold">1.8</text>
<rect x="72.98" y="332.90" width="11.02" height="10.50" fill="#9ed09c" stroke="#4a4a4a" stroke-width="0.45" />
<rect x="84.00" y="332.90" width="11.02" height="10.50" fill="#007d00" stroke="#4a4a4a" stroke-width="0.45" />
<text stroke="#111" stroke-width="0.22" x="89.51" y="340.15" font-size="5.2" text-anchor="middle" fill="#111" font-weight="bold">2.4</text>
<rect x="95.02" y="332.90" width="11.02" height="10.50" fill="#188f18" stroke="#4a4a4a" stroke-width="0.45" />
<text stroke="#111" stroke-width="0.22" x="100.53" y="340.15" font-size="5.2" text-anchor="middle" fill="#111" font-weight="bold">2.0</text>
<rect x="106.04" y="332.90" width="11.02" height="10.50" fill="#138c13" stroke="#4a4a4a" stroke-width="0.45" />
<text stroke="#111" stroke-width="0.22" x="111.55" y="340.15" font-size="5.2" text-anchor="middle" fill="#111" font-weight="bold">2.1</text>
<rect x="117.06" y="332.90" width="11.02" height="10.50" fill="#007d00" stroke="#4a4a4a" stroke-width="0.45" />
<text stroke="#111" stroke-width="0.22" x="122.57" y="340.15" font-size="5.2" text-anchor="middle" fill="#111" font-weight="bold">2.4</text>
<rect x="128.08" y="332.90" width="11.02" height="10.50" fill="#e8f2e6" stroke="#4a4a4a" stroke-width="0.45" />
<rect x="139.10" y="332.90" width="11.02" height="10.50" fill="#6bbd6b" stroke="#4a4a4a" stroke-width="0.45" />
<text stroke="#111" stroke-width="0.22" x="144.61" y="340.15" font-size="5.2" text-anchor="middle" fill="#111" font-weight="bold">1.3</text>
<rect x="150.12" y="332.90" width="11.02" height="10.50" fill="#74c174" stroke="#4a4a4a" stroke-width="0.45" />
<text stroke="#111" stroke-width="0.22" x="155.63" y="340.15" font-size="5.2" text-anchor="middle" fill="#111" font-weight="bold">1.2</text>
<rect x="161.14" y="332.90" width="11.02" height="10.50" fill="#74c174" stroke="#4a4a4a" stroke-width="0.45" />
<text stroke="#111" stroke-width="0.22" x="166.65" y="340.15" font-size="5.2" text-anchor="middle" fill="#111" font-weight="bold">1.2</text>
<rect x="172.16" y="332.90" width="11.02" height="10.50" fill="#74c174" stroke="#4a4a4a" stroke-width="0.45" />
<text stroke="#111" stroke-width="0.22" x="177.67" y="340.15" font-size="5.2" text-anchor="middle" fill="#111" font-weight="bold">1.2</text>
<rect x="183.18" y="332.90" width="11.02" height="10.50" fill="#82c682" stroke="#4a4a4a" stroke-width="0.45" />
<text stroke="#111" stroke-width="0.22" x="188.69" y="340.15" font-size="5.2" text-anchor="middle" fill="#111" font-weight="bold">1.1</text>
<rect x="194.20" y="332.90" width="11.02" height="10.50" fill="#4caf4c" stroke="#4a4a4a" stroke-width="0.45" />
<text stroke="#111" stroke-width="0.22" x="199.71" y="340.15" font-size="5.2" text-anchor="middle" fill="#111" font-weight="bold">1.6</text>
<rect x="205.22" y="332.90" width="11.02" height="10.50" fill="#b4dab2" stroke="#4a4a4a" stroke-width="0.45" />
<rect x="216.24" y="332.90" width="11.02" height="10.50" fill="#74c174" stroke="#4a4a4a" stroke-width="0.45" />
<text stroke="#111" stroke-width="0.22" x="221.75" y="340.15" font-size="5.2" text-anchor="middle" fill="#111" font-weight="bold">1.2</text>
<rect x="227.26" y="332.90" width="11.02" height="10.50" fill="#1f951f" stroke="#4a4a4a" stroke-width="0.45" />
<text stroke="#111" stroke-width="0.22" x="232.77" y="340.15" font-size="5.2" text-anchor="middle" fill="#111" font-weight="bold">2.0</text>
<rect x="238.28" y="332.90" width="11.02" height="10.50" fill="#8ccb8c" stroke="#4a4a4a" stroke-width="0.45" />
<rect x="28.90" y="332.90" width="220.40" height="10.50" fill="none" stroke="#333" stroke-width="0.6" />
<line x1="27.30" y1="338.15" x2="28.90" y2="338.15" stroke="#333" stroke-width="0.5" />
<text stroke="#111" stroke-width="0.22" x="26.90" y="340.15" font-size="5.6" text-anchor="end" fill="#111" >R206</text>
<line x1="34.41" y1="343.40" x2="34.41" y2="344.70" stroke="#333" stroke-width="0.45" />
<text stroke="#111" stroke-width="0.22" x="34.41" y="349.60" font-size="5.6" text-anchor="middle" fill="#111" >G</text>
<line x1="45.43" y1="343.40" x2="45.43" y2="344.70" stroke="#333" stroke-width="0.45" />
<text stroke="#111" stroke-width="0.22" x="45.43" y="349.60" font-size="5.6" text-anchor="middle" fill="#111" >A</text>
<line x1="56.45" y1="343.40" x2="56.45" y2="344.70" stroke="#333" stroke-width="0.45" />
<text stroke="#111" stroke-width="0.22" x="56.45" y="349.60" font-size="5.6" text-anchor="middle" fill="#111" >S</text>
<line x1="67.47" y1="343.40" x2="67.47" y2="344.70" stroke="#333" stroke-width="0.45" />
<text stroke="#111" stroke-width="0.22" x="67.47" y="349.60" font-size="5.6" text-anchor="middle" fill="#111" >T</text>
<line x1="78.49" y1="343.40" x2="78.49" y2="344.70" stroke="#333" stroke-width="0.45" />
<text stroke="#111" stroke-width="0.22" x="78.49" y="349.60" font-size="5.6" text-anchor="middle" fill="#111" >C</text>
<line x1="89.51" y1="343.40" x2="89.51" y2="344.70" stroke="#333" stroke-width="0.45" />
<text stroke="#111" stroke-width="0.22" x="89.51" y="349.60" font-size="5.6" text-anchor="middle" fill="#111" >M</text>
<line x1="100.53" y1="343.40" x2="100.53" y2="344.70" stroke="#333" stroke-width="0.45" />
<text stroke="#111" stroke-width="0.22" x="100.53" y="349.60" font-size="5.6" text-anchor="middle" fill="#111" >I</text>
<line x1="111.55" y1="343.40" x2="111.55" y2="344.70" stroke="#333" stroke-width="0.45" />
<text stroke="#111" stroke-width="0.22" x="111.55" y="349.60" font-size="5.6" text-anchor="middle" fill="#111" >V</text>
<line x1="122.57" y1="343.40" x2="122.57" y2="344.70" stroke="#333" stroke-width="0.45" />
<text stroke="#111" stroke-width="0.22" x="122.57" y="349.60" font-size="5.6" text-anchor="middle" fill="#111" >L</text>
<line x1="133.59" y1="343.40" x2="133.59" y2="344.70" stroke="#333" stroke-width="0.45" />
<text stroke="#111" stroke-width="0.22" x="133.59" y="349.60" font-size="5.6" text-anchor="middle" fill="#111" >P</text>
<line x1="144.61" y1="343.40" x2="144.61" y2="344.70" stroke="#333" stroke-width="0.45" />
<text stroke="#111" stroke-width="0.22" x="144.61" y="349.60" font-size="5.6" text-anchor="middle" fill="#111" >F</text>
<line x1="155.63" y1="343.40" x2="155.63" y2="344.70" stroke="#333" stroke-width="0.45" />
<text stroke="#111" stroke-width="0.22" x="155.63" y="349.60" font-size="5.6" text-anchor="middle" fill="#111" >Y</text>
<line x1="166.65" y1="343.40" x2="166.65" y2="344.70" stroke="#333" stroke-width="0.45" />
<text stroke="#111" stroke-width="0.22" x="166.65" y="349.60" font-size="5.6" text-anchor="middle" fill="#111" >W</text>
<line x1="177.67" y1="343.40" x2="177.67" y2="344.70" stroke="#333" stroke-width="0.45" />
<text stroke="#111" stroke-width="0.22" x="177.67" y="349.60" font-size="5.6" text-anchor="middle" fill="#111" >H</text>
<line x1="188.69" y1="343.40" x2="188.69" y2="344.70" stroke="#333" stroke-width="0.45" />
<text stroke="#111" stroke-width="0.22" x="188.69" y="349.60" font-size="5.6" text-anchor="middle" fill="#111" >N</text>
<line x1="199.71" y1="343.40" x2="199.71" y2="344.70" stroke="#333" stroke-width="0.45" />
<text stroke="#111" stroke-width="0.22" x="199.71" y="349.60" font-size="5.6" text-anchor="middle" fill="#111" >Q</text>
<line x1="210.73" y1="343.40" x2="210.73" y2="344.70" stroke="#333" stroke-width="0.45" />
<text stroke="#111" stroke-width="0.22" x="210.73" y="349.60" font-size="5.6" text-anchor="middle" fill="#111" >D</text>
<line x1="221.75" y1="343.40" x2="221.75" y2="344.70" stroke="#333" stroke-width="0.45" />
<text stroke="#111" stroke-width="0.22" x="221.75" y="349.60" font-size="5.6" text-anchor="middle" fill="#111" >E</text>
<line x1="232.77" y1="343.40" x2="232.77" y2="344.70" stroke="#333" stroke-width="0.45" />
<text stroke="#111" stroke-width="0.22" x="232.77" y="349.60" font-size="5.6" text-anchor="middle" fill="#111" >K</text>
<line x1="243.79" y1="343.40" x2="243.79" y2="344.70" stroke="#333" stroke-width="0.45" />
<text stroke="#111" stroke-width="0.22" x="243.79" y="349.60" font-size="5.6" text-anchor="middle" fill="#111" >R</text>
<rect x="29.10" y="385.90" width="10.84" height="10.00" fill="#a53b05" stroke="#4a4a4a" stroke-width="0.45" />
<rect x="39.94" y="385.90" width="10.84" height="10.00" fill="#7b2c0a" stroke="#4a4a4a" stroke-width="0.45" />
<text stroke="#fff" stroke-width="0.22" x="45.36" y="392.90" font-size="5.1" text-anchor="middle" fill="#fff" font-weight="bold">18.8</text>
<rect x="50.78" y="385.90" width="10.84" height="10.00" fill="#a53b05" stroke="#4a4a4a" stroke-width="0.45" />
<rect x="61.62" y="385.90" width="10.84" height="10.00" fill="#fde39a" stroke="#4a4a4a" stroke-width="0.45" />
<rect x="72.46" y="385.90" width="10.84" height="10.00" fill="#fdbf4c" stroke="#4a4a4a" stroke-width="0.45" />
<rect x="83.30" y="385.90" width="10.84" height="10.00" fill="#cf4f04" stroke="#4a4a4a" stroke-width="0.45" />
<rect x="94.14" y="385.90" width="10.84" height="10.00" fill="#fffade" stroke="#4a4a4a" stroke-width="0.45" />
<rect x="104.98" y="385.90" width="10.84" height="10.00" fill="#fff8d6" stroke="#4a4a4a" stroke-width="0.45" />
<rect x="115.82" y="385.90" width="10.84" height="10.00" fill="#fff6d2" stroke="#4a4a4a" stroke-width="0.45" />
<rect x="126.66" y="385.90" width="10.84" height="10.00" fill="#fffade" stroke="#4a4a4a" stroke-width="0.45" />
<rect x="137.50" y="385.90" width="10.84" height="10.00" fill="#fffbe0" stroke="#4a4a4a" stroke-width="0.45" />
<rect x="148.34" y="385.90" width="10.84" height="10.00" fill="#fff9d8" stroke="#4a4a4a" stroke-width="0.45" />
<rect x="159.18" y="385.90" width="10.84" height="10.00" fill="#fff8d6" stroke="#4a4a4a" stroke-width="0.45" />
<rect x="170.02" y="385.90" width="10.84" height="10.00" fill="#c8500a" stroke="#4a4a4a" stroke-width="0.45" />
<rect x="180.86" y="385.90" width="10.84" height="10.00" fill="#7f2d0a" stroke="#4a4a4a" stroke-width="0.45" />
<text stroke="#fff" stroke-width="0.22" x="186.28" y="392.90" font-size="5.1" text-anchor="middle" fill="#fff" font-weight="bold">18.1</text>
<rect x="191.70" y="385.90" width="10.84" height="10.00" fill="#ad420a" stroke="#4a4a4a" stroke-width="0.45" />
<rect x="202.54" y="385.90" width="10.84" height="10.00" fill="#e06010" stroke="#4a4a4a" stroke-width="0.45" />
<rect x="213.38" y="385.90" width="10.84" height="10.00" fill="#8e3408" stroke="#4a4a4a" stroke-width="0.45" />
<rect x="224.22" y="385.90" width="10.84" height="10.00" fill="#c14b0a" stroke="#4a4a4a" stroke-width="0.45" />
<rect x="235.06" y="385.90" width="10.84" height="10.00" fill="#c44d0c" stroke="#4a4a4a" stroke-width="0.45" />
<rect x="29.10" y="385.90" width="216.80" height="10.00" fill="none" stroke="#333" stroke-width="0.6" />
<line x1="27.50" y1="390.90" x2="29.10" y2="390.90" stroke="#333" stroke-width="0.5" />
<text stroke="#111" stroke-width="0.22" x="27.10" y="392.90" font-size="5.6" text-anchor="end" fill="#111" >N167</text>
<line x1="34.52" y1="395.90" x2="34.52" y2="397.20" stroke="#333" stroke-width="0.45" />
<text stroke="#111" stroke-width="0.22" x="34.52" y="402.20" font-size="5.6" text-anchor="middle" fill="#111" >G</text>
<line x1="45.36" y1="395.90" x2="45.36" y2="397.20" stroke="#333" stroke-width="0.45" />
<text stroke="#111" stroke-width="0.22" x="45.36" y="402.20" font-size="5.6" text-anchor="middle" fill="#111" >A</text>
<line x1="56.20" y1="395.90" x2="56.20" y2="397.20" stroke="#333" stroke-width="0.45" />
<text stroke="#111" stroke-width="0.22" x="56.20" y="402.20" font-size="5.6" text-anchor="middle" fill="#111" >S</text>
<line x1="67.04" y1="395.90" x2="67.04" y2="397.20" stroke="#333" stroke-width="0.45" />
<text stroke="#111" stroke-width="0.22" x="67.04" y="402.20" font-size="5.6" text-anchor="middle" fill="#111" >T</text>
<line x1="77.88" y1="395.90" x2="77.88" y2="397.20" stroke="#333" stroke-width="0.45" />
<text stroke="#111" stroke-width="0.22" x="77.88" y="402.20" font-size="5.6" text-anchor="middle" fill="#111" >C</text>
<line x1="88.72" y1="395.90" x2="88.72" y2="397.20" stroke="#333" stroke-width="0.45" />
<text stroke="#111" stroke-width="0.22" x="88.72" y="402.20" font-size="5.6" text-anchor="middle" fill="#111" >M</text>
<line x1="99.56" y1="395.90" x2="99.56" y2="397.20" stroke="#333" stroke-width="0.45" />
<text stroke="#111" stroke-width="0.22" x="99.56" y="402.20" font-size="5.6" text-anchor="middle" fill="#111" >I</text>
<line x1="110.40" y1="395.90" x2="110.40" y2="397.20" stroke="#333" stroke-width="0.45" />
<text stroke="#111" stroke-width="0.22" x="110.40" y="402.20" font-size="5.6" text-anchor="middle" fill="#111" >V</text>
<line x1="121.24" y1="395.90" x2="121.24" y2="397.20" stroke="#333" stroke-width="0.45" />
<text stroke="#111" stroke-width="0.22" x="121.24" y="402.20" font-size="5.6" text-anchor="middle" fill="#111" >L</text>
<line x1="132.08" y1="395.90" x2="132.08" y2="397.20" stroke="#333" stroke-width="0.45" />
<text stroke="#111" stroke-width="0.22" x="132.08" y="402.20" font-size="5.6" text-anchor="middle" fill="#111" >P</text>
<line x1="142.92" y1="395.90" x2="142.92" y2="397.20" stroke="#333" stroke-width="0.45" />
<text stroke="#111" stroke-width="0.22" x="142.92" y="402.20" font-size="5.6" text-anchor="middle" fill="#111" >F</text>
<line x1="153.76" y1="395.90" x2="153.76" y2="397.20" stroke="#333" stroke-width="0.45" />
<text stroke="#111" stroke-width="0.22" x="153.76" y="402.20" font-size="5.6" text-anchor="middle" fill="#111" >Y</text>
<line x1="164.60" y1="395.90" x2="164.60" y2="397.20" stroke="#333" stroke-width="0.45" />
<text stroke="#111" stroke-width="0.22" x="164.60" y="402.20" font-size="5.6" text-anchor="middle" fill="#111" >W</text>
<line x1="175.44" y1="395.90" x2="175.44" y2="397.20" stroke="#333" stroke-width="0.45" />
<text stroke="#111" stroke-width="0.22" x="175.44" y="402.20" font-size="5.6" text-anchor="middle" fill="#111" >H</text>
<line x1="186.28" y1="395.90" x2="186.28" y2="397.20" stroke="#333" stroke-width="0.45" />
<text stroke="#111" stroke-width="0.22" x="186.28" y="402.20" font-size="5.6" text-anchor="middle" fill="#111" >N</text>
<line x1="197.12" y1="395.90" x2="197.12" y2="397.20" stroke="#333" stroke-width="0.45" />
<text stroke="#111" stroke-width="0.22" x="197.12" y="402.20" font-size="5.6" text-anchor="middle" fill="#111" >Q</text>
<line x1="207.96" y1="395.90" x2="207.96" y2="397.20" stroke="#333" stroke-width="0.45" />
<text stroke="#111" stroke-width="0.22" x="207.96" y="402.20" font-size="5.6" text-anchor="middle" fill="#111" >D</text>
<line x1="218.80" y1="395.90" x2="218.80" y2="397.20" stroke="#333" stroke-width="0.45" />
<text stroke="#111" stroke-width="0.22" x="218.80" y="402.20" font-size="5.6" text-anchor="middle" fill="#111" >E</text>
<line x1="229.64" y1="395.90" x2="229.64" y2="397.20" stroke="#333" stroke-width="0.45" />
<text stroke="#111" stroke-width="0.22" x="229.64" y="402.20" font-size="5.6" text-anchor="middle" fill="#111" >K</text>
<line x1="240.48" y1="395.90" x2="240.48" y2="397.20" stroke="#333" stroke-width="0.45" />
<text stroke="#111" stroke-width="0.22" x="240.48" y="402.20" font-size="5.6" text-anchor="middle" fill="#111" >R</text>
<rect x="29.10" y="412.20" width="10.84" height="10.50" fill="#f9952c" stroke="#4a4a4a" stroke-width="0.45" />
<rect x="39.94" y="412.20" width="10.84" height="10.50" fill="#8a3308" stroke="#4a4a4a" stroke-width="0.45" />
<text stroke="#fff" stroke-width="0.22" x="45.36" y="419.45" font-size="5.3" text-anchor="middle" fill="#fff" font-weight="bold">16.4</text>
<rect x="50.78" y="412.20" width="10.84" height="10.50" fill="#8c3407" stroke="#4a4a4a" stroke-width="0.45" />
<text stroke="#fff" stroke-width="0.22" x="56.20" y="419.45" font-size="5.3" text-anchor="middle" fill="#fff" font-weight="bold">17.0</text>
<rect x="61.62" y="412.20" width="10.84" height="10.50" fill="#fdac3c" stroke="#4a4a4a" stroke-width="0.45" />
<rect x="72.46" y="412.20" width="10.84" height="10.50" fill="#f9a035" stroke="#4a4a4a" stroke-width="0.45" />
<rect x="83.30" y="412.20" width="10.84" height="10.50" fill="#f7962e" stroke="#4a4a4a" stroke-width="0.45" />
<rect x="94.14" y="412.20" width="10.84" height="10.50" fill="#f08a26" stroke="#4a4a4a" stroke-width="0.45" />
<rect x="104.98" y="412.20" width="10.84" height="10.50" fill="#f9982e" stroke="#4a4a4a" stroke-width="0.45" />
<rect x="115.82" y="412.20" width="10.84" height="10.50" fill="#fba23a" stroke="#4a4a4a" stroke-width="0.45" />
<rect x="126.66" y="412.20" width="10.84" height="10.50" fill="#fffade" stroke="#4a4a4a" stroke-width="0.45" />
<rect x="137.50" y="412.20" width="10.84" height="10.50" fill="#fa9a2e" stroke="#4a4a4a" stroke-width="0.45" />
<rect x="148.34" y="412.20" width="10.84" height="10.50" fill="#e66a14" stroke="#4a4a4a" stroke-width="0.45" />
<rect x="159.18" y="412.20" width="10.84" height="10.50" fill="#f99a30" stroke="#4a4a4a" stroke-width="0.45" />
<rect x="170.02" y="412.20" width="10.84" height="10.50" fill="#e8701a" stroke="#4a4a4a" stroke-width="0.45" />
<rect x="180.86" y="412.20" width="10.84" height="10.50" fill="#f08020" stroke="#4a4a4a" stroke-width="0.45" />
<rect x="191.70" y="412.20" width="10.84" height="10.50" fill="#d65a0e" stroke="#4a4a4a" stroke-width="0.45" />
<rect x="202.54" y="412.20" width="10.84" height="10.50" fill="#fdbb4a" stroke="#4a4a4a" stroke-width="0.45" />
<rect x="213.38" y="412.20" width="10.84" height="10.50" fill="#e0621a" stroke="#4a4a4a" stroke-width="0.45" />
<rect x="224.22" y="412.20" width="10.84" height="10.50" fill="#6e2a0a" stroke="#4a4a4a" stroke-width="0.45" />
<text stroke="#fff" stroke-width="0.22" x="229.64" y="419.45" font-size="5.3" text-anchor="middle" fill="#fff" font-weight="bold">18.7</text>
<rect x="235.06" y="412.20" width="10.84" height="10.50" fill="#8c3408" stroke="#4a4a4a" stroke-width="0.45" />
<text stroke="#fff" stroke-width="0.22" x="240.48" y="419.45" font-size="5.3" text-anchor="middle" fill="#fff" font-weight="bold">16.1</text>
<rect x="29.10" y="412.20" width="216.80" height="10.50" fill="none" stroke="#333" stroke-width="0.6" />
<line x1="27.50" y1="417.45" x2="29.10" y2="417.45" stroke="#333" stroke-width="0.5" />
<text stroke="#111" stroke-width="0.22" x="27.10" y="419.45" font-size="5.6" text-anchor="end" fill="#111" >R206</text>
<line x1="34.52" y1="422.70" x2="34.52" y2="424.00" stroke="#333" stroke-width="0.45" />
<text stroke="#111" stroke-width="0.22" x="34.52" y="428.90" font-size="5.6" text-anchor="middle" fill="#111" >G</text>
<line x1="45.36" y1="422.70" x2="45.36" y2="424.00" stroke="#333" stroke-width="0.45" />
<text stroke="#111" stroke-width="0.22" x="45.36" y="428.90" font-size="5.6" text-anchor="middle" fill="#111" >A</text>
<line x1="56.20" y1="422.70" x2="56.20" y2="424.00" stroke="#333" stroke-width="0.45" />
<text stroke="#111" stroke-width="0.22" x="56.20" y="428.90" font-size="5.6" text-anchor="middle" fill="#111" >S</text>
<line x1="67.04" y1="422.70" x2="67.04" y2="424.00" stroke="#333" stroke-width="0.45" />
<text stroke="#111" stroke-width="0.22" x="67.04" y="428.90" font-size="5.6" text-anchor="middle" fill="#111" >T</text>
<line x1="77.88" y1="422.70" x2="77.88" y2="424.00" stroke="#333" stroke-width="0.45" />
<text stroke="#111" stroke-width="0.22" x="77.88" y="428.90" font-size="5.6" text-anchor="middle" fill="#111" >C</text>
<line x1="88.72" y1="422.70" x2="88.72" y2="424.00" stroke="#333" stroke-width="0.45" />
<text stroke="#111" stroke-width="0.22" x="88.72" y="428.90" font-size="5.6" text-anchor="middle" fill="#111" >M</text>
<line x1="99.56" y1="422.70" x2="99.56" y2="424.00" stroke="#333" stroke-width="0.45" />
<text stroke="#111" stroke-width="0.22" x="99.56" y="428.90" font-size="5.6" text-anchor="middle" fill="#111" >I</text>
<line x1="110.40" y1="422.70" x2="110.40" y2="424.00" stroke="#333" stroke-width="0.45" />
<text stroke="#111" stroke-width="0.22" x="110.40" y="428.90" font-size="5.6" text-anchor="middle" fill="#111" >V</text>
<line x1="121.24" y1="422.70" x2="121.24" y2="424.00" stroke="#333" stroke-width="0.45" />
<text stroke="#111" stroke-width="0.22" x="121.24" y="428.90" font-size="5.6" text-anchor="middle" fill="#111" >L</text>
<line x1="132.08" y1="422.70" x2="132.08" y2="424.00" stroke="#333" stroke-width="0.45" />
<text stroke="#111" stroke-width="0.22" x="132.08" y="428.90" font-size="5.6" text-anchor="middle" fill="#111" >P</text>
<line x1="142.92" y1="422.70" x2="142.92" y2="424.00" stroke="#333" stroke-width="0.45" />
<text stroke="#111" stroke-width="0.22" x="142.92" y="428.90" font-size="5.6" text-anchor="middle" fill="#111" >F</text>
<line x1="153.76" y1="422.70" x2="153.76" y2="424.00" stroke="#333" stroke-width="0.45" />
<text stroke="#111" stroke-width="0.22" x="153.76" y="428.90" font-size="5.6" text-anchor="middle" fill="#111" >Y</text>
<line x1="164.60" y1="422.70" x2="164.60" y2="424.00" stroke="#333" stroke-width="0.45" />
<text stroke="#111" stroke-width="0.22" x="164.60" y="428.90" font-size="5.6" text-anchor="middle" fill="#111" >W</text>
<line x1="175.44" y1="422.70" x2="175.44" y2="424.00" stroke="#333" stroke-width="0.45" />
<text stroke="#111" stroke-width="0.22" x="175.44" y="428.90" font-size="5.6" text-anchor="middle" fill="#111" >H</text>
<line x1="186.28" y1="422.70" x2="186.28" y2="424.00" stroke="#333" stroke-width="0.45" />
<text stroke="#111" stroke-width="0.22" x="186.28" y="428.90" font-size="5.6" text-anchor="middle" fill="#111" >N</text>
<line x1="197.12" y1="422.70" x2="197.12" y2="424.00" stroke="#333" stroke-width="0.45" />
<text stroke="#111" stroke-width="0.22" x="197.12" y="428.90" font-size="5.6" text-anchor="middle" fill="#111" >Q</text>
<line x1="207.96" y1="422.70" x2="207.96" y2="424.00" stroke="#333" stroke-width="0.45" />
<text stroke="#111" stroke-width="0.22" x="207.96" y="428.90" font-size="5.6" text-anchor="middle" fill="#111" >D</text>
<line x1="218.80" y1="422.70" x2="218.80" y2="424.00" stroke="#333" stroke-width="0.45" />
<text stroke="#111" stroke-width="0.22" x="218.80" y="428.90" font-size="5.6" text-anchor="middle" fill="#111" >E</text>
<line x1="229.64" y1="422.70" x2="229.64" y2="424.00" stroke="#333" stroke-width="0.45" />
<text stroke="#111" stroke-width="0.22" x="229.64" y="428.90" font-size="5.6" text-anchor="middle" fill="#111" >K</text>
<line x1="240.48" y1="422.70" x2="240.48" y2="424.00" stroke="#333" stroke-width="0.45" />
<text stroke="#111" stroke-width="0.22" x="240.48" y="428.90" font-size="5.6" text-anchor="middle" fill="#111" >R</text>
<text stroke="#111" stroke-width="0.22" x="139.20" y="357.80" font-size="6.6" text-anchor="middle" fill="#111" >Relative fluorescence</text>
<text stroke="#111" stroke-width="0.22" x="137.20" y="437.00" font-size="6.6" text-anchor="middle" fill="#111" >ON/OFF ratio (10mM)</text>
<defs><linearGradient id="gg" x1="0" x2="1" y1="0" y2="0"><stop offset="0" stop-color="#f4faf4"/><stop offset="0.5" stop-color="#80c080"/><stop offset="1" stop-color="#007a0c"/></linearGradient>
<linearGradient id="og" x1="0" x2="1" y1="0" y2="0"><stop offset="0" stop-color="#ffffe0"/><stop offset="0.125" stop-color="#fff4b8"/><stop offset="0.25" stop-color="#fee08e"/><stop offset="0.375" stop-color="#fec24e"/><stop offset="0.5" stop-color="#fd9a2a"/><stop offset="0.625" stop-color="#eb7016"/><stop offset="0.75" stop-color="#cc4c04"/><stop offset="0.875" stop-color="#993406"/><stop offset="1" stop-color="#662506"/></linearGradient></defs>
<rect x="74.10" y="360.80" width="129.90" height="6.70" fill="url(#gg)" stroke="#444" stroke-width="0.4" />
<line x1="98.80" y1="367.50" x2="98.80" y2="368.80" stroke="#333" stroke-width="0.45" />
<text stroke="#111" stroke-width="0.22" x="98.80" y="374.30" font-size="5.6" text-anchor="middle" fill="#111" >0.5</text>
<line x1="126.10" y1="367.50" x2="126.10" y2="368.80" stroke="#333" stroke-width="0.45" />
<text stroke="#111" stroke-width="0.22" x="126.10" y="374.30" font-size="5.6" text-anchor="middle" fill="#111" >1.0</text>
<line x1="152.90" y1="367.50" x2="152.90" y2="368.80" stroke="#333" stroke-width="0.45" />
<text stroke="#111" stroke-width="0.22" x="152.90" y="374.30" font-size="5.6" text-anchor="middle" fill="#111" >1.5</text>
<line x1="180.20" y1="367.50" x2="180.20" y2="368.80" stroke="#333" stroke-width="0.45" />
<text stroke="#111" stroke-width="0.22" x="180.20" y="374.30" font-size="5.6" text-anchor="middle" fill="#111" >2.0</text>
<rect x="73.10" y="440.40" width="127.70" height="5.90" fill="url(#og)" stroke="#444" stroke-width="0.4" />
<line x1="76.40" y1="446.30" x2="76.40" y2="447.50" stroke="#333" stroke-width="0.45" />
<text stroke="#111" stroke-width="0.22" x="76.40" y="451.60" font-size="5.6" text-anchor="middle" fill="#111" >2.5</text>
<line x1="95.70" y1="446.30" x2="95.70" y2="447.50" stroke="#333" stroke-width="0.45" />
<text stroke="#111" stroke-width="0.22" x="95.70" y="451.60" font-size="5.6" text-anchor="middle" fill="#111" >5.0</text>
<line x1="114.70" y1="446.30" x2="114.70" y2="447.50" stroke="#333" stroke-width="0.45" />
<text stroke="#111" stroke-width="0.22" x="114.70" y="451.60" font-size="5.6" text-anchor="middle" fill="#111" >7.5</text>
<line x1="134.00" y1="446.30" x2="134.00" y2="447.50" stroke="#333" stroke-width="0.45" />
<text stroke="#111" stroke-width="0.22" x="134.00" y="451.60" font-size="5.6" text-anchor="middle" fill="#111" >10.0</text>
<line x1="153.00" y1="446.30" x2="153.00" y2="447.50" stroke="#333" stroke-width="0.45" />
<text stroke="#111" stroke-width="0.22" x="153.00" y="451.60" font-size="5.6" text-anchor="middle" fill="#111" >12.5</text>
<line x1="172.30" y1="446.30" x2="172.30" y2="447.50" stroke="#333" stroke-width="0.45" />
<text stroke="#111" stroke-width="0.22" x="172.30" y="451.60" font-size="5.6" text-anchor="middle" fill="#111" >15.0</text>
<line x1="191.40" y1="446.30" x2="191.40" y2="447.50" stroke="#333" stroke-width="0.45" />
<text stroke="#111" stroke-width="0.22" x="191.40" y="451.60" font-size="5.6" text-anchor="middle" fill="#111" >17.5</text>
<text stroke="#222" stroke-width="0.22" x="253.60" y="316.60" font-size="12.5" text-anchor="start" fill="#222" >h</text>
<line x1="270.10" y1="319.30" x2="454.00" y2="319.30" stroke="#333" stroke-width="0.8" />
<line x1="270.10" y1="319.30" x2="270.10" y2="417.90" stroke="#333" stroke-width="0.8" />
<line x1="454.00" y1="319.30" x2="454.00" y2="417.90" stroke="#333" stroke-width="0.8" />
<line x1="270.10" y1="417.90" x2="454.00" y2="417.90" stroke="#222" stroke-width="0.9" />
<line x1="268.60" y1="417.90" x2="270.10" y2="417.90" stroke="#222" stroke-width="0.6" />
<text stroke="#111" stroke-width="0.22" x="268.30" y="419.90" font-size="5.8" text-anchor="end" fill="#111" >0.0</text>
<line x1="268.60" y1="398.24" x2="270.10" y2="398.24" stroke="#222" stroke-width="0.6" />
<text stroke="#111" stroke-width="0.22" x="268.30" y="400.24" font-size="5.8" text-anchor="end" fill="#111" >0.2</text>
<line x1="268.60" y1="378.58" x2="270.10" y2="378.58" stroke="#222" stroke-width="0.6" />
<text stroke="#111" stroke-width="0.22" x="268.30" y="380.58" font-size="5.8" text-anchor="end" fill="#111" >0.4</text>
<line x1="268.60" y1="358.92" x2="270.10" y2="358.92" stroke="#222" stroke-width="0.6" />
<text stroke="#111" stroke-width="0.22" x="268.30" y="360.92" font-size="5.8" text-anchor="end" fill="#111" >0.6</text>
<line x1="268.60" y1="339.26" x2="270.10" y2="339.26" stroke="#222" stroke-width="0.6" />
<text stroke="#111" stroke-width="0.22" x="268.30" y="341.26" font-size="5.8" text-anchor="end" fill="#111" >0.8</text>
<line x1="268.60" y1="319.60" x2="270.10" y2="319.60" stroke="#222" stroke-width="0.6" />
<text stroke="#111" stroke-width="0.22" x="268.30" y="321.60" font-size="5.8" text-anchor="end" fill="#111" >1.0</text>
<line x1="454.00" y1="409.32" x2="455.50" y2="409.32" stroke="#222" stroke-width="0.6" />
<text stroke="#111" stroke-width="0.22" x="456.20" y="411.32" font-size="5.8" text-anchor="start" fill="#111" >5</text>
<line x1="454.00" y1="391.75" x2="455.50" y2="391.75" stroke="#222" stroke-width="0.6" />
<text stroke="#111" stroke-width="0.22" x="456.20" y="393.75" font-size="5.8" text-anchor="start" fill="#111" >10</text>
<line x1="454.00" y1="374.17" x2="455.50" y2="374.17" stroke="#222" stroke-width="0.6" />
<text stroke="#111" stroke-width="0.22" x="456.20" y="376.17" font-size="5.8" text-anchor="start" fill="#111" >15</text>
<line x1="454.00" y1="356.60" x2="455.50" y2="356.60" stroke="#222" stroke-width="0.6" />
<text stroke="#111" stroke-width="0.22" x="456.20" y="358.60" font-size="5.8" text-anchor="start" fill="#111" >20</text>
<line x1="454.00" y1="339.02" x2="455.50" y2="339.02" stroke="#222" stroke-width="0.6" />
<text stroke="#111" stroke-width="0.22" x="456.20" y="341.02" font-size="5.8" text-anchor="start" fill="#111" >25</text>
<line x1="454.00" y1="321.45" x2="455.50" y2="321.45" stroke="#222" stroke-width="0.6" />
<text stroke="#111" stroke-width="0.22" x="456.20" y="323.45" font-size="5.8" text-anchor="start" fill="#111" >30</text>
<text stroke="#111" stroke-width="0.22" x="258" y="362" font-size="6.0" text-anchor="middle" fill="#111" transform="rotate(-90 258 362)">FI/OD<tspan font-size="4.2" dy="1.3">600</tspan><tspan dy="-1.3"> (10×</tspan><tspan font-size="4.2" dy="-2.2">3</tspan><tspan dy="2.2"> arb. units)</tspan></text>
<text stroke="#111" stroke-width="0.22" x="468.80" y="369.80" font-size="6.2" text-anchor="middle" fill="#111" transform="rotate(-90 468.8 369.8)">Fold</text>
<rect x="279.30" y="416.00" width="6.50" height="1.90" fill="#f4d80c" stroke="#222" stroke-width="0.5" />
<rect x="286.50" y="412.20" width="7.80" height="5.70" fill="#5ba51b" stroke="#222" stroke-width="0.5" />
<circle cx="280.40" cy="414.60" r="1.25" fill="#fff" stroke="#333" stroke-width="0.4"/>
<circle cx="282.50" cy="414.60" r="1.25" fill="#fff" stroke="#333" stroke-width="0.4"/>
<circle cx="284.60" cy="414.60" r="1.25" fill="#fff" stroke="#333" stroke-width="0.4"/>
<circle cx="288.10" cy="412.60" r="1.30" fill="#fff" stroke="#333" stroke-width="0.4"/>
<circle cx="290.50" cy="413.80" r="1.30" fill="#fff" stroke="#333" stroke-width="0.4"/>
<circle cx="292.80" cy="411.80" r="1.30" fill="#fff" stroke="#333" stroke-width="0.4"/>
<circle cx="289.90" cy="411.30" r="1.30" fill="#fff" stroke="#333" stroke-width="0.4"/>
<line x1="286.80" y1="417.90" x2="286.80" y2="419.40" stroke="#222" stroke-width="0.6" />
<text stroke="#111" stroke-width="0.22" x="286.80" y="426.20" font-size="5.9" text-anchor="middle" fill="#111" transform="rotate(-15 286.80 424.00)">WT</text>
<rect x="304.60" y="416.00" width="6.50" height="1.90" fill="#f4d80c" stroke="#222" stroke-width="0.5" />
<rect x="311.80" y="404.20" width="7.80" height="13.70" fill="#5ba51b" stroke="#222" stroke-width="0.5" />
<circle cx="305.70" cy="414.60" r="1.25" fill="#fff" stroke="#333" stroke-width="0.4"/>
<circle cx="307.80" cy="414.60" r="1.25" fill="#fff" stroke="#333" stroke-width="0.4"/>
<circle cx="309.90" cy="414.60" r="1.25" fill="#fff" stroke="#333" stroke-width="0.4"/>
<circle cx="313.40" cy="404.60" r="1.30" fill="#fff" stroke="#333" stroke-width="0.4"/>
<circle cx="315.80" cy="405.80" r="1.30" fill="#fff" stroke="#333" stroke-width="0.4"/>
<circle cx="318.10" cy="403.80" r="1.30" fill="#fff" stroke="#333" stroke-width="0.4"/>
<circle cx="315.20" cy="403.30" r="1.30" fill="#fff" stroke="#333" stroke-width="0.4"/>
<line x1="312.10" y1="417.90" x2="312.10" y2="419.40" stroke="#222" stroke-width="0.6" />
<text stroke="#111" stroke-width="0.22" x="312.10" y="426.20" font-size="5.9" text-anchor="middle" fill="#111" transform="rotate(-15 312.10 424.00)">M1</text>
<rect x="329.90" y="416.00" width="6.50" height="1.90" fill="#f4d80c" stroke="#222" stroke-width="0.5" />
<rect x="337.10" y="357.60" width="7.80" height="60.30" fill="#5ba51b" stroke="#222" stroke-width="0.5" />
<circle cx="331.00" cy="414.60" r="1.25" fill="#fff" stroke="#333" stroke-width="0.4"/>
<circle cx="333.10" cy="414.60" r="1.25" fill="#fff" stroke="#333" stroke-width="0.4"/>
<circle cx="335.20" cy="414.60" r="1.25" fill="#fff" stroke="#333" stroke-width="0.4"/>
<circle cx="338.70" cy="358.00" r="1.30" fill="#fff" stroke="#333" stroke-width="0.4"/>
<circle cx="341.10" cy="359.20" r="1.30" fill="#fff" stroke="#333" stroke-width="0.4"/>
<circle cx="343.40" cy="357.20" r="1.30" fill="#fff" stroke="#333" stroke-width="0.4"/>
<circle cx="340.50" cy="356.70" r="1.30" fill="#fff" stroke="#333" stroke-width="0.4"/>
<line x1="337.40" y1="417.90" x2="337.40" y2="419.40" stroke="#222" stroke-width="0.6" />
<text stroke="#111" stroke-width="0.22" x="337.40" y="426.20" font-size="5.9" text-anchor="middle" fill="#111" transform="rotate(-15 337.40 424.00)">M2</text>
<rect x="355.20" y="416.00" width="6.50" height="1.90" fill="#f4d80c" stroke="#222" stroke-width="0.5" />
<rect x="362.40" y="364.10" width="7.80" height="53.80" fill="#5ba51b" stroke="#222" stroke-width="0.5" />
<circle cx="356.30" cy="414.60" r="1.25" fill="#fff" stroke="#333" stroke-width="0.4"/>
<circle cx="358.40" cy="414.60" r="1.25" fill="#fff" stroke="#333" stroke-width="0.4"/>
<circle cx="360.50" cy="414.60" r="1.25" fill="#fff" stroke="#333" stroke-width="0.4"/>
<circle cx="364.00" cy="364.50" r="1.30" fill="#fff" stroke="#333" stroke-width="0.4"/>
<circle cx="366.40" cy="365.70" r="1.30" fill="#fff" stroke="#333" stroke-width="0.4"/>
<circle cx="368.70" cy="363.70" r="1.30" fill="#fff" stroke="#333" stroke-width="0.4"/>
<circle cx="365.80" cy="363.20" r="1.30" fill="#fff" stroke="#333" stroke-width="0.4"/>
<line x1="362.70" y1="417.90" x2="362.70" y2="419.40" stroke="#222" stroke-width="0.6" />
<text stroke="#111" stroke-width="0.22" x="362.70" y="427.40" font-size="5.9" text-anchor="middle" fill="#111" transform="rotate(-15 362.70 425.20)">M2/N81T</text>
<rect x="380.50" y="416.00" width="6.50" height="1.90" fill="#f4d80c" stroke="#222" stroke-width="0.5" />
<rect x="387.70" y="355.50" width="7.80" height="62.40" fill="#5ba51b" stroke="#222" stroke-width="0.5" />
<circle cx="381.60" cy="414.60" r="1.25" fill="#fff" stroke="#333" stroke-width="0.4"/>
<circle cx="383.70" cy="414.60" r="1.25" fill="#fff" stroke="#333" stroke-width="0.4"/>
<circle cx="385.80" cy="414.60" r="1.25" fill="#fff" stroke="#333" stroke-width="0.4"/>
<circle cx="389.30" cy="355.90" r="1.30" fill="#fff" stroke="#333" stroke-width="0.4"/>
<circle cx="391.70" cy="357.10" r="1.30" fill="#fff" stroke="#333" stroke-width="0.4"/>
<circle cx="394.00" cy="355.10" r="1.30" fill="#fff" stroke="#333" stroke-width="0.4"/>
<circle cx="391.10" cy="354.60" r="1.30" fill="#fff" stroke="#333" stroke-width="0.4"/>
<line x1="388.00" y1="417.90" x2="388.00" y2="419.40" stroke="#222" stroke-width="0.6" />
<text stroke="#111" stroke-width="0.22" x="388.00" y="427.40" font-size="5.9" text-anchor="middle" fill="#111" transform="rotate(-15 388.00 425.20)">M2/N167A</text>
<rect x="405.80" y="416.00" width="6.50" height="1.90" fill="#f4d80c" stroke="#222" stroke-width="0.5" />
<rect x="413.00" y="348.90" width="7.80" height="69.00" fill="#5ba51b" stroke="#222" stroke-width="0.5" />
<circle cx="406.90" cy="414.60" r="1.25" fill="#fff" stroke="#333" stroke-width="0.4"/>
<circle cx="409.00" cy="414.60" r="1.25" fill="#fff" stroke="#333" stroke-width="0.4"/>
<circle cx="411.10" cy="414.60" r="1.25" fill="#fff" stroke="#333" stroke-width="0.4"/>
<circle cx="414.60" cy="349.30" r="1.30" fill="#fff" stroke="#333" stroke-width="0.4"/>
<circle cx="417.00" cy="350.50" r="1.30" fill="#fff" stroke="#333" stroke-width="0.4"/>
<circle cx="419.30" cy="348.50" r="1.30" fill="#fff" stroke="#333" stroke-width="0.4"/>
<circle cx="416.40" cy="348.00" r="1.30" fill="#fff" stroke="#333" stroke-width="0.4"/>
<line x1="413.30" y1="417.90" x2="413.30" y2="419.40" stroke="#222" stroke-width="0.6" />
<text stroke="#111" stroke-width="0.22" x="413.30" y="427.40" font-size="5.9" text-anchor="middle" fill="#111" transform="rotate(-15 413.30 425.20)">M2/R206K</text>
<rect x="431.10" y="416.00" width="6.50" height="1.90" fill="#f4d80c" stroke="#222" stroke-width="0.5" />
<rect x="438.30" y="340.00" width="7.80" height="77.90" fill="#5ba51b" stroke="#222" stroke-width="0.5" />
<circle cx="432.20" cy="414.60" r="1.25" fill="#fff" stroke="#333" stroke-width="0.4"/>
<circle cx="434.30" cy="414.60" r="1.25" fill="#fff" stroke="#333" stroke-width="0.4"/>
<circle cx="436.40" cy="414.60" r="1.25" fill="#fff" stroke="#333" stroke-width="0.4"/>
<circle cx="439.90" cy="340.40" r="1.30" fill="#fff" stroke="#333" stroke-width="0.4"/>
<circle cx="442.30" cy="341.60" r="1.30" fill="#fff" stroke="#333" stroke-width="0.4"/>
<circle cx="444.60" cy="339.60" r="1.30" fill="#fff" stroke="#333" stroke-width="0.4"/>
<circle cx="441.70" cy="339.10" r="1.30" fill="#fff" stroke="#333" stroke-width="0.4"/>
<line x1="438.60" y1="417.90" x2="438.60" y2="419.40" stroke="#222" stroke-width="0.6" />
<text stroke="#111" stroke-width="0.22" x="438.60" y="429.80" font-size="5.9" text-anchor="middle" fill="#111" transform="rotate(-15 438.60 427.60)">M2/N167A/R206K</text>
<polyline points="286.80,414.70 312.10,408.50 337.40,334.90 362.70,331.30 388.00,355.90 413.30,340.40 438.60,323.70" fill="none" stroke="#e8607a" stroke-width="0.8"/>
<circle cx="286.80" cy="414.70" r="1.60" fill="#fff" stroke="#e8607a" stroke-width="0.65"/>
<circle cx="312.10" cy="408.50" r="1.60" fill="#fff" stroke="#e8607a" stroke-width="0.65"/>
<circle cx="337.40" cy="334.90" r="1.60" fill="#fff" stroke="#e8607a" stroke-width="0.65"/>
<circle cx="362.70" cy="331.30" r="1.60" fill="#fff" stroke="#e8607a" stroke-width="0.65"/>
<circle cx="388.00" cy="355.90" r="1.60" fill="#fff" stroke="#e8607a" stroke-width="0.65"/>
<circle cx="413.30" cy="340.40" r="1.60" fill="#fff" stroke="#e8607a" stroke-width="0.65"/>
<circle cx="438.60" cy="323.70" r="1.60" fill="#fff" stroke="#e8607a" stroke-width="0.65"/>
<text stroke="#111" stroke-width="0.22" x="362.40" y="444.20" font-size="6.9" text-anchor="middle" fill="#111" >Variants</text>
<line x1="339.90" y1="321.00" x2="441.60" y2="321.00" stroke="#8a8a8a" stroke-width="0.7" />
<line x1="339.90" y1="321.00" x2="339.90" y2="322.10" stroke="#8a8a8a" stroke-width="0.6" />
<line x1="441.60" y1="321.00" x2="441.60" y2="322.10" stroke="#8a8a8a" stroke-width="0.6" />
<line x1="339.90" y1="328.40" x2="416.90" y2="328.40" stroke="#8a8a8a" stroke-width="0.7" />
<line x1="339.90" y1="328.40" x2="339.90" y2="329.50" stroke="#8a8a8a" stroke-width="0.6" />
<line x1="416.90" y1="328.40" x2="416.90" y2="329.50" stroke="#8a8a8a" stroke-width="0.6" />
<line x1="339.90" y1="340.40" x2="391.70" y2="340.40" stroke="#8a8a8a" stroke-width="0.7" />
<line x1="339.90" y1="340.40" x2="339.90" y2="341.50" stroke="#8a8a8a" stroke-width="0.6" />
<line x1="391.70" y1="340.40" x2="391.70" y2="341.50" stroke="#8a8a8a" stroke-width="0.6" />
<line x1="339.90" y1="352.70" x2="365.70" y2="352.70" stroke="#8a8a8a" stroke-width="0.7" />
<line x1="339.90" y1="352.70" x2="339.90" y2="353.80" stroke="#8a8a8a" stroke-width="0.6" />
<line x1="365.70" y1="352.70" x2="365.70" y2="353.80" stroke="#8a8a8a" stroke-width="0.6" />
<text x="397.40" y="326.20" font-size="5.5" fill="#333" stroke="#333" stroke-width="0.08"><tspan font-style="italic">P</tspan>&lt;0.0001</text>
<text x="375.50" y="334.40" font-size="5.5" fill="#333" stroke="#333" stroke-width="0.08"><tspan font-style="italic">P</tspan>=0.0004</text>
<text x="342.90" y="339.50" font-size="5.5" fill="#333" stroke="#333" stroke-width="0.08"><tspan font-style="italic">P</tspan>=0.0751</text>
<text x="341.80" y="350.50" font-size="5.5" fill="#333" stroke="#333" stroke-width="0.08"><tspan font-style="italic">P</tspan>=0.0259</text>
<rect x="275.60" y="324.50" width="12.00" height="3.90" fill="#f4d80c" stroke="#222" stroke-width="0.5" />
<rect x="275.60" y="333.00" width="12.00" height="4.20" fill="#5ba51b" stroke="#222" stroke-width="0.5" />
<line x1="275.60" y1="343.40" x2="287.60" y2="343.40" stroke="#e8607a" stroke-width="0.7" />
<circle cx="281.70" cy="343.40" r="1.40" fill="#fff" stroke="#e8607a" stroke-width="0.6"/>
<text stroke="#111" stroke-width="0.22" x="292.60" y="328.20" font-size="5.8" text-anchor="start" fill="#111" >0 mM</text>
<text stroke="#111" stroke-width="0.22" x="292.60" y="336.90" font-size="5.8" text-anchor="start" fill="#111" >2 mM</text>
<text stroke="#111" stroke-width="0.22" x="292.60" y="345.50" font-size="5.8" text-anchor="start" fill="#111" >ON/OFF ratio</text>
<text stroke="#222" stroke-width="0.22" x="482.60" y="316.20" font-size="12.5" text-anchor="start" fill="#222" >i</text>
<line x1="583.39" y1="322.20" x2="583.39" y2="427.30" stroke="#e0505a" stroke-width="0.6" stroke-dasharray="0.9,0.9"/>
<line x1="599.70" y1="322.20" x2="599.70" y2="427.30" stroke="#4cb04c" stroke-width="0.6" stroke-dasharray="0.9,0.9"/>
<line x1="617.55" y1="322.20" x2="617.55" y2="427.30" stroke="#ff9a40" stroke-width="0.6" stroke-dasharray="0.9,0.9"/>
<line x1="640.55" y1="322.20" x2="640.55" y2="427.30" stroke="#5a9ad0" stroke-width="0.6" stroke-dasharray="0.9,0.9"/>
<polyline points="492.1,420.9 493.0,420.9 493.9,420.9 494.9,420.9 495.8,420.9 496.7,420.9 497.6,420.9 498.5,420.9 499.4,420.9 500.3,420.9 501.2,420.9 502.1,420.9 503.1,420.9 504.0,420.9 504.9,420.9 505.8,420.9 506.7,420.9 507.6,420.9 508.5,420.9 509.4,420.9 510.3,420.9 511.3,420.9 512.2,420.9 513.1,420.9 514.0,420.9 514.9,420.9 515.8,420.9 516.7,420.9 517.6,420.9 518.6,420.9 519.5,420.9 520.4,420.9 521.3,420.9 522.2,420.9 523.1,420.9 524.0,420.9 524.9,420.9 525.8,420.9 526.8,420.9 527.7,420.9 528.6,420.9 529.5,420.9 530.4,420.9 531.3,420.9 532.2,420.9 533.1,420.9 534.0,420.9 535.0,420.9 535.9,420.9 536.8,420.9 537.7,420.8 538.6,420.8 539.5,420.8 540.4,420.8 541.3,420.8 542.2,420.8 543.2,420.8 544.1,420.8 545.0,420.8 545.9,420.8 546.8,420.8 547.7,420.8 548.6,420.8 549.5,420.8 550.4,420.7 551.4,420.7 552.3,420.7 553.2,420.7 554.1,420.7 555.0,420.7 555.9,420.7 556.8,420.7 557.7,420.6 558.7,420.6 559.6,420.6 560.5,420.6 561.4,420.6 562.3,420.5 563.2,420.5 564.1,420.5 565.0,420.5 565.9,420.4 566.9,420.4 567.8,420.4 568.7,420.3 569.6,420.3 570.5,420.3 571.4,420.2 572.3,420.2 573.2,420.1 574.1,420.1 575.1,420.0 576.0,420.0 576.9,419.9 577.8,419.8 578.7,419.8 579.6,419.7 580.5,419.6 581.4,419.5 582.3,419.4 583.3,419.4 584.2,419.3 585.1,419.2 586.0,419.0 586.9,418.9 587.8,418.8 588.7,418.7 589.6,418.5 590.6,418.4 591.5,418.2 592.4,418.0 593.3,417.9 594.2,417.7 595.1,417.5 596.0,417.3 596.9,417.0 597.8,416.8 598.8,416.5 599.7,416.3 600.6,416.0 601.5,415.7 602.4,415.4 603.3,415.0 604.2,414.7 605.1,414.3 606.0,413.9 607.0,413.5 607.9,413.1 608.8,412.6 609.7,412.1 610.6,411.6 611.5,411.1 612.4,410.5 613.3,409.9 614.2,409.3 615.2,408.7 616.1,408.0 617.0,407.3 617.9,406.6 618.8,405.8 619.7,405.0 620.6,404.2 621.5,403.4 622.5,402.5 623.4,401.6 624.3,400.6 625.2,399.6 626.1,398.6 627.0,397.6 627.9,396.5 628.8,395.4 629.7,394.3 630.7,393.2 631.6,392.0 632.5,390.8 633.4,389.6 634.3,388.4 635.2,387.1 636.1,385.9 637.0,384.6 637.9,383.3 638.9,382.0 639.8,380.7 640.7,379.4 641.6,378.1 642.5,376.8 643.4,375.5 644.3,374.2 645.2,373.0 646.1,371.7 647.1,370.5 648.0,369.2 648.9,368.0 649.8,366.8 650.7,365.7 651.6,364.5 652.5,363.4 653.4,362.3 654.3,361.3 655.3,360.2 656.2,359.2 657.1,358.3 658.0,357.3 658.9,356.4 659.8,355.6 660.7,354.7 661.6,353.9 662.6,353.1 663.5,352.4 664.4,351.6 665.3,351.0 666.2,350.3 667.1,349.7 668.0,349.1 668.9,348.5 669.8,347.9 670.8,347.4 671.7,346.9 672.6,346.4 673.5,346.0 674.4,345.5" fill="none" stroke="#3a86c6" stroke-width="1.3"/>
<polyline points="492.1,420.4 493.0,420.4 493.9,420.4 494.9,420.4 495.8,420.4 496.7,420.4 497.6,420.4 498.5,420.4 499.4,420.4 500.3,420.4 501.2,420.4 502.1,420.4 503.1,420.4 504.0,420.4 504.9,420.4 505.8,420.4 506.7,420.4 507.6,420.4 508.5,420.4 509.4,420.4 510.3,420.4 511.3,420.4 512.2,420.4 513.1,420.4 514.0,420.4 514.9,420.4 515.8,420.4 516.7,420.4 517.6,420.4 518.6,420.4 519.5,420.4 520.4,420.4 521.3,420.4 522.2,420.4 523.1,420.4 524.0,420.4 524.9,420.4 525.8,420.4 526.8,420.4 527.7,420.4 528.6,420.4 529.5,420.4 530.4,420.4 531.3,420.4 532.2,420.4 533.1,420.4 534.0,420.4 535.0,420.4 535.9,420.4 536.8,420.3 537.7,420.3 538.6,420.3 539.5,420.3 540.4,420.3 541.3,420.3 542.2,420.3 543.2,420.3 544.1,420.3 545.0,420.3 545.9,420.3 546.8,420.2 547.7,420.2 548.6,420.2 549.5,420.2 550.4,420.2 551.4,420.2 552.3,420.1 553.2,420.1 554.1,420.1 555.0,420.1 555.9,420.0 556.8,420.0 557.7,420.0 558.7,419.9 559.6,419.9 560.5,419.8 561.4,419.8 562.3,419.7 563.2,419.7 564.1,419.6 565.0,419.6 565.9,419.5 566.9,419.4 567.8,419.3 568.7,419.2 569.6,419.1 570.5,419.0 571.4,418.9 572.3,418.8 573.2,418.7 574.1,418.5 575.1,418.4 576.0,418.2 576.9,418.0 577.8,417.8 578.7,417.6 579.6,417.4 580.5,417.2 581.4,416.9 582.3,416.6 583.3,416.3 584.2,416.0 585.1,415.6 586.0,415.3 586.9,414.9 587.8,414.4 588.7,414.0 589.6,413.5 590.6,413.0 591.5,412.4 592.4,411.8 593.3,411.2 594.2,410.5 595.1,409.8 596.0,409.0 596.9,408.2 597.8,407.3 598.8,406.4 599.7,405.5 600.6,404.4 601.5,403.4 602.4,402.3 603.3,401.1 604.2,399.9 605.1,398.6 606.0,397.3 607.0,395.9 607.9,394.4 608.8,393.0 609.7,391.5 610.6,389.9 611.5,388.3 612.4,386.7 613.3,385.0 614.2,383.3 615.2,381.6 616.1,379.9 617.0,378.2 617.9,376.5 618.8,374.7 619.7,373.0 620.6,371.3 621.5,369.6 622.5,368.0 623.4,366.3 624.3,364.7 625.2,363.2 626.1,361.6 627.0,360.1 627.9,358.7 628.8,357.3 629.7,356.0 630.7,354.7 631.6,353.4 632.5,352.3 633.4,351.1 634.3,350.0 635.2,349.0 636.1,348.0 637.0,347.1 637.9,346.2 638.9,345.4 639.8,344.6 640.7,343.9 641.6,343.2 642.5,342.6 643.4,342.0 644.3,341.4 645.2,340.8 646.1,340.3 647.1,339.9 648.0,339.4 648.9,339.0 649.8,338.7 650.7,338.3 651.6,338.0 652.5,337.7 653.4,337.4 654.3,337.1 655.3,336.9 656.2,336.6 657.1,336.4 658.0,336.2 658.9,336.1 659.8,335.9 660.7,335.7 661.6,335.6 662.6,335.4 663.5,335.3 664.4,335.2 665.3,335.1 666.2,335.0 667.1,334.9 668.0,334.8 668.9,334.7 669.8,334.7 670.8,334.6 671.7,334.5 672.6,334.5 673.5,334.4 674.4,334.4" fill="none" stroke="#ff8a1c" stroke-width="1.3"/>
<polyline points="492.1,420.4 493.0,420.4 493.9,420.4 494.9,420.4 495.8,420.4 496.7,420.4 497.6,420.4 498.5,420.4 499.4,420.4 500.3,420.4 501.2,420.4 502.1,420.4 503.1,420.4 504.0,420.4 504.9,420.4 505.8,420.4 506.7,420.4 507.6,420.4 508.5,420.4 509.4,420.4 510.3,420.4 511.3,420.3 512.2,420.3 513.1,420.3 514.0,420.3 514.9,420.3 515.8,420.3 516.7,420.3 517.6,420.3 518.6,420.3 519.5,420.3 520.4,420.3 521.3,420.3 522.2,420.2 523.1,420.2 524.0,420.2 524.9,420.2 525.8,420.2 526.8,420.2 527.7,420.2 528.6,420.1 529.5,420.1 530.4,420.1 531.3,420.1 532.2,420.0 533.1,420.0 534.0,420.0 535.0,419.9 535.9,419.9 536.8,419.9 537.7,419.8 538.6,419.8 539.5,419.7 540.4,419.7 541.3,419.6 542.2,419.6 543.2,419.5 544.1,419.4 545.0,419.4 545.9,419.3 546.8,419.2 547.7,419.1 548.6,419.0 549.5,418.9 550.4,418.8 551.4,418.7 552.3,418.6 553.2,418.4 554.1,418.3 555.0,418.1 555.9,417.9 556.8,417.8 557.7,417.6 558.7,417.4 559.6,417.1 560.5,416.9 561.4,416.7 562.3,416.4 563.2,416.1 564.1,415.8 565.0,415.5 565.9,415.1 566.9,414.7 567.8,414.3 568.7,413.9 569.6,413.5 570.5,413.0 571.4,412.5 572.3,412.0 573.2,411.4 574.1,410.8 575.1,410.2 576.0,409.5 576.9,408.8 577.8,408.0 578.7,407.3 579.6,406.4 580.5,405.6 581.4,404.7 582.3,403.7 583.3,402.7 584.2,401.7 585.1,400.6 586.0,399.5 586.9,398.3 587.8,397.2 588.7,395.9 589.6,394.6 590.6,393.3 591.5,392.0 592.4,390.6 593.3,389.2 594.2,387.8 595.1,386.4 596.0,384.9 596.9,383.4 597.8,381.9 598.8,380.4 599.7,378.9 600.6,377.4 601.5,375.9 602.4,374.4 603.3,372.9 604.2,371.4 605.1,370.0 606.0,368.6 607.0,367.2 607.9,365.8 608.8,364.4 609.7,363.1 610.6,361.9 611.5,360.6 612.4,359.4 613.3,358.3 614.2,357.1 615.2,356.1 616.1,355.0 617.0,354.0 617.9,353.1 618.8,352.2 619.7,351.3 620.6,350.5 621.5,349.7 622.5,348.9 623.4,348.2 624.3,347.6 625.2,346.9 626.1,346.3 627.0,345.8 627.9,345.2 628.8,344.7 629.7,344.2 630.7,343.8 631.6,343.4 632.5,343.0 633.4,342.6 634.3,342.2 635.2,341.9 636.1,341.6 637.0,341.3 637.9,341.0 638.9,340.8 639.8,340.6 640.7,340.3 641.6,340.1 642.5,339.9 643.4,339.7 644.3,339.6 645.2,339.4 646.1,339.3 647.1,339.1 648.0,339.0 648.9,338.9 649.8,338.8 650.7,338.7 651.6,338.6 652.5,338.5 653.4,338.4 654.3,338.3 655.3,338.2 656.2,338.2 657.1,338.1 658.0,338.1 658.9,338.0 659.8,337.9 660.7,337.9 661.6,337.9 662.6,337.8 663.5,337.8 664.4,337.7 665.3,337.7 666.2,337.7 667.1,337.6 668.0,337.6 668.9,337.6 669.8,337.6 670.8,337.6 671.7,337.5 672.6,337.5 673.5,337.5 674.4,337.5" fill="none" stroke="#35a535" stroke-width="1.3"/>
<polyline points="492.1,420.4 493.0,420.4 493.9,420.4 494.9,420.3 495.8,420.3 496.7,420.3 497.6,420.3 498.5,420.3 499.4,420.3 500.3,420.3 501.2,420.3 502.1,420.3 503.1,420.3 504.0,420.3 504.9,420.3 505.8,420.2 506.7,420.2 507.6,420.2 508.5,420.2 509.4,420.2 510.3,420.2 511.3,420.1 512.2,420.1 513.1,420.1 514.0,420.1 514.9,420.1 515.8,420.0 516.7,420.0 517.6,420.0 518.6,419.9 519.5,419.9 520.4,419.9 521.3,419.8 522.2,419.8 523.1,419.7 524.0,419.7 524.9,419.6 525.8,419.6 526.8,419.5 527.7,419.4 528.6,419.4 529.5,419.3 530.4,419.2 531.3,419.1 532.2,419.0 533.1,418.9 534.0,418.8 535.0,418.7 535.9,418.5 536.8,418.4 537.7,418.2 538.6,418.1 539.5,417.9 540.4,417.7 541.3,417.5 542.2,417.3 543.2,417.1 544.1,416.9 545.0,416.6 545.9,416.3 546.8,416.1 547.7,415.7 548.6,415.4 549.5,415.1 550.4,414.7 551.4,414.3 552.3,413.9 553.2,413.4 554.1,412.9 555.0,412.4 555.9,411.9 556.8,411.3 557.7,410.7 558.7,410.1 559.6,409.4 560.5,408.7 561.4,407.9 562.3,407.1 563.2,406.3 564.1,405.4 565.0,404.5 565.9,403.5 566.9,402.5 567.8,401.5 568.7,400.4 569.6,399.3 570.5,398.1 571.4,396.9 572.3,395.6 573.2,394.3 574.1,393.0 575.1,391.6 576.0,390.3 576.9,388.8 577.8,387.4 578.7,385.9 579.6,384.4 580.5,382.9 581.4,381.4 582.3,379.9 583.3,378.3 584.2,376.8 585.1,375.3 586.0,373.7 586.9,372.2 587.8,370.7 588.7,369.2 589.6,367.8 590.6,366.4 591.5,365.0 592.4,363.6 593.3,362.2 594.2,360.9 595.1,359.7 596.0,358.5 596.9,357.3 597.8,356.1 598.8,355.0 599.7,354.0 600.6,353.0 601.5,352.0 602.4,351.1 603.3,350.2 604.2,349.3 605.1,348.5 606.0,347.8 607.0,347.0 607.9,346.3 608.8,345.7 609.7,345.1 610.6,344.5 611.5,343.9 612.4,343.4 613.3,342.9 614.2,342.5 615.2,342.0 616.1,341.6 617.0,341.2 617.9,340.9 618.8,340.5 619.7,340.2 620.6,339.9 621.5,339.7 622.5,339.4 623.4,339.2 624.3,338.9 625.2,338.7 626.1,338.5 627.0,338.3 627.9,338.2 628.8,338.0 629.7,337.8 630.7,337.7 631.6,337.6 632.5,337.4 633.4,337.3 634.3,337.2 635.2,337.1 636.1,337.0 637.0,336.9 637.9,336.9 638.9,336.8 639.8,336.7 640.7,336.7 641.6,336.6 642.5,336.5 643.4,336.5 644.3,336.4 645.2,336.4 646.1,336.3 647.1,336.3 648.0,336.3 648.9,336.2 649.8,336.2 650.7,336.2 651.6,336.1 652.5,336.1 653.4,336.1 654.3,336.1 655.3,336.1 656.2,336.0 657.1,336.0 658.0,336.0 658.9,336.0 659.8,336.0 660.7,336.0 661.6,335.9 662.6,335.9 663.5,335.9 664.4,335.9 665.3,335.9 666.2,335.9 667.1,335.9 668.0,335.9 668.9,335.9 669.8,335.9 670.8,335.9 671.7,335.9 672.6,335.8 673.5,335.8 674.4,335.8" fill="none" stroke="#d52a2a" stroke-width="1.3"/>
<line x1="500.80" y1="420.12" x2="500.80" y2="421.71" stroke="#3a86c6" stroke-width="0.5" />
<line x1="500.00" y1="420.12" x2="501.60" y2="420.12" stroke="#3a86c6" stroke-width="0.5" />
<line x1="500.00" y1="421.71" x2="501.60" y2="421.71" stroke="#3a86c6" stroke-width="0.5" />
<circle cx="500.80" cy="420.91" r="1.75" fill="#fff" fill-opacity="0.75" stroke="#3a86c6" stroke-width="0.55"/>
<line x1="500.80" y1="419.16" x2="500.80" y2="422.66" stroke="#3a86c6" stroke-width="0.4" />
<line x1="544.20" y1="420.12" x2="544.20" y2="421.71" stroke="#3a86c6" stroke-width="0.5" />
<line x1="543.40" y1="420.12" x2="545.00" y2="420.12" stroke="#3a86c6" stroke-width="0.5" />
<line x1="543.40" y1="421.71" x2="545.00" y2="421.71" stroke="#3a86c6" stroke-width="0.5" />
<circle cx="544.20" cy="420.91" r="1.75" fill="#fff" fill-opacity="0.75" stroke="#3a86c6" stroke-width="0.55"/>
<line x1="544.20" y1="419.16" x2="544.20" y2="422.66" stroke="#3a86c6" stroke-width="0.4" />
<line x1="551.84" y1="420.12" x2="551.84" y2="421.71" stroke="#3a86c6" stroke-width="0.5" />
<line x1="551.04" y1="420.12" x2="552.64" y2="420.12" stroke="#3a86c6" stroke-width="0.5" />
<line x1="551.04" y1="421.71" x2="552.64" y2="421.71" stroke="#3a86c6" stroke-width="0.5" />
<circle cx="551.84" cy="420.91" r="1.75" fill="#fff" fill-opacity="0.75" stroke="#3a86c6" stroke-width="0.55"/>
<line x1="551.84" y1="419.16" x2="551.84" y2="422.66" stroke="#3a86c6" stroke-width="0.4" />
<line x1="557.26" y1="419.63" x2="557.26" y2="421.21" stroke="#3a86c6" stroke-width="0.5" />
<line x1="556.46" y1="419.63" x2="558.06" y2="419.63" stroke="#3a86c6" stroke-width="0.5" />
<line x1="556.46" y1="421.21" x2="558.06" y2="421.21" stroke="#3a86c6" stroke-width="0.5" />
<circle cx="557.26" cy="420.42" r="1.75" fill="#fff" fill-opacity="0.75" stroke="#3a86c6" stroke-width="0.55"/>
<line x1="557.26" y1="418.67" x2="557.26" y2="422.17" stroke="#3a86c6" stroke-width="0.4" />
<line x1="574.54" y1="419.33" x2="574.54" y2="420.91" stroke="#3a86c6" stroke-width="0.5" />
<line x1="573.74" y1="419.33" x2="575.34" y2="419.33" stroke="#3a86c6" stroke-width="0.5" />
<line x1="573.74" y1="420.91" x2="575.34" y2="420.91" stroke="#3a86c6" stroke-width="0.5" />
<circle cx="574.54" cy="420.12" r="1.75" fill="#fff" fill-opacity="0.75" stroke="#3a86c6" stroke-width="0.55"/>
<line x1="574.54" y1="418.37" x2="574.54" y2="421.87" stroke="#3a86c6" stroke-width="0.4" />
<line x1="582.18" y1="418.24" x2="582.18" y2="419.83" stroke="#3a86c6" stroke-width="0.5" />
<line x1="581.38" y1="418.24" x2="582.98" y2="418.24" stroke="#3a86c6" stroke-width="0.5" />
<line x1="581.38" y1="419.83" x2="582.98" y2="419.83" stroke="#3a86c6" stroke-width="0.5" />
<circle cx="582.18" cy="419.03" r="1.75" fill="#fff" fill-opacity="0.75" stroke="#3a86c6" stroke-width="0.55"/>
<line x1="582.18" y1="417.28" x2="582.18" y2="420.78" stroke="#3a86c6" stroke-width="0.4" />
<line x1="587.60" y1="417.55" x2="587.60" y2="419.13" stroke="#3a86c6" stroke-width="0.5" />
<line x1="586.80" y1="417.55" x2="588.40" y2="417.55" stroke="#3a86c6" stroke-width="0.5" />
<line x1="586.80" y1="419.13" x2="588.40" y2="419.13" stroke="#3a86c6" stroke-width="0.5" />
<circle cx="587.60" cy="418.34" r="1.75" fill="#fff" fill-opacity="0.75" stroke="#3a86c6" stroke-width="0.55"/>
<line x1="587.60" y1="416.59" x2="587.60" y2="420.09" stroke="#3a86c6" stroke-width="0.4" />
<line x1="600.66" y1="413.89" x2="600.66" y2="415.47" stroke="#3a86c6" stroke-width="0.5" />
<line x1="599.86" y1="413.89" x2="601.46" y2="413.89" stroke="#3a86c6" stroke-width="0.5" />
<line x1="599.86" y1="415.47" x2="601.46" y2="415.47" stroke="#3a86c6" stroke-width="0.5" />
<circle cx="600.66" cy="414.68" r="1.75" fill="#fff" fill-opacity="0.75" stroke="#3a86c6" stroke-width="0.55"/>
<line x1="600.66" y1="412.93" x2="600.66" y2="416.43" stroke="#3a86c6" stroke-width="0.4" />
<line x1="617.94" y1="402.01" x2="617.94" y2="403.59" stroke="#3a86c6" stroke-width="0.5" />
<line x1="617.14" y1="402.01" x2="618.74" y2="402.01" stroke="#3a86c6" stroke-width="0.5" />
<line x1="617.14" y1="403.59" x2="618.74" y2="403.59" stroke="#3a86c6" stroke-width="0.5" />
<circle cx="617.94" cy="402.80" r="1.75" fill="#fff" fill-opacity="0.75" stroke="#3a86c6" stroke-width="0.55"/>
<line x1="617.94" y1="401.05" x2="617.94" y2="404.55" stroke="#3a86c6" stroke-width="0.4" />
<line x1="631.00" y1="388.05" x2="631.00" y2="389.63" stroke="#3a86c6" stroke-width="0.5" />
<line x1="630.20" y1="388.05" x2="631.80" y2="388.05" stroke="#3a86c6" stroke-width="0.5" />
<line x1="630.20" y1="389.63" x2="631.80" y2="389.63" stroke="#3a86c6" stroke-width="0.5" />
<circle cx="631.00" cy="388.84" r="1.75" fill="#fff" fill-opacity="0.75" stroke="#3a86c6" stroke-width="0.55"/>
<line x1="631.00" y1="387.09" x2="631.00" y2="390.59" stroke="#3a86c6" stroke-width="0.4" />
<line x1="661.34" y1="354.09" x2="661.34" y2="356.07" stroke="#3a86c6" stroke-width="0.5" />
<line x1="660.54" y1="354.09" x2="662.14" y2="354.09" stroke="#3a86c6" stroke-width="0.5" />
<line x1="660.54" y1="356.07" x2="662.14" y2="356.07" stroke="#3a86c6" stroke-width="0.5" />
<circle cx="661.34" cy="355.08" r="1.75" fill="#fff" fill-opacity="0.75" stroke="#3a86c6" stroke-width="0.55"/>
<line x1="661.34" y1="353.33" x2="661.34" y2="356.83" stroke="#3a86c6" stroke-width="0.4" />
<line x1="674.40" y1="347.65" x2="674.40" y2="350.62" stroke="#3a86c6" stroke-width="0.5" />
<line x1="673.60" y1="347.65" x2="675.20" y2="347.65" stroke="#3a86c6" stroke-width="0.5" />
<line x1="673.60" y1="350.62" x2="675.20" y2="350.62" stroke="#3a86c6" stroke-width="0.5" />
<circle cx="674.40" cy="349.14" r="1.75" fill="#fff" fill-opacity="0.75" stroke="#3a86c6" stroke-width="0.55"/>
<line x1="674.40" y1="347.39" x2="674.40" y2="350.89" stroke="#3a86c6" stroke-width="0.4" />
<line x1="500.80" y1="420.62" x2="500.80" y2="422.20" stroke="#ff8a1c" stroke-width="0.5" />
<line x1="500.00" y1="420.62" x2="501.60" y2="420.62" stroke="#ff8a1c" stroke-width="0.5" />
<line x1="500.00" y1="422.20" x2="501.60" y2="422.20" stroke="#ff8a1c" stroke-width="0.5" />
<circle cx="500.80" cy="421.41" r="1.75" fill="#fff" fill-opacity="0.75" stroke="#ff8a1c" stroke-width="0.55"/>
<line x1="500.80" y1="419.66" x2="500.80" y2="423.16" stroke="#ff8a1c" stroke-width="0.4" />
<line x1="544.20" y1="419.63" x2="544.20" y2="421.21" stroke="#ff8a1c" stroke-width="0.5" />
<line x1="543.40" y1="419.63" x2="545.00" y2="419.63" stroke="#ff8a1c" stroke-width="0.5" />
<line x1="543.40" y1="421.21" x2="545.00" y2="421.21" stroke="#ff8a1c" stroke-width="0.5" />
<circle cx="544.20" cy="420.42" r="1.75" fill="#fff" fill-opacity="0.75" stroke="#ff8a1c" stroke-width="0.55"/>
<line x1="544.20" y1="418.67" x2="544.20" y2="422.17" stroke="#ff8a1c" stroke-width="0.4" />
<line x1="551.84" y1="419.33" x2="551.84" y2="420.91" stroke="#ff8a1c" stroke-width="0.5" />
<line x1="551.04" y1="419.33" x2="552.64" y2="419.33" stroke="#ff8a1c" stroke-width="0.5" />
<line x1="551.04" y1="420.91" x2="552.64" y2="420.91" stroke="#ff8a1c" stroke-width="0.5" />
<circle cx="551.84" cy="420.12" r="1.75" fill="#fff" fill-opacity="0.75" stroke="#ff8a1c" stroke-width="0.55"/>
<line x1="551.84" y1="418.37" x2="551.84" y2="421.87" stroke="#ff8a1c" stroke-width="0.4" />
<line x1="557.26" y1="419.33" x2="557.26" y2="420.91" stroke="#ff8a1c" stroke-width="0.5" />
<line x1="556.46" y1="419.33" x2="558.06" y2="419.33" stroke="#ff8a1c" stroke-width="0.5" />
<line x1="556.46" y1="420.91" x2="558.06" y2="420.91" stroke="#ff8a1c" stroke-width="0.5" />
<circle cx="557.26" cy="420.12" r="1.75" fill="#fff" fill-opacity="0.75" stroke="#ff8a1c" stroke-width="0.55"/>
<line x1="557.26" y1="418.37" x2="557.26" y2="421.87" stroke="#ff8a1c" stroke-width="0.4" />
<line x1="574.54" y1="417.05" x2="574.54" y2="418.64" stroke="#ff8a1c" stroke-width="0.5" />
<line x1="573.74" y1="417.05" x2="575.34" y2="417.05" stroke="#ff8a1c" stroke-width="0.5" />
<line x1="573.74" y1="418.64" x2="575.34" y2="418.64" stroke="#ff8a1c" stroke-width="0.5" />
<circle cx="574.54" cy="417.85" r="1.75" fill="#fff" fill-opacity="0.75" stroke="#ff8a1c" stroke-width="0.55"/>
<line x1="574.54" y1="416.10" x2="574.54" y2="419.60" stroke="#ff8a1c" stroke-width="0.4" />
<line x1="582.18" y1="415.07" x2="582.18" y2="416.66" stroke="#ff8a1c" stroke-width="0.5" />
<line x1="581.38" y1="415.07" x2="582.98" y2="415.07" stroke="#ff8a1c" stroke-width="0.5" />
<line x1="581.38" y1="416.66" x2="582.98" y2="416.66" stroke="#ff8a1c" stroke-width="0.5" />
<circle cx="582.18" cy="415.87" r="1.75" fill="#fff" fill-opacity="0.75" stroke="#ff8a1c" stroke-width="0.55"/>
<line x1="582.18" y1="414.12" x2="582.18" y2="417.62" stroke="#ff8a1c" stroke-width="0.4" />
<line x1="587.60" y1="414.68" x2="587.60" y2="416.26" stroke="#ff8a1c" stroke-width="0.5" />
<line x1="586.80" y1="414.68" x2="588.40" y2="414.68" stroke="#ff8a1c" stroke-width="0.5" />
<line x1="586.80" y1="416.26" x2="588.40" y2="416.26" stroke="#ff8a1c" stroke-width="0.5" />
<circle cx="587.60" cy="415.47" r="1.75" fill="#fff" fill-opacity="0.75" stroke="#ff8a1c" stroke-width="0.55"/>
<line x1="587.60" y1="413.72" x2="587.60" y2="417.22" stroke="#ff8a1c" stroke-width="0.4" />
<line x1="600.66" y1="403.99" x2="600.66" y2="405.57" stroke="#ff8a1c" stroke-width="0.5" />
<line x1="599.86" y1="403.99" x2="601.46" y2="403.99" stroke="#ff8a1c" stroke-width="0.5" />
<line x1="599.86" y1="405.57" x2="601.46" y2="405.57" stroke="#ff8a1c" stroke-width="0.5" />
<circle cx="600.66" cy="404.78" r="1.75" fill="#fff" fill-opacity="0.75" stroke="#ff8a1c" stroke-width="0.55"/>
<line x1="600.66" y1="403.03" x2="600.66" y2="406.53" stroke="#ff8a1c" stroke-width="0.4" />
<line x1="617.94" y1="363.00" x2="617.94" y2="366.96" stroke="#ff8a1c" stroke-width="0.5" />
<line x1="617.14" y1="363.00" x2="618.74" y2="363.00" stroke="#ff8a1c" stroke-width="0.5" />
<line x1="617.14" y1="366.96" x2="618.74" y2="366.96" stroke="#ff8a1c" stroke-width="0.5" />
<circle cx="617.94" cy="364.98" r="1.75" fill="#fff" fill-opacity="0.75" stroke="#ff8a1c" stroke-width="0.55"/>
<line x1="617.94" y1="363.23" x2="617.94" y2="366.73" stroke="#ff8a1c" stroke-width="0.4" />
<line x1="631.00" y1="354.29" x2="631.00" y2="355.87" stroke="#ff8a1c" stroke-width="0.5" />
<line x1="630.20" y1="354.29" x2="631.80" y2="354.29" stroke="#ff8a1c" stroke-width="0.5" />
<line x1="630.20" y1="355.87" x2="631.80" y2="355.87" stroke="#ff8a1c" stroke-width="0.5" />
<circle cx="631.00" cy="355.08" r="1.75" fill="#fff" fill-opacity="0.75" stroke="#ff8a1c" stroke-width="0.55"/>
<line x1="631.00" y1="353.33" x2="631.00" y2="356.83" stroke="#ff8a1c" stroke-width="0.4" />
<line x1="661.34" y1="341.22" x2="661.34" y2="349.14" stroke="#ff8a1c" stroke-width="0.5" />
<line x1="660.54" y1="341.22" x2="662.14" y2="341.22" stroke="#ff8a1c" stroke-width="0.5" />
<line x1="660.54" y1="349.14" x2="662.14" y2="349.14" stroke="#ff8a1c" stroke-width="0.5" />
<circle cx="661.34" cy="345.18" r="1.75" fill="#fff" fill-opacity="0.75" stroke="#ff8a1c" stroke-width="0.55"/>
<line x1="661.34" y1="343.43" x2="661.34" y2="346.93" stroke="#ff8a1c" stroke-width="0.4" />
<line x1="674.40" y1="333.30" x2="674.40" y2="337.26" stroke="#ff8a1c" stroke-width="0.5" />
<line x1="673.60" y1="333.30" x2="675.20" y2="333.30" stroke="#ff8a1c" stroke-width="0.5" />
<line x1="673.60" y1="337.26" x2="675.20" y2="337.26" stroke="#ff8a1c" stroke-width="0.5" />
<circle cx="674.40" cy="335.28" r="1.75" fill="#fff" fill-opacity="0.75" stroke="#ff8a1c" stroke-width="0.55"/>
<line x1="674.40" y1="333.53" x2="674.40" y2="337.03" stroke="#ff8a1c" stroke-width="0.4" />
<line x1="500.80" y1="420.62" x2="500.80" y2="422.20" stroke="#35a535" stroke-width="0.5" />
<line x1="500.00" y1="420.62" x2="501.60" y2="420.62" stroke="#35a535" stroke-width="0.5" />
<line x1="500.00" y1="422.20" x2="501.60" y2="422.20" stroke="#35a535" stroke-width="0.5" />
<circle cx="500.80" cy="421.41" r="1.75" fill="#fff" fill-opacity="0.75" stroke="#35a535" stroke-width="0.55"/>
<line x1="500.80" y1="419.66" x2="500.80" y2="423.16" stroke="#35a535" stroke-width="0.4" />
<line x1="544.20" y1="418.64" x2="544.20" y2="420.22" stroke="#35a535" stroke-width="0.5" />
<line x1="543.40" y1="418.64" x2="545.00" y2="418.64" stroke="#35a535" stroke-width="0.5" />
<line x1="543.40" y1="420.22" x2="545.00" y2="420.22" stroke="#35a535" stroke-width="0.5" />
<circle cx="544.20" cy="419.43" r="1.75" fill="#fff" fill-opacity="0.75" stroke="#35a535" stroke-width="0.55"/>
<line x1="544.20" y1="417.68" x2="544.20" y2="421.18" stroke="#35a535" stroke-width="0.4" />
<line x1="551.84" y1="417.65" x2="551.84" y2="419.23" stroke="#35a535" stroke-width="0.5" />
<line x1="551.04" y1="417.65" x2="552.64" y2="417.65" stroke="#35a535" stroke-width="0.5" />
<line x1="551.04" y1="419.23" x2="552.64" y2="419.23" stroke="#35a535" stroke-width="0.5" />
<circle cx="551.84" cy="418.44" r="1.75" fill="#fff" fill-opacity="0.75" stroke="#35a535" stroke-width="0.55"/>
<line x1="551.84" y1="416.69" x2="551.84" y2="420.19" stroke="#35a535" stroke-width="0.4" />
<line x1="557.26" y1="416.66" x2="557.26" y2="418.24" stroke="#35a535" stroke-width="0.5" />
<line x1="556.46" y1="416.66" x2="558.06" y2="416.66" stroke="#35a535" stroke-width="0.5" />
<line x1="556.46" y1="418.24" x2="558.06" y2="418.24" stroke="#35a535" stroke-width="0.5" />
<circle cx="557.26" cy="417.45" r="1.75" fill="#fff" fill-opacity="0.75" stroke="#35a535" stroke-width="0.55"/>
<line x1="557.26" y1="415.70" x2="557.26" y2="419.20" stroke="#35a535" stroke-width="0.4" />
<line x1="574.54" y1="410.12" x2="574.54" y2="411.71" stroke="#35a535" stroke-width="0.5" />
<line x1="573.74" y1="410.12" x2="575.34" y2="410.12" stroke="#35a535" stroke-width="0.5" />
<line x1="573.74" y1="411.71" x2="575.34" y2="411.71" stroke="#35a535" stroke-width="0.5" />
<circle cx="574.54" cy="410.92" r="1.75" fill="#fff" fill-opacity="0.75" stroke="#35a535" stroke-width="0.55"/>
<line x1="574.54" y1="409.17" x2="574.54" y2="412.67" stroke="#35a535" stroke-width="0.4" />
<line x1="582.18" y1="403.99" x2="582.18" y2="405.57" stroke="#35a535" stroke-width="0.5" />
<line x1="581.38" y1="403.99" x2="582.98" y2="403.99" stroke="#35a535" stroke-width="0.5" />
<line x1="581.38" y1="405.57" x2="582.98" y2="405.57" stroke="#35a535" stroke-width="0.5" />
<circle cx="582.18" cy="404.78" r="1.75" fill="#fff" fill-opacity="0.75" stroke="#35a535" stroke-width="0.55"/>
<line x1="582.18" y1="403.03" x2="582.18" y2="406.53" stroke="#35a535" stroke-width="0.4" />
<line x1="587.60" y1="396.36" x2="587.60" y2="397.95" stroke="#35a535" stroke-width="0.5" />
<line x1="586.80" y1="396.36" x2="588.40" y2="396.36" stroke="#35a535" stroke-width="0.5" />
<line x1="586.80" y1="397.95" x2="588.40" y2="397.95" stroke="#35a535" stroke-width="0.5" />
<circle cx="587.60" cy="397.15" r="1.75" fill="#fff" fill-opacity="0.75" stroke="#35a535" stroke-width="0.55"/>
<line x1="587.60" y1="395.40" x2="587.60" y2="398.90" stroke="#35a535" stroke-width="0.4" />
<line x1="600.66" y1="369.14" x2="600.66" y2="370.72" stroke="#35a535" stroke-width="0.5" />
<line x1="599.86" y1="369.14" x2="601.46" y2="369.14" stroke="#35a535" stroke-width="0.5" />
<line x1="599.86" y1="370.72" x2="601.46" y2="370.72" stroke="#35a535" stroke-width="0.5" />
<circle cx="600.66" cy="369.93" r="1.75" fill="#fff" fill-opacity="0.75" stroke="#35a535" stroke-width="0.55"/>
<line x1="600.66" y1="368.18" x2="600.66" y2="371.68" stroke="#35a535" stroke-width="0.4" />
<line x1="617.94" y1="354.09" x2="617.94" y2="360.03" stroke="#35a535" stroke-width="0.5" />
<line x1="617.14" y1="354.09" x2="618.74" y2="354.09" stroke="#35a535" stroke-width="0.5" />
<line x1="617.14" y1="360.03" x2="618.74" y2="360.03" stroke="#35a535" stroke-width="0.5" />
<circle cx="617.94" cy="357.06" r="1.75" fill="#fff" fill-opacity="0.75" stroke="#35a535" stroke-width="0.55"/>
<line x1="617.94" y1="355.31" x2="617.94" y2="358.81" stroke="#35a535" stroke-width="0.4" />
<line x1="631.00" y1="341.22" x2="631.00" y2="347.16" stroke="#35a535" stroke-width="0.5" />
<line x1="630.20" y1="341.22" x2="631.80" y2="341.22" stroke="#35a535" stroke-width="0.5" />
<line x1="630.20" y1="347.16" x2="631.80" y2="347.16" stroke="#35a535" stroke-width="0.5" />
<circle cx="631.00" cy="344.19" r="1.75" fill="#fff" fill-opacity="0.75" stroke="#35a535" stroke-width="0.55"/>
<line x1="631.00" y1="342.44" x2="631.00" y2="345.94" stroke="#35a535" stroke-width="0.4" />
<line x1="661.34" y1="337.46" x2="661.34" y2="339.04" stroke="#35a535" stroke-width="0.5" />
<line x1="660.54" y1="337.46" x2="662.14" y2="337.46" stroke="#35a535" stroke-width="0.5" />
<line x1="660.54" y1="339.04" x2="662.14" y2="339.04" stroke="#35a535" stroke-width="0.5" />
<circle cx="661.34" cy="338.25" r="1.75" fill="#fff" fill-opacity="0.75" stroke="#35a535" stroke-width="0.55"/>
<line x1="661.34" y1="336.50" x2="661.34" y2="340.00" stroke="#35a535" stroke-width="0.4" />
<line x1="674.40" y1="335.77" x2="674.40" y2="340.73" stroke="#35a535" stroke-width="0.5" />
<line x1="673.60" y1="335.77" x2="675.20" y2="335.77" stroke="#35a535" stroke-width="0.5" />
<line x1="673.60" y1="340.73" x2="675.20" y2="340.73" stroke="#35a535" stroke-width="0.5" />
<circle cx="674.40" cy="338.25" r="1.75" fill="#fff" fill-opacity="0.75" stroke="#35a535" stroke-width="0.55"/>
<line x1="674.40" y1="336.50" x2="674.40" y2="340.00" stroke="#35a535" stroke-width="0.4" />
<line x1="500.80" y1="419.63" x2="500.80" y2="421.21" stroke="#d52a2a" stroke-width="0.5" />
<line x1="500.00" y1="419.63" x2="501.60" y2="419.63" stroke="#d52a2a" stroke-width="0.5" />
<line x1="500.00" y1="421.21" x2="501.60" y2="421.21" stroke="#d52a2a" stroke-width="0.5" />
<circle cx="500.80" cy="420.42" r="1.75" fill="#fff" fill-opacity="0.75" stroke="#d52a2a" stroke-width="0.55"/>
<line x1="500.80" y1="418.67" x2="500.80" y2="422.17" stroke="#d52a2a" stroke-width="0.4" />
<line x1="544.20" y1="414.68" x2="544.20" y2="416.26" stroke="#d52a2a" stroke-width="0.5" />
<line x1="543.40" y1="414.68" x2="545.00" y2="414.68" stroke="#d52a2a" stroke-width="0.5" />
<line x1="543.40" y1="416.26" x2="545.00" y2="416.26" stroke="#d52a2a" stroke-width="0.5" />
<circle cx="544.20" cy="415.47" r="1.75" fill="#fff" fill-opacity="0.75" stroke="#d52a2a" stroke-width="0.55"/>
<line x1="544.20" y1="413.72" x2="544.20" y2="417.22" stroke="#d52a2a" stroke-width="0.4" />
<line x1="551.84" y1="411.91" x2="551.84" y2="413.49" stroke="#d52a2a" stroke-width="0.5" />
<line x1="551.04" y1="411.91" x2="552.64" y2="411.91" stroke="#d52a2a" stroke-width="0.5" />
<line x1="551.04" y1="413.49" x2="552.64" y2="413.49" stroke="#d52a2a" stroke-width="0.5" />
<circle cx="551.84" cy="412.70" r="1.75" fill="#fff" fill-opacity="0.75" stroke="#d52a2a" stroke-width="0.55"/>
<line x1="551.84" y1="410.95" x2="551.84" y2="414.45" stroke="#d52a2a" stroke-width="0.4" />
<line x1="557.26" y1="408.54" x2="557.26" y2="410.12" stroke="#d52a2a" stroke-width="0.5" />
<line x1="556.46" y1="408.54" x2="558.06" y2="408.54" stroke="#d52a2a" stroke-width="0.5" />
<line x1="556.46" y1="410.12" x2="558.06" y2="410.12" stroke="#d52a2a" stroke-width="0.5" />
<circle cx="557.26" cy="409.33" r="1.75" fill="#fff" fill-opacity="0.75" stroke="#d52a2a" stroke-width="0.55"/>
<line x1="557.26" y1="407.58" x2="557.26" y2="411.08" stroke="#d52a2a" stroke-width="0.4" />
<line x1="574.54" y1="391.91" x2="574.54" y2="393.49" stroke="#d52a2a" stroke-width="0.5" />
<line x1="573.74" y1="391.91" x2="575.34" y2="391.91" stroke="#d52a2a" stroke-width="0.5" />
<line x1="573.74" y1="393.49" x2="575.34" y2="393.49" stroke="#d52a2a" stroke-width="0.5" />
<circle cx="574.54" cy="392.70" r="1.75" fill="#fff" fill-opacity="0.75" stroke="#d52a2a" stroke-width="0.55"/>
<line x1="574.54" y1="390.95" x2="574.54" y2="394.45" stroke="#d52a2a" stroke-width="0.4" />
<line x1="582.18" y1="383.39" x2="582.18" y2="384.98" stroke="#d52a2a" stroke-width="0.5" />
<line x1="581.38" y1="383.39" x2="582.98" y2="383.39" stroke="#d52a2a" stroke-width="0.5" />
<line x1="581.38" y1="384.98" x2="582.98" y2="384.98" stroke="#d52a2a" stroke-width="0.5" />
<circle cx="582.18" cy="384.19" r="1.75" fill="#fff" fill-opacity="0.75" stroke="#d52a2a" stroke-width="0.55"/>
<line x1="582.18" y1="382.44" x2="582.18" y2="385.94" stroke="#d52a2a" stroke-width="0.4" />
<line x1="587.60" y1="373.10" x2="587.60" y2="374.68" stroke="#d52a2a" stroke-width="0.5" />
<line x1="586.80" y1="373.10" x2="588.40" y2="373.10" stroke="#d52a2a" stroke-width="0.5" />
<line x1="586.80" y1="374.68" x2="588.40" y2="374.68" stroke="#d52a2a" stroke-width="0.5" />
<circle cx="587.60" cy="373.89" r="1.75" fill="#fff" fill-opacity="0.75" stroke="#d52a2a" stroke-width="0.55"/>
<line x1="587.60" y1="372.14" x2="587.60" y2="375.64" stroke="#d52a2a" stroke-width="0.4" />
<line x1="600.66" y1="347.16" x2="600.66" y2="349.14" stroke="#d52a2a" stroke-width="0.5" />
<line x1="599.86" y1="347.16" x2="601.46" y2="347.16" stroke="#d52a2a" stroke-width="0.5" />
<line x1="599.86" y1="349.14" x2="601.46" y2="349.14" stroke="#d52a2a" stroke-width="0.5" />
<circle cx="600.66" cy="348.15" r="1.75" fill="#fff" fill-opacity="0.75" stroke="#d52a2a" stroke-width="0.55"/>
<line x1="600.66" y1="346.40" x2="600.66" y2="349.90" stroke="#d52a2a" stroke-width="0.4" />
<line x1="617.94" y1="342.41" x2="617.94" y2="343.99" stroke="#d52a2a" stroke-width="0.5" />
<line x1="617.14" y1="342.41" x2="618.74" y2="342.41" stroke="#d52a2a" stroke-width="0.5" />
<line x1="617.14" y1="343.99" x2="618.74" y2="343.99" stroke="#d52a2a" stroke-width="0.5" />
<circle cx="617.94" cy="343.20" r="1.75" fill="#fff" fill-opacity="0.75" stroke="#d52a2a" stroke-width="0.55"/>
<line x1="617.94" y1="341.45" x2="617.94" y2="344.95" stroke="#d52a2a" stroke-width="0.4" />
<line x1="631.00" y1="341.42" x2="631.00" y2="343.00" stroke="#d52a2a" stroke-width="0.5" />
<line x1="630.20" y1="341.42" x2="631.80" y2="341.42" stroke="#d52a2a" stroke-width="0.5" />
<line x1="630.20" y1="343.00" x2="631.80" y2="343.00" stroke="#d52a2a" stroke-width="0.5" />
<circle cx="631.00" cy="342.21" r="1.75" fill="#fff" fill-opacity="0.75" stroke="#d52a2a" stroke-width="0.55"/>
<line x1="631.00" y1="340.46" x2="631.00" y2="343.96" stroke="#d52a2a" stroke-width="0.4" />
<line x1="661.34" y1="338.45" x2="661.34" y2="340.03" stroke="#d52a2a" stroke-width="0.5" />
<line x1="660.54" y1="338.45" x2="662.14" y2="338.45" stroke="#d52a2a" stroke-width="0.5" />
<line x1="660.54" y1="340.03" x2="662.14" y2="340.03" stroke="#d52a2a" stroke-width="0.5" />
<circle cx="661.34" cy="339.24" r="1.75" fill="#fff" fill-opacity="0.75" stroke="#d52a2a" stroke-width="0.55"/>
<line x1="661.34" y1="337.49" x2="661.34" y2="340.99" stroke="#d52a2a" stroke-width="0.4" />
<line x1="674.40" y1="332.31" x2="674.40" y2="338.25" stroke="#d52a2a" stroke-width="0.5" />
<line x1="673.60" y1="332.31" x2="675.20" y2="332.31" stroke="#d52a2a" stroke-width="0.5" />
<line x1="673.60" y1="338.25" x2="675.20" y2="338.25" stroke="#d52a2a" stroke-width="0.5" />
<circle cx="674.40" cy="335.28" r="1.75" fill="#fff" fill-opacity="0.75" stroke="#d52a2a" stroke-width="0.55"/>
<line x1="674.40" y1="333.53" x2="674.40" y2="337.03" stroke="#d52a2a" stroke-width="0.4" />
<rect x="492.2" y="319.2" width="188.8" height="108.1" fill="none" stroke="#333" stroke-width="0.8"/>
<line x1="490.70" y1="422.40" x2="492.20" y2="422.40" stroke="#222" stroke-width="0.6" />
<text stroke="#111" stroke-width="0.22" x="490.20" y="424.40" font-size="5.8" text-anchor="end" fill="#111" >0.0</text>
<line x1="490.70" y1="402.60" x2="492.20" y2="402.60" stroke="#222" stroke-width="0.6" />
<text stroke="#111" stroke-width="0.22" x="490.20" y="404.60" font-size="5.8" text-anchor="end" fill="#111" >0.2</text>
<line x1="490.70" y1="382.80" x2="492.20" y2="382.80" stroke="#222" stroke-width="0.6" />
<text stroke="#111" stroke-width="0.22" x="490.20" y="384.80" font-size="5.8" text-anchor="end" fill="#111" >0.4</text>
<line x1="490.70" y1="363.00" x2="492.20" y2="363.00" stroke="#222" stroke-width="0.6" />
<text stroke="#111" stroke-width="0.22" x="490.20" y="365.00" font-size="5.8" text-anchor="end" fill="#111" >0.6</text>
<line x1="490.70" y1="343.20" x2="492.20" y2="343.20" stroke="#222" stroke-width="0.6" />
<text stroke="#111" stroke-width="0.22" x="490.20" y="345.20" font-size="5.8" text-anchor="end" fill="#111" >0.8</text>
<line x1="490.70" y1="323.40" x2="492.20" y2="323.40" stroke="#222" stroke-width="0.6" />
<text stroke="#111" stroke-width="0.22" x="490.20" y="325.40" font-size="5.8" text-anchor="end" fill="#111" >1.0</text>
<line x1="500.80" y1="427.30" x2="500.80" y2="429.10" stroke="#222" stroke-width="0.6" />
<text stroke="#111" stroke-width="0.22" x="499.6" y="436.6" font-size="6.0" text-anchor="middle" fill="#111">10</text>
<text stroke="#111" stroke-width="0.22" x="503.2" y="432.4" font-size="4.3" text-anchor="start" fill="#111">−2</text>
<line x1="513.86" y1="427.30" x2="513.86" y2="428.30" stroke="#222" stroke-width="0.4" />
<line x1="521.51" y1="427.30" x2="521.51" y2="428.30" stroke="#222" stroke-width="0.4" />
<line x1="526.93" y1="427.30" x2="526.93" y2="428.30" stroke="#222" stroke-width="0.4" />
<line x1="531.14" y1="427.30" x2="531.14" y2="428.30" stroke="#222" stroke-width="0.4" />
<line x1="534.57" y1="427.30" x2="534.57" y2="428.30" stroke="#222" stroke-width="0.4" />
<line x1="537.48" y1="427.30" x2="537.48" y2="428.30" stroke="#222" stroke-width="0.4" />
<line x1="539.99" y1="427.30" x2="539.99" y2="428.30" stroke="#222" stroke-width="0.4" />
<line x1="542.21" y1="427.30" x2="542.21" y2="428.30" stroke="#222" stroke-width="0.4" />
<line x1="544.20" y1="427.30" x2="544.20" y2="429.10" stroke="#222" stroke-width="0.6" />
<text stroke="#111" stroke-width="0.22" x="543.0" y="436.6" font-size="6.0" text-anchor="middle" fill="#111">10</text>
<text stroke="#111" stroke-width="0.22" x="546.6" y="432.4" font-size="4.3" text-anchor="start" fill="#111">−1</text>
<line x1="557.26" y1="427.30" x2="557.26" y2="428.30" stroke="#222" stroke-width="0.4" />
<line x1="564.91" y1="427.30" x2="564.91" y2="428.30" stroke="#222" stroke-width="0.4" />
<line x1="570.33" y1="427.30" x2="570.33" y2="428.30" stroke="#222" stroke-width="0.4" />
<line x1="574.54" y1="427.30" x2="574.54" y2="428.30" stroke="#222" stroke-width="0.4" />
<line x1="577.97" y1="427.30" x2="577.97" y2="428.30" stroke="#222" stroke-width="0.4" />
<line x1="580.88" y1="427.30" x2="580.88" y2="428.30" stroke="#222" stroke-width="0.4" />
<line x1="583.39" y1="427.30" x2="583.39" y2="428.30" stroke="#222" stroke-width="0.4" />
<line x1="585.61" y1="427.30" x2="585.61" y2="428.30" stroke="#222" stroke-width="0.4" />
<line x1="587.60" y1="427.30" x2="587.60" y2="429.10" stroke="#222" stroke-width="0.6" />
<text stroke="#111" stroke-width="0.22" x="586.4" y="436.6" font-size="6.0" text-anchor="middle" fill="#111">10</text>
<text stroke="#111" stroke-width="0.22" x="590.0" y="432.4" font-size="4.3" text-anchor="start" fill="#111">0</text>
<line x1="600.66" y1="427.30" x2="600.66" y2="428.30" stroke="#222" stroke-width="0.4" />
<line x1="608.31" y1="427.30" x2="608.31" y2="428.30" stroke="#222" stroke-width="0.4" />
<line x1="613.73" y1="427.30" x2="613.73" y2="428.30" stroke="#222" stroke-width="0.4" />
<line x1="617.94" y1="427.30" x2="617.94" y2="428.30" stroke="#222" stroke-width="0.4" />
<line x1="621.37" y1="427.30" x2="621.37" y2="428.30" stroke="#222" stroke-width="0.4" />
<line x1="624.28" y1="427.30" x2="624.28" y2="428.30" stroke="#222" stroke-width="0.4" />
<line x1="626.79" y1="427.30" x2="626.79" y2="428.30" stroke="#222" stroke-width="0.4" />
<line x1="629.01" y1="427.30" x2="629.01" y2="428.30" stroke="#222" stroke-width="0.4" />
<line x1="631.00" y1="427.30" x2="631.00" y2="429.10" stroke="#222" stroke-width="0.6" />
<text stroke="#111" stroke-width="0.22" x="629.8" y="436.6" font-size="6.0" text-anchor="middle" fill="#111">10</text>
<text stroke="#111" stroke-width="0.22" x="633.4" y="432.4" font-size="4.3" text-anchor="start" fill="#111">1</text>
<line x1="644.06" y1="427.30" x2="644.06" y2="428.30" stroke="#222" stroke-width="0.4" />
<line x1="651.71" y1="427.30" x2="651.71" y2="428.30" stroke="#222" stroke-width="0.4" />
<line x1="657.13" y1="427.30" x2="657.13" y2="428.30" stroke="#222" stroke-width="0.4" />
<line x1="661.34" y1="427.30" x2="661.34" y2="428.30" stroke="#222" stroke-width="0.4" />
<line x1="664.77" y1="427.30" x2="664.77" y2="428.30" stroke="#222" stroke-width="0.4" />
<line x1="667.68" y1="427.30" x2="667.68" y2="428.30" stroke="#222" stroke-width="0.4" />
<line x1="670.19" y1="427.30" x2="670.19" y2="428.30" stroke="#222" stroke-width="0.4" />
<line x1="672.41" y1="427.30" x2="672.41" y2="428.30" stroke="#222" stroke-width="0.4" />
<line x1="674.40" y1="427.30" x2="674.40" y2="429.10" stroke="#222" stroke-width="0.6" />
<text stroke="#111" stroke-width="0.22" x="673.2" y="436.6" font-size="6.0" text-anchor="middle" fill="#111">10</text>
<text stroke="#111" stroke-width="0.22" x="676.8" y="432.4" font-size="4.3" text-anchor="start" fill="#111">2</text>
<line x1="494.08" y1="427.30" x2="494.08" y2="428.30" stroke="#222" stroke-width="0.4" />
<line x1="496.59" y1="427.30" x2="496.59" y2="428.30" stroke="#222" stroke-width="0.4" />
<line x1="498.81" y1="427.30" x2="498.81" y2="428.30" stroke="#222" stroke-width="0.4" />
<text stroke="#111" stroke-width="0.22" x="585.90" y="444.80" font-size="6.75" text-anchor="middle" fill="#111" >Allulose concentration (mM)</text>
<text stroke="#111" stroke-width="0.22" x="477" y="372.5" font-size="5.9" text-anchor="middle" fill="#111" transform="rotate(-90 477 372.5)">FI/OD<tspan font-size="4.1" dy="1.2">600</tspan><tspan dy="-1.2"> (×10</tspan><tspan font-size="4.1" dy="-2">3</tspan><tspan dy="2"> arb. units)</tspan></text>
<line x1="497.60" y1="326.40" x2="511.50" y2="326.40" stroke="#3a86c6" stroke-width="1.3" />
<text stroke="#111" stroke-width="0.22" x="515.30" y="328.50" font-size="6.0" text-anchor="start" fill="#111" >WT</text>
<line x1="497.60" y1="335.30" x2="511.50" y2="335.30" stroke="#ff8a1c" stroke-width="1.3" />
<text stroke="#111" stroke-width="0.22" x="515.30" y="337.40" font-size="6.0" text-anchor="start" fill="#111" >M1</text>
<line x1="497.60" y1="344.10" x2="511.50" y2="344.10" stroke="#35a535" stroke-width="1.3" />
<text stroke="#111" stroke-width="0.22" x="515.30" y="346.20" font-size="6.0" text-anchor="start" fill="#111" >M2</text>
<line x1="497.60" y1="353.50" x2="511.50" y2="353.50" stroke="#d52a2a" stroke-width="1.3" />
<text stroke="#111" stroke-width="0.22" x="515.30" y="355.60" font-size="6.0" text-anchor="start" fill="#111" >M4</text>
<text stroke="#d83a3a" stroke-width="0.22" x="580.60" y="327.90" font-size="5.9" text-anchor="end" fill="#d83a3a" >0.8 mM</text>
<text stroke="#3aa53a" stroke-width="0.22" x="590.10" y="327.60" font-size="5.9" text-anchor="start" fill="#3aa53a" >1.9 mM</text>
<text stroke="#ff8a1c" stroke-width="0.22" x="618.00" y="415.80" font-size="5.9" text-anchor="start" fill="#ff8a1c" >4.9 mM</text>
<text stroke="#3a86c6" stroke-width="0.22" x="640.40" y="415.80" font-size="5.9" text-anchor="start" fill="#3a86c6" >16.6 mM</text>
</svg>
</body></html>
